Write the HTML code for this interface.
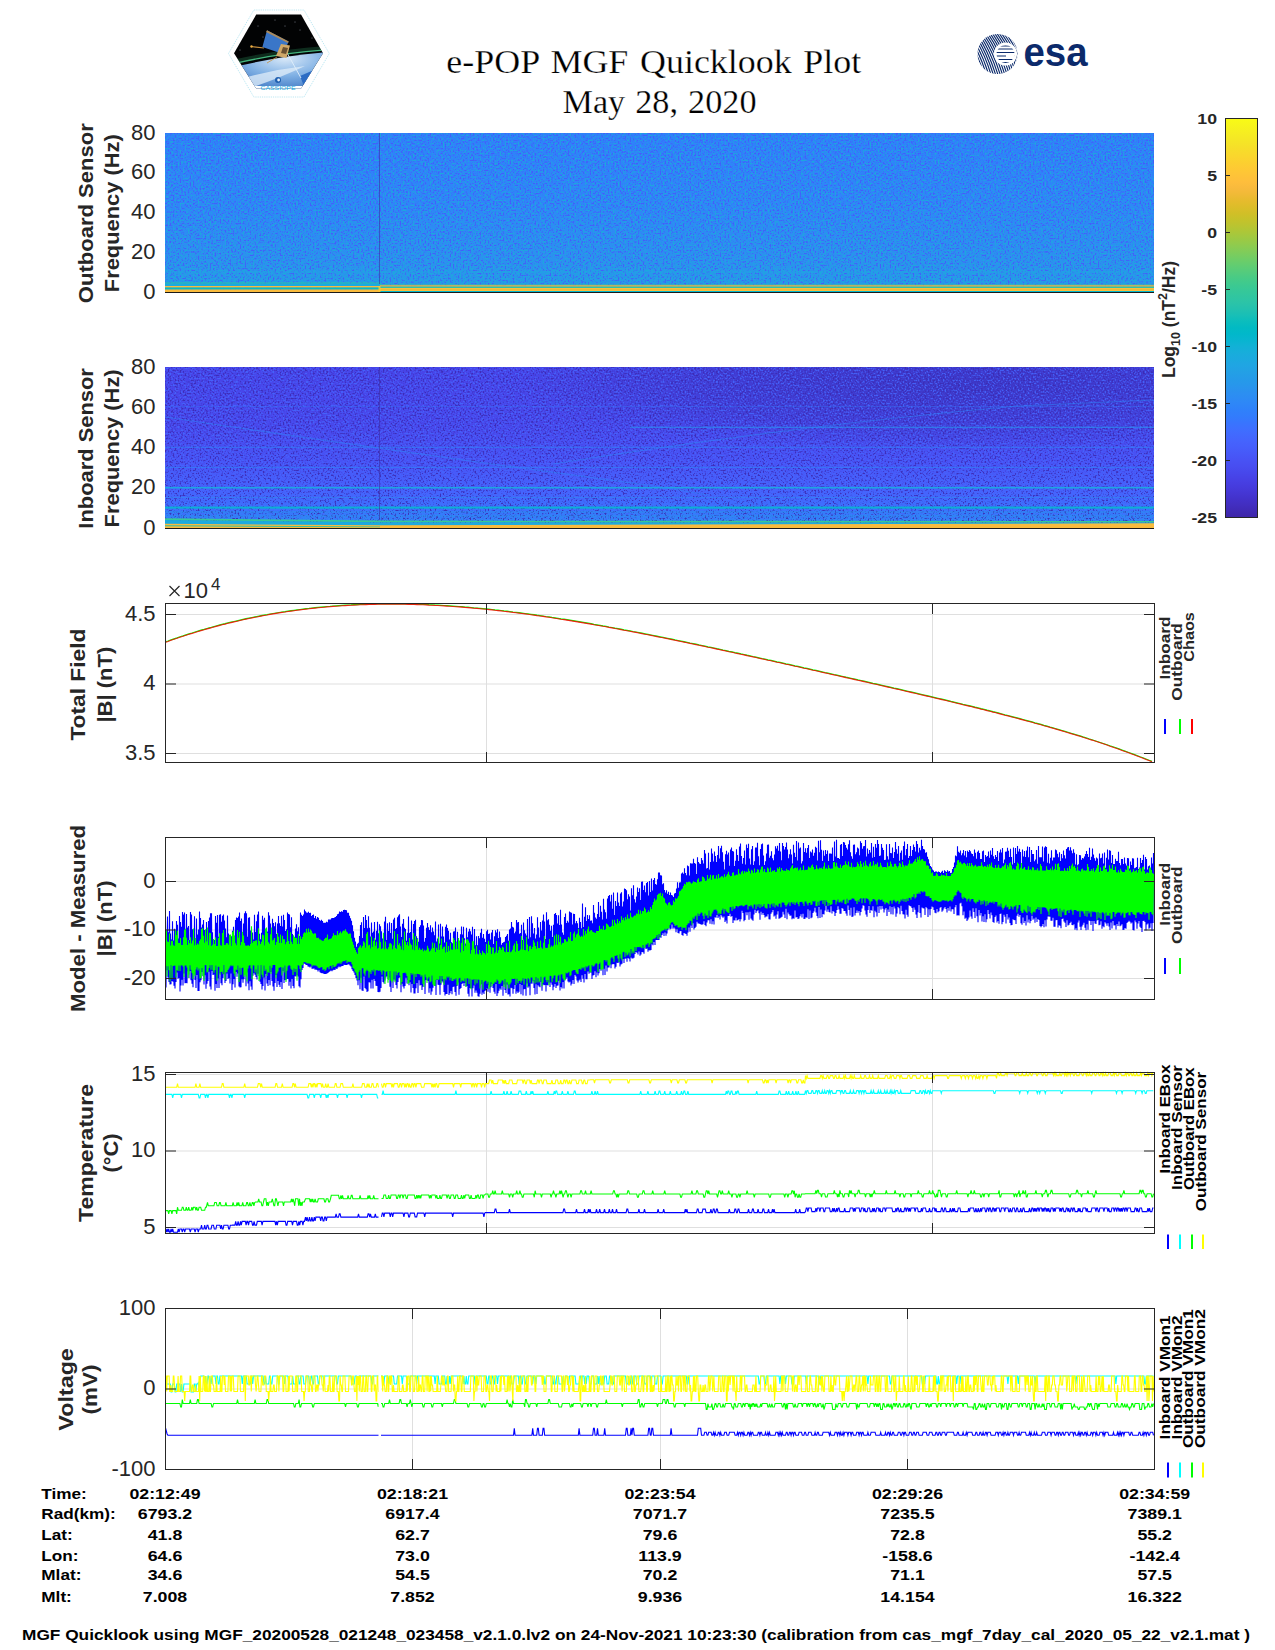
<!DOCTYPE html><html><head><meta charset="utf-8"><style>html,body{margin:0;padding:0;background:#fff;overflow:hidden;width:1275px;height:1650px;}svg{display:block}</style></head><body>
<svg width="1275" height="1650" viewBox="0 0 1275 1650">
<rect x="0" y="0" width="1275" height="1650" fill="#ffffff"/>
<defs>
<linearGradient id="cbar" x1="0" y1="0" x2="0" y2="1"><stop offset="0.0000" stop-color="#f9fb15"/><stop offset="0.0159" stop-color="#f7f51b"/><stop offset="0.0317" stop-color="#f6ef20"/><stop offset="0.0476" stop-color="#f5e924"/><stop offset="0.0635" stop-color="#f5e327"/><stop offset="0.0794" stop-color="#f7dc2a"/><stop offset="0.0952" stop-color="#fad62d"/><stop offset="0.1111" stop-color="#fccf30"/><stop offset="0.1270" stop-color="#fec934"/><stop offset="0.1429" stop-color="#fec338"/><stop offset="0.1587" stop-color="#febe3c"/><stop offset="0.1746" stop-color="#f8ba3d"/><stop offset="0.1905" stop-color="#f0ba36"/><stop offset="0.2063" stop-color="#e6bb2d"/><stop offset="0.2222" stop-color="#dcbd29"/><stop offset="0.2381" stop-color="#d1bf27"/><stop offset="0.2540" stop-color="#c5c22a"/><stop offset="0.2698" stop-color="#b9c431"/><stop offset="0.2857" stop-color="#abc739"/><stop offset="0.3016" stop-color="#9dc943"/><stop offset="0.3175" stop-color="#8fcb4e"/><stop offset="0.3333" stop-color="#81cc59"/><stop offset="0.3492" stop-color="#72cd64"/><stop offset="0.3651" stop-color="#64cd6f"/><stop offset="0.3810" stop-color="#57cc7a"/><stop offset="0.3968" stop-color="#4acb84"/><stop offset="0.4127" stop-color="#3fca8e"/><stop offset="0.4286" stop-color="#37c897"/><stop offset="0.4444" stop-color="#31c69f"/><stop offset="0.4603" stop-color="#2cc4a7"/><stop offset="0.4762" stop-color="#24c1ae"/><stop offset="0.4921" stop-color="#19bfb6"/><stop offset="0.5079" stop-color="#0bbdbd"/><stop offset="0.5238" stop-color="#02bac3"/><stop offset="0.5397" stop-color="#01b8ca"/><stop offset="0.5556" stop-color="#08b5d0"/><stop offset="0.5714" stop-color="#12b1d6"/><stop offset="0.5873" stop-color="#18addb"/><stop offset="0.6032" stop-color="#1ca9df"/><stop offset="0.6190" stop-color="#20a5e3"/><stop offset="0.6349" stop-color="#23a0e5"/><stop offset="0.6508" stop-color="#259be8"/><stop offset="0.6667" stop-color="#2797eb"/><stop offset="0.6825" stop-color="#2b91ef"/><stop offset="0.6984" stop-color="#2d8cf3"/><stop offset="0.7143" stop-color="#2e87f7"/><stop offset="0.7302" stop-color="#2f81fa"/><stop offset="0.7460" stop-color="#327cfc"/><stop offset="0.7619" stop-color="#3875fe"/><stop offset="0.7778" stop-color="#3e6fff"/><stop offset="0.7937" stop-color="#4269fe"/><stop offset="0.8095" stop-color="#4563fd"/><stop offset="0.8254" stop-color="#465efb"/><stop offset="0.8413" stop-color="#4758f8"/><stop offset="0.8571" stop-color="#4852f4"/><stop offset="0.8730" stop-color="#484df0"/><stop offset="0.8889" stop-color="#4747eb"/><stop offset="0.9048" stop-color="#4741e5"/><stop offset="0.9206" stop-color="#463cde"/><stop offset="0.9365" stop-color="#4537d5"/><stop offset="0.9524" stop-color="#4332cb"/><stop offset="0.9683" stop-color="#422ec0"/><stop offset="0.9841" stop-color="#402ab4"/><stop offset="1.0000" stop-color="#3e26a8"/></linearGradient>
</defs>
<text x="653.80" y="73.20" font-size="33.5" font-weight="normal" text-anchor="middle" fill="#000" font-family='"Liberation Serif", serif' textLength="415" lengthAdjust="spacingAndGlyphs" word-spacing="2.5" stroke="#fff" stroke-width="0.25">e-POP MGF Quicklook Plot</text>
<text x="659.50" y="112.50" font-size="33.5" font-weight="normal" text-anchor="middle" fill="#000" font-family='"Liberation Serif", serif' textLength="194" lengthAdjust="spacingAndGlyphs" word-spacing="1.5" stroke="#fff" stroke-width="0.25">May 28, 2020</text>
<polygon points="228.5,53.5 253.8,10 304,10 329.3,53.5 304,97 253.8,97" fill="#fff" stroke="#b4e4f0" stroke-width="0.9" stroke-dasharray="1.2,1"/>
<clipPath id="hexclip"><polygon points="234,53.3 256.2,14.6 301,14.6 323,53.3 301,88.5 256.2,88.5"/></clipPath>
<radialGradient id="earthg" cx="0.55" cy="0.15" r="0.9"><stop offset="0" stop-color="#d8e8f8"/><stop offset="0.45" stop-color="#7fb0e4"/><stop offset="1" stop-color="#2a64b8"/></radialGradient>
<linearGradient id="aurg" x1="0" y1="0" x2="0" y2="1"><stop offset="0" stop-color="#0a1a12" stop-opacity="0"/><stop offset="0.6" stop-color="#2fa070"/><stop offset="1" stop-color="#7fd0a0"/></linearGradient>
<g clip-path="url(#hexclip)">
<rect x="230" y="10" width="100" height="85" fill="#020304"/>
<circle cx="258" cy="26" r="0.45" fill="#dfe8ff"/>
<circle cx="275" cy="20" r="0.45" fill="#dfe8ff"/>
<circle cx="295" cy="22" r="0.45" fill="#dfe8ff"/>
<circle cx="312" cy="38" r="0.45" fill="#dfe8ff"/>
<circle cx="240" cy="50" r="0.45" fill="#dfe8ff"/>
<circle cx="300" cy="30" r="0.45" fill="#dfe8ff"/>
<circle cx="263" cy="37" r="0.45" fill="#dfe8ff"/>
<circle cx="285" cy="26" r="0.45" fill="#dfe8ff"/>
<path d="M232,62 Q280,51 326,48" stroke="#2a8a5a" stroke-width="4" fill="none" opacity="0.3"/>
<path d="M232,64 Q280,53 326,50" stroke="#4fd090" stroke-width="1.3" fill="none" opacity="0.85"/>
<path d="M230,68 Q278,56 330,52 L330,95 L230,95 Z" fill="url(#earthg)"/>
<path d="M236,80 Q270,70 305,66 Q280,78 250,88 Z" fill="#dbeaf8" opacity="0.8"/>
<path d="M300,76 L314,70 L305,89 Z" fill="#2c6cc4"/>
<path d="M240,86 L320,86 L320,95 L240,95 Z" fill="#ffffff"/>
</g>
<line x1="251" y1="46.5" x2="264" y2="48" stroke="#c89040" stroke-width="1.1"/>
<circle cx="251.5" cy="46.5" r="1.2" fill="#f0b040"/>
<line x1="286" y1="51" x2="301" y2="78" stroke="#e0eefa" stroke-width="0.9"/>
<polygon points="267,30.2 288.7,41.4 283,54 262.4,47" fill="#3a76c8"/>
<polygon points="267,30.2 288.7,41.4 288,43 266,32" fill="#c89040" opacity="0.8"/>
<polygon points="281,44 290,45.5 286.5,58 276,56" fill="#d0a868"/>
<polygon points="283,47 288,48 286,54 281,53" fill="#6a5030"/>
<line x1="277" y1="57" x2="267" y2="63" stroke="#c89040" stroke-width="0.8"/>
<circle cx="278" cy="80" r="3" fill="#1f5fb0"/>
<circle cx="278.6" cy="80" r="1.4" fill="#e8f2fc"/>
<text x="278" y="89.5" font-size="4.6" fill="#20a8e0" text-anchor="middle" font-family='"Liberation Sans",sans-serif' textLength="35" lengthAdjust="spacingAndGlyphs">CASSIOPE</text>
<clipPath id="esaclip"><circle cx="997.5" cy="54" r="20"/></clipPath>
<clipPath id="esain"><circle cx="1005.5" cy="54" r="9"/></clipPath>
<g clip-path="url(#esaclip)">
<path d="M949.3,31 Q963.3,50 971.3,78" stroke="#0b2a6b" stroke-width="1.15" fill="none"/>
<path d="M951.6,31 Q965.6,50 973.6,78" stroke="#0b2a6b" stroke-width="1.15" fill="none"/>
<path d="M953.9,31 Q967.9,50 975.9,78" stroke="#0b2a6b" stroke-width="1.15" fill="none"/>
<path d="M956.2,31 Q970.2,50 978.2,78" stroke="#0b2a6b" stroke-width="1.15" fill="none"/>
<path d="M958.5,31 Q972.5,50 980.5,78" stroke="#0b2a6b" stroke-width="1.15" fill="none"/>
<path d="M960.8,31 Q974.8,50 982.8,78" stroke="#0b2a6b" stroke-width="1.15" fill="none"/>
<path d="M963.1,31 Q977.1,50 985.1,78" stroke="#0b2a6b" stroke-width="1.15" fill="none"/>
<path d="M965.4,31 Q979.4,50 987.4,78" stroke="#0b2a6b" stroke-width="1.15" fill="none"/>
<path d="M967.7,31 Q981.7,50 989.7,78" stroke="#0b2a6b" stroke-width="1.15" fill="none"/>
<path d="M970.0,31 Q984.0,50 992.0,78" stroke="#0b2a6b" stroke-width="1.15" fill="none"/>
<path d="M972.3,31 Q986.3,50 994.3,78" stroke="#0b2a6b" stroke-width="1.15" fill="none"/>
<path d="M974.6,31 Q988.6,50 996.6,78" stroke="#0b2a6b" stroke-width="1.15" fill="none"/>
<path d="M976.9,31 Q990.9,50 998.9,78" stroke="#0b2a6b" stroke-width="1.15" fill="none"/>
<path d="M979.2,31 Q993.2,50 1001.2,78" stroke="#0b2a6b" stroke-width="1.15" fill="none"/>
<path d="M981.5,31 Q995.5,50 1003.5,78" stroke="#0b2a6b" stroke-width="1.15" fill="none"/>
<path d="M983.8,31 Q997.8,50 1005.8,78" stroke="#0b2a6b" stroke-width="1.15" fill="none"/>
<path d="M986.1,31 Q1000.1,50 1008.1,78" stroke="#0b2a6b" stroke-width="1.15" fill="none"/>
<path d="M988.4,31 Q1002.4,50 1010.4,78" stroke="#0b2a6b" stroke-width="1.15" fill="none"/>
<path d="M990.7,31 Q1004.7,50 1012.7,78" stroke="#0b2a6b" stroke-width="1.15" fill="none"/>
<path d="M993.0,31 Q1007.0,50 1015.0,78" stroke="#0b2a6b" stroke-width="1.15" fill="none"/>
<path d="M995.3,31 Q1009.3,50 1017.3,78" stroke="#0b2a6b" stroke-width="1.15" fill="none"/>
<path d="M997.6,31 Q1011.6,50 1019.6,78" stroke="#0b2a6b" stroke-width="1.15" fill="none"/>
<path d="M999.9,31 Q1013.9,50 1021.9,78" stroke="#0b2a6b" stroke-width="1.15" fill="none"/>
<path d="M1002.2,31 Q1016.2,50 1024.2,78" stroke="#0b2a6b" stroke-width="1.15" fill="none"/>
<path d="M1004.5,31 Q1018.5,50 1026.5,78" stroke="#0b2a6b" stroke-width="1.15" fill="none"/>
<path d="M1006.8,31 Q1020.8,50 1028.8,78" stroke="#0b2a6b" stroke-width="1.15" fill="none"/>
<path d="M1009.0999999999999,31 Q1023.0999999999999,50 1031.1,78" stroke="#0b2a6b" stroke-width="1.15" fill="none"/>
<path d="M1011.4000000000001,31 Q1025.4,50 1033.4,78" stroke="#0b2a6b" stroke-width="1.15" fill="none"/>
<path d="M1013.7,31 Q1027.7,50 1035.7,78" stroke="#0b2a6b" stroke-width="1.15" fill="none"/>
<path d="M1016.0,31 Q1030.0,50 1038.0,78" stroke="#0b2a6b" stroke-width="1.15" fill="none"/>
<circle cx="1005.5" cy="54" r="11.5" fill="#fff"/>
</g>
<g clip-path="url(#esain)">
<line x1="994" y1="46" x2="1018" y2="46" stroke="#0b2a6b" stroke-width="1.1"/>
<line x1="994" y1="49" x2="1018" y2="49" stroke="#0b2a6b" stroke-width="1.1"/>
<line x1="994" y1="52.5" x2="1018" y2="52.5" stroke="#0b2a6b" stroke-width="1.1"/>
<line x1="994" y1="56" x2="1018" y2="56" stroke="#0b2a6b" stroke-width="1.1"/>
<line x1="994" y1="59.5" x2="1018" y2="59.5" stroke="#0b2a6b" stroke-width="1.1"/>
<line x1="994" y1="62.5" x2="1018" y2="62.5" stroke="#0b2a6b" stroke-width="1.1"/>
<rect x="1006" y="53.5" width="12" height="3.5" fill="#fff"/>
</g>
<text x="1055.5" y="65.6" font-size="40" font-weight="bold" fill="#0b2a6b" text-anchor="middle" font-family='"Liberation Sans",sans-serif' textLength="64" lengthAdjust="spacingAndGlyphs">esa</text>
<rect x="1225.5" y="118.5" width="32.0" height="399.0" fill="url(#cbar)" stroke="#262626" stroke-width="1"/>
<text x="0" y="0" font-size="15" font-weight="bold" text-anchor="end" fill="#262626" font-family='"Liberation Sans", sans-serif' transform="translate(1217.00,123.90) scale(1.18,1)" >10</text>
<line x1="1225.5" y1="175.50" x2="1230.0" y2="175.50" stroke="#262626" stroke-width="1"/>
<text x="0" y="0" font-size="15" font-weight="bold" text-anchor="end" fill="#262626" font-family='"Liberation Sans", sans-serif' transform="translate(1217.00,180.90) scale(1.18,1)" >5</text>
<line x1="1225.5" y1="232.50" x2="1230.0" y2="232.50" stroke="#262626" stroke-width="1"/>
<text x="0" y="0" font-size="15" font-weight="bold" text-anchor="end" fill="#262626" font-family='"Liberation Sans", sans-serif' transform="translate(1217.00,237.90) scale(1.18,1)" >0</text>
<line x1="1225.5" y1="289.50" x2="1230.0" y2="289.50" stroke="#262626" stroke-width="1"/>
<text x="0" y="0" font-size="15" font-weight="bold" text-anchor="end" fill="#262626" font-family='"Liberation Sans", sans-serif' transform="translate(1217.00,294.90) scale(1.18,1)" >-5</text>
<line x1="1225.5" y1="346.50" x2="1230.0" y2="346.50" stroke="#262626" stroke-width="1"/>
<text x="0" y="0" font-size="15" font-weight="bold" text-anchor="end" fill="#262626" font-family='"Liberation Sans", sans-serif' transform="translate(1217.00,351.90) scale(1.18,1)" >-10</text>
<line x1="1225.5" y1="403.50" x2="1230.0" y2="403.50" stroke="#262626" stroke-width="1"/>
<text x="0" y="0" font-size="15" font-weight="bold" text-anchor="end" fill="#262626" font-family='"Liberation Sans", sans-serif' transform="translate(1217.00,408.90) scale(1.18,1)" >-15</text>
<line x1="1225.5" y1="460.50" x2="1230.0" y2="460.50" stroke="#262626" stroke-width="1"/>
<text x="0" y="0" font-size="15" font-weight="bold" text-anchor="end" fill="#262626" font-family='"Liberation Sans", sans-serif' transform="translate(1217.00,465.90) scale(1.18,1)" >-20</text>
<text x="0" y="0" font-size="15" font-weight="bold" text-anchor="end" fill="#262626" font-family='"Liberation Sans", sans-serif' transform="translate(1217.00,522.90) scale(1.18,1)" >-25</text>
<text transform="translate(1175.4,319.5) rotate(-90)" font-size="17.5" font-weight="bold" text-anchor="middle" fill="#262626" font-family='"Liberation Sans", sans-serif'>Log<tspan font-size="12.5" dy="5">10</tspan><tspan dy="-5"> (nT</tspan><tspan font-size="12.5" dy="-8">2</tspan><tspan dy="8">/Hz)</tspan></text>
<filter id="nd" x="0" y="0" width="100%" height="100%" color-interpolation-filters="sRGB"><feTurbulence type="fractalNoise" baseFrequency="0.6" numOctaves="1" seed="4"/><feColorMatrix type="matrix" values="0 0 0 0 0.27  0 0 0 0 0.36  0 0 0 0 0.98  6 0 0 0 -3.2"/></filter>
<filter id="nl" x="0" y="0" width="100%" height="100%" color-interpolation-filters="sRGB"><feTurbulence type="fractalNoise" baseFrequency="0.6" numOctaves="1" seed="4"/><feColorMatrix type="matrix" values="0 0 0 0 0.11  0 0 0 0 0.67  0 0 0 0 0.86  -6 0 0 0 2.8"/></filter>
<filter id="nd2" x="0" y="0" width="100%" height="100%" color-interpolation-filters="sRGB"><feTurbulence type="fractalNoise" baseFrequency="0.6" numOctaves="1" seed="7"/><feColorMatrix type="matrix" values="0 0 0 0 0.23  0 0 0 0 0.17  0 0 0 0 0.70  6 0 0 0 -3.2"/></filter>
<filter id="nl2" x="0" y="0" width="100%" height="100%" color-interpolation-filters="sRGB"><feTurbulence type="fractalNoise" baseFrequency="0.6" numOctaves="1" seed="7"/><feColorMatrix type="matrix" values="0 0 0 0 0.27  0 0 0 0 0.40  0 0 0 0 0.99  -6 0 0 0 2.8"/></filter>
<clipPath id="clip1"><rect x="165" y="133" width="989" height="159"/></clipPath>
<g clip-path="url(#clip1)">
<linearGradient id="g1" x1="0" y1="0" x2="0" y2="1"><stop offset="0" stop-color="#2f81fa"/><stop offset="0.45" stop-color="#2e87f7"/><stop offset="0.8" stop-color="#2b91ef"/><stop offset="0.92" stop-color="#2699e9"/><stop offset="1" stop-color="#239fe5"/></linearGradient>
<rect x="165" y="133" width="989" height="159" fill="url(#g1)"/>
<rect x="165" y="133" width="989" height="159" filter="url(#nd)" opacity="0.9"/>
<rect x="165" y="133" width="989" height="159" filter="url(#nl)" opacity="0.9"/>
<rect x="165" y="271" width="989" height="2" fill="#1fa6e2" opacity="0.45"/>
<rect x="165" y="282.5" width="215" height="1.1999999999999886" fill="#2dc4a6" opacity="0.9"/>
<rect x="165" y="283.7" width="215" height="2.3000000000000114" fill="#1caadf" opacity="1"/>
<rect x="165" y="286" width="215" height="1.6000000000000227" fill="#f9bb3d" opacity="1"/>
<rect x="165" y="287.6" width="215" height="1.8999999999999773" fill="#07bcbf" opacity="1"/>
<rect x="165" y="289.5" width="215" height="2.5" fill="#f9bb3d" opacity="1"/>
<rect x="380" y="284.6" width="774" height="0.6999999999999886" fill="#5fcd73" opacity="0.8"/>
<rect x="380" y="285.3" width="774" height="1.3999999999999773" fill="#f2ba38" opacity="1"/>
<rect x="380" y="286.7" width="774" height="1.3000000000000114" fill="#2dc4a6" opacity="1"/>
<rect x="380" y="288" width="774" height="3" fill="#febe3c" opacity="1"/>
<rect x="380" y="289.2" width="774" height="0.6000000000000227" fill="#c3c22b" opacity="0.5"/>
<rect x="380" y="291" width="774" height="1" fill="#02b7cb" opacity="1"/>
<rect x="379" y="133" width="1" height="151" fill="#3b2a9a" opacity="0.55"/>
</g>
<rect x="165" y="292" width="989" height="1" fill="#1a1a1a"/>
<rect x="378.5" y="286" width="2" height="6" fill="#fdce31" opacity="0.8"/>
<text x="155.50" y="139.60" font-size="22" font-weight="normal" text-anchor="end" fill="#262626" font-family='"Liberation Sans", sans-serif' >80</text>
<text x="155.50" y="179.35" font-size="22" font-weight="normal" text-anchor="end" fill="#262626" font-family='"Liberation Sans", sans-serif' >60</text>
<text x="155.50" y="219.10" font-size="22" font-weight="normal" text-anchor="end" fill="#262626" font-family='"Liberation Sans", sans-serif' >40</text>
<text x="155.50" y="258.85" font-size="22" font-weight="normal" text-anchor="end" fill="#262626" font-family='"Liberation Sans", sans-serif' >20</text>
<text x="155.50" y="298.60" font-size="22" font-weight="normal" text-anchor="end" fill="#262626" font-family='"Liberation Sans", sans-serif' >0</text>
<text transform="translate(92.50,213.20) rotate(-90)" font-size="21" font-weight="bold" text-anchor="middle" fill="#262626" font-family='"Liberation Sans", sans-serif' textLength="180" lengthAdjust="spacingAndGlyphs">Outboard Sensor</text>
<text transform="translate(119.30,213.20) rotate(-90)" font-size="21" font-weight="bold" text-anchor="middle" fill="#262626" font-family='"Liberation Sans", sans-serif' textLength="158" lengthAdjust="spacingAndGlyphs">Frequency (Hz)</text>
<clipPath id="clip2"><rect x="165" y="367" width="989" height="161"/></clipPath>
<g clip-path="url(#clip2)">
<linearGradient id="g2" x1="0" y1="0" x2="0" y2="1"><stop offset="0" stop-color="#4745e9"/><stop offset="0.35" stop-color="#4848ec"/><stop offset="0.6" stop-color="#4854f6"/><stop offset="0.78" stop-color="#4564fd"/><stop offset="0.88" stop-color="#3a74fe"/><stop offset="0.95" stop-color="#2e87f7"/><stop offset="1" stop-color="#2699e9"/></linearGradient>
<rect x="165" y="367" width="989" height="161" fill="url(#g2)"/>
<radialGradient id="hg2" gradientUnits="userSpaceOnUse" cx="960" cy="385" r="300" gradientTransform="translate(960 385) scale(1.5 0.22) translate(-960 -385)"><stop offset="0" stop-color="#180850" stop-opacity="0.22"/><stop offset="0.6" stop-color="#180850" stop-opacity="0.12"/><stop offset="1" stop-color="#180850" stop-opacity="0"/></radialGradient><rect x="165" y="367" width="989" height="120" fill="url(#hg2)"/>
<rect x="165" y="367" width="989" height="161" filter="url(#nd2)" opacity="0.9"/>
<rect x="165" y="367" width="989" height="161" filter="url(#nl2)" opacity="0.9"/>
<rect x="165" y="406.00" width="989" height="1" fill="#317dfc" opacity="0.35"/>
<rect x="630" y="426.70" width="524" height="1.2" fill="#2b90ef" opacity="0.75"/>
<rect x="165" y="446.75" width="989" height="1.1" fill="#2e87f7" opacity="0.6"/>
<rect x="165" y="466.85" width="989" height="1.1" fill="#2e87f7" opacity="0.6"/>
<rect x="165" y="486.90" width="989" height="1.6" fill="#1caadf" opacity="0.95"/>
<rect x="165" y="497.00" width="989" height="1" fill="#2b90ef" opacity="0.5"/>
<rect x="165" y="506.60" width="989" height="2" fill="#09b4d1" opacity="0.95"/>
<rect x="165" y="511.50" width="989" height="1" fill="#2699e9" opacity="0.6"/>
<rect x="165" y="515.50" width="989" height="1" fill="#2699e9" opacity="0.6"/>
<path d="M165,417 Q400,452 661,487 L708,495" stroke="#2e87f7" stroke-width="1.1" fill="none" opacity="0.5"/>
<path d="M553,464 Q800,425 1018,406 L1154,400" stroke="#2e87f7" stroke-width="1.1" fill="none" opacity="0.5"/>
<polygon points="165,520 380,522.5 1154,523 1154,528 165,528" fill="#1caadf"/>
<polygon points="165,518.3 380,520.6 1154,521 1154,522.6 380,522.3 165,520" fill="#37c897"/>
<polygon points="165,523.8 380,525.2 1154,523.3 1154,528 165,528" fill="#f9bb3d"/>
<polygon points="165,525.3 380,526.5 380,527.3 165,526.3" fill="#1dc0b3" opacity="0.9"/>
<rect x="379" y="367" width="1" height="153" fill="#3b2a9a" opacity="0.55"/>
</g>
<rect x="165" y="528" width="989" height="1" fill="#1a1a1a"/>
<text x="155.50" y="373.60" font-size="22" font-weight="normal" text-anchor="end" fill="#262626" font-family='"Liberation Sans", sans-serif' >80</text>
<text x="155.50" y="413.85" font-size="22" font-weight="normal" text-anchor="end" fill="#262626" font-family='"Liberation Sans", sans-serif' >60</text>
<text x="155.50" y="454.10" font-size="22" font-weight="normal" text-anchor="end" fill="#262626" font-family='"Liberation Sans", sans-serif' >40</text>
<text x="155.50" y="494.35" font-size="22" font-weight="normal" text-anchor="end" fill="#262626" font-family='"Liberation Sans", sans-serif' >20</text>
<text x="155.50" y="534.60" font-size="22" font-weight="normal" text-anchor="end" fill="#262626" font-family='"Liberation Sans", sans-serif' >0</text>
<text transform="translate(92.50,448.40) rotate(-90)" font-size="21" font-weight="bold" text-anchor="middle" fill="#262626" font-family='"Liberation Sans", sans-serif' textLength="160.5" lengthAdjust="spacingAndGlyphs">Inboard Sensor</text>
<text transform="translate(119.30,448.40) rotate(-90)" font-size="21" font-weight="bold" text-anchor="middle" fill="#262626" font-family='"Liberation Sans", sans-serif' textLength="158" lengthAdjust="spacingAndGlyphs">Frequency (Hz)</text>
<rect x="166" y="614.00" width="988" height="1" fill="#dfdfdf"/>
<rect x="166" y="683.50" width="988" height="1" fill="#dfdfdf"/>
<rect x="166" y="753.00" width="988" height="1" fill="#dfdfdf"/>
<rect x="486.00" y="604" width="1" height="158" fill="#dfdfdf"/>
<rect x="932.00" y="604" width="1" height="158" fill="#dfdfdf"/>
<clipPath id="cliptf"><rect x="166" y="604" width="988" height="158"/></clipPath><g clip-path="url(#cliptf)">
<path d="M165.0,642.0 L168.0,641.0 L171.0,639.9 L174.0,638.9 L177.0,637.9 L180.0,636.8 L183.0,635.9 L186.0,634.9 L189.0,633.9 L192.0,633.0 L195.0,632.0 L198.0,631.1 L201.0,630.2 L204.0,629.4 L207.0,628.5 L210.0,627.7 L213.0,626.8 L216.0,626.0 L219.0,625.2 L222.0,624.4 L225.0,623.7 L228.0,622.9 L231.0,622.2 L234.0,621.5 L237.0,620.8 L240.0,620.1 L243.0,619.4 L246.0,618.7 L249.0,618.1 L252.0,617.5 L255.0,616.9 L258.0,616.3 L261.0,615.7 L264.0,615.1 L267.0,614.6 L270.0,614.0 L273.0,613.5 L276.0,613.0 L279.0,612.5 L282.0,612.0 L285.0,611.6 L288.0,611.1 L291.0,610.7 L294.0,610.3 L297.0,609.9 L300.0,609.5 L303.0,609.1 L306.0,608.7 L309.0,608.4 L312.0,608.0 L315.0,607.7 L318.0,607.4 L321.0,607.1 L324.0,606.8 L327.0,606.5 L330.0,606.3 L333.0,606.0 L336.0,605.8 L339.0,605.6 L342.0,605.4 L345.0,605.2 L348.0,605.0 L351.0,604.9 L354.0,604.7 L357.0,604.6 L360.0,604.4 L363.0,604.3 L366.0,604.2 L369.0,604.1 L372.0,604.1 L375.0,604.0 L378.0,603.9 L381.0,603.9 L384.0,603.8 L387.0,603.8 L390.0,603.8 L393.0,603.8 L396.0,603.8 L399.0,603.9 L402.0,603.9 L405.0,603.9 L408.0,604.0 L411.0,604.1 L414.0,604.1 L417.0,604.2 L420.0,604.3 L423.0,604.4 L426.0,604.5 L429.0,604.7 L432.0,604.8 L435.0,605.0 L438.0,605.1 L441.0,605.3 L444.0,605.5 L447.0,605.7 L450.0,605.9 L453.0,606.1 L456.0,606.3 L459.0,606.5 L462.0,606.7 L465.0,607.0 L468.0,607.2 L471.0,607.5 L474.0,607.8 L477.0,608.0 L480.0,608.3 L483.0,608.6 L486.0,608.9 L489.0,609.2 L492.0,609.5 L495.0,609.9 L498.0,610.2 L501.0,610.5 L504.0,610.9 L507.0,611.2 L510.0,611.6 L513.0,612.0 L516.0,612.3 L519.0,612.7 L522.0,613.1 L525.0,613.5 L528.0,613.9 L531.0,614.3 L534.0,614.7 L537.0,615.2 L540.0,615.6 L543.0,616.0 L546.0,616.5 L549.0,616.9 L552.0,617.4 L555.0,617.8 L558.0,618.3 L561.0,618.8 L564.0,619.2 L567.0,619.7 L570.0,620.2 L573.0,620.7 L576.0,621.2 L579.0,621.7 L582.0,622.2 L585.0,622.7 L588.0,623.2 L591.0,623.7 L594.0,624.3 L597.0,624.8 L600.0,625.3 L603.0,625.9 L606.0,626.4 L609.0,627.0 L612.0,627.5 L615.0,628.1 L618.0,628.6 L621.0,629.2 L624.0,629.8 L627.0,630.3 L630.0,630.9 L633.0,631.5 L636.0,632.0 L639.0,632.6 L642.0,633.2 L645.0,633.8 L648.0,634.4 L651.0,635.0 L654.0,635.6 L657.0,636.2 L660.0,636.8 L663.0,637.4 L666.0,638.0 L669.0,638.6 L672.0,639.2 L675.0,639.9 L678.0,640.5 L681.0,641.1 L684.0,641.7 L687.0,642.3 L690.0,643.0 L693.0,643.6 L696.0,644.2 L699.0,644.9 L702.0,645.5 L705.0,646.1 L708.0,646.8 L711.0,647.4 L714.0,648.0 L717.0,648.7 L720.0,649.3 L723.0,650.0 L726.0,650.6 L729.0,651.3 L732.0,651.9 L735.0,652.6 L738.0,653.2 L741.0,653.9 L744.0,654.5 L747.0,655.2 L750.0,655.8 L753.0,656.5 L756.0,657.1 L759.0,657.8 L762.0,658.5 L765.0,659.1 L768.0,659.8 L771.0,660.4 L774.0,661.1 L777.0,661.8 L780.0,662.4 L783.0,663.1 L786.0,663.8 L789.0,664.4 L792.0,665.1 L795.0,665.8 L798.0,666.4 L801.0,667.1 L804.0,667.8 L807.0,668.4 L810.0,669.1 L813.0,669.8 L816.0,670.4 L819.0,671.1 L822.0,671.8 L825.0,672.5 L828.0,673.1 L831.0,673.8 L834.0,674.5 L837.0,675.1 L840.0,675.8 L843.0,676.5 L846.0,677.2 L849.0,677.8 L852.0,678.5 L855.0,679.2 L858.0,679.9 L861.0,680.5 L864.0,681.2 L867.0,681.9 L870.0,682.6 L873.0,683.3 L876.0,683.9 L879.0,684.6 L882.0,685.3 L885.0,686.0 L888.0,686.7 L891.0,687.4 L894.0,688.1 L897.0,688.7 L900.0,689.4 L903.0,690.1 L906.0,690.8 L909.0,691.5 L912.0,692.2 L915.0,692.9 L918.0,693.6 L921.0,694.3 L924.0,695.0 L927.0,695.7 L930.0,696.4 L933.0,697.1 L936.0,697.8 L939.0,698.5 L942.0,699.2 L945.0,699.9 L948.0,700.6 L951.0,701.4 L954.0,702.1 L957.0,702.8 L960.0,703.5 L963.0,704.3 L966.0,705.0 L969.0,705.7 L972.0,706.4 L975.0,707.2 L978.0,707.9 L981.0,708.7 L984.0,709.4 L987.0,710.2 L990.0,710.9 L993.0,711.7 L996.0,712.4 L999.0,713.2 L1002.0,714.0 L1005.0,714.8 L1008.0,715.5 L1011.0,716.3 L1014.0,717.1 L1017.0,717.9 L1020.0,718.7 L1023.0,719.5 L1026.0,720.3 L1029.0,721.1 L1032.0,721.9 L1035.0,722.8 L1038.0,723.6 L1041.0,724.4 L1044.0,725.3 L1047.0,726.1 L1050.0,727.0 L1053.0,727.8 L1056.0,728.7 L1059.0,729.6 L1062.0,730.5 L1065.0,731.4 L1068.0,732.3 L1071.0,733.2 L1074.0,734.1 L1077.0,735.0 L1080.0,735.9 L1083.0,736.9 L1086.0,737.8 L1089.0,738.8 L1092.0,739.7 L1095.0,740.7 L1098.0,741.7 L1101.0,742.7 L1104.0,743.7 L1107.0,744.7 L1110.0,745.8 L1113.0,746.8 L1116.0,747.8 L1119.0,748.9 L1122.0,750.0 L1125.0,751.1 L1128.0,752.2 L1131.0,753.3 L1134.0,754.4 L1137.0,755.5 L1140.0,756.7 L1143.0,757.8 L1146.0,759.0 L1149.0,760.2 L1152.0,761.4" stroke="#00ff00" stroke-width="1.2" fill="none"/>
<path d="M165.0,642.4 L168.0,641.4 L171.0,640.3 L174.0,639.3 L177.0,638.3 L180.0,637.2 L183.0,636.3 L186.0,635.3 L189.0,634.3 L192.0,633.4 L195.0,632.4 L198.0,631.5 L201.0,630.6 L204.0,629.8 L207.0,628.9 L210.0,628.1 L213.0,627.2 L216.0,626.4 L219.0,625.6 L222.0,624.8 L225.0,624.1 L228.0,623.3 L231.0,622.6 L234.0,621.9 L237.0,621.2 L240.0,620.5 L243.0,619.8 L246.0,619.1 L249.0,618.5 L252.0,617.9 L255.0,617.3 L258.0,616.7 L261.0,616.1 L264.0,615.5 L267.0,615.0 L270.0,614.4 L273.0,613.9 L276.0,613.4 L279.0,612.9 L282.0,612.4 L285.0,612.0 L288.0,611.5 L291.0,611.1 L294.0,610.7 L297.0,610.3 L300.0,609.9 L303.0,609.5 L306.0,609.1 L309.0,608.8 L312.0,608.4 L315.0,608.1 L318.0,607.8 L321.0,607.5 L324.0,607.2 L327.0,606.9 L330.0,606.7 L333.0,606.4 L336.0,606.2 L339.0,606.0 L342.0,605.8 L345.0,605.6 L348.0,605.4 L351.0,605.3 L354.0,605.1 L357.0,605.0 L360.0,604.8 L363.0,604.7 L366.0,604.6 L369.0,604.5 L372.0,604.5 L375.0,604.4 L378.0,604.3 L381.0,604.3 L384.0,604.2 L387.0,604.2 L390.0,604.2 L393.0,604.2 L396.0,604.2 L399.0,604.3 L402.0,604.3 L405.0,604.3 L408.0,604.4 L411.0,604.5 L414.0,604.5 L417.0,604.6 L420.0,604.7 L423.0,604.8 L426.0,604.9 L429.0,605.1 L432.0,605.2 L435.0,605.4 L438.0,605.5 L441.0,605.7 L444.0,605.9 L447.0,606.1 L450.0,606.3 L453.0,606.5 L456.0,606.7 L459.0,606.9 L462.0,607.1 L465.0,607.4 L468.0,607.6 L471.0,607.9 L474.0,608.2 L477.0,608.4 L480.0,608.7 L483.0,609.0 L486.0,609.3 L489.0,609.6 L492.0,609.9 L495.0,610.3 L498.0,610.6 L501.0,610.9 L504.0,611.3 L507.0,611.6 L510.0,612.0 L513.0,612.4 L516.0,612.7 L519.0,613.1 L522.0,613.5 L525.0,613.9 L528.0,614.3 L531.0,614.7 L534.0,615.1 L537.0,615.6 L540.0,616.0 L543.0,616.4 L546.0,616.9 L549.0,617.3 L552.0,617.8 L555.0,618.2 L558.0,618.7 L561.0,619.2 L564.0,619.6 L567.0,620.1 L570.0,620.6 L573.0,621.1 L576.0,621.6 L579.0,622.1 L582.0,622.6 L585.0,623.1 L588.0,623.6 L591.0,624.1 L594.0,624.7 L597.0,625.2 L600.0,625.7 L603.0,626.3 L606.0,626.8 L609.0,627.4 L612.0,627.9 L615.0,628.5 L618.0,629.0 L621.0,629.6 L624.0,630.2 L627.0,630.7 L630.0,631.3 L633.0,631.9 L636.0,632.4 L639.0,633.0 L642.0,633.6 L645.0,634.2 L648.0,634.8 L651.0,635.4 L654.0,636.0 L657.0,636.6 L660.0,637.2 L663.0,637.8 L666.0,638.4 L669.0,639.0 L672.0,639.6 L675.0,640.3 L678.0,640.9 L681.0,641.5 L684.0,642.1 L687.0,642.7 L690.0,643.4 L693.0,644.0 L696.0,644.6 L699.0,645.3 L702.0,645.9 L705.0,646.5 L708.0,647.2 L711.0,647.8 L714.0,648.4 L717.0,649.1 L720.0,649.7 L723.0,650.4 L726.0,651.0 L729.0,651.7 L732.0,652.3 L735.0,653.0 L738.0,653.6 L741.0,654.3 L744.0,654.9 L747.0,655.6 L750.0,656.2 L753.0,656.9 L756.0,657.5 L759.0,658.2 L762.0,658.9 L765.0,659.5 L768.0,660.2 L771.0,660.8 L774.0,661.5 L777.0,662.2 L780.0,662.8 L783.0,663.5 L786.0,664.2 L789.0,664.8 L792.0,665.5 L795.0,666.2 L798.0,666.8 L801.0,667.5 L804.0,668.2 L807.0,668.8 L810.0,669.5 L813.0,670.2 L816.0,670.8 L819.0,671.5 L822.0,672.2 L825.0,672.9 L828.0,673.5 L831.0,674.2 L834.0,674.9 L837.0,675.5 L840.0,676.2 L843.0,676.9 L846.0,677.6 L849.0,678.2 L852.0,678.9 L855.0,679.6 L858.0,680.3 L861.0,680.9 L864.0,681.6 L867.0,682.3 L870.0,683.0 L873.0,683.7 L876.0,684.3 L879.0,685.0 L882.0,685.7 L885.0,686.4 L888.0,687.1 L891.0,687.8 L894.0,688.5 L897.0,689.1 L900.0,689.8 L903.0,690.5 L906.0,691.2 L909.0,691.9 L912.0,692.6 L915.0,693.3 L918.0,694.0 L921.0,694.7 L924.0,695.4 L927.0,696.1 L930.0,696.8 L933.0,697.5 L936.0,698.2 L939.0,698.9 L942.0,699.6 L945.0,700.3 L948.0,701.0 L951.0,701.8 L954.0,702.5 L957.0,703.2 L960.0,703.9 L963.0,704.7 L966.0,705.4 L969.0,706.1 L972.0,706.8 L975.0,707.6 L978.0,708.3 L981.0,709.1 L984.0,709.8 L987.0,710.6 L990.0,711.3 L993.0,712.1 L996.0,712.8 L999.0,713.6 L1002.0,714.4 L1005.0,715.2 L1008.0,715.9 L1011.0,716.7 L1014.0,717.5 L1017.0,718.3 L1020.0,719.1 L1023.0,719.9 L1026.0,720.7 L1029.0,721.5 L1032.0,722.3 L1035.0,723.2 L1038.0,724.0 L1041.0,724.8 L1044.0,725.7 L1047.0,726.5 L1050.0,727.4 L1053.0,728.2 L1056.0,729.1 L1059.0,730.0 L1062.0,730.9 L1065.0,731.8 L1068.0,732.7 L1071.0,733.6 L1074.0,734.5 L1077.0,735.4 L1080.0,736.3 L1083.0,737.3 L1086.0,738.2 L1089.0,739.2 L1092.0,740.1 L1095.0,741.1 L1098.0,742.1 L1101.0,743.1 L1104.0,744.1 L1107.0,745.1 L1110.0,746.2 L1113.0,747.2 L1116.0,748.2 L1119.0,749.3 L1122.0,750.4 L1125.0,751.5 L1128.0,752.6 L1131.0,753.7 L1134.0,754.8 L1137.0,755.9 L1140.0,757.1 L1143.0,758.2 L1146.0,759.4 L1149.0,760.6 L1152.0,761.8" stroke="#ff0000" stroke-width="1.1" fill="none" opacity="0.85"/>
</g>
<rect x="165.5" y="603.5" width="989" height="159" fill="none" stroke="#262626" stroke-width="1"/>
<rect x="166" y="614.00" width="10" height="1" fill="#262626"/>
<rect x="1144" y="614.00" width="10" height="1" fill="#262626"/>
<text x="155.50" y="620.90" font-size="22" font-weight="normal" text-anchor="end" fill="#262626" font-family='"Liberation Sans", sans-serif' >4.5</text>
<rect x="166" y="683.50" width="10" height="1" fill="#262626"/>
<rect x="1144" y="683.50" width="10" height="1" fill="#262626"/>
<text x="155.50" y="690.40" font-size="22" font-weight="normal" text-anchor="end" fill="#262626" font-family='"Liberation Sans", sans-serif' >4</text>
<rect x="166" y="753.00" width="10" height="1" fill="#262626"/>
<rect x="1144" y="753.00" width="10" height="1" fill="#262626"/>
<text x="155.50" y="759.90" font-size="22" font-weight="normal" text-anchor="end" fill="#262626" font-family='"Liberation Sans", sans-serif' >3.5</text>
<rect x="486.00" y="604" width="1" height="10" fill="#262626"/>
<rect x="486.00" y="752" width="1" height="10" fill="#262626"/>
<rect x="932.00" y="604" width="1" height="10" fill="#262626"/>
<rect x="932.00" y="752" width="1" height="10" fill="#262626"/>
<path d="M169.5,586 L179.5,596 M179.5,586 L169.5,596" stroke="#262626" stroke-width="1.2"/>
<text x="0" y="0" font-size="22" font-weight="normal" text-anchor="start" fill="#262626" font-family='"Liberation Sans", sans-serif' transform="translate(183.50,597.60) scale(1.0,1)" >10</text>
<text x="211.00" y="590.30" font-size="17" font-weight="normal" text-anchor="start" fill="#262626" font-family='"Liberation Sans", sans-serif' >4</text>
<text transform="translate(85.30,684.60) rotate(-90)" font-size="21" font-weight="bold" text-anchor="middle" fill="#262626" font-family='"Liberation Sans", sans-serif' textLength="112" lengthAdjust="spacingAndGlyphs">Total Field</text>
<text transform="translate(111.50,684.60) rotate(-90)" font-size="21" font-weight="bold" text-anchor="middle" fill="#262626" font-family='"Liberation Sans", sans-serif' textLength="76" lengthAdjust="spacingAndGlyphs">|B| (nT)</text>
<text transform="translate(1170.20,648.10) rotate(-90)" font-size="15.5" font-weight="bold" text-anchor="middle" fill="#262626" font-family='"Liberation Sans", sans-serif' textLength="63" lengthAdjust="spacingAndGlyphs">Inboard</text>
<text transform="translate(1182.10,662.00) rotate(-90)" font-size="15.5" font-weight="bold" text-anchor="middle" fill="#262626" font-family='"Liberation Sans", sans-serif' textLength="77.5" lengthAdjust="spacingAndGlyphs">Outboard</text>
<text transform="translate(1194.40,636.90) rotate(-90)" font-size="15.5" font-weight="bold" text-anchor="middle" fill="#262626" font-family='"Liberation Sans", sans-serif' textLength="49.5" lengthAdjust="spacingAndGlyphs">Chaos</text>
<rect x="1164" y="719" width="2" height="15" fill="#0000ff"/>
<rect x="1179" y="719" width="2" height="15" fill="#00ff00"/>
<rect x="1191" y="719" width="2" height="15" fill="#ff0000"/>
<rect x="166" y="881.00" width="988" height="1" fill="#dfdfdf"/>
<rect x="166" y="929.50" width="988" height="1" fill="#dfdfdf"/>
<rect x="166" y="978.00" width="988" height="1" fill="#dfdfdf"/>
<rect x="486.00" y="838" width="1" height="161" fill="#dfdfdf"/>
<rect x="932.00" y="838" width="1" height="161" fill="#dfdfdf"/>
<clipPath id="clipmm"><rect x="166" y="838" width="988" height="161"/></clipPath>
<g clip-path="url(#clipmm)">
<path d="M165.5,921.3 L166.0,987.5 L166.5,930.8 L167.0,970.2 L167.5,916.5 L168.0,977.5 L168.5,932.2 L169.0,981.9 L169.5,911.1 L170.0,984.4 L170.5,933.5 L171.0,984.2 L171.5,939.5 L172.0,981.1 L172.5,921.2 L173.0,981.7 L173.5,940.4 L174.0,985.8 L174.5,928.8 L175.0,988.6 L175.5,931.8 L176.0,982.0 L176.5,920.9 L177.0,972.6 L177.5,924.7 L178.0,978.8 L178.5,938.6 L179.0,978.0 L179.5,916.0 L180.0,991.6 L180.5,921.9 L181.0,985.5 L181.5,926.7 L182.0,979.7 L182.5,911.9 L183.0,985.4 L183.5,914.4 L184.0,973.5 L184.5,912.5 L185.0,983.3 L185.5,934.2 L186.0,982.9 L186.5,914.1 L187.0,983.3 L187.5,927.5 L188.0,971.2 L188.5,925.9 L189.0,977.9 L189.5,939.9 L190.0,970.9 L190.5,911.9 L191.0,980.3 L191.5,914.5 L192.0,983.7 L192.5,929.2 L193.0,987.3 L193.5,935.5 L194.0,970.2 L194.5,916.2 L195.0,980.1 L195.5,940.3 L196.0,987.9 L196.5,918.5 L197.0,975.1 L197.5,934.6 L198.0,991.0 L198.5,929.6 L199.0,991.0 L199.5,911.5 L200.0,982.2 L200.5,918.0 L201.0,980.2 L201.5,927.5 L202.0,972.0 L202.5,924.4 L203.0,976.3 L203.5,919.9 L204.0,984.5 L204.5,929.9 L205.0,975.2 L205.5,933.5 L206.0,988.8 L206.5,921.9 L207.0,983.8 L207.5,930.6 L208.0,981.1 L208.5,921.1 L209.0,971.8 L209.5,917.5 L210.0,986.6 L210.5,913.3 L211.0,989.6 L211.5,913.3 L212.0,970.9 L212.5,932.3 L213.0,974.9 L213.5,939.4 L214.0,974.4 L214.5,940.1 L215.0,990.8 L215.5,916.1 L216.0,984.1 L216.5,922.8 L217.0,988.0 L217.5,915.0 L218.0,978.3 L218.5,936.8 L219.0,987.9 L219.5,914.7 L220.0,973.5 L220.5,914.2 L221.0,983.3 L221.5,921.8 L222.0,985.2 L222.5,915.8 L223.0,978.0 L223.5,914.6 L224.0,974.3 L224.5,920.6 L225.0,983.1 L225.5,928.5 L226.0,980.9 L226.5,937.2 L227.0,973.6 L227.5,915.6 L228.0,979.0 L228.5,933.5 L229.0,978.1 L229.5,937.9 L230.0,983.5 L230.5,938.0 L231.0,973.5 L231.5,936.2 L232.0,990.1 L232.5,930.7 L233.0,984.3 L233.5,926.8 L234.0,979.1 L234.5,937.3 L235.0,987.5 L235.5,920.0 L236.0,971.9 L236.5,917.6 L237.0,976.7 L237.5,917.9 L238.0,973.4 L238.5,916.5 L239.0,986.4 L239.5,912.6 L240.0,987.5 L240.5,920.9 L241.0,987.2 L241.5,918.6 L242.0,979.2 L242.5,939.6 L243.0,982.7 L243.5,923.5 L244.0,979.2 L244.5,913.2 L245.0,973.7 L245.5,911.2 L246.0,986.2 L246.5,913.2 L247.0,972.6 L247.5,936.7 L248.0,983.4 L248.5,917.8 L249.0,990.3 L249.5,917.3 L250.0,981.2 L250.5,930.4 L251.0,986.4 L251.5,938.7 L252.0,989.8 L252.5,932.5 L253.0,975.8 L253.5,939.6 L254.0,973.3 L254.5,914.8 L255.0,974.8 L255.5,931.9 L256.0,977.1 L256.5,921.2 L257.0,979.5 L257.5,914.4 L258.0,973.7 L258.5,911.6 L259.0,975.9 L259.5,933.7 L260.0,981.7 L260.5,939.3 L261.0,983.9 L261.5,932.8 L262.0,989.6 L262.5,915.7 L263.0,986.1 L263.5,919.8 L264.0,977.5 L264.5,917.7 L265.0,990.4 L265.5,930.0 L266.0,974.1 L266.5,937.5 L267.0,983.4 L267.5,931.4 L268.0,986.0 L268.5,912.3 L269.0,980.0 L269.5,915.5 L270.0,985.3 L270.5,923.4 L271.0,971.9 L271.5,940.3 L272.0,981.1 L272.5,918.7 L273.0,986.6 L273.5,923.1 L274.0,990.7 L274.5,926.3 L275.0,982.9 L275.5,922.2 L276.0,975.1 L276.5,934.0 L277.0,987.0 L277.5,923.4 L278.0,981.1 L278.5,915.9 L279.0,984.8 L279.5,923.2 L280.0,986.9 L280.5,925.9 L281.0,981.9 L281.5,915.7 L282.0,988.9 L282.5,926.5 L283.0,971.1 L283.5,914.8 L284.0,983.0 L284.5,919.9 L285.0,980.1 L285.5,931.1 L286.0,980.3 L286.5,929.3 L287.0,979.0 L287.5,912.4 L288.0,979.1 L288.5,914.1 L289.0,985.7 L289.5,914.6 L290.0,981.7 L290.5,927.3 L291.0,988.6 L291.5,917.3 L292.0,979.1 L292.5,933.9 L293.0,986.1 L293.5,938.7 L294.0,988.3 L294.5,938.5 L295.0,976.2 L295.5,928.5 L296.0,976.5 L296.5,924.2 L297.0,975.2 L297.5,931.2 L298.0,976.5 L298.5,927.2 L299.0,986.2 L299.5,936.0 L300.0,987.4 L300.5,912.6 L301.0,979.3 L301.5,914.8 L302.0,970.0 L302.5,916.0 L303.0,968.1 L303.5,914.6 L304.0,963.4 L304.5,909.4 L305.0,963.9 L305.5,911.3 L306.0,964.9 L306.5,912.5 L307.0,964.9 L307.5,912.7 L308.0,966.6 L308.5,911.8 L309.0,966.8 L309.5,913.1 L310.0,967.4 L310.5,912.8 L311.0,966.6 L311.5,916.1 L312.0,968.7 L312.5,914.9 L313.0,968.7 L313.5,914.6 L314.0,968.5 L314.5,917.9 L315.0,969.7 L315.5,916.0 L316.0,969.5 L316.5,918.7 L317.0,969.9 L317.5,916.9 L318.0,971.5 L318.5,917.7 L319.0,970.2 L319.5,920.0 L320.0,972.3 L320.5,920.7 L321.0,973.0 L321.5,919.8 L322.0,973.2 L322.5,920.9 L323.0,973.2 L323.5,922.8 L324.0,974.1 L324.5,922.7 L325.0,974.0 L325.5,922.7 L326.0,973.9 L326.5,921.7 L327.0,973.5 L327.5,922.2 L328.0,973.0 L328.5,919.4 L329.0,972.1 L329.5,919.5 L330.0,971.3 L330.5,919.6 L331.0,970.6 L331.5,918.2 L332.0,971.2 L332.5,918.1 L333.0,970.3 L333.5,917.9 L334.0,969.7 L334.5,917.4 L335.0,970.0 L335.5,917.0 L336.0,968.6 L336.5,916.0 L337.0,968.9 L337.5,914.2 L338.0,967.5 L338.5,913.7 L339.0,966.5 L339.5,911.5 L340.0,967.2 L340.5,911.9 L341.0,966.6 L341.5,911.2 L342.0,966.1 L342.5,911.7 L343.0,966.1 L343.5,909.9 L344.0,964.8 L344.5,909.8 L345.0,964.9 L345.5,909.9 L346.0,964.9 L346.5,910.2 L347.0,965.1 L347.5,912.8 L348.0,964.3 L348.5,912.7 L349.0,964.6 L349.5,915.7 L350.0,965.6 L350.5,918.2 L351.0,966.5 L351.5,920.7 L352.0,969.3 L352.5,925.3 L353.0,971.1 L353.5,931.2 L354.0,972.6 L354.5,937.8 L355.0,975.0 L355.5,941.6 L356.0,978.1 L356.5,946.7 L357.0,980.5 L357.5,943.8 L358.0,985.2 L358.5,942.8 L359.0,980.2 L359.5,936.1 L360.0,989.2 L360.5,925.0 L361.0,977.7 L361.5,922.2 L362.0,990.6 L362.5,937.9 L363.0,991.1 L363.5,916.9 L364.0,976.6 L364.5,928.1 L365.0,988.0 L365.5,914.9 L366.0,989.2 L366.5,920.0 L367.0,992.0 L367.5,928.2 L368.0,991.3 L368.5,916.2 L369.0,982.2 L369.5,927.7 L370.0,982.5 L370.5,936.5 L371.0,988.4 L371.5,922.6 L372.0,979.8 L372.5,932.7 L373.0,988.6 L373.5,931.5 L374.0,979.1 L374.5,922.0 L375.0,981.0 L375.5,939.7 L376.0,985.8 L376.5,930.8 L377.0,986.0 L377.5,921.7 L378.0,992.0 L378.5,933.3 L379.0,992.3 L379.5,924.2 L380.0,991.7 L380.5,926.3 L381.0,987.9 L381.5,931.3 L382.0,976.4 L382.5,938.4 L383.0,981.9 L383.5,939.8 L384.0,983.6 L384.5,921.5 L385.0,980.4 L385.5,916.8 L386.0,977.6 L386.5,939.9 L387.0,976.3 L387.5,923.3 L388.0,978.9 L388.5,931.0 L389.0,977.6 L389.5,922.2 L390.0,986.8 L390.5,933.0 L391.0,992.0 L391.5,923.1 L392.0,976.2 L392.5,938.7 L393.0,988.0 L393.5,919.4 L394.0,979.4 L394.5,917.8 L395.0,980.7 L395.5,929.1 L396.0,985.1 L396.5,928.1 L397.0,988.5 L397.5,917.3 L398.0,982.0 L398.5,915.5 L399.0,978.0 L399.5,914.2 L400.0,977.2 L400.5,926.5 L401.0,992.3 L401.5,937.0 L402.0,983.7 L402.5,923.7 L403.0,986.6 L403.5,919.0 L404.0,988.6 L404.5,927.8 L405.0,986.1 L405.5,929.1 L406.0,977.8 L406.5,940.7 L407.0,983.6 L407.5,932.8 L408.0,980.1 L408.5,916.4 L409.0,985.2 L409.5,933.1 L410.0,982.3 L410.5,932.1 L411.0,992.5 L411.5,920.5 L412.0,984.0 L412.5,939.6 L413.0,988.0 L413.5,924.1 L414.0,993.5 L414.5,921.0 L415.0,993.4 L415.5,919.7 L416.0,988.2 L416.5,936.2 L417.0,982.9 L417.5,938.3 L418.0,992.9 L418.5,941.8 L419.0,980.3 L419.5,927.0 L420.0,985.4 L420.5,925.3 L421.0,985.0 L421.5,919.9 L422.0,990.1 L422.5,920.3 L423.0,986.8 L423.5,925.5 L424.0,980.7 L424.5,941.7 L425.0,993.9 L425.5,938.1 L426.0,979.9 L426.5,927.8 L427.0,980.4 L427.5,923.1 L428.0,981.1 L428.5,927.2 L429.0,992.7 L429.5,930.0 L430.0,988.2 L430.5,925.2 L431.0,994.7 L431.5,932.3 L432.0,991.6 L432.5,927.5 L433.0,987.7 L433.5,931.5 L434.0,984.0 L434.5,935.2 L435.0,986.1 L435.5,921.4 L436.0,995.0 L436.5,941.4 L437.0,980.1 L437.5,938.6 L438.0,984.7 L438.5,924.5 L439.0,985.1 L439.5,943.6 L440.0,994.8 L440.5,923.8 L441.0,984.7 L441.5,936.5 L442.0,981.2 L442.5,926.6 L443.0,982.4 L443.5,936.6 L444.0,991.9 L444.5,942.4 L445.0,995.4 L445.5,926.7 L446.0,993.9 L446.5,924.4 L447.0,993.9 L447.5,928.1 L448.0,984.8 L448.5,930.8 L449.0,994.9 L449.5,939.5 L450.0,993.3 L450.5,932.7 L451.0,991.0 L451.5,942.2 L452.0,994.3 L452.5,943.2 L453.0,987.0 L453.5,931.6 L454.0,986.4 L454.5,931.2 L455.0,992.0 L455.5,927.4 L456.0,995.8 L456.5,941.7 L457.0,985.9 L457.5,931.7 L458.0,982.5 L458.5,943.3 L459.0,994.7 L459.5,941.9 L460.0,989.0 L460.5,934.3 L461.0,988.0 L461.5,926.4 L462.0,984.1 L462.5,934.6 L463.0,982.9 L463.5,926.8 L464.0,985.9 L464.5,938.3 L465.0,983.0 L465.5,943.5 L466.0,986.6 L466.5,927.7 L467.0,986.0 L467.5,937.3 L468.0,993.7 L468.5,931.5 L469.0,996.6 L469.5,928.7 L470.0,987.9 L470.5,931.3 L471.0,988.3 L471.5,934.5 L472.0,996.5 L472.5,926.8 L473.0,988.2 L473.5,943.2 L474.0,985.4 L474.5,929.0 L475.0,992.8 L475.5,945.2 L476.0,990.4 L476.5,936.2 L477.0,992.8 L477.5,945.3 L478.0,996.2 L478.5,935.9 L479.0,996.8 L479.5,938.3 L480.0,993.8 L480.5,932.7 L481.0,984.1 L481.5,928.8 L482.0,994.7 L482.5,937.7 L483.0,992.5 L483.5,933.9 L484.0,994.0 L484.5,938.8 L485.0,990.9 L485.5,941.9 L486.0,990.1 L486.5,931.2 L487.0,988.6 L487.5,929.8 L488.0,991.7 L488.5,933.9 L489.0,985.3 L489.5,933.4 L490.0,992.7 L490.5,939.4 L491.0,987.2 L491.5,932.6 L492.0,983.9 L492.5,930.0 L493.0,988.0 L493.5,944.0 L494.0,991.7 L494.5,936.3 L495.0,993.7 L495.5,930.3 L496.0,984.1 L496.5,932.4 L497.0,995.9 L497.5,929.3 L498.0,993.2 L498.5,938.1 L499.0,990.8 L499.5,931.4 L500.0,988.6 L500.5,937.2 L501.0,989.7 L501.5,944.8 L502.0,986.0 L502.5,943.1 L503.0,995.7 L503.5,942.2 L504.0,984.4 L504.5,941.7 L505.0,990.0 L505.5,936.9 L506.0,993.0 L506.5,935.7 L507.0,984.5 L507.5,933.9 L508.0,994.4 L508.5,940.8 L509.0,994.3 L509.5,929.4 L510.0,996.5 L510.5,928.5 L511.0,987.8 L511.5,922.0 L512.0,988.2 L512.5,926.8 L513.0,993.8 L513.5,927.4 L514.0,989.1 L514.5,933.2 L515.0,984.9 L515.5,931.5 L516.0,993.7 L516.5,920.0 L517.0,991.5 L517.5,922.5 L518.0,992.9 L518.5,922.1 L519.0,991.8 L519.5,933.8 L520.0,984.1 L520.5,932.9 L521.0,994.2 L521.5,924.8 L522.0,985.0 L522.5,940.1 L523.0,995.4 L523.5,922.4 L524.0,989.2 L524.5,930.2 L525.0,989.1 L525.5,933.6 L526.0,995.7 L526.5,935.6 L527.0,983.4 L527.5,919.1 L528.0,987.7 L528.5,938.8 L529.0,986.5 L529.5,917.0 L530.0,995.3 L530.5,937.2 L531.0,983.4 L531.5,916.2 L532.0,983.8 L532.5,923.2 L533.0,980.8 L533.5,933.5 L534.0,988.0 L534.5,927.9 L535.0,994.6 L535.5,938.6 L536.0,984.2 L536.5,934.6 L537.0,994.0 L537.5,917.3 L538.0,985.2 L538.5,927.6 L539.0,986.6 L539.5,937.6 L540.0,987.3 L540.5,921.9 L541.0,981.8 L541.5,930.5 L542.0,990.8 L542.5,920.6 L543.0,984.5 L543.5,914.4 L544.0,985.2 L544.5,921.4 L545.0,985.0 L545.5,939.0 L546.0,991.5 L546.5,912.2 L547.0,985.1 L547.5,920.2 L548.0,985.5 L548.5,919.3 L549.0,982.5 L549.5,924.8 L550.0,987.1 L550.5,930.8 L551.0,982.4 L551.5,925.8 L552.0,984.7 L552.5,937.0 L553.0,990.2 L553.5,924.8 L554.0,986.8 L554.5,913.9 L555.0,983.9 L555.5,913.0 L556.0,988.0 L556.5,915.0 L557.0,985.8 L557.5,923.4 L558.0,985.4 L558.5,915.3 L559.0,980.7 L559.5,924.9 L560.0,990.5 L560.5,909.8 L561.0,986.9 L561.5,924.6 L562.0,988.5 L562.5,932.6 L563.0,982.0 L563.5,934.8 L564.0,988.5 L564.5,917.1 L565.0,980.2 L565.5,913.5 L566.0,979.1 L566.5,922.9 L567.0,977.4 L567.5,920.8 L568.0,981.4 L568.5,922.4 L569.0,982.4 L569.5,911.5 L570.0,981.7 L570.5,912.3 L571.0,985.4 L571.5,912.7 L572.0,983.8 L572.5,924.4 L573.0,980.1 L573.5,913.8 L574.0,984.0 L574.5,913.9 L575.0,975.0 L575.5,923.3 L576.0,976.5 L576.5,920.9 L577.0,980.5 L577.5,923.3 L578.0,982.4 L578.5,928.1 L579.0,980.4 L579.5,917.7 L580.0,979.4 L580.5,921.9 L581.0,981.9 L581.5,928.2 L582.0,975.3 L582.5,903.4 L583.0,978.7 L583.5,927.1 L584.0,982.6 L584.5,916.7 L585.0,974.0 L585.5,907.3 L586.0,979.3 L586.5,921.1 L587.0,979.3 L587.5,915.0 L588.0,971.4 L588.5,918.9 L589.0,973.7 L589.5,915.2 L590.0,972.5 L590.5,920.8 L591.0,972.4 L591.5,920.4 L592.0,979.1 L592.5,923.2 L593.0,975.4 L593.5,905.0 L594.0,975.1 L594.5,912.8 L595.0,971.3 L595.5,917.5 L596.0,977.3 L596.5,918.8 L597.0,972.4 L597.5,914.0 L598.0,975.6 L598.5,901.9 L599.0,973.2 L599.5,917.0 L600.0,968.9 L600.5,905.8 L601.0,970.7 L601.5,911.7 L602.0,968.2 L602.5,919.6 L603.0,975.3 L603.5,898.7 L604.0,968.7 L604.5,909.4 L605.0,974.9 L605.5,912.2 L606.0,965.4 L606.5,918.8 L607.0,971.4 L607.5,898.4 L608.0,967.6 L608.5,895.9 L609.0,967.4 L609.5,895.1 L610.0,964.3 L610.5,901.4 L611.0,968.3 L611.5,894.8 L612.0,964.4 L612.5,908.8 L613.0,964.1 L613.5,892.6 L614.0,964.3 L614.5,915.0 L615.0,968.4 L615.5,901.1 L616.0,966.7 L616.5,906.1 L617.0,962.8 L617.5,892.4 L618.0,962.9 L618.5,902.4 L619.0,962.3 L619.5,905.9 L620.0,966.6 L620.5,893.5 L621.0,964.4 L621.5,892.3 L622.0,963.7 L622.5,906.4 L623.0,959.1 L623.5,901.6 L624.0,963.1 L624.5,888.4 L625.0,958.8 L625.5,889.1 L626.0,958.6 L626.5,890.2 L627.0,961.7 L627.5,899.2 L628.0,958.0 L628.5,894.3 L629.0,958.7 L629.5,896.5 L630.0,961.4 L630.5,910.4 L631.0,957.6 L631.5,888.3 L632.0,958.4 L632.5,895.2 L633.0,958.6 L633.5,885.2 L634.0,957.8 L634.5,899.3 L635.0,954.1 L635.5,902.4 L636.0,951.9 L636.5,896.5 L637.0,952.8 L637.5,887.4 L638.0,954.4 L638.5,892.1 L639.0,951.6 L639.5,888.2 L640.0,955.8 L640.5,899.9 L641.0,954.4 L641.5,881.8 L642.0,952.1 L642.5,881.6 L643.0,952.2 L643.5,890.1 L644.0,953.8 L644.5,885.6 L645.0,947.6 L645.5,892.3 L646.0,948.9 L646.5,883.0 L647.0,948.5 L647.5,882.1 L648.0,951.7 L648.5,895.6 L649.0,950.2 L649.5,880.9 L650.0,950.4 L650.5,892.1 L651.0,950.1 L651.5,878.6 L652.0,944.3 L652.5,890.6 L653.0,945.3 L653.5,879.9 L654.0,942.0 L654.5,877.9 L655.0,944.9 L655.5,884.1 L656.0,940.1 L656.5,884.7 L657.0,940.1 L657.5,879.3 L658.0,940.1 L658.5,872.6 L659.0,939.9 L659.5,872.6 L660.0,937.2 L660.5,875.3 L661.0,937.7 L661.5,875.5 L662.0,934.9 L662.5,884.3 L663.0,933.2 L663.5,883.3 L664.0,936.0 L664.5,890.0 L665.0,932.4 L665.5,892.5 L666.0,935.7 L666.5,890.3 L667.0,933.4 L667.5,893.7 L668.0,929.8 L668.5,891.7 L669.0,927.8 L669.5,894.9 L670.0,929.5 L670.5,892.4 L671.0,928.7 L671.5,895.0 L672.0,924.5 L672.5,895.4 L673.0,928.8 L673.5,897.1 L674.0,927.4 L674.5,893.5 L675.0,928.7 L675.5,893.1 L676.0,932.3 L676.5,888.4 L677.0,929.3 L677.5,882.3 L678.0,933.0 L678.5,887.7 L679.0,933.4 L679.5,882.4 L680.0,931.3 L680.5,882.2 L681.0,931.1 L681.5,873.4 L682.0,934.9 L682.5,872.6 L683.0,935.7 L683.5,873.8 L684.0,932.9 L684.5,868.2 L685.0,933.5 L685.5,873.0 L686.0,933.9 L686.5,875.3 L687.0,935.7 L687.5,865.5 L688.0,932.6 L688.5,866.2 L689.0,927.4 L689.5,875.5 L690.0,931.8 L690.5,863.2 L691.0,925.5 L691.5,863.4 L692.0,927.9 L692.5,863.6 L693.0,923.2 L693.5,858.8 L694.0,929.4 L694.5,862.9 L695.0,927.9 L695.5,863.7 L696.0,926.7 L696.5,874.1 L697.0,921.8 L697.5,857.2 L698.0,923.6 L698.5,862.1 L699.0,923.5 L699.5,863.6 L700.0,923.9 L700.5,863.9 L701.0,924.4 L701.5,858.0 L702.0,924.7 L702.5,860.3 L703.0,924.3 L703.5,863.6 L704.0,921.2 L704.5,849.9 L705.0,925.0 L705.5,853.6 L706.0,926.2 L706.5,868.5 L707.0,922.4 L707.5,868.1 L708.0,920.2 L708.5,852.8 L709.0,920.2 L709.5,869.6 L710.0,923.8 L710.5,862.0 L711.0,919.2 L711.5,848.5 L712.0,924.3 L712.5,853.4 L713.0,921.2 L713.5,861.5 L714.0,924.4 L714.5,851.5 L715.0,917.3 L715.5,856.1 L716.0,917.8 L716.5,862.1 L717.0,915.1 L717.5,855.1 L718.0,918.0 L718.5,845.9 L719.0,916.5 L719.5,858.5 L720.0,919.6 L720.5,848.3 L721.0,914.9 L721.5,845.7 L722.0,916.6 L722.5,852.3 L723.0,917.8 L723.5,861.7 L724.0,916.6 L724.5,869.6 L725.0,922.0 L725.5,854.2 L726.0,920.6 L726.5,850.8 L727.0,923.5 L727.5,854.5 L728.0,916.1 L728.5,852.6 L729.0,916.1 L729.5,865.8 L730.0,913.8 L730.5,849.6 L731.0,916.8 L731.5,847.6 L732.0,916.1 L732.5,851.1 L733.0,923.0 L733.5,851.5 L734.0,920.3 L734.5,866.0 L735.0,920.5 L735.5,860.8 L736.0,917.7 L736.5,849.2 L737.0,920.6 L737.5,854.9 L738.0,920.1 L738.5,861.0 L739.0,918.9 L739.5,846.5 L740.0,921.6 L740.5,843.5 L741.0,919.2 L741.5,856.0 L742.0,910.7 L742.5,863.8 L743.0,913.0 L743.5,858.1 L744.0,921.2 L744.5,850.6 L745.0,919.9 L745.5,864.4 L746.0,912.2 L746.5,844.5 L747.0,915.2 L747.5,848.0 L748.0,912.2 L748.5,843.8 L749.0,919.8 L749.5,858.5 L750.0,911.8 L750.5,864.4 L751.0,918.5 L751.5,849.2 L752.0,919.8 L752.5,845.9 L753.0,920.7 L753.5,864.9 L754.0,914.6 L754.5,861.3 L755.0,909.8 L755.5,847.6 L756.0,912.9 L756.5,847.5 L757.0,911.3 L757.5,842.7 L758.0,910.3 L758.5,856.2 L759.0,913.2 L759.5,865.3 L760.0,919.7 L760.5,849.1 L761.0,911.8 L761.5,844.3 L762.0,914.8 L762.5,843.6 L763.0,913.0 L763.5,855.6 L764.0,915.0 L764.5,865.0 L765.0,917.6 L765.5,861.2 L766.0,916.4 L766.5,853.6 L767.0,916.4 L767.5,844.7 L768.0,914.2 L768.5,844.6 L769.0,919.2 L769.5,857.7 L770.0,919.4 L770.5,855.8 L771.0,913.7 L771.5,851.2 L772.0,912.2 L772.5,858.2 L773.0,910.0 L773.5,860.2 L774.0,916.6 L774.5,854.6 L775.0,915.5 L775.5,846.2 L776.0,918.7 L776.5,848.4 L777.0,914.5 L777.5,845.8 L778.0,911.3 L778.5,850.8 L779.0,918.8 L779.5,843.1 L780.0,918.2 L780.5,851.6 L781.0,917.6 L781.5,860.2 L782.0,916.8 L782.5,843.0 L783.0,911.7 L783.5,845.9 L784.0,914.6 L784.5,849.6 L785.0,918.0 L785.5,847.1 L786.0,908.8 L786.5,842.5 L787.0,919.2 L787.5,849.5 L788.0,912.5 L788.5,858.2 L789.0,914.3 L789.5,854.2 L790.0,915.8 L790.5,849.2 L791.0,915.5 L791.5,854.5 L792.0,919.3 L792.5,863.6 L793.0,918.3 L793.5,844.7 L794.0,918.7 L794.5,852.8 L795.0,910.4 L795.5,856.9 L796.0,917.5 L796.5,840.9 L797.0,916.9 L797.5,860.5 L798.0,919.0 L798.5,842.4 L799.0,918.4 L799.5,848.4 L800.0,916.2 L800.5,847.5 L801.0,914.2 L801.5,863.4 L802.0,917.6 L802.5,861.2 L803.0,913.8 L803.5,842.9 L804.0,919.0 L804.5,852.1 L805.0,918.8 L805.5,848.3 L806.0,917.2 L806.5,852.7 L807.0,917.7 L807.5,848.0 L808.0,909.3 L808.5,845.1 L809.0,919.1 L809.5,858.1 L810.0,910.6 L810.5,851.6 L811.0,918.2 L811.5,852.5 L812.0,917.4 L812.5,849.5 L813.0,913.0 L813.5,855.7 L814.0,911.6 L814.5,852.7 L815.0,907.8 L815.5,846.7 L816.0,912.5 L816.5,847.7 L817.0,916.1 L817.5,860.5 L818.0,918.2 L818.5,840.8 L819.0,907.1 L819.5,852.2 L820.0,918.0 L820.5,840.3 L821.0,909.6 L821.5,849.7 L822.0,917.3 L822.5,860.9 L823.0,914.0 L823.5,850.5 L824.0,914.4 L824.5,855.7 L825.0,910.5 L825.5,850.1 L826.0,905.8 L826.5,853.9 L827.0,911.8 L827.5,850.4 L828.0,909.5 L828.5,861.0 L829.0,912.1 L829.5,853.5 L830.0,912.6 L830.5,853.5 L831.0,906.2 L831.5,853.8 L832.0,913.4 L832.5,847.5 L833.0,911.0 L833.5,861.0 L834.0,911.7 L834.5,841.4 L835.0,915.9 L835.5,856.4 L836.0,913.1 L836.5,839.7 L837.0,910.0 L837.5,857.9 L838.0,906.3 L838.5,857.9 L839.0,909.5 L839.5,859.0 L840.0,913.8 L840.5,844.7 L841.0,913.8 L841.5,844.1 L842.0,908.1 L842.5,856.0 L843.0,908.7 L843.5,842.1 L844.0,911.0 L844.5,842.6 L845.0,910.9 L845.5,844.9 L846.0,913.6 L846.5,847.8 L847.0,915.7 L847.5,849.4 L848.0,905.6 L848.5,844.3 L849.0,909.9 L849.5,840.2 L850.0,915.5 L850.5,852.2 L851.0,907.7 L851.5,856.2 L852.0,917.0 L852.5,858.8 L853.0,916.5 L853.5,844.8 L854.0,907.3 L854.5,844.5 L855.0,915.6 L855.5,854.3 L856.0,913.1 L856.5,852.3 L857.0,910.6 L857.5,847.5 L858.0,912.8 L858.5,848.5 L859.0,910.9 L859.5,855.3 L860.0,915.5 L860.5,841.2 L861.0,912.0 L861.5,843.0 L862.0,908.4 L862.5,848.8 L863.0,905.3 L863.5,846.2 L864.0,905.8 L864.5,846.0 L865.0,910.4 L865.5,840.1 L866.0,914.6 L866.5,856.4 L867.0,916.7 L867.5,848.5 L868.0,910.1 L868.5,853.8 L869.0,906.1 L869.5,850.1 L870.0,913.0 L870.5,852.4 L871.0,909.9 L871.5,843.0 L872.0,910.7 L872.5,857.7 L873.0,906.2 L873.5,846.7 L874.0,917.3 L874.5,857.0 L875.0,910.8 L875.5,844.0 L876.0,912.3 L876.5,847.8 L877.0,916.6 L877.5,840.1 L878.0,906.5 L878.5,844.0 L879.0,912.9 L879.5,856.0 L880.0,906.1 L880.5,855.4 L881.0,909.5 L881.5,843.9 L882.0,905.9 L882.5,847.7 L883.0,908.7 L883.5,850.1 L884.0,912.5 L884.5,860.1 L885.0,909.5 L885.5,859.8 L886.0,908.1 L886.5,844.2 L887.0,916.1 L887.5,856.2 L888.0,909.5 L888.5,859.4 L889.0,912.1 L889.5,844.0 L890.0,906.3 L890.5,853.0 L891.0,914.2 L891.5,853.3 L892.0,907.1 L892.5,847.4 L893.0,914.6 L893.5,858.1 L894.0,906.5 L894.5,852.1 L895.0,908.6 L895.5,841.9 L896.0,916.8 L896.5,849.3 L897.0,913.5 L897.5,853.8 L898.0,906.9 L898.5,846.1 L899.0,908.3 L899.5,860.8 L900.0,914.2 L900.5,852.8 L901.0,905.8 L901.5,850.5 L902.0,911.0 L902.5,859.8 L903.0,914.3 L903.5,846.1 L904.0,914.4 L904.5,841.6 L905.0,918.4 L905.5,855.3 L906.0,909.8 L906.5,849.1 L907.0,914.7 L907.5,844.0 L908.0,916.8 L908.5,858.1 L909.0,905.3 L909.5,855.9 L910.0,906.1 L910.5,846.0 L911.0,906.4 L911.5,856.1 L912.0,908.1 L912.5,850.0 L913.0,912.1 L913.5,844.5 L914.0,907.4 L914.5,846.9 L915.0,909.7 L915.5,851.6 L916.0,914.5 L916.5,840.9 L917.0,918.1 L917.5,844.0 L918.0,912.2 L918.5,852.6 L919.0,905.0 L919.5,847.7 L920.0,912.9 L920.5,850.3 L921.0,917.5 L921.5,839.8 L922.0,907.6 L922.5,845.9 L923.0,908.2 L923.5,849.1 L924.0,908.5 L924.5,849.6 L925.0,915.0 L925.5,852.7 L926.0,907.1 L926.5,852.3 L927.0,908.2 L927.5,856.7 L928.0,916.9 L928.5,859.2 L929.0,909.2 L929.5,863.6 L930.0,915.2 L930.5,866.0 L931.0,909.1 L931.5,867.2 L932.0,906.5 L932.5,869.4 L933.0,907.3 L933.5,870.6 L934.0,910.1 L934.5,871.9 L935.0,912.8 L935.5,871.4 L936.0,913.3 L936.5,871.6 L937.0,909.1 L937.5,872.2 L938.0,912.2 L938.5,871.4 L939.0,911.3 L939.5,872.0 L940.0,907.8 L940.5,873.0 L941.0,907.0 L941.5,871.7 L942.0,911.8 L942.5,870.7 L943.0,910.6 L943.5,873.0 L944.0,908.4 L944.5,870.3 L945.0,907.0 L945.5,871.3 L946.0,909.1 L946.5,872.0 L947.0,912.5 L947.5,870.2 L948.0,908.1 L948.5,871.4 L949.0,910.8 L949.5,871.1 L950.0,906.4 L950.5,872.9 L951.0,911.4 L951.5,872.7 L952.0,909.3 L952.5,869.1 L953.0,909.3 L953.5,866.9 L954.0,914.0 L954.5,862.6 L955.0,907.2 L955.5,855.4 L956.0,905.1 L956.5,856.2 L957.0,915.4 L957.5,846.2 L958.0,915.2 L958.5,851.8 L959.0,915.5 L959.5,852.7 L960.0,903.4 L960.5,850.5 L961.0,902.7 L961.5,855.2 L962.0,906.3 L962.5,853.3 L963.0,915.3 L963.5,850.0 L964.0,911.5 L964.5,855.5 L965.0,918.7 L965.5,850.9 L966.0,917.7 L966.5,857.2 L967.0,920.9 L967.5,850.8 L968.0,919.5 L968.5,852.0 L969.0,917.5 L969.5,850.0 L970.0,910.4 L970.5,851.3 L971.0,916.5 L971.5,853.4 L972.0,918.7 L972.5,854.1 L973.0,908.2 L973.5,856.2 L974.0,912.0 L974.5,849.6 L975.0,918.0 L975.5,852.7 L976.0,908.3 L976.5,858.8 L977.0,916.3 L977.5,851.7 L978.0,922.2 L978.5,850.6 L979.0,910.0 L979.5,853.0 L980.0,915.6 L980.5,858.9 L981.0,913.1 L981.5,858.9 L982.0,921.4 L982.5,851.2 L983.0,916.3 L983.5,850.5 L984.0,922.1 L984.5,861.9 L985.0,914.2 L985.5,855.0 L986.0,922.3 L986.5,856.8 L987.0,919.2 L987.5,856.1 L988.0,910.0 L988.5,851.5 L989.0,913.9 L989.5,857.7 L990.0,918.6 L990.5,850.4 L991.0,912.4 L991.5,854.8 L992.0,915.2 L992.5,847.9 L993.0,921.9 L993.5,856.3 L994.0,922.7 L994.5,859.1 L995.0,916.9 L995.5,854.9 L996.0,915.5 L996.5,856.9 L997.0,922.4 L997.5,851.0 L998.0,921.1 L998.5,860.9 L999.0,923.8 L999.5,852.4 L1000.0,914.1 L1000.5,849.6 L1001.0,913.4 L1001.5,852.6 L1002.0,924.2 L1002.5,847.9 L1003.0,921.9 L1003.5,863.3 L1004.0,914.8 L1004.5,859.5 L1005.0,916.8 L1005.5,851.7 L1006.0,923.5 L1006.5,851.4 L1007.0,913.9 L1007.5,847.7 L1008.0,919.4 L1008.5,850.7 L1009.0,917.6 L1009.5,857.1 L1010.0,923.0 L1010.5,848.8 L1011.0,925.2 L1011.5,857.0 L1012.0,925.0 L1012.5,864.4 L1013.0,919.3 L1013.5,847.6 L1014.0,920.0 L1014.5,863.0 L1015.0,920.2 L1015.5,847.9 L1016.0,924.1 L1016.5,854.0 L1017.0,915.8 L1017.5,846.0 L1018.0,913.8 L1018.5,851.4 L1019.0,916.7 L1019.5,848.7 L1020.0,915.0 L1020.5,851.9 L1021.0,923.3 L1021.5,865.9 L1022.0,924.8 L1022.5,849.5 L1023.0,917.6 L1023.5,856.5 L1024.0,923.0 L1024.5,851.0 L1025.0,920.9 L1025.5,857.0 L1026.0,925.5 L1026.5,850.6 L1027.0,915.3 L1027.5,846.4 L1028.0,922.5 L1028.5,857.2 L1029.0,919.5 L1029.5,847.0 L1030.0,923.3 L1030.5,861.9 L1031.0,921.0 L1031.5,849.9 L1032.0,915.8 L1032.5,854.0 L1033.0,919.7 L1033.5,854.0 L1034.0,918.5 L1034.5,861.2 L1035.0,922.7 L1035.5,859.5 L1036.0,917.4 L1036.5,850.0 L1037.0,922.1 L1037.5,863.7 L1038.0,919.1 L1038.5,846.0 L1039.0,920.0 L1039.5,857.3 L1040.0,926.0 L1040.5,857.2 L1041.0,927.2 L1041.5,857.2 L1042.0,926.0 L1042.5,846.4 L1043.0,924.0 L1043.5,861.4 L1044.0,927.2 L1044.5,847.6 L1045.0,920.3 L1045.5,846.2 L1046.0,926.4 L1046.5,846.9 L1047.0,919.6 L1047.5,862.7 L1048.0,916.6 L1048.5,853.8 L1049.0,916.4 L1049.5,863.6 L1050.0,916.7 L1050.5,857.7 L1051.0,920.7 L1051.5,850.2 L1052.0,920.8 L1052.5,860.4 L1053.0,917.8 L1053.5,857.4 L1054.0,926.8 L1054.5,857.4 L1055.0,926.8 L1055.5,849.5 L1056.0,920.3 L1056.5,850.3 L1057.0,919.9 L1057.5,853.7 L1058.0,927.6 L1058.5,857.2 L1059.0,925.2 L1059.5,852.3 L1060.0,925.7 L1060.5,861.1 L1061.0,928.3 L1061.5,854.0 L1062.0,919.0 L1062.5,858.3 L1063.0,918.6 L1063.5,850.5 L1064.0,921.5 L1064.5,855.3 L1065.0,922.8 L1065.5,858.4 L1066.0,926.9 L1066.5,849.0 L1067.0,920.3 L1067.5,847.4 L1068.0,925.4 L1068.5,847.0 L1069.0,924.8 L1069.5,850.4 L1070.0,922.9 L1070.5,847.3 L1071.0,921.7 L1071.5,850.6 L1072.0,925.1 L1072.5,853.3 L1073.0,925.3 L1073.5,849.2 L1074.0,924.3 L1074.5,852.7 L1075.0,929.7 L1075.5,864.5 L1076.0,928.3 L1076.5,854.3 L1077.0,930.3 L1077.5,865.3 L1078.0,922.4 L1078.5,864.2 L1079.0,920.4 L1079.5,855.1 L1080.0,926.8 L1080.5,855.2 L1081.0,930.1 L1081.5,859.8 L1082.0,926.4 L1082.5,857.9 L1083.0,924.7 L1083.5,858.5 L1084.0,922.8 L1084.5,856.6 L1085.0,927.7 L1085.5,854.0 L1086.0,930.3 L1086.5,851.1 L1087.0,924.2 L1087.5,853.9 L1088.0,929.8 L1088.5,856.9 L1089.0,920.4 L1089.5,847.7 L1090.0,921.0 L1090.5,860.1 L1091.0,925.0 L1091.5,856.7 L1092.0,921.0 L1092.5,848.6 L1093.0,930.9 L1093.5,854.4 L1094.0,920.9 L1094.5,858.2 L1095.0,923.6 L1095.5,860.8 L1096.0,923.9 L1096.5,857.4 L1097.0,920.5 L1097.5,858.5 L1098.0,920.0 L1098.5,865.5 L1099.0,925.3 L1099.5,853.6 L1100.0,924.8 L1100.5,858.2 L1101.0,921.3 L1101.5,857.8 L1102.0,928.7 L1102.5,853.4 L1103.0,926.2 L1103.5,863.4 L1104.0,927.3 L1104.5,852.4 L1105.0,922.3 L1105.5,867.8 L1106.0,923.6 L1106.5,857.8 L1107.0,925.7 L1107.5,849.4 L1108.0,923.3 L1108.5,859.5 L1109.0,926.5 L1109.5,850.3 L1110.0,930.0 L1110.5,850.8 L1111.0,922.5 L1111.5,862.9 L1112.0,928.6 L1112.5,854.9 L1113.0,921.0 L1113.5,864.0 L1114.0,925.5 L1114.5,863.9 L1115.0,925.3 L1115.5,858.8 L1116.0,929.4 L1116.5,860.9 L1117.0,924.0 L1117.5,860.9 L1118.0,926.1 L1118.5,851.7 L1119.0,921.4 L1119.5,863.1 L1120.0,926.2 L1120.5,865.2 L1121.0,925.6 L1121.5,859.1 L1122.0,924.2 L1122.5,858.9 L1123.0,930.1 L1123.5,864.0 L1124.0,929.7 L1124.5,857.5 L1125.0,928.1 L1125.5,863.6 L1126.0,928.8 L1126.5,865.6 L1127.0,922.9 L1127.5,858.0 L1128.0,922.1 L1128.5,858.2 L1129.0,920.8 L1129.5,868.4 L1130.0,921.8 L1130.5,861.6 L1131.0,923.5 L1131.5,865.1 L1132.0,922.4 L1132.5,858.3 L1133.0,930.1 L1133.5,858.5 L1134.0,930.4 L1134.5,868.3 L1135.0,920.5 L1135.5,867.7 L1136.0,922.2 L1136.5,867.1 L1137.0,928.7 L1137.5,857.8 L1138.0,923.6 L1138.5,869.0 L1139.0,921.1 L1139.5,867.4 L1140.0,926.8 L1140.5,858.1 L1141.0,927.9 L1141.5,863.0 L1142.0,931.9 L1142.5,860.1 L1143.0,920.9 L1143.5,854.7 L1144.0,920.8 L1144.5,869.4 L1145.0,922.0 L1145.5,857.0 L1146.0,930.6 L1146.5,859.0 L1147.0,924.6 L1147.5,869.6 L1148.0,923.6 L1148.5,866.2 L1149.0,928.7 L1149.5,865.6 L1150.0,927.7 L1150.5,869.5 L1151.0,923.2 L1151.5,857.5 L1152.0,930.9 L1152.5,863.6 L1153.0,922.9 L1153.5,852.9" stroke="#0000ff" stroke-width="1.1" fill="none" stroke-linejoin="bevel"/>
<path d="M165.5,929.9 L166.0,965.9 L166.5,930.7 L167.0,976.5 L167.5,941.6 L168.0,966.3 L168.5,942.0 L169.0,970.2 L169.5,933.4 L170.0,981.6 L170.5,945.5 L171.0,965.0 L171.5,940.7 L172.0,979.3 L172.5,940.7 L173.0,966.0 L173.5,945.3 L174.0,965.7 L174.5,946.0 L175.0,965.4 L175.5,930.5 L176.0,977.2 L176.5,935.0 L177.0,970.0 L177.5,930.8 L178.0,971.1 L178.5,943.0 L179.0,965.4 L179.5,943.1 L180.0,970.9 L180.5,937.9 L181.0,965.4 L181.5,944.9 L182.0,965.2 L182.5,945.1 L183.0,966.5 L183.5,937.2 L184.0,977.1 L184.5,929.7 L185.0,965.4 L185.5,928.8 L186.0,965.6 L186.5,937.8 L187.0,967.4 L187.5,944.9 L188.0,978.1 L188.5,940.0 L189.0,974.6 L189.5,943.2 L190.0,965.3 L190.5,937.3 L191.0,969.7 L191.5,943.6 L192.0,972.9 L192.5,940.6 L193.0,979.1 L193.5,928.6 L194.0,974.6 L194.5,945.6 L195.0,976.3 L195.5,938.1 L196.0,969.5 L196.5,945.0 L197.0,967.2 L197.5,943.6 L198.0,970.6 L198.5,944.5 L199.0,968.4 L199.5,940.7 L200.0,978.7 L200.5,939.3 L201.0,978.1 L201.5,929.0 L202.0,968.1 L202.5,927.9 L203.0,976.0 L203.5,935.7 L204.0,981.0 L204.5,942.8 L205.0,965.0 L205.5,929.2 L206.0,965.2 L206.5,941.4 L207.0,972.4 L207.5,927.5 L208.0,971.7 L208.5,945.3 L209.0,967.9 L209.5,932.7 L210.0,965.2 L210.5,933.1 L211.0,969.7 L211.5,946.0 L212.0,965.0 L212.5,944.8 L213.0,970.5 L213.5,939.0 L214.0,972.8 L214.5,944.1 L215.0,969.9 L215.5,937.3 L216.0,965.6 L216.5,946.0 L217.0,980.7 L217.5,945.9 L218.0,966.7 L218.5,938.1 L219.0,966.7 L219.5,933.3 L220.0,975.0 L220.5,945.2 L221.0,971.9 L221.5,945.8 L222.0,971.8 L222.5,933.1 L223.0,973.9 L223.5,930.1 L224.0,965.0 L224.5,945.1 L225.0,980.2 L225.5,944.7 L226.0,972.3 L226.5,943.1 L227.0,972.5 L227.5,943.2 L228.0,969.9 L228.5,944.8 L229.0,968.6 L229.5,934.7 L230.0,966.5 L230.5,934.4 L231.0,965.3 L231.5,945.9 L232.0,966.2 L232.5,932.1 L233.0,965.6 L233.5,930.4 L234.0,973.6 L234.5,935.4 L235.0,976.6 L235.5,943.3 L236.0,969.6 L236.5,945.3 L237.0,969.9 L237.5,929.9 L238.0,965.6 L238.5,937.7 L239.0,981.9 L239.5,931.8 L240.0,967.7 L240.5,945.3 L241.0,974.8 L241.5,942.0 L242.0,968.0 L242.5,931.7 L243.0,967.6 L243.5,935.6 L244.0,976.7 L244.5,943.0 L245.0,974.8 L245.5,945.6 L246.0,976.6 L246.5,945.7 L247.0,981.6 L247.5,945.4 L248.0,968.4 L248.5,945.3 L249.0,965.8 L249.5,945.9 L250.0,965.0 L250.5,944.1 L251.0,968.5 L251.5,926.2 L252.0,979.3 L252.5,942.9 L253.0,965.3 L253.5,940.9 L254.0,965.5 L254.5,941.3 L255.0,972.6 L255.5,940.4 L256.0,969.5 L256.5,940.2 L257.0,975.6 L257.5,945.4 L258.0,965.2 L258.5,928.3 L259.0,981.0 L259.5,940.9 L260.0,979.2 L260.5,944.0 L261.0,965.1 L261.5,941.7 L262.0,974.8 L262.5,934.4 L263.0,977.3 L263.5,935.2 L264.0,965.5 L264.5,945.4 L265.0,971.1 L265.5,928.5 L266.0,969.5 L266.5,927.4 L267.0,976.0 L267.5,933.1 L268.0,972.0 L268.5,942.2 L269.0,973.1 L269.5,943.8 L270.0,965.7 L270.5,934.2 L271.0,974.0 L271.5,927.6 L272.0,967.8 L272.5,940.5 L273.0,965.1 L273.5,939.8 L274.0,965.0 L274.5,938.0 L275.0,965.1 L275.5,945.0 L276.0,978.1 L276.5,941.9 L277.0,973.5 L277.5,933.0 L278.0,971.5 L278.5,936.8 L279.0,967.8 L279.5,942.9 L280.0,967.5 L280.5,934.6 L281.0,966.9 L281.5,943.1 L282.0,975.5 L282.5,935.8 L283.0,967.6 L283.5,939.3 L284.0,972.5 L284.5,939.2 L285.0,965.6 L285.5,944.3 L286.0,982.0 L286.5,942.0 L287.0,970.7 L287.5,930.2 L288.0,966.2 L288.5,941.1 L289.0,965.1 L289.5,944.0 L290.0,965.7 L290.5,932.3 L291.0,968.8 L291.5,941.8 L292.0,970.1 L292.5,944.0 L293.0,975.1 L293.5,935.3 L294.0,968.4 L294.5,936.7 L295.0,972.0 L295.5,937.9 L296.0,968.9 L296.5,938.0 L297.0,980.7 L297.5,944.1 L298.0,965.1 L298.5,934.1 L299.0,965.7 L299.5,943.9 L300.0,969.0 L300.5,936.3 L301.0,971.9 L301.5,939.0 L302.0,965.2 L302.5,937.0 L303.0,964.8 L303.5,933.6 L304.0,962.1 L304.5,932.2 L305.0,962.3 L305.5,932.7 L306.0,962.6 L306.5,928.8 L307.0,963.4 L307.5,932.4 L308.0,963.2 L308.5,928.6 L309.0,963.4 L309.5,932.1 L310.0,963.8 L310.5,929.6 L311.0,964.2 L311.5,930.7 L312.0,966.4 L312.5,932.9 L313.0,965.3 L313.5,933.9 L314.0,965.5 L314.5,933.3 L315.0,965.6 L315.5,933.5 L316.0,965.4 L316.5,937.7 L317.0,966.3 L317.5,937.9 L318.0,967.4 L318.5,937.8 L319.0,968.2 L319.5,939.2 L320.0,968.1 L320.5,939.4 L321.0,967.1 L321.5,940.2 L322.0,967.2 L322.5,940.8 L323.0,970.1 L323.5,940.8 L324.0,969.1 L324.5,939.0 L325.0,971.0 L325.5,937.8 L326.0,969.8 L326.5,937.7 L327.0,967.8 L327.5,934.6 L328.0,967.0 L328.5,939.7 L329.0,969.3 L329.5,939.1 L330.0,966.1 L330.5,938.7 L331.0,965.7 L331.5,938.3 L332.0,968.5 L332.5,936.2 L333.0,965.0 L333.5,933.3 L334.0,966.9 L334.5,935.2 L335.0,966.8 L335.5,935.1 L336.0,965.8 L336.5,935.6 L337.0,964.2 L337.5,931.1 L338.0,963.1 L338.5,934.8 L339.0,963.7 L339.5,933.0 L340.0,962.6 L340.5,931.6 L341.0,964.0 L341.5,933.2 L342.0,962.3 L342.5,931.4 L343.0,961.2 L343.5,930.4 L344.0,961.0 L344.5,930.8 L345.0,961.3 L345.5,929.2 L346.0,960.0 L346.5,931.5 L347.0,962.9 L347.5,932.5 L348.0,961.5 L348.5,934.0 L349.0,961.9 L349.5,933.5 L350.0,961.7 L350.5,933.5 L351.0,962.0 L351.5,938.3 L352.0,964.2 L352.5,941.7 L353.0,967.9 L353.5,944.8 L354.0,968.8 L354.5,947.9 L355.0,971.6 L355.5,950.0 L356.0,972.8 L356.5,952.2 L357.0,975.8 L357.5,954.0 L358.0,979.8 L358.5,948.0 L359.0,971.7 L359.5,946.4 L360.0,970.0 L360.5,945.3 L361.0,983.1 L361.5,947.7 L362.0,968.3 L362.5,946.1 L363.0,968.2 L363.5,941.3 L364.0,973.4 L364.5,942.4 L365.0,975.7 L365.5,947.8 L366.0,971.2 L366.5,933.7 L367.0,969.7 L367.5,932.0 L368.0,970.9 L368.5,945.4 L369.0,977.7 L369.5,944.7 L370.0,971.8 L370.5,948.4 L371.0,974.0 L371.5,936.6 L372.0,970.0 L372.5,946.9 L373.0,971.4 L373.5,941.1 L374.0,969.5 L374.5,938.0 L375.0,975.6 L375.5,945.7 L376.0,970.5 L376.5,941.8 L377.0,970.0 L377.5,948.7 L378.0,970.4 L378.5,948.1 L379.0,971.1 L379.5,930.4 L380.0,970.0 L380.5,942.1 L381.0,971.7 L381.5,949.1 L382.0,974.7 L382.5,948.3 L383.0,970.3 L383.5,932.7 L384.0,971.0 L384.5,949.2 L385.0,984.1 L385.5,941.5 L386.0,972.1 L386.5,948.4 L387.0,970.9 L387.5,949.2 L388.0,982.7 L388.5,947.3 L389.0,980.1 L389.5,943.6 L390.0,971.1 L390.5,942.9 L391.0,980.7 L391.5,944.3 L392.0,982.6 L392.5,949.3 L393.0,980.8 L393.5,945.6 L394.0,971.4 L394.5,930.9 L395.0,982.2 L395.5,947.9 L396.0,971.6 L396.5,949.0 L397.0,975.3 L397.5,933.9 L398.0,972.9 L398.5,944.9 L399.0,971.9 L399.5,943.3 L400.0,975.7 L400.5,946.2 L401.0,984.7 L401.5,949.6 L402.0,981.9 L402.5,939.6 L403.0,972.9 L403.5,950.2 L404.0,972.9 L404.5,931.5 L405.0,972.5 L405.5,941.7 L406.0,973.4 L406.5,944.7 L407.0,976.1 L407.5,942.0 L408.0,984.0 L408.5,945.8 L409.0,982.9 L409.5,938.0 L410.0,980.0 L410.5,943.6 L411.0,973.1 L411.5,945.0 L412.0,974.8 L412.5,949.4 L413.0,973.4 L413.5,933.0 L414.0,983.9 L414.5,950.2 L415.0,974.0 L415.5,936.2 L416.0,977.1 L416.5,945.8 L417.0,973.8 L417.5,938.9 L418.0,974.0 L418.5,949.8 L419.0,974.3 L419.5,947.8 L420.0,974.4 L420.5,949.6 L421.0,976.8 L421.5,950.1 L422.0,975.3 L422.5,948.4 L423.0,984.1 L423.5,951.2 L424.0,986.9 L424.5,949.8 L425.0,974.4 L425.5,950.7 L426.0,977.3 L426.5,949.7 L427.0,982.9 L427.5,945.8 L428.0,978.4 L428.5,948.3 L429.0,976.7 L429.5,951.5 L430.0,982.2 L430.5,950.6 L431.0,981.4 L431.5,948.7 L432.0,975.4 L432.5,942.6 L433.0,984.6 L433.5,948.1 L434.0,985.7 L434.5,943.3 L435.0,986.1 L435.5,952.1 L436.0,979.9 L436.5,947.7 L437.0,979.2 L437.5,949.8 L438.0,980.0 L438.5,936.7 L439.0,979.6 L439.5,949.9 L440.0,975.9 L440.5,944.9 L441.0,983.2 L441.5,938.4 L442.0,976.1 L442.5,949.0 L443.0,979.2 L443.5,947.3 L444.0,984.9 L444.5,946.5 L445.0,978.7 L445.5,952.5 L446.0,980.3 L446.5,942.0 L447.0,976.5 L447.5,952.1 L448.0,977.8 L448.5,946.1 L449.0,976.6 L449.5,950.7 L450.0,980.2 L450.5,943.1 L451.0,977.8 L451.5,949.4 L452.0,981.0 L452.5,949.8 L453.0,980.9 L453.5,937.9 L454.0,979.0 L454.5,940.0 L455.0,979.7 L455.5,949.3 L456.0,978.2 L456.5,941.8 L457.0,985.5 L457.5,949.1 L458.0,984.4 L458.5,938.0 L459.0,978.6 L459.5,940.6 L460.0,977.8 L460.5,952.6 L461.0,982.3 L461.5,943.1 L462.0,980.4 L462.5,937.7 L463.0,980.8 L463.5,951.1 L464.0,981.4 L464.5,939.9 L465.0,978.6 L465.5,945.7 L466.0,987.0 L466.5,939.8 L467.0,978.3 L467.5,939.1 L468.0,978.4 L468.5,940.6 L469.0,984.0 L469.5,942.8 L470.0,978.7 L470.5,953.8 L471.0,989.3 L471.5,949.9 L472.0,979.6 L472.5,941.2 L473.0,980.0 L473.5,941.2 L474.0,979.0 L474.5,948.8 L475.0,984.7 L475.5,954.3 L476.0,979.2 L476.5,946.1 L477.0,983.2 L477.5,953.7 L478.0,979.5 L478.5,954.6 L479.0,979.7 L479.5,950.1 L480.0,988.5 L480.5,952.9 L481.0,984.7 L481.5,954.8 L482.0,980.0 L482.5,950.7 L483.0,989.7 L483.5,952.6 L484.0,982.1 L484.5,953.0 L485.0,980.8 L485.5,954.6 L486.0,980.8 L486.5,944.0 L487.0,983.7 L487.5,952.9 L488.0,981.8 L488.5,940.8 L489.0,989.1 L489.5,945.0 L490.0,987.3 L490.5,946.9 L491.0,982.3 L491.5,953.9 L492.0,985.9 L492.5,947.6 L493.0,983.9 L493.5,947.6 L494.0,983.4 L494.5,953.5 L495.0,981.7 L495.5,952.2 L496.0,982.4 L496.5,940.9 L497.0,979.4 L497.5,953.0 L498.0,980.8 L498.5,950.3 L499.0,984.1 L499.5,946.7 L500.0,983.8 L500.5,948.0 L501.0,982.4 L501.5,949.8 L502.0,980.6 L502.5,946.8 L503.0,980.4 L503.5,947.5 L504.0,987.0 L504.5,951.4 L505.0,979.1 L505.5,952.2 L506.0,988.7 L506.5,943.3 L507.0,982.3 L507.5,952.0 L508.0,984.4 L508.5,951.9 L509.0,988.6 L509.5,940.8 L510.0,984.2 L510.5,952.3 L511.0,982.6 L511.5,951.5 L512.0,978.7 L512.5,949.7 L513.0,979.1 L513.5,945.4 L514.0,978.9 L514.5,943.6 L515.0,978.6 L515.5,951.8 L516.0,985.1 L516.5,940.9 L517.0,978.7 L517.5,943.7 L518.0,983.2 L518.5,951.0 L519.0,981.0 L519.5,950.6 L520.0,980.7 L520.5,949.4 L521.0,982.8 L521.5,936.0 L522.0,980.7 L522.5,949.6 L523.0,978.2 L523.5,939.4 L524.0,984.4 L524.5,949.9 L525.0,978.4 L525.5,950.3 L526.0,979.0 L526.5,936.7 L527.0,987.1 L527.5,944.4 L528.0,978.1 L528.5,951.2 L529.0,979.3 L529.5,946.3 L530.0,982.7 L530.5,945.8 L531.0,977.5 L531.5,948.9 L532.0,977.4 L532.5,947.0 L533.0,982.4 L533.5,940.2 L534.0,980.0 L534.5,942.6 L535.0,983.4 L535.5,945.9 L536.0,977.1 L536.5,948.8 L537.0,982.4 L537.5,941.5 L538.0,978.3 L538.5,948.0 L539.0,982.6 L539.5,948.0 L540.0,981.2 L540.5,940.4 L541.0,976.8 L541.5,947.6 L542.0,986.3 L542.5,948.7 L543.0,982.8 L543.5,942.7 L544.0,977.5 L544.5,936.1 L545.0,976.5 L545.5,947.8 L546.0,979.9 L546.5,947.9 L547.0,982.3 L547.5,947.7 L548.0,979.9 L548.5,944.3 L549.0,985.1 L549.5,939.1 L550.0,975.7 L550.5,947.2 L551.0,976.0 L551.5,945.4 L552.0,982.1 L552.5,946.7 L553.0,978.2 L553.5,945.5 L554.0,975.8 L554.5,935.6 L555.0,975.2 L555.5,944.8 L556.0,982.5 L556.5,934.2 L557.0,982.1 L557.5,944.7 L558.0,975.8 L558.5,934.7 L559.0,974.7 L559.5,941.9 L560.0,983.0 L560.5,936.7 L561.0,974.5 L561.5,944.5 L562.0,974.3 L562.5,942.7 L563.0,978.4 L563.5,943.1 L564.0,980.2 L564.5,939.0 L565.0,980.2 L565.5,939.5 L566.0,972.7 L566.5,941.4 L567.0,973.6 L567.5,941.4 L568.0,972.8 L568.5,937.0 L569.0,971.8 L569.5,938.4 L570.0,976.2 L570.5,932.1 L571.0,975.2 L571.5,941.0 L572.0,971.1 L572.5,940.8 L573.0,970.2 L573.5,933.6 L574.0,970.0 L574.5,931.6 L575.0,969.9 L575.5,937.4 L576.0,972.2 L576.5,934.5 L577.0,973.7 L577.5,933.5 L578.0,973.9 L578.5,928.7 L579.0,969.1 L579.5,935.6 L580.0,968.7 L580.5,936.9 L581.0,969.7 L581.5,935.8 L582.0,967.4 L582.5,936.8 L583.0,968.4 L583.5,928.9 L584.0,967.2 L584.5,935.6 L585.0,970.9 L585.5,930.9 L586.0,966.2 L586.5,933.8 L587.0,967.4 L587.5,929.3 L588.0,966.3 L588.5,926.5 L589.0,965.3 L589.5,931.5 L590.0,972.1 L590.5,930.6 L591.0,972.5 L591.5,930.1 L592.0,965.1 L592.5,931.5 L593.0,966.4 L593.5,932.3 L594.0,966.2 L594.5,932.4 L595.0,964.4 L595.5,933.0 L596.0,963.3 L596.5,931.0 L597.0,963.5 L597.5,930.9 L598.0,972.1 L598.5,931.1 L599.0,964.0 L599.5,925.7 L600.0,962.4 L600.5,929.3 L601.0,970.3 L601.5,928.8 L602.0,969.0 L602.5,929.8 L603.0,969.5 L603.5,925.7 L604.0,960.3 L604.5,929.9 L605.0,959.9 L605.5,929.2 L606.0,961.8 L606.5,923.5 L607.0,960.3 L607.5,924.3 L608.0,965.3 L608.5,925.6 L609.0,965.7 L609.5,926.9 L610.0,964.7 L610.5,926.9 L611.0,958.2 L611.5,926.0 L612.0,956.9 L612.5,919.8 L613.0,958.4 L613.5,925.9 L614.0,962.1 L614.5,919.8 L615.0,955.8 L615.5,923.0 L616.0,956.0 L616.5,924.2 L617.0,955.0 L617.5,919.0 L618.0,958.5 L618.5,923.2 L619.0,961.9 L619.5,921.0 L620.0,954.3 L620.5,922.7 L621.0,958.6 L621.5,916.2 L622.0,960.6 L622.5,920.1 L623.0,952.3 L623.5,918.1 L624.0,951.8 L624.5,920.6 L625.0,957.0 L625.5,917.1 L626.0,952.7 L626.5,919.3 L627.0,955.4 L627.5,914.6 L628.0,954.5 L628.5,918.5 L629.0,952.5 L629.5,918.6 L630.0,956.5 L630.5,912.7 L631.0,948.9 L631.5,916.7 L632.0,953.6 L632.5,917.4 L633.0,951.6 L633.5,916.5 L634.0,953.2 L634.5,915.4 L635.0,947.1 L635.5,915.4 L636.0,951.0 L636.5,913.6 L637.0,947.2 L637.5,913.8 L638.0,947.1 L638.5,909.8 L639.0,947.3 L639.5,914.2 L640.0,946.7 L640.5,910.4 L641.0,947.4 L641.5,913.7 L642.0,948.2 L642.5,910.9 L643.0,945.1 L643.5,911.3 L644.0,948.3 L644.5,907.6 L645.0,947.4 L645.5,909.2 L646.0,944.6 L646.5,912.7 L647.0,944.4 L647.5,912.0 L648.0,943.0 L648.5,910.2 L649.0,947.0 L649.5,911.7 L650.0,944.4 L650.5,906.9 L651.0,942.4 L651.5,909.0 L652.0,943.4 L652.5,905.0 L653.0,939.1 L653.5,901.9 L654.0,938.4 L654.5,898.4 L655.0,938.4 L655.5,900.4 L656.0,937.3 L656.5,899.5 L657.0,935.0 L657.5,895.1 L658.0,938.9 L658.5,893.7 L659.0,934.0 L659.5,893.5 L660.0,936.8 L660.5,892.7 L661.0,931.8 L661.5,896.0 L662.0,930.8 L662.5,893.5 L663.0,930.4 L663.5,897.5 L664.0,930.1 L664.5,898.4 L665.0,928.7 L665.5,902.8 L666.0,930.7 L666.5,903.8 L667.0,928.8 L667.5,905.2 L668.0,928.7 L668.5,902.8 L669.0,928.2 L669.5,902.3 L670.0,925.1 L670.5,904.4 L671.0,923.1 L671.5,905.5 L672.0,922.1 L672.5,905.0 L673.0,922.5 L673.5,900.5 L674.0,924.0 L674.5,902.1 L675.0,926.0 L675.5,898.2 L676.0,925.4 L676.5,899.0 L677.0,925.0 L677.5,897.7 L678.0,927.2 L678.5,896.1 L679.0,927.8 L679.5,891.3 L680.0,926.9 L680.5,890.7 L681.0,926.7 L681.5,889.6 L682.0,929.7 L682.5,888.6 L683.0,927.6 L683.5,886.1 L684.0,928.1 L684.5,883.7 L685.0,927.5 L685.5,884.5 L686.0,930.3 L686.5,882.1 L687.0,924.9 L687.5,882.4 L688.0,923.5 L688.5,881.8 L689.0,923.2 L689.5,881.8 L690.0,920.5 L690.5,882.5 L691.0,921.1 L691.5,883.7 L692.0,924.7 L692.5,882.8 L693.0,917.4 L693.5,881.2 L694.0,918.9 L694.5,882.1 L695.0,916.6 L695.5,882.0 L696.0,915.4 L696.5,882.8 L697.0,919.9 L697.5,879.6 L698.0,913.6 L698.5,878.2 L699.0,915.9 L699.5,882.0 L700.0,913.9 L700.5,881.5 L701.0,912.6 L701.5,881.3 L702.0,912.8 L702.5,876.4 L703.0,915.7 L703.5,877.1 L704.0,918.9 L704.5,878.5 L705.0,913.4 L705.5,880.9 L706.0,915.8 L706.5,880.4 L707.0,915.2 L707.5,875.0 L708.0,918.0 L708.5,879.0 L709.0,910.6 L709.5,877.8 L710.0,916.3 L710.5,874.7 L711.0,916.5 L711.5,879.7 L712.0,913.5 L712.5,875.4 L713.0,911.6 L713.5,874.9 L714.0,909.8 L714.5,878.8 L715.0,909.8 L715.5,878.6 L716.0,909.4 L716.5,875.3 L717.0,910.7 L717.5,878.7 L718.0,914.5 L718.5,874.1 L719.0,912.7 L719.5,878.1 L720.0,914.3 L720.5,877.2 L721.0,913.8 L721.5,876.3 L722.0,910.2 L722.5,876.3 L723.0,908.6 L723.5,877.5 L724.0,913.7 L724.5,874.2 L725.0,908.9 L725.5,876.9 L726.0,910.7 L726.5,875.5 L727.0,912.1 L727.5,874.0 L728.0,912.7 L728.5,871.8 L729.0,912.9 L729.5,874.7 L730.0,907.2 L730.5,876.2 L731.0,907.0 L731.5,876.0 L732.0,910.9 L732.5,872.8 L733.0,906.5 L733.5,872.3 L734.0,909.2 L734.5,875.4 L735.0,908.2 L735.5,875.2 L736.0,906.0 L736.5,874.4 L737.0,905.9 L737.5,874.8 L738.0,907.3 L738.5,869.1 L739.0,906.1 L739.5,873.6 L740.0,905.8 L740.5,874.3 L741.0,905.6 L741.5,871.7 L742.0,905.2 L742.5,870.7 L743.0,906.2 L743.5,873.6 L744.0,906.2 L744.5,870.9 L745.0,905.2 L745.5,872.5 L746.0,904.8 L746.5,871.4 L747.0,904.8 L747.5,872.0 L748.0,909.6 L748.5,868.4 L749.0,906.0 L749.5,871.0 L750.0,906.5 L750.5,873.5 L751.0,905.1 L751.5,869.7 L752.0,906.4 L752.5,870.7 L753.0,908.5 L753.5,872.9 L754.0,904.6 L754.5,868.6 L755.0,904.4 L755.5,872.9 L756.0,909.1 L756.5,871.9 L757.0,904.5 L757.5,869.2 L758.0,906.7 L758.5,869.8 L759.0,904.1 L759.5,872.4 L760.0,908.1 L760.5,869.5 L761.0,904.5 L761.5,866.8 L762.0,907.0 L762.5,866.6 L763.0,906.0 L763.5,871.4 L764.0,904.1 L764.5,869.0 L765.0,907.4 L765.5,872.3 L766.0,908.3 L766.5,872.3 L767.0,908.5 L767.5,867.5 L768.0,903.8 L768.5,868.6 L769.0,904.2 L769.5,872.0 L770.0,908.0 L770.5,867.5 L771.0,904.4 L771.5,871.9 L772.0,903.6 L772.5,870.5 L773.0,906.5 L773.5,870.9 L774.0,903.2 L774.5,870.1 L775.0,907.5 L775.5,871.9 L776.0,904.7 L776.5,871.8 L777.0,905.7 L777.5,867.8 L778.0,906.8 L778.5,869.0 L779.0,903.7 L779.5,866.9 L780.0,903.6 L780.5,871.5 L781.0,907.2 L781.5,868.1 L782.0,902.6 L782.5,870.1 L783.0,902.6 L783.5,870.8 L784.0,902.7 L784.5,870.5 L785.0,905.0 L785.5,871.0 L786.0,906.8 L786.5,868.7 L787.0,905.2 L787.5,870.2 L788.0,903.7 L788.5,870.1 L789.0,902.2 L789.5,870.7 L790.0,906.0 L790.5,868.3 L791.0,902.5 L791.5,866.5 L792.0,902.2 L792.5,865.1 L793.0,904.1 L793.5,868.7 L794.0,902.3 L794.5,868.0 L795.0,904.9 L795.5,867.6 L796.0,902.9 L796.5,868.2 L797.0,901.7 L797.5,867.4 L798.0,904.0 L798.5,870.6 L799.0,906.2 L799.5,869.4 L800.0,901.9 L800.5,867.4 L801.0,901.9 L801.5,870.2 L802.0,901.7 L802.5,870.0 L803.0,903.5 L803.5,865.6 L804.0,906.1 L804.5,870.2 L805.0,901.6 L805.5,869.8 L806.0,901.4 L806.5,869.9 L807.0,903.5 L807.5,869.5 L808.0,905.6 L808.5,866.5 L809.0,902.9 L809.5,867.6 L810.0,902.6 L810.5,867.8 L811.0,905.0 L811.5,865.5 L812.0,904.6 L812.5,864.5 L813.0,900.9 L813.5,866.9 L814.0,901.8 L814.5,869.5 L815.0,900.7 L815.5,868.9 L816.0,906.1 L816.5,865.2 L817.0,906.3 L817.5,868.5 L818.0,901.8 L818.5,869.2 L819.0,905.5 L819.5,867.7 L820.0,900.7 L820.5,868.3 L821.0,900.7 L821.5,867.8 L822.0,900.3 L822.5,869.1 L823.0,904.1 L823.5,866.6 L824.0,900.1 L824.5,862.4 L825.0,905.8 L825.5,868.7 L826.0,900.3 L826.5,867.7 L827.0,901.9 L827.5,868.9 L828.0,905.9 L828.5,865.2 L829.0,903.1 L829.5,867.9 L830.0,905.2 L830.5,868.7 L831.0,904.8 L831.5,868.6 L832.0,904.3 L832.5,868.5 L833.0,900.1 L833.5,862.3 L834.0,899.7 L834.5,861.9 L835.0,899.9 L835.5,866.6 L836.0,904.5 L836.5,862.8 L837.0,901.6 L837.5,866.5 L838.0,899.4 L838.5,867.7 L839.0,902.5 L839.5,868.1 L840.0,902.2 L840.5,864.6 L841.0,901.2 L841.5,868.1 L842.0,902.7 L842.5,866.1 L843.0,900.3 L843.5,865.0 L844.0,899.5 L844.5,865.0 L845.0,904.0 L845.5,861.2 L846.0,904.3 L846.5,864.3 L847.0,898.8 L847.5,865.2 L848.0,902.9 L848.5,861.6 L849.0,900.2 L849.5,866.5 L850.0,899.8 L850.5,867.0 L851.0,899.8 L851.5,862.8 L852.0,898.5 L852.5,867.4 L853.0,898.5 L853.5,866.7 L854.0,898.8 L854.5,867.3 L855.0,900.5 L855.5,867.0 L856.0,901.0 L856.5,866.4 L857.0,903.9 L857.5,862.2 L858.0,900.3 L858.5,863.9 L859.0,901.7 L859.5,866.3 L860.0,899.1 L860.5,860.9 L861.0,898.1 L861.5,864.0 L862.0,903.3 L862.5,867.0 L863.0,898.5 L863.5,862.5 L864.0,898.2 L864.5,866.0 L865.0,902.9 L865.5,860.7 L866.0,898.3 L866.5,864.8 L867.0,898.4 L867.5,866.1 L868.0,898.9 L868.5,866.8 L869.0,900.5 L869.5,863.8 L870.0,904.6 L870.5,862.0 L871.0,901.5 L871.5,866.2 L872.0,901.3 L872.5,865.4 L873.0,899.0 L873.5,861.0 L874.0,899.2 L874.5,865.6 L875.0,899.7 L875.5,864.1 L876.0,901.3 L876.5,864.4 L877.0,904.7 L877.5,862.6 L878.0,900.2 L878.5,866.9 L879.0,899.0 L879.5,866.4 L880.0,900.2 L880.5,862.7 L881.0,900.0 L881.5,865.5 L882.0,899.4 L882.5,867.3 L883.0,901.6 L883.5,867.1 L884.0,901.8 L884.5,867.1 L885.0,904.2 L885.5,866.9 L886.0,902.4 L886.5,867.6 L887.0,902.4 L887.5,862.4 L888.0,903.3 L888.5,866.4 L889.0,904.5 L889.5,865.9 L890.0,900.7 L890.5,861.6 L891.0,900.6 L891.5,864.1 L892.0,903.7 L892.5,866.6 L893.0,900.6 L893.5,866.8 L894.0,899.7 L894.5,863.7 L895.0,901.3 L895.5,863.7 L896.0,902.6 L896.5,865.9 L897.0,901.2 L897.5,867.6 L898.0,900.7 L898.5,866.1 L899.0,903.9 L899.5,862.8 L900.0,901.9 L900.5,863.8 L901.0,899.6 L901.5,867.0 L902.0,900.8 L902.5,861.4 L903.0,898.8 L903.5,865.1 L904.0,901.4 L904.5,866.4 L905.0,899.1 L905.5,865.3 L906.0,902.0 L906.5,865.7 L907.0,898.4 L907.5,865.4 L908.0,901.0 L908.5,863.8 L909.0,897.7 L909.5,860.3 L910.0,898.1 L910.5,863.8 L911.0,899.8 L911.5,863.6 L912.0,896.7 L912.5,863.6 L913.0,897.2 L913.5,862.0 L914.0,893.9 L914.5,860.8 L915.0,898.4 L915.5,859.1 L916.0,897.3 L916.5,862.0 L917.0,893.5 L917.5,857.2 L918.0,893.9 L918.5,859.7 L919.0,892.5 L919.5,856.3 L920.0,894.0 L920.5,860.4 L921.0,890.9 L921.5,859.6 L922.0,891.8 L922.5,859.1 L923.0,892.5 L923.5,860.7 L924.0,891.0 L924.5,861.3 L925.0,892.1 L925.5,861.3 L926.0,895.9 L926.5,865.6 L927.0,896.2 L927.5,865.3 L928.0,896.6 L928.5,866.0 L929.0,896.0 L929.5,869.1 L930.0,898.1 L930.5,868.5 L931.0,898.1 L931.5,873.2 L932.0,900.2 L932.5,872.3 L933.0,901.7 L933.5,875.8 L934.0,900.8 L934.5,876.0 L935.0,900.1 L935.5,875.4 L936.0,900.6 L936.5,873.1 L937.0,901.1 L937.5,874.3 L938.0,901.4 L938.5,875.9 L939.0,901.7 L939.5,876.0 L940.0,901.7 L940.5,876.0 L941.0,901.6 L941.5,874.6 L942.0,900.4 L942.5,875.4 L943.0,900.2 L943.5,874.9 L944.0,900.2 L944.5,875.6 L945.0,900.8 L945.5,876.0 L946.0,900.7 L946.5,873.1 L947.0,900.5 L947.5,876.0 L948.0,901.7 L948.5,875.9 L949.0,901.1 L949.5,876.0 L950.0,900.3 L950.5,876.0 L951.0,900.4 L951.5,873.7 L952.0,901.6 L952.5,873.6 L953.0,899.3 L953.5,872.3 L954.0,896.8 L954.5,868.3 L955.0,895.3 L955.5,867.7 L956.0,895.4 L956.5,865.1 L957.0,892.0 L957.5,860.5 L958.0,890.2 L958.5,860.0 L959.0,891.2 L959.5,862.5 L960.0,892.6 L960.5,861.7 L961.0,893.1 L961.5,863.5 L962.0,897.5 L962.5,864.2 L963.0,899.0 L963.5,863.1 L964.0,896.7 L964.5,862.7 L965.0,898.1 L965.5,864.0 L966.0,898.4 L966.5,865.8 L967.0,901.4 L967.5,863.3 L968.0,899.2 L968.5,866.1 L969.0,898.4 L969.5,863.0 L970.0,901.6 L970.5,866.3 L971.0,899.6 L971.5,862.9 L972.0,899.0 L972.5,865.1 L973.0,899.0 L973.5,866.4 L974.0,901.6 L974.5,865.7 L975.0,902.5 L975.5,864.7 L976.0,903.6 L976.5,866.6 L977.0,901.4 L977.5,866.4 L978.0,901.9 L978.5,865.8 L979.0,899.7 L979.5,866.1 L980.0,900.5 L980.5,865.9 L981.0,904.8 L981.5,862.3 L982.0,901.0 L982.5,865.5 L983.0,904.3 L983.5,867.1 L984.0,900.3 L984.5,866.1 L985.0,901.6 L985.5,866.3 L986.0,906.1 L986.5,867.1 L987.0,901.0 L987.5,864.7 L988.0,904.8 L988.5,866.8 L989.0,902.9 L989.5,863.9 L990.0,901.7 L990.5,865.7 L991.0,902.4 L991.5,862.6 L992.0,902.8 L992.5,866.9 L993.0,901.6 L993.5,867.8 L994.0,903.8 L994.5,868.1 L995.0,901.8 L995.5,864.9 L996.0,902.1 L996.5,868.1 L997.0,902.1 L997.5,867.6 L998.0,906.5 L998.5,864.7 L999.0,904.7 L999.5,867.8 L1000.0,906.6 L1000.5,868.3 L1001.0,903.5 L1001.5,867.7 L1002.0,907.5 L1002.5,866.3 L1003.0,909.8 L1003.5,866.5 L1004.0,907.9 L1004.5,865.1 L1005.0,906.4 L1005.5,863.2 L1006.0,904.7 L1006.5,868.8 L1007.0,907.4 L1007.5,865.1 L1008.0,906.7 L1008.5,866.8 L1009.0,909.5 L1009.5,863.3 L1010.0,908.9 L1010.5,862.2 L1011.0,905.9 L1011.5,865.4 L1012.0,907.3 L1012.5,869.4 L1013.0,909.4 L1013.5,868.5 L1014.0,906.5 L1014.5,869.6 L1015.0,906.5 L1015.5,869.4 L1016.0,905.1 L1016.5,865.9 L1017.0,912.5 L1017.5,862.5 L1018.0,908.4 L1018.5,863.8 L1019.0,905.0 L1019.5,869.4 L1020.0,905.1 L1020.5,867.7 L1021.0,910.9 L1021.5,863.1 L1022.0,913.0 L1022.5,868.9 L1023.0,912.7 L1023.5,868.2 L1024.0,909.6 L1024.5,867.0 L1025.0,910.7 L1025.5,869.6 L1026.0,911.9 L1026.5,869.9 L1027.0,913.2 L1027.5,869.6 L1028.0,905.7 L1028.5,866.2 L1029.0,911.6 L1029.5,870.1 L1030.0,907.1 L1030.5,869.3 L1031.0,913.1 L1031.5,870.3 L1032.0,914.8 L1032.5,867.3 L1033.0,912.2 L1033.5,867.5 L1034.0,911.5 L1034.5,870.2 L1035.0,912.4 L1035.5,869.7 L1036.0,909.6 L1036.5,870.3 L1037.0,909.0 L1037.5,868.2 L1038.0,906.9 L1038.5,870.4 L1039.0,910.0 L1039.5,870.5 L1040.0,907.3 L1040.5,863.9 L1041.0,914.1 L1041.5,866.1 L1042.0,907.3 L1042.5,870.5 L1043.0,907.5 L1043.5,870.4 L1044.0,907.2 L1044.5,870.4 L1045.0,907.6 L1045.5,870.6 L1046.0,908.1 L1046.5,866.2 L1047.0,909.6 L1047.5,869.4 L1048.0,911.5 L1048.5,870.1 L1049.0,915.2 L1049.5,869.9 L1050.0,908.9 L1050.5,868.5 L1051.0,908.2 L1051.5,870.2 L1052.0,909.9 L1052.5,866.6 L1053.0,908.8 L1053.5,870.3 L1054.0,909.1 L1054.5,869.1 L1055.0,908.5 L1055.5,863.7 L1056.0,908.4 L1056.5,870.1 L1057.0,908.3 L1057.5,863.9 L1058.0,911.3 L1058.5,863.3 L1059.0,916.2 L1059.5,867.1 L1060.0,908.6 L1060.5,871.0 L1061.0,917.0 L1061.5,870.8 L1062.0,910.4 L1062.5,870.8 L1063.0,912.3 L1063.5,871.1 L1064.0,909.6 L1064.5,868.2 L1065.0,915.3 L1065.5,870.4 L1066.0,915.0 L1066.5,870.9 L1067.0,910.9 L1067.5,868.1 L1068.0,910.1 L1068.5,870.9 L1069.0,913.1 L1069.5,865.9 L1070.0,910.0 L1070.5,868.8 L1071.0,909.6 L1071.5,865.5 L1072.0,910.8 L1072.5,863.6 L1073.0,914.8 L1073.5,866.8 L1074.0,910.0 L1074.5,865.8 L1075.0,910.0 L1075.5,868.1 L1076.0,909.9 L1076.5,870.8 L1077.0,911.1 L1077.5,866.5 L1078.0,911.5 L1078.5,870.6 L1079.0,910.7 L1079.5,870.8 L1080.0,916.9 L1080.5,871.5 L1081.0,910.7 L1081.5,869.3 L1082.0,911.4 L1082.5,868.4 L1083.0,911.2 L1083.5,870.4 L1084.0,913.6 L1084.5,870.3 L1085.0,916.1 L1085.5,870.7 L1086.0,910.9 L1086.5,870.2 L1087.0,916.7 L1087.5,864.1 L1088.0,911.1 L1088.5,867.0 L1089.0,913.4 L1089.5,871.3 L1090.0,911.8 L1090.5,871.1 L1091.0,916.8 L1091.5,869.0 L1092.0,911.3 L1092.5,870.8 L1093.0,912.3 L1093.5,868.3 L1094.0,911.5 L1094.5,871.7 L1095.0,911.9 L1095.5,870.2 L1096.0,912.6 L1096.5,868.2 L1097.0,919.7 L1097.5,865.1 L1098.0,911.9 L1098.5,865.3 L1099.0,917.7 L1099.5,871.9 L1100.0,912.9 L1100.5,867.5 L1101.0,918.9 L1101.5,871.0 L1102.0,912.6 L1102.5,870.7 L1103.0,912.3 L1103.5,866.2 L1104.0,913.4 L1104.5,865.5 L1105.0,920.0 L1105.5,869.2 L1106.0,912.5 L1106.5,869.3 L1107.0,916.1 L1107.5,872.0 L1108.0,915.0 L1108.5,871.5 L1109.0,915.9 L1109.5,865.3 L1110.0,913.0 L1110.5,868.4 L1111.0,919.3 L1111.5,868.7 L1112.0,918.6 L1112.5,864.7 L1113.0,912.0 L1113.5,869.9 L1114.0,912.1 L1114.5,869.9 L1115.0,916.7 L1115.5,866.4 L1116.0,914.0 L1116.5,872.2 L1117.0,913.0 L1117.5,872.4 L1118.0,912.1 L1118.5,870.3 L1119.0,912.9 L1119.5,872.5 L1120.0,912.3 L1120.5,868.8 L1121.0,915.6 L1121.5,870.8 L1122.0,913.5 L1122.5,871.9 L1123.0,912.5 L1123.5,871.9 L1124.0,917.7 L1124.5,871.9 L1125.0,917.5 L1125.5,869.4 L1126.0,913.2 L1126.5,870.0 L1127.0,913.1 L1127.5,865.6 L1128.0,912.0 L1128.5,865.9 L1129.0,915.3 L1129.5,870.7 L1130.0,915.5 L1130.5,869.7 L1131.0,912.0 L1131.5,872.6 L1132.0,912.3 L1132.5,871.7 L1133.0,914.0 L1133.5,869.2 L1134.0,914.7 L1134.5,871.6 L1135.0,914.9 L1135.5,871.0 L1136.0,917.9 L1136.5,869.9 L1137.0,912.6 L1137.5,872.5 L1138.0,912.5 L1138.5,869.8 L1139.0,912.3 L1139.5,868.3 L1140.0,913.7 L1140.5,868.3 L1141.0,914.1 L1141.5,871.4 L1142.0,914.6 L1142.5,867.3 L1143.0,912.0 L1143.5,866.5 L1144.0,912.0 L1144.5,871.0 L1145.0,914.5 L1145.5,873.7 L1146.0,912.5 L1146.5,872.7 L1147.0,913.3 L1147.5,872.3 L1148.0,913.0 L1148.5,872.9 L1149.0,919.7 L1149.5,867.8 L1150.0,912.1 L1150.5,867.6 L1151.0,912.1 L1151.5,869.9 L1152.0,914.0 L1152.5,873.1 L1153.0,915.2 L1153.5,873.9" stroke="#00ff00" stroke-width="1.1" fill="none" stroke-linejoin="bevel"/>
</g>
<rect x="165.5" y="837.5" width="989" height="162" fill="none" stroke="#262626" stroke-width="1"/>
<rect x="166" y="881.00" width="10" height="1" fill="#262626"/>
<rect x="1144" y="881.00" width="10" height="1" fill="#262626"/>
<text x="155.50" y="887.90" font-size="22" font-weight="normal" text-anchor="end" fill="#262626" font-family='"Liberation Sans", sans-serif' >0</text>
<rect x="166" y="929.50" width="10" height="1" fill="#262626"/>
<rect x="1144" y="929.50" width="10" height="1" fill="#262626"/>
<text x="155.50" y="936.40" font-size="22" font-weight="normal" text-anchor="end" fill="#262626" font-family='"Liberation Sans", sans-serif' >-10</text>
<rect x="166" y="978.00" width="10" height="1" fill="#262626"/>
<rect x="1144" y="978.00" width="10" height="1" fill="#262626"/>
<text x="155.50" y="984.90" font-size="22" font-weight="normal" text-anchor="end" fill="#262626" font-family='"Liberation Sans", sans-serif' >-20</text>
<rect x="486.00" y="838" width="1" height="10" fill="#262626"/>
<rect x="486.00" y="989" width="1" height="10" fill="#262626"/>
<rect x="932.00" y="838" width="1" height="10" fill="#262626"/>
<rect x="932.00" y="989" width="1" height="10" fill="#262626"/>
<text transform="translate(85.30,918.40) rotate(-90)" font-size="21" font-weight="bold" text-anchor="middle" fill="#262626" font-family='"Liberation Sans", sans-serif' textLength="187" lengthAdjust="spacingAndGlyphs">Model - Measured</text>
<text transform="translate(111.50,918.40) rotate(-90)" font-size="21" font-weight="bold" text-anchor="middle" fill="#262626" font-family='"Liberation Sans", sans-serif' textLength="76" lengthAdjust="spacingAndGlyphs">|B| (nT)</text>
<text transform="translate(1170.20,894.30) rotate(-90)" font-size="15.5" font-weight="bold" text-anchor="middle" fill="#262626" font-family='"Liberation Sans", sans-serif' textLength="63" lengthAdjust="spacingAndGlyphs">Inboard</text>
<text transform="translate(1182.10,905.30) rotate(-90)" font-size="15.5" font-weight="bold" text-anchor="middle" fill="#262626" font-family='"Liberation Sans", sans-serif' textLength="77.5" lengthAdjust="spacingAndGlyphs">Outboard</text>
<rect x="1164" y="958" width="2" height="16" fill="#0000ff"/>
<rect x="1179" y="958" width="2" height="16" fill="#00ff00"/>
<rect x="166" y="1074.00" width="988" height="1" fill="#dfdfdf"/>
<rect x="166" y="1150.50" width="988" height="1" fill="#dfdfdf"/>
<rect x="166" y="1227.00" width="988" height="1" fill="#dfdfdf"/>
<rect x="486.00" y="1073" width="1" height="160" fill="#dfdfdf"/>
<rect x="932.00" y="1073" width="1" height="160" fill="#dfdfdf"/>
<clipPath id="cliptp"><rect x="166" y="1071" width="988" height="162"/></clipPath>
<g clip-path="url(#cliptp)">
<path d="M165.5,1229.0 L166.3,1232.2 L167.1,1229.0 L167.9,1232.2 L168.7,1229.0 L169.5,1232.2 L170.3,1232.2 L171.1,1229.0 L171.9,1232.2 L172.7,1229.0 L173.5,1232.2 L174.3,1232.2 L175.1,1232.2 L175.9,1232.2 L176.7,1232.2 L177.5,1232.2 L178.3,1229.0 L179.1,1232.2 L179.9,1229.0 L180.7,1229.0 L181.5,1229.0 L182.3,1232.2 L183.1,1229.0 L183.9,1229.0 L184.7,1232.2 L185.5,1229.0 L186.3,1229.0 L187.1,1229.0 L187.9,1229.0 L188.7,1229.0 L189.5,1229.0 L190.3,1232.2 L191.1,1229.0 L191.9,1229.0 L192.7,1229.0 L193.5,1229.0 L194.3,1229.0 L195.1,1232.2 L195.9,1229.0 L196.7,1229.0 L197.5,1229.0 L198.3,1232.2 L199.1,1229.0 L199.9,1229.0 L200.7,1229.0 L201.5,1225.2 L202.3,1229.0 L203.1,1229.0 L203.9,1229.0 L204.7,1225.2 L205.5,1229.0 L206.3,1229.0 L207.1,1225.2 L207.9,1225.2 L208.7,1229.0 L209.5,1229.0 L210.3,1229.0 L211.1,1229.0 L211.9,1225.2 L212.7,1225.2 L213.5,1225.2 L214.3,1229.0 L215.1,1229.0 L215.9,1229.0 L216.7,1225.2 L217.5,1225.2 L218.3,1225.2 L219.1,1225.2 L219.9,1225.2 L220.7,1229.0 L221.5,1225.2 L222.3,1229.0 L223.1,1229.0 L223.9,1225.2 L224.7,1225.2 L225.5,1225.2 L226.3,1225.2 L227.1,1225.2 L227.9,1225.2 L228.7,1229.0 L229.5,1229.0 L230.3,1225.2 L231.1,1225.2 L231.9,1225.2 L232.5,1225.1 L233.3,1225.1 L234.1,1225.1 L234.9,1225.1 L235.7,1221.4 L236.5,1225.1 L237.3,1225.1 L238.1,1221.4 L238.9,1225.1 L239.7,1225.1 L240.5,1221.4 L241.3,1225.1 L242.1,1221.4 L242.9,1221.4 L243.7,1221.4 L244.5,1221.4 L245.3,1221.4 L246.1,1225.1 L246.9,1221.4 L247.7,1221.4 L248.5,1225.1 L249.3,1221.4 L250.1,1221.4 L250.9,1221.4 L251.7,1221.4 L252.5,1225.1 L253.3,1225.1 L254.1,1221.4 L254.9,1225.1 L255.7,1225.1 L256.5,1225.1 L257.3,1221.4 L258.1,1221.4 L258.9,1221.4 L259.7,1221.4 L260.5,1221.4 L261.3,1221.4 L262.1,1225.1 L262.9,1221.4 L263.7,1221.4 L264.5,1221.4 L265.3,1221.4 L266.1,1221.4 L266.9,1221.4 L267.7,1221.4 L268.5,1221.4 L269.3,1221.4 L270.1,1221.4 L270.9,1221.4 L271.7,1221.4 L272.5,1221.4 L273.3,1221.4 L274.1,1221.4 L274.9,1221.4 L275.7,1225.1 L276.5,1221.4 L277.3,1225.1 L278.1,1221.4 L278.9,1221.4 L279.7,1221.4 L280.5,1221.4 L281.3,1221.4 L282.1,1221.4 L282.9,1221.4 L283.7,1221.4 L284.5,1221.4 L285.3,1221.4 L286.1,1225.1 L286.9,1225.1 L287.7,1221.4 L288.5,1221.4 L289.3,1221.4 L290.1,1221.4 L290.9,1221.4 L291.7,1221.4 L292.5,1225.1 L293.3,1221.4 L294.1,1221.4 L294.9,1221.4 L295.7,1221.4 L296.5,1221.4 L297.3,1225.1 L298.1,1225.1 L298.9,1221.4 L299.7,1225.1 L300.5,1221.4 L301.3,1221.4 L302.1,1221.4 L302.9,1225.1 L303.7,1221.4 L304.5,1221.4 L305.5,1217.1 L306.3,1220.9 L307.1,1217.1 L307.9,1220.9 L308.7,1220.9 L309.5,1217.1 L310.3,1220.9 L311.1,1220.9 L311.9,1217.1 L312.7,1220.9 L313.5,1220.9 L314.3,1217.1 L315.1,1220.9 L315.9,1217.1 L316.7,1217.1 L317.5,1217.1 L318.3,1217.1 L319.1,1217.1 L319.9,1217.1 L320.7,1220.9 L321.5,1217.1 L322.3,1217.1 L323.1,1220.9 L323.9,1220.9 L324.7,1217.1 L325.5,1217.1 L326.3,1220.9 L327.1,1217.1 L327.9,1217.1 L328.7,1217.1 L329.5,1217.1 L330.5,1217.1 L331.3,1217.1 L332.1,1217.1 L332.9,1217.1 L333.7,1217.1 L334.5,1217.1 L335.3,1217.1 L336.1,1213.8 L336.9,1217.1 L337.7,1217.1 L338.5,1217.1 L339.3,1213.8 L340.1,1213.8 L340.9,1217.1 L341.7,1217.1 L342.5,1217.1 L343.3,1217.1 L344.1,1217.1 L344.9,1217.1 L345.7,1217.1 L346.5,1217.1 L347.3,1217.1 L348.1,1217.1 L348.9,1217.1 L349.7,1217.1 L350.5,1217.1 L351.3,1217.1 L352.1,1217.1 L352.9,1217.1 L353.7,1217.1 L354.5,1217.1 L355.3,1217.1 L356.1,1217.1 L356.9,1217.1 L357.7,1217.1 L358.5,1213.8 L359.3,1217.1 L360.1,1217.1 L360.9,1217.1 L361.7,1217.1 L362.5,1217.1 L363.3,1217.1 L364.1,1217.1 L364.9,1217.1 L365.7,1217.1 L366.5,1217.1 L367.3,1217.1 L368.1,1213.8 L368.9,1213.8 L369.7,1217.1 L370.5,1213.8 L371.3,1217.1 L372.1,1217.1 L372.9,1217.1 L373.7,1217.1 L374.5,1217.1 L375.3,1213.8 L376.1,1217.1 L376.9,1217.1 L377.7,1217.1 L378.5,1217.1 M381.5,1216.9 L382.3,1213.1 L383.1,1213.1 L383.9,1216.9 L384.7,1213.1 L385.5,1213.1 L386.3,1213.1 L387.1,1213.1 L387.9,1213.1 L388.7,1213.1 L389.5,1213.1 L390.3,1216.9 L391.1,1213.1 L391.9,1213.1 L392.7,1216.9 L393.5,1213.1 L394.3,1213.1 L395.1,1213.1 L395.9,1213.1 L396.7,1213.1 L397.5,1213.1 L398.3,1213.1 L399.1,1213.1 L399.9,1213.1 L400.7,1213.1 L401.5,1213.1 L402.3,1213.1 L403.1,1213.1 L403.9,1216.9 L404.7,1213.1 L405.5,1213.1 L406.3,1213.1 L407.1,1213.1 L407.9,1213.1 L408.7,1216.9 L409.5,1216.9 L410.3,1213.1 L411.1,1213.1 L411.9,1213.1 L412.7,1213.1 L413.5,1213.1 L414.3,1213.1 L415.1,1216.9 L415.9,1216.9 L416.7,1216.9 L417.5,1213.1 L418.3,1213.1 L419.1,1213.1 L419.9,1213.1 L420.7,1213.1 L421.5,1213.1 L422.3,1213.1 L423.1,1213.1 L423.9,1213.1 L424.7,1216.9 L425.5,1213.1 L426.3,1213.1 L427.1,1213.1 L427.9,1213.1 L428.7,1213.1 L429.5,1213.1 L430.3,1213.1 L431.1,1213.1 L431.9,1213.1 L432.7,1213.1 L433.5,1213.1 L434.3,1213.1 L435.1,1213.1 L435.9,1213.1 L436.7,1213.1 L437.5,1213.1 L438.3,1213.1 L439.1,1213.1 L439.9,1213.1 L440.7,1213.1 L441.5,1213.1 L442.3,1213.1 L443.1,1213.1 L443.9,1213.1 L444.7,1213.1 L445.5,1213.1 L446.3,1213.1 L447.1,1213.1 L447.9,1213.1 L448.7,1213.1 L449.5,1213.1 L450.3,1213.1 L451.1,1213.1 L451.9,1213.1 L452.7,1216.9 L453.5,1213.1 L454.3,1213.1 L455.1,1213.1 L455.9,1213.1 L456.7,1213.1 L457.5,1213.1 L458.3,1213.1 L459.1,1213.1 L459.9,1213.1 L460.7,1213.1 L461.5,1213.1 L462.3,1213.1 L463.1,1213.1 L463.9,1213.1 L464.7,1213.1 L465.5,1213.1 L466.3,1213.1 L467.1,1213.1 L467.9,1213.1 L468.7,1213.1 L469.5,1213.1 L470.3,1213.1 L471.1,1213.1 L471.9,1213.1 L472.7,1213.1 L473.5,1213.1 L474.3,1213.1 L475.1,1213.1 L475.9,1213.1 L476.7,1213.1 L477.5,1213.1 L478.3,1213.1 L479.1,1213.1 L479.9,1213.1 L480.7,1213.1 L481.5,1213.1 L482.3,1213.1 L483.1,1213.1 L483.9,1216.9 L484.7,1213.1 L485.5,1212.6 L486.3,1212.6 L487.1,1212.6 L487.9,1212.6 L488.7,1212.6 L489.5,1212.6 L490.3,1212.6 L491.1,1212.6 L491.9,1212.6 L492.7,1212.6 L493.5,1212.6 L494.3,1212.6 L495.1,1209.1 L495.9,1209.1 L496.7,1212.6 L497.5,1212.6 L498.3,1212.6 L499.1,1212.6 L499.9,1212.6 L500.7,1212.6 L501.5,1212.6 L502.3,1212.6 L503.1,1212.6 L503.9,1212.6 L504.7,1212.6 L505.5,1212.6 L506.3,1212.6 L507.1,1212.6 L507.9,1212.6 L508.7,1212.6 L509.5,1209.1 L510.3,1212.6 L511.1,1212.6 L511.9,1212.6 L512.7,1212.6 L513.5,1212.6 L514.3,1212.6 L515.1,1212.6 L515.9,1212.6 L516.7,1212.6 L517.5,1212.6 L518.3,1212.6 L519.1,1212.6 L519.9,1212.6 L520.7,1212.6 L521.5,1212.6 L522.3,1212.6 L523.1,1212.6 L523.9,1212.6 L524.7,1212.6 L525.5,1212.6 L526.3,1212.6 L527.1,1212.6 L527.9,1212.6 L528.7,1212.6 L529.5,1212.6 L530.3,1212.6 L531.1,1212.6 L531.9,1212.6 L532.7,1212.6 L533.5,1212.6 L534.3,1212.6 L535.1,1212.6 L535.9,1212.6 L536.7,1212.6 L537.5,1212.6 L538.3,1212.6 L539.1,1212.6 L539.9,1212.6 L540.7,1212.6 L541.5,1212.6 L542.3,1212.6 L543.1,1212.6 L543.9,1212.6 L544.7,1212.6 L545.5,1212.6 L546.3,1212.6 L547.1,1212.6 L547.9,1212.6 L548.7,1212.6 L549.5,1212.6 L550.3,1212.6 L551.1,1212.6 L551.9,1212.6 L552.7,1212.6 L553.5,1212.6 L554.3,1212.6 L555.1,1212.6 L555.9,1212.6 L556.7,1212.6 L557.5,1212.6 L558.3,1212.6 L559.1,1212.6 L559.9,1212.6 L560.5,1212.6 L561.3,1212.6 L562.1,1212.6 L562.9,1212.6 L563.7,1209.1 L564.5,1209.1 L565.3,1212.6 L566.1,1212.6 L566.9,1212.6 L567.7,1212.6 L568.5,1212.6 L569.3,1212.6 L570.1,1212.6 L570.9,1212.6 L571.7,1212.6 L572.5,1212.6 L573.3,1212.6 L574.1,1212.6 L574.9,1212.6 L575.7,1212.6 L576.5,1209.1 L577.3,1212.6 L578.1,1212.6 L578.9,1212.6 L579.7,1212.6 L580.5,1212.6 L581.3,1212.6 L582.1,1212.6 L582.9,1212.6 L583.7,1212.6 L584.5,1209.1 L585.3,1212.6 L586.1,1212.6 L586.9,1212.6 L587.7,1212.6 L588.5,1209.1 L589.3,1212.6 L590.1,1209.1 L590.9,1212.6 L591.7,1212.6 L592.5,1212.6 L593.3,1212.6 L594.1,1212.6 L594.9,1212.6 L595.7,1212.6 L596.5,1209.1 L597.3,1212.6 L598.1,1212.6 L598.9,1212.6 L599.7,1209.1 L600.5,1212.6 L601.3,1212.6 L602.1,1212.6 L602.9,1212.6 L603.7,1212.6 L604.5,1209.1 L605.3,1212.6 L606.1,1212.6 L606.9,1212.6 L607.7,1212.6 L608.5,1212.6 L609.3,1209.1 L610.1,1212.6 L610.9,1212.6 L611.7,1212.6 L612.5,1209.1 L613.3,1212.6 L614.1,1212.6 L614.9,1212.6 L615.7,1212.6 L616.5,1209.1 L617.3,1212.6 L618.1,1212.6 L618.9,1212.6 L619.7,1212.6 L620.5,1212.6 L621.3,1212.6 L622.1,1212.6 L622.9,1212.6 L623.7,1212.6 L624.5,1212.6 L625.3,1212.6 L626.1,1212.6 L626.9,1209.1 L627.7,1209.1 L628.5,1212.6 L629.3,1212.6 L630.1,1212.6 L630.9,1212.6 L631.7,1212.6 L632.5,1212.6 L633.3,1212.6 L634.1,1212.6 L634.9,1212.6 L635.7,1212.6 L636.5,1212.6 L637.3,1212.6 L638.1,1212.6 L638.9,1209.1 L639.7,1212.6 L640.5,1212.6 L641.3,1212.6 L642.1,1212.6 L642.9,1212.6 L643.7,1212.6 L644.5,1209.1 L645.3,1212.6 L646.1,1212.6 L646.9,1212.6 L647.7,1212.6 L648.5,1212.6 L649.3,1212.6 L650.1,1212.6 L650.9,1212.6 L651.7,1212.6 L652.5,1212.6 L653.3,1212.6 L654.1,1212.6 L654.9,1212.6 L655.7,1212.6 L656.5,1212.6 L657.3,1212.6 L658.1,1209.1 L658.9,1212.6 L659.7,1212.6 L660.5,1212.6 L661.3,1212.6 L662.1,1212.6 L662.9,1212.6 L663.7,1209.1 L664.5,1212.6 L665.3,1212.6 L666.1,1212.6 L666.9,1212.6 L667.7,1212.6 L668.5,1212.6 L669.3,1212.6 L670.1,1212.6 L670.9,1212.6 L671.7,1212.6 L672.5,1212.6 L673.3,1212.6 L674.1,1212.6 L674.9,1212.6 L675.7,1212.6 L676.5,1212.6 L677.3,1212.6 L678.1,1212.6 L678.9,1212.6 L679.7,1212.6 L680.5,1212.6 L681.3,1212.6 L682.1,1212.6 L682.9,1212.6 L683.7,1212.6 L684.5,1212.6 L685.3,1209.1 L686.1,1212.6 L686.9,1209.1 L687.7,1212.6 L688.5,1212.6 L689.3,1212.6 L690.1,1212.6 L690.9,1212.6 L691.7,1212.6 L692.5,1212.6 L693.3,1212.6 L694.1,1212.6 L694.9,1212.6 L695.7,1212.6 L696.5,1212.6 L697.3,1209.1 L698.1,1209.1 L698.9,1212.6 L699.7,1212.6 L700.5,1212.6 L701.3,1212.6 L702.1,1212.6 L702.9,1209.1 L703.7,1209.1 L704.5,1209.1 L705.3,1209.1 L706.1,1212.6 L706.9,1212.6 L707.7,1212.6 L708.5,1212.6 L709.3,1212.6 L710.1,1212.6 L710.9,1209.1 L711.7,1212.6 L712.5,1212.6 L713.3,1209.1 L714.1,1209.1 L714.9,1212.6 L715.7,1212.6 L716.5,1209.1 L717.3,1209.1 L718.1,1212.6 L718.9,1212.6 L719.7,1212.6 L720.5,1212.6 L721.3,1212.6 L722.1,1212.6 L722.9,1212.6 L723.7,1212.6 L724.5,1212.6 L725.3,1212.6 L726.1,1212.6 L726.9,1212.6 L727.7,1212.6 L728.5,1212.6 L729.3,1209.1 L730.1,1212.6 L730.9,1212.6 L731.7,1212.6 L732.5,1212.6 L733.3,1212.6 L734.1,1212.6 L734.9,1209.1 L735.7,1209.1 L736.5,1212.6 L737.3,1212.6 L738.1,1209.1 L738.9,1209.1 L739.7,1212.6 L740.5,1212.6 L741.3,1212.6 L742.1,1212.6 L742.9,1212.6 L743.7,1212.6 L744.5,1212.6 L745.3,1212.6 L746.1,1212.6 L746.9,1212.6 L747.7,1212.6 L748.5,1209.1 L749.3,1212.6 L750.1,1212.6 L750.9,1212.6 L751.7,1212.6 L752.5,1209.1 L753.3,1209.1 L754.1,1212.6 L754.9,1212.6 L755.7,1212.6 L756.5,1212.6 L757.3,1212.6 L758.1,1209.1 L758.9,1212.6 L759.7,1212.6 L760.5,1212.6 L761.3,1212.6 L762.1,1212.6 L762.9,1209.1 L763.7,1209.1 L764.5,1212.6 L765.3,1212.6 L766.1,1212.6 L766.9,1212.6 L767.7,1212.6 L768.5,1209.1 L769.3,1212.6 L770.1,1212.6 L770.9,1212.6 L771.7,1212.6 L772.5,1209.1 L773.3,1212.6 L774.1,1209.1 L774.9,1212.6 L775.7,1212.6 L776.5,1212.6 L777.3,1212.6 L778.1,1212.6 L778.9,1212.6 L779.7,1212.6 L780.5,1212.6 L781.3,1212.6 L782.1,1212.6 L782.9,1212.6 L783.7,1212.6 L784.5,1212.6 L785.3,1212.6 L786.1,1212.6 L786.9,1212.6 L787.7,1212.6 L788.5,1212.6 L789.3,1212.6 L790.1,1212.6 L790.9,1212.6 L791.7,1212.6 L792.5,1212.6 L793.3,1212.6 L794.1,1212.6 L794.9,1212.6 L795.7,1209.1 L796.5,1212.6 L797.3,1212.6 L798.1,1212.6 L798.9,1212.6 L799.7,1209.1 L800.5,1212.6 L801.3,1212.6 L802.1,1212.6 L802.9,1212.6 L803.7,1212.6 L804.5,1212.6 L805.5,1211.6 L806.3,1208.0 L807.1,1208.0 L807.9,1211.6 L808.7,1208.0 L809.5,1208.0 L810.3,1208.0 L811.1,1208.0 L811.9,1211.6 L812.7,1211.6 L813.5,1211.6 L814.3,1211.6 L815.1,1211.6 L815.9,1208.0 L816.7,1211.6 L817.5,1208.0 L818.3,1208.0 L819.1,1208.0 L819.9,1211.6 L820.7,1208.0 L821.5,1208.0 L822.3,1208.0 L823.1,1208.0 L823.9,1211.6 L824.7,1211.6 L825.5,1208.0 L826.3,1208.0 L827.1,1208.0 L827.9,1208.0 L828.7,1208.0 L829.5,1208.0 L830.3,1211.6 L831.1,1211.6 L831.9,1211.6 L832.7,1208.0 L833.5,1211.6 L834.3,1208.0 L835.1,1211.6 L835.9,1211.6 L836.7,1208.0 L837.5,1211.6 L838.3,1208.0 L839.1,1208.0 L839.9,1211.6 L840.7,1211.6 L841.5,1211.6 L842.3,1211.6 L843.1,1211.6 L843.9,1211.6 L844.7,1208.0 L845.5,1211.6 L846.3,1211.6 L847.1,1211.6 L847.9,1211.6 L848.7,1211.6 L849.5,1211.6 L850.3,1208.0 L851.1,1208.0 L851.9,1208.0 L852.7,1208.0 L853.5,1211.6 L854.3,1208.0 L855.1,1211.6 L855.9,1208.0 L856.7,1208.0 L857.5,1208.0 L858.3,1208.0 L859.1,1208.0 L859.9,1211.6 L860.7,1211.6 L861.5,1208.0 L862.3,1208.0 L863.1,1208.0 L863.9,1211.6 L864.7,1208.0 L865.5,1211.6 L866.3,1211.6 L867.1,1211.6 L867.9,1208.0 L868.7,1208.0 L869.5,1208.0 L870.3,1211.6 L871.1,1211.6 L871.9,1211.6 L872.7,1208.0 L873.5,1211.6 L874.3,1208.0 L875.1,1211.6 L875.9,1211.6 L876.7,1208.0 L877.5,1208.0 L878.3,1208.0 L879.1,1211.6 L879.9,1208.0 L880.7,1211.6 L881.5,1211.6 L882.3,1211.6 L883.1,1208.0 L883.9,1208.0 L884.7,1208.0 L885.5,1211.6 L886.3,1208.0 L887.1,1208.0 L887.9,1208.0 L888.7,1208.0 L889.5,1208.0 L890.3,1208.0 L891.1,1208.0 L891.9,1208.0 L892.7,1211.6 L893.5,1211.6 L894.3,1211.6 L895.1,1211.6 L895.9,1208.0 L896.7,1211.6 L897.5,1208.0 L898.3,1208.0 L899.1,1211.6 L899.9,1211.6 L900.7,1208.0 L901.5,1211.6 L902.3,1211.6 L903.1,1211.6 L903.9,1211.6 L904.7,1208.0 L905.5,1208.0 L906.3,1211.6 L907.1,1208.0 L907.9,1208.0 L908.7,1211.6 L909.5,1208.0 L910.3,1211.6 L911.1,1208.0 L911.9,1208.0 L912.7,1208.0 L913.5,1208.0 L914.3,1208.0 L915.1,1211.6 L915.9,1208.0 L916.7,1208.0 L917.5,1208.0 L918.3,1211.6 L919.1,1211.6 L919.9,1211.6 L920.7,1211.6 L921.5,1208.0 L922.3,1211.6 L923.1,1208.0 L923.9,1208.0 L924.7,1208.0 L925.5,1208.0 L926.3,1211.6 L927.1,1211.6 L927.9,1211.6 L928.7,1211.6 L929.5,1208.0 L930.3,1211.6 L931.1,1211.6 L931.9,1211.6 L932.7,1208.0 L933.5,1208.0 L934.3,1208.0 L935.1,1211.6 L935.9,1208.0 L936.7,1211.6 L937.5,1211.6 L938.3,1211.6 L939.1,1211.6 L939.9,1211.6 L940.7,1211.6 L941.5,1208.0 L942.3,1208.0 L943.1,1211.6 L943.9,1211.6 L944.7,1208.0 L945.5,1208.0 L946.3,1211.6 L947.1,1211.6 L947.9,1211.6 L948.7,1211.6 L949.5,1211.6 L950.3,1208.0 L951.1,1211.6 L951.9,1211.6 L952.7,1208.0 L953.5,1211.6 L954.3,1208.0 L955.1,1211.6 L955.9,1211.6 L956.7,1211.6 L957.5,1211.6 L958.3,1208.0 L959.1,1208.0 L959.9,1208.0 L960.7,1211.6 L961.5,1211.6 L962.3,1211.6 L963.1,1211.6 L963.9,1211.6 L964.7,1211.6 L965.5,1211.6 L966.3,1211.6 L967.1,1211.6 L967.9,1211.6 L968.7,1208.0 L969.5,1211.6 L970.3,1208.0 L971.1,1208.0 L971.9,1208.0 L972.7,1208.0 L973.5,1208.0 L974.3,1211.6 L975.1,1211.6 L975.9,1208.0 L976.7,1211.6 L977.5,1211.6 L978.3,1208.0 L979.1,1211.6 L979.9,1211.6 L980.7,1208.0 L981.5,1211.6 L982.3,1208.0 L983.1,1208.0 L983.9,1208.0 L984.7,1208.0 L985.5,1211.6 L986.3,1211.6 L987.1,1208.0 L987.9,1208.0 L988.7,1211.6 L989.5,1208.0 L990.3,1208.0 L991.1,1211.6 L991.9,1211.6 L992.7,1208.0 L993.5,1208.0 L994.3,1211.6 L995.1,1208.0 L995.9,1211.6 L996.7,1208.0 L997.5,1208.0 L998.3,1208.0 L999.1,1208.0 L999.9,1211.6 L1000.7,1211.6 L1001.5,1208.0 L1002.3,1208.0 L1003.1,1208.0 L1003.9,1208.0 L1004.7,1211.6 L1005.5,1208.0 L1006.3,1208.0 L1007.1,1208.0 L1007.9,1208.0 L1008.7,1211.6 L1009.5,1211.6 L1010.3,1208.0 L1011.1,1211.6 L1011.9,1211.6 L1012.7,1208.0 L1013.5,1208.0 L1014.3,1208.0 L1015.1,1211.6 L1015.9,1211.6 L1016.7,1208.0 L1017.5,1208.0 L1018.3,1211.6 L1019.1,1211.6 L1019.9,1211.6 L1020.7,1208.0 L1021.5,1211.6 L1022.3,1211.6 L1023.1,1208.0 L1023.9,1208.0 L1024.7,1211.6 L1025.5,1211.6 L1026.3,1211.6 L1027.1,1211.6 L1027.9,1211.6 L1028.7,1211.6 L1029.5,1208.0 L1030.3,1211.6 L1031.1,1211.6 L1031.9,1208.0 L1032.7,1208.0 L1033.5,1211.6 L1034.3,1208.0 L1035.1,1211.6 L1035.9,1208.0 L1036.7,1211.6 L1037.5,1208.0 L1038.3,1208.0 L1039.1,1211.6 L1039.9,1208.0 L1040.7,1208.0 L1041.5,1208.0 L1042.3,1211.6 L1043.1,1208.0 L1043.9,1211.6 L1044.7,1208.0 L1045.5,1208.0 L1046.3,1211.6 L1047.1,1208.0 L1047.9,1211.6 L1048.7,1208.0 L1049.5,1211.6 L1050.3,1211.6 L1051.1,1208.0 L1051.9,1208.0 L1052.7,1208.0 L1053.5,1211.6 L1054.3,1208.0 L1055.1,1211.6 L1055.9,1208.0 L1056.7,1208.0 L1057.5,1208.0 L1058.3,1208.0 L1059.1,1208.0 L1059.9,1211.6 L1060.7,1208.0 L1061.5,1211.6 L1062.3,1208.0 L1063.1,1208.0 L1063.9,1211.6 L1064.7,1211.6 L1065.5,1211.6 L1066.3,1208.0 L1067.1,1208.0 L1067.9,1211.6 L1068.7,1208.0 L1069.5,1211.6 L1070.3,1211.6 L1071.1,1208.0 L1071.9,1208.0 L1072.7,1211.6 L1073.5,1208.0 L1074.3,1208.0 L1075.1,1211.6 L1075.9,1211.6 L1076.7,1211.6 L1077.5,1211.6 L1078.3,1208.0 L1079.1,1211.6 L1079.9,1208.0 L1080.7,1211.6 L1081.5,1211.6 L1082.3,1211.6 L1083.1,1208.0 L1083.9,1208.0 L1084.7,1208.0 L1085.5,1208.0 L1086.3,1211.6 L1087.1,1208.0 L1087.9,1211.6 L1088.7,1211.6 L1089.5,1211.6 L1090.3,1211.6 L1091.1,1211.6 L1091.9,1208.0 L1092.7,1208.0 L1093.5,1208.0 L1094.3,1208.0 L1095.1,1208.0 L1095.9,1211.6 L1096.7,1208.0 L1097.5,1208.0 L1098.3,1211.6 L1099.1,1211.6 L1099.9,1208.0 L1100.7,1208.0 L1101.5,1208.0 L1102.3,1208.0 L1103.1,1208.0 L1103.9,1211.6 L1104.7,1208.0 L1105.5,1208.0 L1106.3,1208.0 L1107.1,1208.0 L1107.9,1211.6 L1108.7,1208.0 L1109.5,1211.6 L1110.3,1211.6 L1111.1,1211.6 L1111.9,1208.0 L1112.7,1208.0 L1113.5,1208.0 L1114.3,1211.6 L1115.1,1208.0 L1115.9,1208.0 L1116.7,1211.6 L1117.5,1208.0 L1118.3,1208.0 L1119.1,1211.6 L1119.9,1208.0 L1120.7,1211.6 L1121.5,1208.0 L1122.3,1211.6 L1123.1,1208.0 L1123.9,1208.0 L1124.7,1211.6 L1125.5,1208.0 L1126.3,1208.0 L1127.1,1211.6 L1127.9,1208.0 L1128.7,1208.0 L1129.5,1208.0 L1130.3,1208.0 L1131.1,1211.6 L1131.9,1211.6 L1132.7,1211.6 L1133.5,1211.6 L1134.3,1211.6 L1135.1,1208.0 L1135.9,1208.0 L1136.7,1211.6 L1137.5,1208.0 L1138.3,1211.6 L1139.1,1211.6 L1139.9,1208.0 L1140.7,1208.0 L1141.5,1208.0 L1142.3,1211.6 L1143.1,1211.6 L1143.9,1211.6 L1144.7,1211.6 L1145.5,1211.6 L1146.3,1211.6 L1147.1,1211.6 L1147.9,1208.0 L1148.7,1211.6 L1149.5,1208.0 L1150.3,1211.6 L1151.1,1211.6 L1151.9,1211.6 L1152.7,1208.0 L1153.5,1208.0 " stroke="#0000ff" stroke-width="1.1" fill="none"/>
<path d="M165.5,1210.6 L166.3,1210.6 L167.1,1210.6 L167.9,1210.6 L168.7,1213.9 L169.5,1210.6 L170.3,1210.6 L171.1,1210.6 L171.9,1213.9 L172.7,1210.6 L173.5,1210.6 L174.3,1210.6 L175.1,1210.6 L175.9,1210.6 L176.7,1213.9 L177.5,1207.2 L178.3,1210.3 L179.1,1210.3 L179.9,1210.3 L180.7,1210.3 L181.5,1210.3 L182.3,1207.2 L183.1,1207.2 L183.9,1210.3 L184.7,1210.3 L185.5,1210.3 L186.3,1207.2 L187.1,1210.3 L187.9,1210.3 L188.7,1207.2 L189.5,1210.3 L190.3,1210.3 L191.1,1210.3 L191.9,1207.2 L192.7,1210.3 L193.5,1207.2 L194.3,1207.2 L195.1,1207.2 L195.9,1210.3 L196.7,1207.2 L197.5,1210.3 L198.3,1210.3 L199.1,1207.2 L199.9,1207.2 L200.7,1207.2 L201.5,1210.3 L202.3,1210.3 L203.1,1210.3 L203.9,1210.3 L204.7,1210.3 L205.5,1207.2 L206.3,1207.2 L207.5,1202.5 L208.3,1205.8 L209.1,1205.8 L209.9,1205.8 L210.7,1205.8 L211.5,1205.8 L212.3,1205.8 L213.1,1205.8 L213.9,1205.8 L214.7,1202.5 L215.5,1202.5 L216.3,1202.5 L217.1,1205.8 L217.9,1205.8 L218.7,1205.8 L219.5,1202.5 L220.3,1202.5 L221.1,1205.8 L221.9,1205.8 L222.7,1205.8 L223.5,1205.8 L224.3,1205.8 L225.1,1205.8 L225.9,1202.5 L226.7,1205.8 L227.5,1205.8 L228.3,1205.8 L229.1,1205.8 L229.9,1205.8 L230.7,1205.8 L231.5,1205.8 L232.3,1205.8 L233.1,1202.5 L233.9,1205.8 L234.7,1205.8 L235.5,1205.8 L236.3,1205.8 L237.1,1202.5 L237.9,1205.8 L238.7,1202.5 L239.5,1205.8 L240.3,1205.8 L241.1,1205.8 L241.9,1205.8 L242.7,1202.5 L243.5,1205.8 L244.3,1205.8 L245.1,1205.8 L245.9,1205.8 L246.7,1202.5 L247.5,1202.5 L248.3,1205.8 L249.1,1205.8 L249.9,1202.5 L250.7,1205.8 L251.5,1205.8 L252.3,1202.5 L253.1,1202.5 L253.9,1205.8 L254.7,1202.5 L255.5,1202.0 L256.3,1202.0 L257.1,1202.0 L257.9,1202.0 L258.7,1198.8 L259.5,1202.0 L260.3,1202.0 L261.1,1202.0 L261.9,1205.8 L262.7,1205.8 L263.5,1202.0 L264.3,1198.8 L265.1,1198.8 L265.9,1198.8 L266.7,1205.8 L267.5,1202.0 L268.3,1205.8 L269.1,1202.0 L269.9,1202.0 L270.7,1202.0 L271.5,1202.0 L272.3,1198.8 L273.1,1202.0 L273.9,1205.8 L274.7,1205.8 L275.5,1198.8 L276.3,1198.8 L277.1,1202.0 L277.9,1205.8 L278.7,1202.0 L279.5,1202.0 L280.3,1202.0 L281.1,1202.0 L281.9,1202.0 L282.7,1202.0 L283.5,1205.8 L284.3,1202.0 L285.1,1202.0 L285.9,1202.0 L286.7,1202.0 L287.5,1202.0 L288.3,1202.0 L289.1,1202.0 L289.9,1202.0 L290.7,1202.0 L291.5,1198.8 L292.3,1202.0 L293.1,1198.8 L293.9,1202.0 L294.7,1205.8 L295.5,1198.8 L296.3,1198.8 L297.1,1198.8 L297.9,1198.8 L298.7,1205.8 L299.5,1198.8 L300.3,1205.8 L301.1,1202.0 L301.9,1205.8 L302.7,1202.0 L303.5,1202.0 L304.3,1202.0 L305.5,1198.8 L306.3,1198.8 L307.1,1198.8 L307.9,1198.8 L308.7,1198.8 L309.5,1198.8 L310.3,1202.0 L311.1,1198.8 L311.9,1202.0 L312.7,1198.8 L313.5,1202.0 L314.3,1202.0 L315.1,1198.8 L315.9,1202.0 L316.7,1202.0 L317.5,1202.0 L318.3,1198.8 L319.1,1198.8 L319.9,1198.8 L320.7,1198.8 L321.5,1198.8 L322.3,1198.8 L323.1,1198.8 L323.9,1198.8 L324.7,1202.0 L325.5,1202.0 L326.3,1198.8 L327.1,1198.8 L327.9,1198.8 L328.7,1202.0 L329.5,1202.0 L330.5,1198.8 L331.3,1195.3 L332.1,1195.3 L332.9,1195.3 L333.7,1195.3 L334.5,1195.3 L335.3,1195.3 L336.1,1195.3 L336.9,1195.3 L337.7,1195.3 L338.5,1195.3 L339.3,1198.8 L340.1,1198.8 L340.9,1195.3 L341.7,1198.8 L342.5,1195.3 L343.3,1198.8 L344.1,1198.8 L344.9,1198.8 L345.7,1198.8 L346.5,1198.8 L347.3,1198.8 L348.1,1195.3 L348.9,1198.8 L349.7,1198.8 L350.5,1198.8 L351.3,1195.3 L352.1,1195.3 L352.9,1198.8 L353.7,1198.8 L354.5,1198.8 L355.3,1198.8 L356.1,1198.8 L356.9,1198.8 L357.7,1198.8 L358.5,1198.8 L359.3,1198.8 L360.1,1195.3 L360.9,1198.8 L361.7,1198.8 L362.5,1198.8 L363.3,1198.8 L364.1,1198.8 L364.9,1198.8 L365.7,1198.8 L366.5,1198.8 L367.3,1198.8 L368.1,1195.3 L368.9,1198.8 L369.7,1195.3 L370.5,1198.8 L371.3,1198.8 L372.1,1198.8 L372.9,1198.8 L373.7,1195.3 L374.5,1198.8 L375.3,1198.8 L376.1,1198.8 L376.9,1198.8 L377.7,1198.8 L378.5,1198.8 M381.5,1198.5 L382.3,1198.5 L383.1,1198.5 L383.9,1195.0 L384.7,1195.0 L385.5,1195.0 L386.3,1198.5 L387.1,1198.5 L387.9,1198.5 L388.7,1195.0 L389.5,1198.5 L390.3,1198.5 L391.1,1195.0 L391.9,1195.0 L392.7,1195.0 L393.5,1195.0 L394.3,1195.0 L395.1,1195.0 L395.9,1195.0 L396.7,1198.5 L397.5,1198.5 L398.3,1195.0 L399.1,1195.0 L399.9,1198.5 L400.7,1195.0 L401.5,1195.0 L402.3,1195.0 L403.1,1198.5 L403.9,1195.0 L404.7,1195.0 L405.5,1195.0 L406.3,1198.5 L407.1,1198.5 L407.9,1195.0 L408.7,1195.0 L409.5,1195.0 L410.3,1195.0 L411.1,1195.0 L411.9,1195.0 L412.7,1195.0 L413.5,1195.0 L414.3,1195.0 L415.1,1198.5 L415.9,1198.5 L416.7,1195.0 L417.5,1198.5 L418.3,1195.0 L419.1,1198.5 L419.9,1195.0 L420.7,1198.5 L421.5,1195.0 L422.3,1195.0 L423.1,1195.0 L423.9,1195.0 L424.7,1195.0 L425.5,1195.0 L426.3,1195.0 L427.1,1195.0 L427.9,1195.0 L428.7,1195.0 L429.5,1198.5 L430.3,1195.0 L431.1,1198.5 L431.9,1195.0 L432.7,1195.0 L433.5,1195.0 L434.3,1195.0 L435.1,1195.0 L435.9,1198.5 L436.7,1195.0 L437.5,1198.5 L438.3,1198.5 L439.1,1198.5 L439.9,1195.0 L440.7,1198.5 L441.5,1198.5 L442.3,1195.0 L443.1,1195.0 L443.9,1195.0 L444.7,1195.0 L445.5,1195.0 L446.3,1195.0 L447.1,1198.5 L447.9,1195.0 L448.7,1195.0 L449.5,1198.5 L450.3,1198.5 L451.1,1195.0 L451.9,1195.0 L452.7,1195.0 L453.5,1195.0 L454.3,1198.5 L455.1,1198.5 L455.9,1195.0 L456.7,1195.0 L457.5,1195.0 L458.3,1198.5 L459.1,1198.5 L459.9,1198.5 L460.7,1198.5 L461.5,1195.0 L462.3,1198.5 L463.1,1198.5 L463.9,1195.0 L464.7,1198.5 L465.5,1195.0 L466.3,1195.0 L467.1,1195.0 L467.9,1195.0 L468.7,1195.0 L469.5,1198.5 L470.3,1198.5 L471.1,1195.0 L471.9,1198.5 L472.7,1198.5 L473.5,1198.5 L474.3,1198.5 L475.1,1198.5 L475.9,1195.0 L476.7,1198.5 L477.5,1195.0 L478.3,1195.0 L479.1,1198.5 L479.9,1198.5 L480.7,1195.0 L481.5,1195.0 L482.3,1195.0 L483.1,1198.5 L483.9,1195.0 L484.7,1195.0 L485.5,1194.0 L486.3,1194.0 L487.1,1194.0 L487.9,1194.0 L488.7,1197.3 L489.5,1197.3 L490.3,1194.0 L491.1,1194.0 L491.9,1194.0 L492.7,1190.7 L493.5,1194.0 L494.3,1194.0 L495.1,1190.7 L495.9,1194.0 L496.7,1194.0 L497.5,1194.0 L498.3,1194.0 L499.1,1194.0 L499.9,1194.0 L500.7,1194.0 L501.5,1194.0 L502.3,1190.7 L503.1,1194.0 L503.9,1194.0 L504.7,1194.0 L505.5,1194.0 L506.3,1194.0 L507.1,1194.0 L507.9,1194.0 L508.7,1194.0 L509.5,1197.3 L510.3,1194.0 L511.1,1194.0 L511.9,1194.0 L512.7,1197.3 L513.5,1194.0 L514.3,1194.0 L515.1,1194.0 L515.9,1194.0 L516.7,1190.7 L517.5,1194.0 L518.3,1194.0 L519.1,1194.0 L519.9,1190.7 L520.7,1194.0 L521.5,1194.0 L522.3,1197.3 L523.1,1197.3 L523.9,1194.0 L524.7,1194.0 L525.5,1194.0 L526.3,1194.0 L527.1,1194.0 L527.9,1194.0 L528.7,1194.0 L529.5,1194.0 L530.3,1194.0 L531.1,1194.0 L531.9,1194.0 L532.7,1194.0 L533.5,1194.0 L534.3,1197.3 L535.1,1190.7 L535.9,1194.0 L536.7,1194.0 L537.5,1194.0 L538.3,1194.0 L539.1,1194.0 L539.9,1194.0 L540.7,1194.0 L541.5,1197.3 L542.3,1194.0 L543.1,1194.0 L543.9,1194.0 L544.7,1194.0 L545.5,1194.0 L546.3,1194.0 L547.1,1194.0 L547.9,1194.0 L548.7,1194.0 L549.5,1194.0 L550.3,1194.0 L551.1,1197.3 L551.9,1194.0 L552.7,1194.0 L553.5,1190.7 L554.3,1194.0 L555.1,1194.0 L555.9,1197.3 L556.7,1194.0 L557.5,1194.0 L558.3,1194.0 L559.1,1194.0 L559.9,1190.7 L560.7,1194.0 L561.5,1190.7 L562.3,1194.0 L563.1,1197.3 L563.9,1194.0 L564.7,1194.0 L565.5,1190.7 L566.3,1190.7 L567.1,1194.0 L567.9,1197.3 L568.7,1194.0 L569.5,1194.0 L570.3,1194.0 L571.1,1197.3 L571.9,1194.0 L572.7,1194.0 L573.5,1194.0 L574.3,1194.0 L575.1,1194.0 L575.9,1194.0 L576.7,1194.0 L577.5,1194.0 L578.3,1194.0 L579.1,1194.0 L579.9,1194.0 L580.7,1190.7 L581.5,1190.7 L582.3,1194.0 L583.1,1194.0 L583.9,1194.0 L584.7,1194.0 L585.5,1190.7 L586.3,1194.0 L587.1,1194.0 L587.9,1194.0 L588.7,1194.0 L589.5,1194.0 L590.3,1194.0 L591.1,1190.7 L591.9,1194.0 L592.7,1194.0 L593.5,1194.0 L594.3,1194.0 L595.1,1194.0 L595.9,1194.0 L596.7,1194.0 L597.5,1194.0 L598.3,1194.0 L599.1,1194.0 L599.9,1194.0 L600.7,1194.0 L601.5,1194.0 L602.3,1194.0 L603.1,1194.0 L603.9,1194.0 L604.7,1194.0 L605.5,1194.0 L606.3,1194.0 L607.1,1194.0 L607.9,1194.0 L608.7,1194.0 L609.5,1194.0 L610.3,1194.0 L611.1,1194.0 L611.9,1194.0 L612.7,1194.0 L613.5,1190.7 L614.3,1190.7 L615.1,1194.0 L615.9,1194.0 L616.7,1197.3 L617.5,1194.0 L618.3,1197.3 L619.1,1194.0 L619.9,1194.0 L620.7,1194.0 L621.5,1194.0 L622.3,1194.0 L623.1,1194.0 L623.9,1194.0 L624.7,1194.0 L625.5,1194.0 L626.3,1194.0 L627.1,1194.0 L627.9,1190.7 L628.7,1190.7 L629.5,1194.0 L630.3,1194.0 L631.1,1194.0 L631.9,1194.0 L632.7,1194.0 L633.5,1194.0 L634.3,1194.0 L635.1,1194.0 L635.9,1194.0 L636.7,1194.0 L637.5,1197.3 L638.3,1197.3 L639.1,1194.0 L639.9,1194.0 L640.7,1194.0 L641.5,1194.0 L642.3,1194.0 L643.1,1190.7 L643.9,1190.7 L644.7,1194.0 L645.5,1194.0 L646.3,1194.0 L647.1,1194.0 L647.9,1194.0 L648.7,1194.0 L649.5,1194.0 L650.3,1194.0 L651.1,1194.0 L651.9,1194.0 L652.7,1190.7 L653.5,1194.0 L654.3,1194.0 L655.1,1194.0 L655.9,1194.0 L656.7,1194.0 L657.5,1194.0 L658.3,1194.0 L659.1,1194.0 L659.9,1194.0 L660.7,1194.0 L661.5,1194.0 L662.3,1194.0 L663.1,1194.0 L663.9,1194.0 L664.7,1190.7 L665.5,1194.0 L666.3,1194.0 L667.1,1194.0 L667.9,1194.0 L668.7,1194.0 L669.5,1194.0 L670.3,1194.0 L671.1,1194.0 L671.9,1194.0 L672.7,1194.0 L673.5,1194.0 L674.3,1194.0 L675.1,1194.0 L675.9,1194.0 L676.7,1194.0 L677.5,1194.0 L678.3,1194.0 L679.1,1194.0 L679.9,1194.0 L680.7,1197.3 L681.5,1197.3 L682.3,1194.0 L683.1,1194.0 L683.9,1194.0 L684.7,1194.0 L685.5,1194.0 L686.3,1194.0 L687.1,1194.0 L687.9,1194.0 L688.7,1194.0 L689.5,1194.0 L690.3,1194.0 L691.1,1194.0 L691.9,1190.7 L692.7,1194.0 L693.5,1194.0 L694.3,1194.0 L695.1,1194.0 L695.9,1194.0 L696.7,1190.7 L697.5,1190.7 L698.3,1194.0 L699.1,1194.0 L699.9,1194.0 L700.7,1194.0 L701.5,1194.0 L702.3,1194.0 L703.1,1194.0 L703.9,1197.3 L704.7,1197.3 L705.5,1194.0 L706.3,1190.7 L707.1,1190.7 L707.9,1194.0 L708.7,1190.7 L709.5,1194.0 L710.3,1194.0 L711.1,1194.0 L711.9,1194.0 L712.7,1194.0 L713.5,1194.0 L714.3,1194.0 L715.1,1194.0 L715.9,1194.0 L716.7,1194.0 L717.5,1197.3 L718.3,1194.0 L719.1,1190.7 L719.9,1190.7 L720.7,1194.0 L721.5,1194.0 L722.3,1190.7 L723.1,1194.0 L723.9,1194.0 L724.7,1194.0 L725.5,1194.0 L726.3,1194.0 L727.1,1194.0 L727.9,1194.0 L728.7,1190.7 L729.5,1194.0 L730.3,1194.0 L731.1,1194.0 L731.9,1197.3 L732.7,1194.0 L733.5,1194.0 L734.3,1194.0 L735.1,1194.0 L735.9,1194.0 L736.7,1197.3 L737.5,1197.3 L738.3,1194.0 L739.1,1194.0 L739.9,1197.3 L740.7,1194.0 L741.5,1194.0 L742.3,1194.0 L743.1,1194.0 L743.9,1194.0 L744.7,1194.0 L745.5,1194.0 L746.3,1194.0 L747.1,1190.7 L747.9,1194.0 L748.7,1194.0 L749.5,1194.0 L750.3,1194.0 L751.1,1194.0 L751.9,1194.0 L752.7,1194.0 L753.5,1194.0 L754.3,1197.3 L755.1,1194.0 L755.9,1194.0 L756.7,1194.0 L757.5,1194.0 L758.3,1194.0 L759.1,1194.0 L759.9,1194.0 L760.7,1194.0 L761.5,1194.0 L762.3,1194.0 L763.1,1194.0 L763.9,1194.0 L764.7,1194.0 L765.5,1194.0 L766.3,1194.0 L767.1,1194.0 L767.9,1194.0 L768.7,1194.0 L769.5,1197.3 L770.3,1197.3 L771.1,1194.0 L771.9,1194.0 L772.7,1194.0 L773.5,1194.0 L774.3,1194.0 L775.1,1194.0 L775.9,1194.0 L776.7,1194.0 L777.5,1194.0 L778.3,1194.0 L779.1,1194.0 L779.9,1194.0 L780.7,1194.0 L781.5,1194.0 L782.3,1194.0 L783.1,1194.0 L783.9,1194.0 L784.7,1197.3 L785.5,1194.0 L786.3,1194.0 L787.1,1194.0 L787.9,1197.3 L788.7,1194.0 L789.5,1194.0 L790.3,1194.0 L791.1,1194.0 L791.9,1190.7 L792.7,1190.7 L793.5,1194.0 L794.3,1190.7 L795.1,1197.3 L795.9,1194.0 L796.7,1194.0 L797.5,1197.3 L798.3,1197.3 L799.1,1194.0 L799.9,1197.3 L800.7,1197.3 L801.5,1194.0 L802.3,1194.0 L803.1,1194.0 L803.9,1194.0 L804.7,1194.0 L805.5,1193.7 L806.3,1193.7 L807.1,1193.7 L807.9,1193.7 L808.7,1193.7 L809.5,1193.7 L810.3,1193.7 L811.1,1193.7 L811.9,1193.7 L812.7,1193.7 L813.5,1193.7 L814.3,1193.7 L815.1,1193.7 L815.9,1190.4 L816.7,1193.7 L817.5,1190.4 L818.3,1190.4 L819.1,1193.7 L819.9,1193.7 L820.7,1193.7 L821.5,1197.0 L822.3,1193.7 L823.1,1193.7 L823.9,1193.7 L824.7,1193.7 L825.5,1197.0 L826.3,1197.0 L827.1,1197.0 L827.9,1193.7 L828.7,1193.7 L829.5,1193.7 L830.3,1193.7 L831.1,1193.7 L831.9,1193.7 L832.7,1193.7 L833.5,1193.7 L834.3,1190.4 L835.1,1193.7 L835.9,1193.7 L836.7,1193.7 L837.5,1197.0 L838.3,1193.7 L839.1,1197.0 L839.9,1190.4 L840.7,1193.7 L841.5,1193.7 L842.3,1193.7 L843.1,1197.0 L843.9,1197.0 L844.7,1193.7 L845.5,1193.7 L846.3,1193.7 L847.1,1193.7 L847.9,1193.7 L848.7,1197.0 L849.5,1190.4 L850.3,1193.7 L851.1,1190.4 L851.9,1193.7 L852.7,1193.7 L853.5,1193.7 L854.3,1193.7 L855.1,1197.0 L855.9,1193.7 L856.7,1193.7 L857.5,1193.7 L858.3,1190.4 L859.1,1190.4 L859.9,1193.7 L860.7,1193.7 L861.5,1193.7 L862.3,1193.7 L863.1,1193.7 L863.9,1193.7 L864.7,1193.7 L865.5,1197.0 L866.3,1193.7 L867.1,1193.7 L867.9,1193.7 L868.7,1193.7 L869.5,1193.7 L870.3,1197.0 L871.1,1193.7 L871.9,1197.0 L872.7,1193.7 L873.5,1193.7 L874.3,1190.4 L875.1,1193.7 L875.9,1193.7 L876.7,1193.7 L877.5,1193.7 L878.3,1193.7 L879.1,1193.7 L879.9,1193.7 L880.7,1193.7 L881.5,1193.7 L882.3,1193.7 L883.1,1193.7 L883.9,1193.7 L884.7,1193.7 L885.5,1193.7 L886.3,1190.4 L887.1,1193.7 L887.9,1193.7 L888.7,1193.7 L889.5,1193.7 L890.3,1193.7 L891.1,1193.7 L891.9,1193.7 L892.7,1193.7 L893.5,1193.7 L894.3,1193.7 L895.1,1190.4 L895.9,1193.7 L896.7,1193.7 L897.5,1193.7 L898.3,1193.7 L899.1,1193.7 L899.9,1197.0 L900.7,1193.7 L901.5,1193.7 L902.3,1193.7 L903.1,1193.7 L903.9,1197.0 L904.7,1197.0 L905.5,1193.7 L906.3,1193.7 L907.1,1193.7 L907.9,1193.7 L908.7,1193.7 L909.5,1193.7 L910.3,1193.7 L911.1,1197.0 L911.9,1193.7 L912.7,1193.7 L913.5,1193.7 L914.3,1193.7 L915.1,1193.7 L915.9,1193.7 L916.7,1193.7 L917.5,1193.7 L918.3,1190.4 L919.1,1193.7 L919.9,1193.7 L920.7,1193.7 L921.5,1193.7 L922.3,1197.0 L923.1,1197.0 L923.9,1193.7 L924.7,1193.7 L925.5,1193.7 L926.3,1193.7 L927.1,1193.7 L927.9,1193.7 L928.7,1193.7 L929.5,1190.4 L930.3,1193.7 L931.1,1193.7 L931.9,1193.7 L932.7,1190.4 L933.5,1193.7 L934.3,1193.7 L935.1,1197.0 L935.9,1197.0 L936.7,1193.7 L937.5,1197.0 L938.3,1190.4 L939.1,1190.4 L939.9,1190.4 L940.7,1193.7 L941.5,1197.0 L942.3,1193.7 L943.1,1193.7 L943.9,1193.7 L944.7,1193.7 L945.5,1193.7 L946.3,1197.0 L947.1,1197.0 L947.9,1193.7 L948.7,1193.7 L949.5,1193.7 L950.3,1193.7 L951.1,1193.7 L951.9,1193.7 L952.7,1193.7 L953.5,1193.7 L954.3,1193.7 L955.1,1193.7 L955.9,1193.7 L956.7,1190.4 L957.5,1193.7 L958.3,1193.7 L959.1,1193.7 L959.9,1193.7 L960.7,1193.7 L961.5,1193.7 L962.3,1193.7 L963.1,1193.7 L963.9,1193.7 L964.7,1193.7 L965.5,1193.7 L966.3,1193.7 L967.1,1193.7 L967.9,1197.0 L968.7,1193.7 L969.5,1193.7 L970.3,1193.7 L971.1,1190.4 L971.9,1193.7 L972.7,1193.7 L973.5,1193.7 L974.3,1190.4 L975.1,1193.7 L975.9,1193.7 L976.7,1193.7 L977.5,1193.7 L978.3,1193.7 L979.1,1193.7 L979.9,1193.7 L980.7,1197.0 L981.5,1197.0 L982.3,1193.7 L983.1,1193.7 L983.9,1197.0 L984.7,1193.7 L985.5,1193.7 L986.3,1193.7 L987.1,1193.7 L987.9,1193.7 L988.7,1197.0 L989.5,1193.7 L990.3,1193.7 L991.1,1193.7 L991.9,1193.7 L992.7,1193.7 L993.5,1193.7 L994.3,1193.7 L995.1,1193.7 L995.9,1193.7 L996.7,1193.7 L997.5,1193.7 L998.3,1193.7 L999.1,1190.4 L999.9,1197.0 L1000.7,1197.0 L1001.5,1193.7 L1002.3,1193.7 L1003.1,1193.7 L1003.9,1193.7 L1004.7,1193.7 L1005.5,1193.7 L1006.3,1193.7 L1007.1,1193.7 L1007.9,1193.7 L1008.7,1193.7 L1009.5,1193.7 L1010.3,1193.7 L1011.1,1193.7 L1011.9,1193.7 L1012.7,1193.7 L1013.5,1193.7 L1014.3,1197.0 L1015.1,1193.7 L1015.9,1193.7 L1016.7,1197.0 L1017.5,1193.7 L1018.3,1193.7 L1019.1,1190.4 L1019.9,1197.0 L1020.7,1193.7 L1021.5,1193.7 L1022.3,1193.7 L1023.1,1190.4 L1023.9,1193.7 L1024.7,1193.7 L1025.5,1190.4 L1026.3,1197.0 L1027.1,1197.0 L1027.9,1193.7 L1028.7,1193.7 L1029.5,1193.7 L1030.3,1193.7 L1031.1,1193.7 L1031.9,1193.7 L1032.7,1193.7 L1033.5,1193.7 L1034.3,1193.7 L1035.1,1193.7 L1035.9,1190.4 L1036.7,1193.7 L1037.5,1193.7 L1038.3,1193.7 L1039.1,1193.7 L1039.9,1193.7 L1040.7,1193.7 L1041.5,1193.7 L1042.3,1197.0 L1043.1,1193.7 L1043.9,1193.7 L1044.7,1193.7 L1045.5,1190.4 L1046.3,1190.4 L1047.1,1193.7 L1047.9,1197.0 L1048.7,1193.7 L1049.5,1193.7 L1050.3,1193.7 L1051.1,1190.4 L1051.9,1190.4 L1052.7,1193.7 L1053.5,1193.7 L1054.3,1193.7 L1055.1,1193.7 L1055.9,1193.7 L1056.7,1193.7 L1057.5,1193.7 L1058.3,1193.7 L1059.1,1193.7 L1059.9,1193.7 L1060.7,1193.7 L1061.5,1193.7 L1062.3,1193.7 L1063.1,1193.7 L1063.9,1193.7 L1064.7,1193.7 L1065.5,1193.7 L1066.3,1193.7 L1067.1,1193.7 L1067.9,1193.7 L1068.7,1193.7 L1069.5,1197.0 L1070.3,1197.0 L1071.1,1193.7 L1071.9,1193.7 L1072.7,1193.7 L1073.5,1193.7 L1074.3,1193.7 L1075.1,1193.7 L1075.9,1193.7 L1076.7,1190.4 L1077.5,1190.4 L1078.3,1193.7 L1079.1,1193.7 L1079.9,1193.7 L1080.7,1193.7 L1081.5,1197.0 L1082.3,1193.7 L1083.1,1193.7 L1083.9,1193.7 L1084.7,1193.7 L1085.5,1193.7 L1086.3,1193.7 L1087.1,1193.7 L1087.9,1190.4 L1088.7,1193.7 L1089.5,1193.7 L1090.3,1193.7 L1091.1,1193.7 L1091.9,1193.7 L1092.7,1193.7 L1093.5,1197.0 L1094.3,1197.0 L1095.1,1193.7 L1095.9,1190.4 L1096.7,1193.7 L1097.5,1193.7 L1098.3,1193.7 L1099.1,1193.7 L1099.9,1193.7 L1100.7,1193.7 L1101.5,1193.7 L1102.3,1193.7 L1103.1,1193.7 L1103.9,1193.7 L1104.7,1193.7 L1105.5,1193.7 L1106.3,1193.7 L1107.1,1193.7 L1107.9,1193.7 L1108.7,1193.7 L1109.5,1193.7 L1110.3,1193.7 L1111.1,1193.7 L1111.9,1193.7 L1112.7,1193.7 L1113.5,1193.7 L1114.3,1193.7 L1115.1,1193.7 L1115.9,1193.7 L1116.7,1193.7 L1117.5,1193.7 L1118.3,1193.7 L1119.1,1193.7 L1119.9,1193.7 L1120.7,1197.0 L1121.5,1197.0 L1122.3,1193.7 L1123.1,1193.7 L1123.9,1190.4 L1124.7,1193.7 L1125.5,1193.7 L1126.3,1193.7 L1127.1,1193.7 L1127.9,1193.7 L1128.7,1193.7 L1129.5,1193.7 L1130.3,1193.7 L1131.1,1193.7 L1131.9,1193.7 L1132.7,1193.7 L1133.5,1193.7 L1134.3,1193.7 L1135.1,1193.7 L1135.9,1193.7 L1136.7,1193.7 L1137.5,1193.7 L1138.3,1193.7 L1139.1,1193.7 L1139.9,1190.4 L1140.7,1190.4 L1141.5,1193.7 L1142.3,1190.4 L1143.1,1190.4 L1143.9,1193.7 L1144.7,1193.7 L1145.5,1197.0 L1146.3,1197.0 L1147.1,1193.7 L1147.9,1193.7 L1148.7,1193.7 L1149.5,1193.7 L1150.3,1193.7 L1151.1,1193.7 L1151.9,1197.0 L1152.7,1197.0 L1153.5,1193.7 " stroke="#00ff00" stroke-width="1.1" fill="none"/>
<path d="M165.5,1094.4 L166.3,1094.4 L167.1,1094.4 L167.9,1094.4 L168.7,1094.4 L169.5,1094.4 L170.3,1094.4 L171.1,1094.4 L171.9,1094.4 L172.7,1098.0 L173.5,1094.4 L174.3,1094.4 L175.1,1094.4 L175.9,1094.4 L176.7,1094.4 L177.5,1094.4 L178.3,1094.4 L179.1,1094.4 L179.9,1094.4 L180.7,1094.4 L181.5,1098.0 L182.3,1094.4 L183.1,1094.4 L183.9,1094.4 L184.7,1094.4 L185.5,1094.4 L186.3,1094.4 L187.1,1094.4 L187.9,1094.4 L188.7,1094.4 L189.5,1094.4 L190.3,1094.4 L191.1,1094.4 L191.9,1094.4 L192.7,1094.4 L193.5,1094.4 L194.3,1094.4 L195.1,1094.4 L195.9,1094.4 L196.7,1094.4 L197.5,1094.4 L198.3,1094.4 L199.1,1098.0 L199.9,1098.0 L200.7,1094.4 L201.5,1094.4 L202.3,1094.4 L203.1,1094.4 L203.9,1094.4 L204.7,1094.4 L205.5,1098.0 L206.3,1094.4 L207.1,1094.4 L207.9,1098.0 L208.7,1094.4 L209.5,1094.4 L210.3,1094.4 L211.1,1094.4 L211.9,1094.4 L212.7,1094.4 L213.5,1094.4 L214.3,1094.4 L215.1,1094.4 L215.9,1094.4 L216.7,1094.4 L217.5,1094.4 L218.3,1094.4 L219.1,1094.4 L219.9,1094.4 L220.7,1094.4 L221.5,1094.4 L222.3,1094.4 L223.1,1094.4 L223.9,1094.4 L224.7,1094.4 L225.5,1094.4 L226.3,1094.4 L227.1,1094.4 L227.9,1094.4 L228.7,1094.4 L229.5,1098.0 L230.3,1094.4 L231.1,1094.4 L231.9,1098.0 L232.7,1094.4 L233.5,1094.4 L234.3,1094.4 L235.1,1094.4 L235.9,1094.4 L236.7,1094.4 L237.5,1094.4 L238.3,1094.4 L239.1,1094.4 L239.9,1094.4 L240.7,1094.4 L241.5,1094.4 L242.3,1094.4 L243.1,1094.4 L243.9,1094.4 L244.7,1098.0 L245.5,1094.4 L246.3,1094.4 L247.1,1094.4 L247.9,1094.4 L248.7,1094.4 L249.5,1094.4 L250.3,1094.4 L251.1,1094.4 L251.9,1094.4 L252.7,1094.4 L253.5,1094.4 L254.3,1094.4 L255.1,1094.4 L255.9,1094.4 L256.7,1094.4 L257.5,1094.4 L258.3,1094.4 L259.1,1094.4 L259.9,1094.4 L260.7,1094.4 L261.5,1094.4 L262.3,1094.4 L263.1,1094.4 L263.9,1094.4 L264.7,1094.4 L265.5,1094.4 L266.3,1094.4 L267.1,1094.4 L267.9,1094.4 L268.7,1094.4 L269.5,1094.4 L270.3,1094.4 L271.1,1094.4 L271.9,1094.4 L272.7,1094.4 L273.5,1094.4 L274.3,1094.4 L275.1,1094.4 L275.9,1094.4 L276.7,1094.4 L277.5,1094.4 L278.3,1094.4 L279.1,1094.4 L279.9,1094.4 L280.7,1094.4 L281.5,1094.4 L282.3,1094.4 L283.1,1094.4 L283.9,1094.4 L284.7,1094.4 L285.5,1094.4 L286.3,1094.4 L287.1,1094.4 L287.9,1094.4 L288.7,1094.4 L289.5,1094.4 L290.3,1094.4 L291.1,1094.4 L291.9,1094.4 L292.7,1094.4 L293.5,1094.4 L294.3,1094.4 L295.1,1094.4 L295.9,1094.4 L296.7,1094.4 L297.5,1094.4 L298.3,1094.4 L299.1,1094.4 L299.9,1094.4 L300.7,1094.4 L301.5,1094.4 L302.3,1094.4 L303.1,1094.4 L303.9,1094.4 L304.7,1094.4 L305.5,1094.4 L306.3,1094.4 L307.1,1094.4 L307.9,1098.0 L308.7,1098.0 L309.5,1094.4 L310.3,1094.4 L311.1,1094.4 L311.9,1094.4 L312.7,1094.4 L313.5,1094.4 L314.3,1098.0 L315.1,1094.4 L315.9,1094.4 L316.7,1094.4 L317.5,1094.4 L318.3,1094.4 L319.1,1094.4 L319.9,1094.4 L320.7,1098.0 L321.5,1094.4 L322.3,1094.4 L323.1,1094.4 L323.9,1094.4 L324.7,1094.4 L325.5,1094.4 L326.3,1098.0 L327.1,1094.4 L327.9,1098.0 L328.7,1094.4 L329.5,1094.4 L330.3,1094.4 L331.1,1094.4 L331.9,1094.4 L332.7,1094.4 L333.5,1094.4 L334.3,1094.4 L335.1,1094.4 L335.9,1094.4 L336.7,1094.4 L337.5,1098.0 L338.3,1094.4 L339.1,1094.4 L339.9,1094.4 L340.7,1094.4 L341.5,1094.4 L342.3,1094.4 L343.1,1094.4 L343.9,1094.4 L344.7,1094.4 L345.5,1094.4 L346.3,1094.4 L347.1,1098.0 L347.9,1094.4 L348.7,1094.4 L349.5,1094.4 L350.3,1094.4 L351.1,1094.4 L351.9,1094.4 L352.7,1094.4 L353.5,1094.4 L354.3,1094.4 L355.1,1094.4 L355.9,1094.4 L356.7,1094.4 L357.5,1094.4 L358.3,1094.4 L359.1,1094.4 L359.9,1094.4 L360.7,1094.4 L361.5,1098.0 L362.3,1094.4 L363.1,1094.4 L363.9,1094.4 L364.7,1094.4 L365.5,1094.4 L366.3,1094.4 L367.1,1094.4 L367.9,1094.4 L368.7,1094.4 L369.5,1094.4 L370.3,1094.4 L371.1,1094.4 L371.9,1094.4 L372.7,1094.4 L373.5,1094.4 L374.3,1094.4 L375.1,1094.4 L375.9,1094.4 L376.7,1094.4 L377.5,1098.0 L378.3,1098.0 M381.5,1094.4 L382.3,1094.4 L383.1,1090.6 L383.9,1094.4 L384.7,1094.4 L385.5,1094.4 L386.3,1094.4 L387.1,1094.4 L387.9,1094.4 L388.7,1094.4 L389.5,1094.4 L390.3,1094.4 L391.1,1094.4 L391.9,1094.4 L392.7,1094.4 L393.5,1094.4 L394.3,1094.4 L395.1,1094.4 L395.9,1094.4 L396.7,1094.4 L397.5,1094.4 L398.3,1094.4 L399.1,1094.4 L399.9,1094.4 L400.7,1094.4 L401.5,1094.4 L402.3,1094.4 L403.1,1094.4 L403.9,1094.4 L404.7,1094.4 L405.5,1094.4 L406.3,1094.4 L407.1,1094.4 L407.9,1094.4 L408.7,1094.4 L409.5,1094.4 L410.3,1094.4 L411.1,1094.4 L411.9,1094.4 L412.7,1094.4 L413.5,1094.4 L414.3,1094.4 L415.1,1094.4 L415.9,1094.4 L416.7,1094.4 L417.5,1094.4 L418.3,1094.4 L419.1,1094.4 L419.9,1094.4 L420.7,1094.4 L421.5,1094.4 L422.3,1094.4 L423.1,1094.4 L423.9,1094.4 L424.7,1094.4 L425.5,1094.4 L426.3,1094.4 L427.1,1094.4 L427.9,1094.4 L428.7,1094.4 L429.5,1094.4 L430.3,1094.4 L431.1,1094.4 L431.9,1094.4 L432.7,1094.4 L433.5,1094.4 L434.3,1094.4 L435.1,1094.4 L435.9,1094.4 L436.7,1094.4 L437.5,1094.4 L438.3,1094.4 L439.1,1094.4 L439.9,1094.4 L440.7,1094.4 L441.5,1094.4 L442.3,1094.4 L443.1,1094.4 L443.9,1094.4 L444.7,1094.4 L445.5,1094.4 L446.3,1094.4 L447.1,1094.4 L447.9,1094.4 L448.7,1094.4 L449.5,1094.4 L450.3,1094.4 L451.1,1094.4 L451.9,1094.4 L452.7,1094.4 L453.5,1094.4 L454.3,1094.4 L455.1,1094.4 L455.9,1090.6 L456.7,1094.4 L457.5,1094.4 L458.3,1094.4 L459.1,1094.4 L459.9,1094.4 L460.7,1094.4 L461.5,1094.4 L462.3,1094.4 L463.1,1094.4 L463.9,1094.4 L464.7,1094.4 L465.5,1094.4 L466.3,1094.4 L467.1,1094.4 L467.9,1094.4 L468.7,1094.4 L469.5,1094.4 L470.3,1094.4 L471.1,1094.4 L471.9,1094.4 L472.7,1094.4 L473.5,1094.4 L474.3,1094.4 L475.1,1094.4 L475.9,1094.4 L476.7,1094.4 L477.5,1094.4 L478.3,1094.4 L479.1,1094.4 L479.9,1094.4 L480.7,1094.4 L481.5,1094.4 L482.3,1094.4 L483.1,1094.4 L483.9,1094.4 L484.7,1094.4 L485.5,1094.4 L486.3,1094.4 L487.1,1094.4 L487.9,1094.4 L488.7,1094.4 L489.5,1094.4 L490.3,1094.4 L491.1,1091.1 L491.9,1094.4 L492.7,1094.4 L493.5,1094.4 L494.3,1094.4 L495.1,1094.4 L495.9,1094.4 L496.7,1094.4 L497.5,1094.4 L498.3,1094.4 L499.1,1094.4 L499.9,1094.4 L500.7,1094.4 L501.5,1094.4 L502.3,1094.4 L503.1,1094.4 L503.9,1091.1 L504.7,1094.4 L505.5,1094.4 L506.3,1094.4 L507.1,1091.1 L507.9,1094.4 L508.7,1094.4 L509.5,1094.4 L510.3,1094.4 L511.1,1091.1 L511.9,1094.4 L512.7,1094.4 L513.5,1094.4 L514.3,1094.4 L515.1,1094.4 L515.9,1094.4 L516.7,1094.4 L517.5,1094.4 L518.3,1094.4 L519.1,1091.1 L519.9,1091.1 L520.7,1091.1 L521.5,1094.4 L522.3,1094.4 L523.1,1094.4 L523.9,1094.4 L524.7,1094.4 L525.5,1094.4 L526.3,1091.1 L527.1,1094.4 L527.9,1094.4 L528.7,1094.4 L529.5,1094.4 L530.3,1094.4 L531.1,1091.1 L531.9,1094.4 L532.7,1091.1 L533.5,1094.4 L534.3,1094.4 L535.1,1094.4 L535.9,1094.4 L536.7,1094.4 L537.5,1094.4 L538.3,1094.4 L539.1,1094.4 L539.9,1094.4 L540.7,1094.4 L541.5,1094.4 L542.3,1094.4 L543.1,1094.4 L543.9,1094.4 L544.7,1094.4 L545.5,1094.4 L546.3,1094.4 L547.1,1094.4 L547.9,1091.1 L548.7,1094.4 L549.5,1094.4 L550.3,1094.4 L551.1,1094.4 L551.9,1094.4 L552.7,1094.4 L553.5,1094.4 L554.3,1091.1 L555.1,1094.4 L555.9,1091.1 L556.7,1091.1 L557.5,1094.4 L558.3,1094.4 L559.1,1094.4 L559.9,1094.4 L560.7,1094.4 L561.5,1094.4 L562.3,1091.1 L563.1,1094.4 L563.9,1094.4 L564.7,1094.4 L565.5,1094.4 L566.3,1094.4 L567.1,1094.4 L567.9,1091.1 L568.7,1094.4 L569.5,1094.4 L570.3,1094.4 L571.1,1094.4 L571.9,1094.4 L572.7,1094.4 L573.5,1094.4 L574.3,1091.1 L575.1,1091.1 L575.9,1094.4 L576.7,1094.4 L577.5,1094.4 L578.3,1094.4 L579.1,1094.4 L579.9,1094.4 L580.7,1094.4 L581.5,1094.4 L582.3,1094.4 L583.1,1094.4 L583.9,1094.4 L584.7,1094.4 L585.5,1094.4 L586.3,1094.4 L587.1,1094.4 L587.9,1094.4 L588.7,1094.4 L589.5,1094.4 L590.3,1094.4 L591.1,1094.4 L591.9,1091.1 L592.7,1094.4 L593.5,1094.4 L594.3,1094.4 L595.1,1091.1 L595.9,1094.4 L596.7,1094.4 L597.5,1091.1 L598.3,1094.4 L599.1,1094.4 L599.9,1094.4 L600.7,1094.4 L601.5,1094.4 L602.3,1094.4 L603.1,1094.4 L603.9,1094.4 L604.7,1094.4 L605.5,1094.4 L606.3,1094.4 L607.1,1094.4 L607.9,1094.4 L608.7,1094.4 L609.5,1094.4 L610.3,1094.4 L611.1,1094.4 L611.9,1094.4 L612.7,1094.4 L613.5,1094.4 L614.3,1094.4 L615.1,1094.4 L615.9,1094.4 L616.7,1094.4 L617.5,1094.4 L618.3,1094.4 L619.1,1094.4 L619.9,1094.4 L620.7,1094.4 L621.5,1094.4 L622.3,1094.4 L623.1,1094.4 L623.9,1094.4 L624.7,1094.4 L625.5,1094.4 L626.3,1094.4 L627.1,1094.4 L627.9,1094.4 L628.7,1094.4 L629.5,1094.4 L630.3,1094.4 L631.1,1094.4 L631.9,1094.4 L632.7,1094.4 L633.5,1094.4 L634.3,1094.4 L635.1,1094.4 L635.9,1094.4 L636.7,1094.4 L637.5,1094.4 L638.3,1094.4 L639.1,1094.4 L639.9,1094.4 L640.7,1091.1 L641.5,1094.4 L642.3,1094.4 L643.1,1094.4 L643.9,1094.4 L644.7,1094.4 L645.5,1094.4 L646.3,1094.4 L647.1,1094.4 L647.9,1091.1 L648.7,1094.4 L649.5,1094.4 L650.3,1094.4 L651.1,1094.4 L651.9,1094.4 L652.7,1094.4 L653.5,1094.4 L654.3,1094.4 L655.1,1091.1 L655.9,1094.4 L656.7,1094.4 L657.5,1094.4 L658.3,1094.4 L659.1,1091.1 L659.9,1091.1 L660.7,1094.4 L661.5,1094.4 L662.3,1094.4 L663.1,1094.4 L663.9,1094.4 L664.7,1091.1 L665.5,1094.4 L666.3,1094.4 L667.1,1094.4 L667.9,1094.4 L668.7,1094.4 L669.5,1094.4 L670.3,1091.1 L671.1,1094.4 L671.9,1094.4 L672.7,1094.4 L673.5,1094.4 L674.3,1094.4 L675.1,1094.4 L675.9,1094.4 L676.7,1091.1 L677.5,1094.4 L678.3,1094.4 L679.1,1094.4 L679.9,1094.4 L680.7,1094.4 L681.5,1091.1 L682.3,1094.4 L683.1,1094.4 L683.9,1091.1 L684.7,1091.1 L685.5,1094.4 L686.3,1094.4 L687.1,1094.4 L687.9,1091.1 L688.7,1094.4 L689.5,1094.4 L690.3,1094.4 L691.1,1094.4 L691.9,1094.4 L692.7,1094.4 L693.5,1094.4 L694.3,1094.4 L695.1,1094.4 L695.9,1094.4 L696.7,1094.4 L697.5,1094.4 L698.3,1094.4 L699.1,1094.4 L699.9,1094.4 L700.7,1094.4 L701.5,1094.4 L702.3,1094.4 L703.1,1094.4 L703.9,1094.4 L704.7,1094.4 L705.5,1094.4 L706.3,1094.4 L707.1,1094.4 L707.9,1094.4 L708.7,1094.4 L709.5,1094.4 L710.3,1094.4 L711.1,1094.4 L711.9,1094.4 L712.7,1094.4 L713.5,1094.4 L714.3,1094.4 L715.1,1094.4 L715.9,1094.4 L716.7,1094.4 L717.5,1094.4 L718.3,1094.4 L719.1,1094.4 L719.9,1094.4 L720.7,1094.4 L721.5,1094.4 L722.3,1094.4 L723.1,1094.4 L723.9,1094.4 L724.7,1094.4 L725.5,1094.4 L726.3,1091.1 L727.1,1094.4 L727.9,1091.1 L728.7,1091.1 L729.5,1094.4 L730.3,1094.4 L731.1,1091.1 L731.9,1091.1 L732.7,1094.4 L733.5,1094.4 L734.3,1094.4 L735.1,1094.4 L735.9,1091.1 L736.7,1094.4 L737.5,1091.1 L738.3,1091.1 L739.1,1094.4 L739.9,1094.4 L740.7,1094.4 L741.5,1094.4 L742.3,1094.4 L743.1,1094.4 L743.9,1094.4 L744.7,1094.4 L745.5,1094.4 L746.3,1094.4 L747.1,1094.4 L747.9,1094.4 L748.7,1094.4 L749.5,1094.4 L750.3,1094.4 L751.1,1094.4 L751.9,1094.4 L752.7,1094.4 L753.5,1094.4 L754.3,1094.4 L755.1,1094.4 L755.9,1094.4 L756.7,1091.1 L757.5,1094.4 L758.3,1094.4 L759.1,1094.4 L759.9,1094.4 L760.7,1094.4 L761.5,1094.4 L762.3,1094.4 L763.1,1094.4 L763.9,1094.4 L764.7,1094.4 L765.5,1094.4 L766.3,1094.4 L767.1,1094.4 L767.9,1094.4 L768.7,1094.4 L769.5,1094.4 L770.3,1094.4 L771.1,1094.4 L771.9,1094.4 L772.7,1094.4 L773.5,1094.4 L774.3,1094.4 L775.1,1094.4 L775.9,1094.4 L776.7,1094.4 L777.5,1094.4 L778.3,1094.4 L779.1,1091.1 L779.9,1091.1 L780.7,1094.4 L781.5,1094.4 L782.3,1094.4 L783.1,1094.4 L783.9,1094.4 L784.7,1094.4 L785.5,1094.4 L786.3,1091.1 L787.1,1094.4 L787.9,1094.4 L788.7,1091.1 L789.5,1094.4 L790.3,1094.4 L791.1,1094.4 L791.9,1094.4 L792.7,1091.1 L793.5,1094.4 L794.3,1094.4 L795.1,1094.4 L795.9,1091.1 L796.7,1094.4 L797.5,1094.4 L798.3,1091.1 L799.1,1094.4 L799.9,1094.4 L800.7,1094.4 L801.5,1094.4 L802.3,1094.4 L803.1,1094.4 L803.9,1094.4 L804.7,1094.4 L805.5,1090.6 L806.3,1093.4 L807.1,1090.6 L807.9,1090.6 L808.7,1093.4 L809.5,1093.4 L810.3,1093.4 L811.1,1093.4 L811.9,1090.6 L812.7,1090.6 L813.5,1093.4 L814.3,1093.4 L815.1,1093.4 L815.9,1090.6 L816.7,1090.6 L817.5,1093.4 L818.3,1090.6 L819.1,1090.6 L819.9,1093.4 L820.7,1093.4 L821.5,1093.4 L822.3,1090.6 L823.1,1093.4 L823.9,1093.4 L824.7,1090.6 L825.5,1093.4 L826.3,1093.4 L827.1,1090.6 L827.9,1090.6 L828.7,1093.4 L829.5,1090.6 L830.3,1093.4 L831.1,1090.6 L831.9,1090.6 L832.7,1093.4 L833.5,1093.4 L834.3,1093.4 L835.1,1093.4 L835.9,1093.4 L836.7,1090.6 L837.5,1090.6 L838.3,1090.6 L839.1,1090.6 L839.9,1090.6 L840.7,1093.4 L841.5,1090.6 L842.3,1090.6 L843.1,1093.4 L843.9,1093.4 L844.7,1090.6 L845.5,1090.6 L846.3,1093.4 L847.1,1093.4 L847.9,1093.4 L848.7,1093.4 L849.5,1093.4 L850.3,1090.6 L851.1,1093.4 L851.9,1093.4 L852.7,1093.4 L853.5,1090.6 L854.3,1093.4 L855.1,1093.4 L855.9,1093.4 L856.7,1090.6 L857.5,1090.6 L858.3,1090.6 L859.1,1093.4 L859.9,1090.6 L860.7,1090.6 L861.5,1093.4 L862.3,1090.6 L863.1,1090.6 L863.9,1093.4 L864.7,1090.6 L865.5,1090.6 L866.3,1093.4 L867.1,1093.4 L867.9,1093.4 L868.7,1093.4 L869.5,1093.4 L870.3,1093.4 L871.1,1090.6 L871.9,1093.4 L872.7,1093.4 L873.5,1090.6 L874.3,1093.4 L875.1,1093.4 L875.9,1093.4 L876.7,1093.4 L877.5,1093.4 L878.3,1090.6 L879.1,1093.4 L879.9,1093.4 L880.7,1090.6 L881.5,1093.4 L882.3,1093.4 L883.1,1093.4 L883.9,1093.4 L884.7,1090.6 L885.5,1093.4 L886.3,1093.4 L887.1,1090.6 L887.9,1093.4 L888.7,1093.4 L889.5,1093.4 L890.3,1090.6 L891.1,1093.4 L891.9,1090.6 L892.7,1093.4 L893.5,1093.4 L894.3,1090.6 L895.1,1093.4 L895.9,1090.6 L896.7,1090.6 L897.5,1090.6 L898.3,1093.4 L899.1,1093.4 L899.9,1093.4 L900.7,1090.6 L901.5,1093.4 L902.3,1093.4 L903.1,1093.4 L903.9,1093.4 L904.7,1093.4 L905.5,1093.4 L906.3,1093.4 L907.1,1093.4 L907.9,1093.4 L908.7,1093.4 L909.5,1093.4 L910.3,1093.4 L911.1,1090.6 L911.9,1090.6 L912.7,1090.6 L913.5,1090.6 L914.3,1090.6 L915.1,1090.6 L915.9,1093.4 L916.7,1093.4 L917.5,1093.4 L918.3,1093.4 L919.1,1093.4 L919.9,1090.6 L920.7,1090.6 L921.5,1093.4 L922.3,1093.4 L923.1,1090.6 L923.9,1090.6 L924.7,1093.4 L925.5,1090.6 L926.3,1093.4 L927.1,1093.4 L927.9,1090.6 L928.7,1090.6 L929.5,1093.4 L930.3,1090.6 L931.1,1093.4 L931.9,1093.4 L932.5,1090.7 L933.3,1090.7 L934.1,1090.7 L934.9,1090.7 L935.7,1090.7 L936.5,1090.7 L937.3,1090.7 L938.1,1090.7 L938.9,1090.7 L939.7,1090.7 L940.5,1090.7 L941.3,1093.4 L942.1,1090.7 L942.9,1090.7 L943.7,1090.7 L944.5,1090.7 L945.3,1090.7 L946.1,1090.7 L946.9,1090.7 L947.7,1090.7 L948.5,1090.7 L949.3,1090.7 L950.1,1090.7 L950.9,1090.7 L951.7,1090.7 L952.5,1090.7 L953.3,1090.7 L954.1,1090.7 L954.9,1090.7 L955.7,1090.7 L956.5,1090.7 L957.3,1090.7 L958.1,1090.7 L958.9,1090.7 L959.7,1090.7 L960.5,1090.7 L961.3,1090.7 L962.1,1090.7 L962.9,1090.7 L963.7,1090.7 L964.5,1090.7 L965.3,1090.7 L966.1,1090.7 L966.9,1090.7 L967.7,1090.7 L968.5,1090.7 L969.3,1090.7 L970.1,1090.7 L970.9,1090.7 L971.7,1090.7 L972.5,1090.7 L973.3,1090.7 L974.1,1090.7 L974.9,1090.7 L975.7,1090.7 L976.5,1090.7 L977.3,1090.7 L978.1,1090.7 L978.9,1090.7 L979.7,1090.7 L980.5,1090.7 L981.3,1090.7 L982.1,1090.7 L982.9,1090.7 L983.7,1090.7 L984.5,1090.7 L985.3,1090.7 L986.1,1090.7 L986.9,1090.7 L987.7,1090.7 L988.5,1090.7 L989.3,1090.7 L990.1,1090.7 L990.9,1090.7 L991.7,1090.7 L992.5,1090.7 L993.3,1090.7 L994.1,1093.4 L994.9,1093.4 L995.7,1090.7 L996.5,1090.7 L997.3,1090.7 L998.1,1090.7 L998.9,1090.7 L999.7,1090.7 L1000.5,1090.7 L1001.3,1090.7 L1002.1,1090.7 L1002.9,1090.7 L1003.7,1090.7 L1004.5,1090.7 L1005.3,1090.7 L1006.1,1090.7 L1006.9,1090.7 L1007.7,1090.7 L1008.5,1090.7 L1009.3,1090.7 L1010.1,1090.7 L1010.9,1090.7 L1011.7,1090.7 L1012.5,1090.7 L1013.3,1090.7 L1014.1,1090.7 L1014.9,1090.7 L1015.7,1090.7 L1016.5,1090.7 L1017.3,1090.7 L1018.1,1090.7 L1018.9,1090.7 L1019.7,1093.4 L1020.5,1090.7 L1021.3,1090.7 L1022.1,1090.7 L1022.9,1090.7 L1023.7,1090.7 L1024.5,1090.7 L1025.3,1090.7 L1026.1,1090.7 L1026.9,1090.7 L1027.7,1093.4 L1028.5,1090.7 L1029.3,1090.7 L1030.1,1090.7 L1030.9,1090.7 L1031.7,1090.7 L1032.5,1090.7 L1033.3,1090.7 L1034.1,1090.7 L1034.9,1090.7 L1035.7,1090.7 L1036.5,1090.7 L1037.3,1093.4 L1038.1,1090.7 L1038.9,1090.7 L1039.7,1093.4 L1040.5,1090.7 L1041.3,1090.7 L1042.1,1090.7 L1042.9,1090.7 L1043.7,1090.7 L1044.5,1090.7 L1045.3,1093.4 L1046.1,1090.7 L1046.9,1090.7 L1047.7,1090.7 L1048.5,1090.7 L1049.3,1090.7 L1050.1,1090.7 L1050.9,1090.7 L1051.7,1090.7 L1052.5,1090.7 L1053.3,1090.7 L1054.1,1090.7 L1054.9,1090.7 L1055.7,1090.7 L1056.5,1090.7 L1057.3,1090.7 L1058.1,1090.7 L1058.9,1090.7 L1059.7,1090.7 L1060.5,1090.7 L1061.3,1093.4 L1062.1,1093.4 L1062.9,1090.7 L1063.7,1090.7 L1064.5,1090.7 L1065.3,1090.7 L1066.1,1090.7 L1066.9,1090.7 L1067.7,1090.7 L1068.5,1090.7 L1069.3,1090.7 L1070.1,1090.7 L1070.9,1090.7 L1071.7,1090.7 L1072.5,1090.7 L1073.3,1090.7 L1074.1,1090.7 L1074.9,1090.7 L1075.7,1090.7 L1076.5,1090.7 L1077.3,1090.7 L1078.1,1090.7 L1078.9,1090.7 L1079.7,1090.7 L1080.5,1090.7 L1081.3,1090.7 L1082.1,1090.7 L1082.9,1090.7 L1083.7,1090.7 L1084.5,1090.7 L1085.3,1090.7 L1086.1,1090.7 L1086.9,1090.7 L1087.7,1090.7 L1088.5,1090.7 L1089.3,1090.7 L1090.1,1090.7 L1090.9,1090.7 L1091.7,1093.4 L1092.5,1090.7 L1093.3,1090.7 L1094.1,1090.7 L1094.9,1090.7 L1095.7,1090.7 L1096.5,1090.7 L1097.3,1090.7 L1098.1,1090.7 L1098.9,1090.7 L1099.7,1090.7 L1100.5,1090.7 L1101.3,1090.7 L1102.1,1090.7 L1102.9,1090.7 L1103.7,1090.7 L1104.5,1090.7 L1105.3,1090.7 L1106.1,1090.7 L1106.9,1090.7 L1107.7,1090.7 L1108.5,1090.7 L1109.3,1090.7 L1110.1,1090.7 L1110.9,1090.7 L1111.7,1090.7 L1112.5,1090.7 L1113.3,1090.7 L1114.1,1090.7 L1114.9,1090.7 L1115.7,1090.7 L1116.5,1093.4 L1117.3,1090.7 L1118.1,1090.7 L1118.9,1090.7 L1119.7,1090.7 L1120.5,1090.7 L1121.3,1090.7 L1122.1,1093.4 L1122.9,1090.7 L1123.7,1090.7 L1124.5,1090.7 L1125.3,1090.7 L1126.1,1090.7 L1126.9,1090.7 L1127.7,1090.7 L1128.5,1090.7 L1129.3,1090.7 L1130.1,1090.7 L1130.9,1090.7 L1131.7,1090.7 L1132.5,1090.7 L1133.3,1090.7 L1134.1,1090.7 L1134.9,1090.7 L1135.7,1093.4 L1136.5,1090.7 L1137.3,1090.7 L1138.1,1090.7 L1138.9,1090.7 L1139.7,1090.7 L1140.5,1090.7 L1141.3,1090.7 L1142.1,1093.4 L1142.9,1090.7 L1143.7,1090.7 L1144.5,1090.7 L1145.3,1093.4 L1146.1,1093.4 L1146.9,1090.7 L1147.7,1090.7 L1148.5,1090.7 L1149.3,1090.7 L1150.1,1090.7 L1150.9,1090.7 L1151.7,1090.7 L1152.5,1090.7 L1153.3,1090.7 " stroke="#00ffff" stroke-width="1.1" fill="none"/>
<path d="M165.5,1087.3 L166.3,1087.3 L167.1,1087.3 L167.9,1087.3 L168.7,1087.3 L169.5,1087.3 L170.3,1087.3 L171.1,1087.3 L171.9,1087.3 L172.7,1087.3 L173.5,1087.3 L174.3,1087.3 L175.1,1087.3 L175.9,1087.3 L176.7,1087.3 L177.5,1083.6 L178.3,1087.3 L179.1,1087.3 L179.9,1087.3 L180.7,1087.3 L181.5,1087.3 L182.3,1087.3 L183.1,1087.3 L183.9,1087.3 L184.7,1087.3 L185.5,1087.3 L186.3,1087.3 L187.1,1087.3 L187.9,1087.3 L188.7,1087.3 L189.5,1087.3 L190.3,1087.3 L191.1,1087.3 L191.9,1087.3 L192.7,1087.3 L193.5,1087.3 L194.3,1087.3 L195.1,1087.3 L195.9,1083.6 L196.7,1087.3 L197.5,1087.3 L198.3,1087.3 L199.1,1087.3 L199.9,1083.6 L200.7,1087.3 L201.5,1087.3 L202.3,1087.3 L203.1,1087.3 L203.9,1087.3 L204.7,1087.3 L205.5,1087.3 L206.3,1087.3 L207.1,1087.3 L207.9,1087.3 L208.7,1087.3 L209.5,1087.3 L210.3,1087.3 L211.1,1087.3 L211.9,1087.3 L212.7,1087.3 L213.5,1087.3 L214.3,1087.3 L215.1,1087.3 L215.9,1087.3 L216.7,1087.3 L217.5,1087.3 L218.3,1087.3 L219.1,1087.3 L219.9,1087.3 L220.7,1087.3 L221.5,1087.3 L222.3,1083.6 L223.1,1083.6 L223.9,1087.3 L224.7,1087.3 L225.5,1087.3 L226.3,1087.3 L227.1,1087.3 L227.9,1087.3 L228.7,1087.3 L229.5,1087.3 L230.3,1087.3 L231.1,1087.3 L231.9,1087.3 L232.7,1087.3 L233.5,1087.3 L234.3,1087.3 L235.1,1087.3 L235.9,1087.3 L236.7,1087.3 L237.5,1087.3 L238.3,1087.3 L239.1,1087.3 L239.9,1087.3 L240.7,1087.3 L241.5,1087.3 L242.3,1087.3 L243.1,1087.3 L243.9,1087.3 L244.7,1083.6 L245.5,1087.3 L246.3,1087.3 L247.1,1087.3 L247.9,1087.3 L248.7,1087.3 L249.5,1087.3 L250.3,1087.3 L251.1,1087.3 L251.9,1087.3 L252.7,1087.3 L253.5,1087.3 L254.3,1087.3 L255.1,1087.3 L255.9,1087.3 L256.7,1087.3 L257.5,1087.3 L258.3,1083.6 L259.1,1083.6 L259.9,1083.6 L260.7,1087.3 L261.5,1083.6 L262.3,1087.3 L263.1,1087.3 L263.9,1087.3 L264.7,1087.3 L265.5,1087.3 L266.3,1087.3 L267.1,1087.3 L267.9,1087.3 L268.7,1087.3 L269.5,1087.3 L270.3,1087.3 L271.1,1087.3 L271.9,1087.3 L272.7,1087.3 L273.5,1087.3 L274.3,1087.3 L275.1,1087.3 L275.9,1083.6 L276.7,1083.6 L277.5,1087.3 L278.3,1087.3 L279.1,1087.3 L279.9,1087.3 L280.7,1087.3 L281.5,1087.3 L282.3,1083.6 L283.1,1087.3 L283.9,1087.3 L284.7,1087.3 L285.5,1087.3 L286.3,1087.3 L287.1,1087.3 L287.9,1087.3 L288.7,1087.3 L289.5,1087.3 L290.5,1087.3 L291.3,1087.3 L292.1,1087.3 L292.9,1083.6 L293.7,1083.6 L294.5,1087.3 L295.3,1083.6 L296.1,1087.3 L296.9,1087.3 L297.7,1087.3 L298.5,1087.3 L299.3,1087.3 L300.1,1087.3 L300.9,1087.3 L301.7,1087.3 L302.5,1087.3 L303.3,1087.3 L304.1,1087.3 L304.9,1087.3 L305.7,1087.3 L306.5,1087.3 L307.3,1087.3 L308.1,1087.3 L308.9,1083.6 L309.7,1083.6 L310.5,1083.6 L311.3,1087.3 L312.1,1083.6 L312.9,1087.3 L313.7,1083.6 L314.5,1083.6 L315.3,1087.3 L316.1,1083.6 L316.9,1087.3 L317.7,1083.6 L318.5,1083.6 L319.3,1083.6 L320.1,1083.6 L320.9,1083.6 L321.7,1087.3 L322.5,1083.6 L323.3,1087.3 L324.1,1087.3 L324.9,1087.3 L325.7,1083.6 L326.5,1087.3 L327.3,1087.3 L328.1,1083.6 L328.9,1087.3 L329.7,1087.3 L330.5,1087.3 L331.3,1087.3 L332.1,1087.3 L332.9,1087.3 L333.7,1087.3 L334.5,1087.3 L335.3,1083.6 L336.1,1083.6 L336.9,1087.3 L337.7,1087.3 L338.5,1087.3 L339.3,1087.3 L340.1,1087.3 L340.9,1083.6 L341.7,1083.6 L342.5,1083.6 L343.3,1087.3 L344.1,1087.3 L344.9,1087.3 L345.7,1087.3 L346.5,1087.3 L347.3,1087.3 L348.1,1087.3 L348.9,1087.3 L349.7,1087.3 L350.5,1087.3 L351.3,1087.3 L352.1,1087.3 L352.9,1083.6 L353.7,1087.3 L354.5,1087.3 L355.3,1087.3 L356.1,1087.3 L356.9,1087.3 L357.7,1087.3 L358.5,1087.3 L359.3,1087.3 L360.1,1087.3 L360.9,1087.3 L361.7,1087.3 L362.5,1083.6 L363.3,1083.6 L364.1,1083.6 L364.9,1087.3 L365.7,1087.3 L366.5,1087.3 L367.3,1083.6 L368.1,1087.3 L368.9,1083.6 L369.7,1087.3 L370.5,1087.3 L371.3,1087.3 L372.1,1083.6 L372.9,1083.6 L373.7,1087.3 L374.5,1087.3 L375.3,1087.3 L376.1,1087.3 L376.9,1083.6 L377.7,1083.6 L378.5,1087.3 M381.5,1083.6 L382.3,1087.3 L383.1,1087.3 L383.9,1083.6 L384.7,1083.6 L385.5,1087.3 L386.3,1083.6 L387.1,1083.6 L387.9,1083.6 L388.7,1083.6 L389.5,1083.6 L390.3,1083.6 L391.1,1083.6 L391.9,1087.3 L392.7,1083.6 L393.5,1087.3 L394.3,1083.6 L395.1,1083.6 L395.9,1083.6 L396.7,1083.6 L397.5,1083.6 L398.3,1087.3 L399.1,1087.3 L399.9,1083.6 L400.7,1083.6 L401.5,1087.3 L402.3,1083.6 L403.1,1083.6 L403.9,1083.6 L404.7,1087.3 L405.5,1083.6 L406.3,1087.3 L407.1,1083.6 L407.9,1083.6 L408.7,1087.3 L409.5,1083.6 L410.3,1087.3 L411.1,1087.3 L411.9,1083.6 L412.7,1083.6 L413.5,1087.3 L414.3,1083.6 L415.1,1083.6 L415.9,1087.3 L416.7,1083.6 L417.5,1083.6 L418.3,1083.6 L419.1,1083.6 L419.9,1083.6 L420.7,1083.6 L421.5,1087.3 L422.3,1087.3 L423.1,1087.3 L423.9,1087.3 L424.7,1083.6 L425.5,1083.6 L426.3,1083.6 L427.1,1083.6 L427.9,1083.6 L428.7,1083.6 L429.5,1083.6 L430.3,1083.6 L431.1,1083.6 L431.9,1087.3 L432.7,1083.6 L433.5,1087.3 L434.3,1083.6 L435.1,1087.3 L435.9,1083.6 L436.7,1083.6 L437.5,1087.3 L438.3,1087.3 L439.1,1083.6 L439.9,1083.6 L440.7,1083.6 L441.5,1083.6 L442.3,1083.6 L443.1,1083.6 L443.9,1083.6 L444.7,1083.6 L445.5,1083.6 L446.3,1083.6 L447.1,1083.6 L447.9,1083.6 L448.7,1083.6 L449.5,1083.6 L450.3,1083.6 L451.1,1083.6 L451.9,1083.6 L452.7,1083.6 L453.5,1087.3 L454.3,1083.6 L455.1,1083.6 L455.9,1083.6 L456.7,1083.6 L457.5,1083.6 L458.3,1083.6 L459.1,1083.6 L459.9,1083.6 L460.7,1087.3 L461.5,1083.6 L462.3,1083.6 L463.1,1083.6 L463.9,1083.6 L464.7,1083.6 L465.5,1083.6 L466.3,1083.6 L467.1,1083.6 L467.9,1083.6 L468.7,1083.6 L469.5,1083.6 L470.3,1083.6 L471.1,1083.6 L471.9,1087.3 L472.7,1083.6 L473.5,1083.6 L474.3,1087.3 L475.1,1083.6 L475.9,1083.6 L476.7,1087.3 L477.5,1083.6 L478.3,1083.6 L479.1,1083.6 L479.9,1083.6 L480.7,1083.6 L481.5,1087.3 L482.3,1083.6 L483.1,1083.6 L483.9,1083.6 L484.7,1087.3 L485.5,1083.6 L486.3,1083.6 L487.1,1083.6 L487.9,1083.6 L488.7,1083.6 L489.5,1080.0 L490.3,1080.0 L491.1,1080.0 L491.9,1083.6 L492.7,1080.0 L493.5,1083.6 L494.3,1083.6 L495.1,1083.6 L495.9,1083.6 L496.7,1083.6 L497.5,1083.6 L498.3,1080.0 L499.1,1080.0 L499.9,1080.0 L500.7,1080.0 L501.5,1080.0 L502.3,1080.0 L503.1,1083.6 L503.9,1080.0 L504.7,1083.6 L505.5,1080.0 L506.3,1083.6 L507.1,1083.6 L507.9,1083.6 L508.7,1083.6 L509.5,1080.0 L510.3,1080.0 L511.1,1080.0 L511.9,1080.0 L512.7,1083.6 L513.5,1083.6 L514.3,1083.6 L515.1,1083.6 L515.9,1083.6 L516.7,1083.6 L517.5,1080.0 L518.3,1080.0 L519.1,1080.0 L519.9,1080.0 L520.7,1080.0 L521.5,1080.0 L522.3,1080.0 L523.1,1083.6 L523.9,1080.0 L524.7,1080.0 L525.5,1083.6 L526.3,1083.6 L527.1,1080.0 L527.9,1080.0 L528.7,1080.0 L529.5,1080.0 L530.3,1083.6 L531.1,1080.0 L531.9,1083.6 L532.7,1083.6 L533.5,1083.6 L534.3,1083.6 L535.1,1083.6 L535.9,1083.6 L536.7,1083.6 L537.5,1080.0 L538.3,1080.0 L539.1,1083.6 L539.9,1080.0 L540.7,1080.0 L541.5,1080.0 L542.3,1083.6 L543.1,1083.6 L543.9,1080.0 L544.7,1080.0 L545.5,1080.0 L546.3,1080.0 L547.1,1083.6 L547.9,1083.6 L548.7,1083.6 L549.5,1083.6 L550.3,1083.6 L551.1,1083.6 L551.9,1080.0 L552.7,1083.6 L553.5,1083.6 L554.3,1083.6 L555.1,1083.6 L555.9,1080.0 L556.7,1080.0 L557.5,1080.0 L558.3,1083.6 L559.1,1083.6 L559.9,1083.6 L560.7,1080.0 L561.5,1083.6 L562.3,1083.6 L563.1,1083.6 L563.9,1080.0 L564.7,1080.0 L565.5,1083.6 L566.3,1080.0 L567.1,1080.0 L567.9,1083.6 L568.7,1083.6 L569.5,1080.0 L570.3,1083.6 L571.1,1083.6 L571.9,1080.0 L572.7,1080.0 L573.5,1080.0 L574.3,1080.0 L575.1,1080.0 L575.9,1080.0 L576.7,1083.6 L577.5,1083.6 L578.3,1083.6 L579.1,1080.0 L579.9,1080.0 L580.7,1080.0 L581.5,1080.0 L582.3,1083.6 L583.1,1083.6 L583.9,1080.0 L584.7,1080.0 L585.5,1083.6 L586.3,1083.6 L587.1,1083.6 L587.9,1080.0 L588.7,1080.0 L589.5,1080.0 L590.5,1079.8 L591.3,1079.8 L592.1,1079.8 L592.9,1079.8 L593.7,1079.8 L594.5,1083.0 L595.3,1079.8 L596.1,1079.8 L596.9,1079.8 L597.7,1079.8 L598.5,1079.8 L599.3,1079.8 L600.1,1079.8 L600.9,1079.8 L601.7,1079.8 L602.5,1079.8 L603.3,1079.8 L604.1,1079.8 L604.9,1079.8 L605.7,1079.8 L606.5,1079.8 L607.3,1079.8 L608.1,1079.8 L608.9,1079.8 L609.7,1083.0 L610.5,1083.0 L611.3,1079.8 L612.1,1079.8 L612.9,1079.8 L613.7,1079.8 L614.5,1079.8 L615.3,1079.8 L616.1,1079.8 L616.9,1079.8 L617.7,1079.8 L618.5,1079.8 L619.3,1079.8 L620.1,1079.8 L620.9,1079.8 L621.7,1079.8 L622.5,1079.8 L623.3,1079.8 L624.1,1079.8 L624.9,1079.8 L625.7,1079.8 L626.5,1079.8 L627.3,1079.8 L628.1,1083.0 L628.9,1083.0 L629.7,1079.8 L630.5,1079.8 L631.3,1079.8 L632.1,1079.8 L632.9,1079.8 L633.7,1079.8 L634.5,1079.8 L635.3,1079.8 L636.1,1079.8 L636.9,1079.8 L637.7,1079.8 L638.5,1079.8 L639.3,1079.8 L640.1,1079.8 L640.9,1079.8 L641.7,1079.8 L642.5,1079.8 L643.3,1079.8 L644.1,1079.8 L644.9,1079.8 L645.7,1079.8 L646.5,1079.8 L647.3,1079.8 L648.1,1079.8 L648.9,1079.8 L649.7,1083.0 L650.5,1083.0 L651.3,1079.8 L652.1,1079.8 L652.9,1079.8 L653.7,1079.8 L654.5,1079.8 L655.3,1079.8 L656.1,1079.8 L656.9,1079.8 L657.7,1079.8 L658.5,1079.8 L659.3,1079.8 L660.1,1079.8 L660.9,1079.8 L661.7,1079.8 L662.5,1079.8 L663.3,1079.8 L664.1,1079.8 L664.9,1079.8 L665.7,1079.8 L666.5,1079.8 L667.3,1079.8 L668.1,1079.8 L668.9,1079.8 L669.7,1079.8 L670.5,1079.8 L671.3,1083.0 L672.1,1079.8 L672.9,1079.8 L673.7,1079.8 L674.5,1079.8 L675.3,1079.8 L676.1,1079.8 L676.9,1079.8 L677.7,1083.0 L678.5,1083.0 L679.3,1079.8 L680.1,1079.8 L680.9,1079.8 L681.7,1079.8 L682.5,1079.8 L683.3,1079.8 L684.1,1079.8 L684.9,1079.8 L685.7,1083.0 L686.5,1083.0 L687.3,1079.8 L688.1,1079.8 L688.9,1079.8 L689.7,1079.8 L690.5,1079.8 L691.3,1079.8 L692.1,1079.8 L692.9,1079.8 L693.7,1079.8 L694.5,1079.8 L695.3,1079.8 L696.1,1079.8 L696.9,1079.8 L697.7,1079.8 L698.5,1079.8 L699.3,1079.8 L700.1,1079.8 L700.9,1079.8 L701.7,1079.8 L702.5,1079.8 L703.3,1079.8 L704.1,1079.8 L704.9,1079.8 L705.7,1079.8 L706.5,1079.8 L707.3,1079.8 L708.1,1079.8 L708.9,1079.8 L709.7,1079.8 L710.5,1079.8 L711.3,1079.8 L712.1,1083.0 L712.9,1079.8 L713.7,1079.8 L714.5,1079.8 L715.3,1079.8 L716.1,1079.8 L716.9,1079.8 L717.7,1079.8 L718.5,1079.8 L719.3,1079.8 L720.1,1079.8 L720.9,1079.8 L721.7,1079.8 L722.5,1079.8 L723.3,1079.8 L724.1,1079.8 L724.9,1079.8 L725.7,1079.8 L726.5,1079.8 L727.3,1079.8 L728.1,1079.8 L728.9,1079.8 L729.7,1079.8 L730.5,1079.8 L731.3,1079.8 L732.1,1079.8 L732.9,1079.8 L733.7,1079.8 L734.5,1079.8 L735.3,1079.8 L736.1,1079.8 L736.9,1079.8 L737.7,1079.8 L738.5,1079.8 L739.3,1079.8 L740.1,1079.8 L740.9,1079.8 L741.7,1079.8 L742.5,1079.8 L743.3,1079.8 L744.1,1079.8 L744.9,1079.8 L745.7,1079.8 L746.5,1079.8 L747.3,1079.8 L748.1,1083.0 L748.9,1079.8 L749.7,1079.8 L750.5,1079.8 L751.3,1079.8 L752.1,1079.8 L752.9,1079.8 L753.7,1079.8 L754.5,1079.8 L755.3,1079.8 L756.1,1079.8 L756.9,1079.8 L757.7,1079.8 L758.5,1079.8 L759.3,1079.8 L760.1,1079.8 L760.9,1079.8 L761.7,1079.8 L762.5,1079.8 L763.3,1083.0 L764.1,1083.0 L764.9,1079.8 L765.7,1079.8 L766.5,1083.0 L767.3,1079.8 L768.1,1083.0 L768.9,1079.8 L769.7,1079.8 L770.5,1079.8 L771.3,1079.8 L772.1,1079.8 L772.9,1079.8 L773.7,1079.8 L774.5,1079.8 L775.3,1079.8 L776.1,1083.0 L776.9,1079.8 L777.7,1079.8 L778.5,1079.8 L779.3,1079.8 L780.1,1079.8 L780.9,1079.8 L781.7,1079.8 L782.5,1079.8 L783.3,1079.8 L784.1,1079.8 L784.9,1079.8 L785.7,1079.8 L786.5,1079.8 L787.3,1079.8 L788.1,1083.0 L788.9,1079.8 L789.7,1079.8 L790.5,1083.0 L791.3,1079.8 L792.1,1079.8 L792.9,1079.8 L793.7,1079.8 L794.5,1079.8 L795.3,1079.8 L796.1,1079.8 L796.9,1083.0 L797.7,1083.0 L798.5,1079.8 L799.3,1079.8 L800.1,1079.8 L800.9,1079.8 L801.7,1083.0 L802.5,1083.0 L803.3,1079.8 L804.1,1083.0 L804.9,1083.0 L805.5,1075.6 L806.3,1078.4 L807.1,1075.6 L807.9,1078.4 L808.7,1078.4 L809.5,1078.4 L810.3,1078.4 L811.1,1078.4 L811.9,1078.4 L812.7,1078.4 L813.5,1078.4 L814.3,1078.4 L815.1,1078.4 L815.9,1078.4 L816.7,1078.4 L817.5,1078.4 L818.3,1078.4 L819.1,1078.4 L819.9,1078.4 L820.7,1075.6 L821.5,1075.6 L822.3,1078.4 L823.1,1075.6 L823.9,1078.4 L824.7,1078.4 L825.5,1078.4 L826.3,1078.4 L827.1,1075.6 L827.9,1075.6 L828.7,1078.4 L829.5,1078.4 L830.3,1075.6 L831.1,1075.6 L831.9,1075.6 L832.7,1075.6 L833.5,1078.4 L834.3,1078.4 L835.1,1075.6 L835.9,1075.6 L836.7,1078.4 L837.5,1078.4 L838.3,1078.4 L839.1,1075.6 L839.9,1078.4 L840.7,1078.4 L841.5,1078.4 L842.3,1078.4 L843.1,1078.4 L843.9,1075.6 L844.7,1078.4 L845.5,1075.6 L846.3,1078.4 L847.1,1078.4 L847.9,1078.4 L848.7,1078.4 L849.5,1078.4 L850.3,1075.6 L851.1,1078.4 L851.9,1075.6 L852.7,1078.4 L853.5,1078.4 L854.3,1075.6 L855.1,1078.4 L855.9,1078.4 L856.7,1078.4 L857.5,1078.4 L858.3,1078.4 L859.1,1078.4 L859.9,1078.4 L860.7,1075.6 L861.5,1078.4 L862.3,1078.4 L863.1,1078.4 L863.9,1078.4 L864.7,1075.6 L865.5,1075.6 L866.3,1078.4 L867.1,1078.4 L867.9,1078.4 L868.7,1078.4 L869.5,1075.6 L870.3,1078.4 L871.1,1078.4 L871.9,1078.4 L872.7,1075.6 L873.5,1078.4 L874.3,1078.4 L875.1,1078.4 L875.9,1078.4 L876.7,1078.4 L877.5,1078.4 L878.3,1075.6 L879.1,1078.4 L879.9,1078.4 L880.7,1078.4 L881.5,1078.4 L882.3,1078.4 L883.1,1078.4 L883.9,1078.4 L884.7,1078.4 L885.5,1075.6 L886.3,1075.6 L887.1,1075.6 L887.9,1078.4 L888.7,1078.4 L889.5,1078.4 L890.3,1075.6 L891.1,1078.4 L891.9,1075.6 L892.7,1075.6 L893.5,1075.6 L894.3,1078.4 L895.1,1078.4 L895.9,1078.4 L896.7,1075.6 L897.5,1075.6 L898.3,1075.6 L899.1,1075.6 L899.9,1078.4 L900.7,1075.6 L901.5,1075.6 L902.3,1078.4 L903.1,1078.4 L903.9,1078.4 L904.7,1078.4 L905.5,1078.4 L906.3,1078.4 L907.1,1078.4 L907.9,1075.6 L908.7,1075.6 L909.5,1075.6 L910.3,1078.4 L911.1,1078.4 L911.9,1078.4 L912.7,1075.6 L913.5,1075.6 L914.3,1075.6 L915.1,1075.6 L915.9,1075.6 L916.7,1078.4 L917.5,1078.4 L918.3,1078.4 L919.1,1078.4 L919.9,1078.4 L920.7,1075.6 L921.5,1075.6 L922.3,1075.6 L923.1,1075.6 L923.9,1078.4 L924.7,1078.4 L925.5,1078.4 L926.3,1078.4 L927.1,1075.6 L927.9,1078.4 L928.7,1078.4 L929.5,1078.4 L930.3,1078.4 L931.1,1078.4 L931.9,1078.4 L932.5,1075.6 L933.3,1075.6 L934.1,1078.4 L934.9,1075.6 L935.7,1075.6 L936.5,1075.6 L937.3,1075.6 L938.1,1075.6 L938.9,1075.6 L939.7,1075.6 L940.5,1075.6 L941.3,1075.6 L942.1,1075.6 L942.9,1075.6 L943.7,1075.6 L944.5,1075.6 L945.3,1075.6 L946.1,1075.6 L946.9,1075.6 L947.7,1078.4 L948.5,1078.4 L949.3,1075.6 L950.1,1075.6 L950.9,1075.6 L951.7,1075.6 L952.5,1075.6 L953.3,1075.6 L954.1,1075.6 L954.9,1075.6 L955.7,1075.6 L956.5,1075.6 L957.3,1075.6 L958.1,1075.6 L958.9,1075.6 L959.7,1075.6 L960.5,1075.6 L961.3,1078.4 L962.1,1075.6 L962.9,1075.6 L963.7,1075.6 L964.5,1075.6 L965.3,1078.4 L966.1,1075.6 L966.9,1075.6 L967.7,1075.6 L968.5,1078.4 L969.3,1075.6 L970.1,1075.6 L970.9,1075.6 L971.7,1075.6 L972.5,1078.4 L973.3,1075.6 L974.1,1075.6 L974.9,1075.6 L975.7,1078.4 L976.5,1075.6 L977.3,1078.4 L978.1,1078.4 L978.9,1075.6 L979.7,1078.4 L980.5,1075.6 L981.3,1075.6 L982.1,1075.6 L982.9,1078.4 L983.7,1075.6 L984.5,1075.6 L985.3,1075.6 L986.1,1075.6 L986.9,1078.4 L987.7,1075.6 L988.5,1075.6 L989.3,1075.6 L990.1,1075.6 L990.9,1075.6 L991.7,1075.6 L992.5,1075.6 L993.3,1075.6 L994.1,1075.6 L994.9,1075.6 L995.7,1075.6 L996.5,1078.4 L997.5,1072.9 L998.3,1072.9 L999.1,1075.6 L999.9,1075.6 L1000.7,1072.9 L1001.5,1075.6 L1002.3,1075.6 L1003.1,1075.6 L1003.9,1075.6 L1004.7,1075.6 L1005.5,1072.9 L1006.3,1072.9 L1007.1,1075.6 L1007.9,1072.9 L1008.7,1072.9 L1009.5,1072.9 L1010.3,1072.9 L1011.1,1072.9 L1011.9,1072.9 L1012.7,1072.9 L1013.5,1072.9 L1014.3,1072.9 L1015.1,1075.6 L1015.9,1075.6 L1016.7,1072.9 L1017.5,1072.9 L1018.3,1072.9 L1019.1,1075.6 L1019.9,1075.6 L1020.7,1075.6 L1021.5,1075.6 L1022.3,1072.9 L1023.1,1075.6 L1023.9,1075.6 L1024.7,1075.6 L1025.5,1075.6 L1026.3,1072.9 L1027.1,1075.6 L1027.9,1075.6 L1028.7,1075.6 L1029.5,1072.9 L1030.3,1072.9 L1031.1,1075.6 L1031.9,1075.6 L1032.7,1072.9 L1033.5,1072.9 L1034.3,1072.9 L1035.1,1072.9 L1035.9,1072.9 L1036.7,1075.6 L1037.5,1075.6 L1038.3,1072.9 L1039.1,1072.9 L1039.9,1072.9 L1040.7,1072.9 L1041.5,1072.9 L1042.3,1075.6 L1043.1,1075.6 L1043.9,1072.9 L1044.7,1072.9 L1045.5,1075.6 L1046.3,1075.6 L1047.1,1075.6 L1047.9,1072.9 L1048.7,1072.9 L1049.5,1072.9 L1050.3,1072.9 L1051.1,1072.9 L1051.9,1072.9 L1052.7,1072.9 L1053.5,1075.6 L1054.3,1072.9 L1055.1,1075.6 L1055.9,1072.9 L1056.7,1075.6 L1057.5,1075.6 L1058.3,1075.6 L1059.1,1075.6 L1059.9,1072.9 L1060.7,1075.6 L1061.5,1075.6 L1062.3,1072.9 L1063.1,1072.9 L1063.9,1072.9 L1064.7,1075.6 L1065.5,1072.9 L1066.3,1075.6 L1067.1,1072.9 L1067.9,1075.6 L1068.7,1072.9 L1069.5,1072.9 L1070.3,1075.6 L1071.1,1072.9 L1071.9,1072.9 L1072.7,1072.9 L1073.5,1075.6 L1074.3,1075.6 L1075.1,1072.9 L1075.9,1072.9 L1076.7,1075.6 L1077.5,1075.6 L1078.3,1075.6 L1079.1,1075.6 L1079.9,1072.9 L1080.7,1072.9 L1081.5,1072.9 L1082.3,1075.6 L1083.1,1075.6 L1083.9,1072.9 L1084.7,1072.9 L1085.5,1072.9 L1086.3,1075.6 L1087.1,1072.9 L1087.9,1075.6 L1088.7,1075.6 L1089.5,1072.9 L1090.3,1075.6 L1091.1,1075.6 L1091.9,1075.6 L1092.7,1072.9 L1093.5,1072.9 L1094.3,1072.9 L1095.1,1075.6 L1095.9,1075.6 L1096.7,1072.9 L1097.5,1072.9 L1098.3,1072.9 L1099.1,1075.6 L1099.9,1075.6 L1100.7,1072.9 L1101.5,1072.9 L1102.3,1075.6 L1103.1,1072.9 L1103.9,1075.6 L1104.7,1075.6 L1105.5,1072.9 L1106.3,1075.6 L1107.1,1075.6 L1107.9,1075.6 L1108.7,1072.9 L1109.5,1072.9 L1110.3,1072.9 L1111.1,1075.6 L1111.9,1075.6 L1112.7,1075.6 L1113.5,1072.9 L1114.3,1075.6 L1115.1,1072.9 L1115.9,1072.9 L1116.7,1075.6 L1117.5,1075.6 L1118.3,1075.6 L1119.1,1072.9 L1119.9,1072.9 L1120.7,1072.9 L1121.5,1075.6 L1122.3,1075.6 L1123.1,1075.6 L1123.9,1075.6 L1124.7,1075.6 L1125.5,1072.9 L1126.3,1075.6 L1127.1,1072.9 L1127.9,1072.9 L1128.7,1075.6 L1129.5,1075.6 L1130.3,1072.9 L1131.1,1072.9 L1131.9,1075.6 L1132.7,1075.6 L1133.5,1072.9 L1134.3,1075.6 L1135.1,1075.6 L1135.9,1075.6 L1136.7,1072.9 L1137.5,1075.6 L1138.3,1075.6 L1139.1,1075.6 L1139.9,1075.6 L1140.7,1072.9 L1141.5,1075.6 L1142.3,1072.9 L1143.1,1072.9 L1143.9,1072.9 L1144.7,1075.6 L1145.5,1075.6 L1146.3,1075.6 L1147.1,1075.6 L1147.9,1072.9 L1148.7,1075.6 L1149.5,1072.9 L1150.3,1072.9 L1151.1,1072.9 L1151.9,1075.6 L1152.7,1072.9 L1153.5,1072.9 " stroke="#ffff00" stroke-width="1.1" fill="none"/>
</g>
<rect x="165.5" y="1072.5" width="989" height="161" fill="none" stroke="#262626" stroke-width="1"/>
<rect x="166" y="1074.00" width="10" height="1" fill="#262626"/>
<rect x="1144" y="1074.00" width="10" height="1" fill="#262626"/>
<text x="155.50" y="1080.90" font-size="22" font-weight="normal" text-anchor="end" fill="#262626" font-family='"Liberation Sans", sans-serif' >15</text>
<rect x="166" y="1150.50" width="10" height="1" fill="#262626"/>
<rect x="1144" y="1150.50" width="10" height="1" fill="#262626"/>
<text x="155.50" y="1157.40" font-size="22" font-weight="normal" text-anchor="end" fill="#262626" font-family='"Liberation Sans", sans-serif' >10</text>
<rect x="166" y="1227.00" width="10" height="1" fill="#262626"/>
<rect x="1144" y="1227.00" width="10" height="1" fill="#262626"/>
<text x="155.50" y="1233.90" font-size="22" font-weight="normal" text-anchor="end" fill="#262626" font-family='"Liberation Sans", sans-serif' >5</text>
<rect x="486.00" y="1073" width="1" height="10" fill="#262626"/>
<rect x="486.00" y="1223" width="1" height="10" fill="#262626"/>
<rect x="932.00" y="1073" width="1" height="10" fill="#262626"/>
<rect x="932.00" y="1223" width="1" height="10" fill="#262626"/>
<text transform="translate(92.70,1153.00) rotate(-90)" font-size="21" font-weight="bold" text-anchor="middle" fill="#262626" font-family='"Liberation Sans", sans-serif' textLength="138" lengthAdjust="spacingAndGlyphs">Temperature</text>
<text transform="translate(117.50,1153.00) rotate(-90)" font-size="21" font-weight="bold" text-anchor="middle" fill="#262626" font-family='"Liberation Sans", sans-serif' textLength="39" lengthAdjust="spacingAndGlyphs">(°C)</text>
<text transform="translate(1170.00,1119.00) rotate(-90)" font-size="14.5" font-weight="bold" text-anchor="middle" fill="#000" font-family='"Liberation Sans", sans-serif' textLength="109" lengthAdjust="spacingAndGlyphs">Inboard EBox</text>
<text transform="translate(1182.10,1127.50) rotate(-90)" font-size="14.5" font-weight="bold" text-anchor="middle" fill="#000" font-family='"Liberation Sans", sans-serif' textLength="125" lengthAdjust="spacingAndGlyphs">Inboard Sensor</text>
<text transform="translate(1193.60,1128.70) rotate(-90)" font-size="14.5" font-weight="bold" text-anchor="middle" fill="#000" font-family='"Liberation Sans", sans-serif' textLength="122.5" lengthAdjust="spacingAndGlyphs">Outboard EBox</text>
<text transform="translate(1205.70,1141.50) rotate(-90)" font-size="14.5" font-weight="bold" text-anchor="middle" fill="#000" font-family='"Liberation Sans", sans-serif' textLength="139.5" lengthAdjust="spacingAndGlyphs">Outboard Sensor</text>
<rect x="1167" y="1234.5" width="2" height="14.5" fill="#0000ff"/>
<rect x="1179" y="1234.5" width="2" height="14.5" fill="#00ffff"/>
<rect x="1191" y="1234.5" width="2" height="14.5" fill="#00ff00"/>
<rect x="1202" y="1234.5" width="2" height="14.5" fill="#ffff00"/>
<rect x="166" y="1388.50" width="988" height="1" fill="#dfdfdf"/>
<rect x="412.00" y="1309" width="1" height="160" fill="#dfdfdf"/>
<rect x="660.00" y="1309" width="1" height="160" fill="#dfdfdf"/>
<rect x="907.00" y="1309" width="1" height="160" fill="#dfdfdf"/>
<clipPath id="clipvt"><rect x="166" y="1309" width="988" height="160"/></clipPath>
<g clip-path="url(#clipvt)">
<path d="M165.5,1428.0 L166.3,1431.0 L167.1,1434.0 L167.9,1435.3 L168.7,1435.3 L169.5,1435.3 L170.3,1435.3 L171.1,1435.3 L171.9,1435.3 L172.7,1435.3 L173.5,1435.3 L174.3,1435.3 L175.1,1435.3 L175.9,1435.3 L176.7,1435.3 L177.5,1435.3 L178.3,1435.3 L179.1,1435.3 L179.9,1435.3 L180.7,1435.3 L181.5,1435.3 L182.3,1435.3 L183.1,1435.3 L183.9,1435.3 L184.7,1435.3 L185.5,1435.3 L186.3,1435.3 L187.1,1435.3 L187.9,1435.3 L188.7,1435.3 L189.5,1435.3 L190.3,1435.3 L191.1,1435.3 L191.9,1435.3 L192.7,1435.3 L193.5,1435.3 L194.3,1435.3 L195.1,1435.3 L195.9,1435.3 L196.7,1435.3 L197.5,1435.3 L198.3,1435.3 L199.1,1435.3 L199.9,1435.3 L200.7,1435.3 L201.5,1435.3 L202.3,1435.3 L203.1,1435.3 L203.9,1435.3 L204.7,1435.3 L205.5,1435.3 L206.3,1435.3 L207.1,1435.3 L207.9,1435.3 L208.7,1435.3 L209.5,1435.3 L210.3,1435.3 L211.1,1435.3 L211.9,1435.3 L212.7,1435.3 L213.5,1435.3 L214.3,1435.3 L215.1,1435.3 L215.9,1435.3 L216.7,1435.3 L217.5,1435.3 L218.3,1435.3 L219.1,1435.3 L219.9,1435.3 L220.7,1435.3 L221.5,1435.3 L222.3,1435.3 L223.1,1435.3 L223.9,1435.3 L224.7,1435.3 L225.5,1435.3 L226.3,1435.3 L227.1,1435.3 L227.9,1435.3 L228.7,1435.3 L229.5,1435.3 L230.3,1435.3 L231.1,1435.3 L231.9,1435.3 L232.7,1435.3 L233.5,1435.3 L234.3,1435.3 L235.1,1435.3 L235.9,1435.3 L236.7,1435.3 L237.5,1435.3 L238.3,1435.3 L239.1,1435.3 L239.9,1435.3 L240.7,1435.3 L241.5,1435.3 L242.3,1435.3 L243.1,1435.3 L243.9,1435.3 L244.7,1435.3 L245.5,1435.3 L246.3,1435.3 L247.1,1435.3 L247.9,1435.3 L248.7,1435.3 L249.5,1435.3 L250.3,1435.3 L251.1,1435.3 L251.9,1435.3 L252.7,1435.3 L253.5,1435.3 L254.3,1435.3 L255.1,1435.3 L255.9,1435.3 L256.7,1435.3 L257.5,1435.3 L258.3,1435.3 L259.1,1435.3 L259.9,1435.3 L260.7,1435.3 L261.5,1435.3 L262.3,1435.3 L263.1,1435.3 L263.9,1435.3 L264.7,1435.3 L265.5,1435.3 L266.3,1435.3 L267.1,1435.3 L267.9,1435.3 L268.7,1435.3 L269.5,1435.3 L270.3,1435.3 L271.1,1435.3 L271.9,1435.3 L272.7,1435.3 L273.5,1435.3 L274.3,1435.3 L275.1,1435.3 L275.9,1435.3 L276.7,1435.3 L277.5,1435.3 L278.3,1435.3 L279.1,1435.3 L279.9,1435.3 L280.7,1435.3 L281.5,1435.3 L282.3,1435.3 L283.1,1435.3 L283.9,1435.3 L284.7,1435.3 L285.5,1435.3 L286.3,1435.3 L287.1,1435.3 L287.9,1435.3 L288.7,1435.3 L289.5,1435.3 L290.3,1435.3 L291.1,1435.3 L291.9,1435.3 L292.7,1435.3 L293.5,1435.3 L294.3,1435.3 L295.1,1435.3 L295.9,1435.3 L296.7,1435.3 L297.5,1435.3 L298.3,1435.3 L299.1,1435.3 L299.9,1435.3 L300.7,1435.3 L301.5,1435.3 L302.3,1435.3 L303.1,1435.3 L303.9,1435.3 L304.7,1435.3 L305.5,1435.3 L306.3,1435.3 L307.1,1435.3 L307.9,1435.3 L308.7,1435.3 L309.5,1435.3 L310.3,1435.3 L311.1,1435.3 L311.9,1435.3 L312.7,1435.3 L313.5,1435.3 L314.3,1435.3 L315.1,1435.3 L315.9,1435.3 L316.7,1435.3 L317.5,1435.3 L318.3,1435.3 L319.1,1435.3 L319.9,1435.3 L320.7,1435.3 L321.5,1435.3 L322.3,1435.3 L323.1,1435.3 L323.9,1435.3 L324.7,1435.3 L325.5,1435.3 L326.3,1435.3 L327.1,1435.3 L327.9,1435.3 L328.7,1435.3 L329.5,1435.3 L330.3,1435.3 L331.1,1435.3 L331.9,1435.3 L332.7,1435.3 L333.5,1435.3 L334.3,1435.3 L335.1,1435.3 L335.9,1435.3 L336.7,1435.3 L337.5,1435.3 L338.3,1435.3 L339.1,1435.3 L339.9,1435.3 L340.7,1435.3 L341.5,1435.3 L342.3,1435.3 L343.1,1435.3 L343.9,1435.3 L344.7,1435.3 L345.5,1435.3 L346.3,1435.3 L347.1,1435.3 L347.9,1435.3 L348.7,1435.3 L349.5,1435.3 L350.3,1435.3 L351.1,1435.3 L351.9,1435.3 L352.7,1435.3 L353.5,1435.3 L354.3,1435.3 L355.1,1435.3 L355.9,1435.3 L356.7,1435.3 L357.5,1435.3 L358.3,1435.3 L359.1,1435.3 L359.9,1435.3 L360.7,1435.3 L361.5,1435.3 L362.3,1435.3 L363.1,1435.3 L363.9,1435.3 L364.7,1435.3 L365.5,1435.3 L366.3,1435.3 L367.1,1435.3 L367.9,1435.3 L368.7,1435.3 L369.5,1435.3 L370.3,1435.3 L371.1,1435.3 L371.9,1435.3 L372.7,1435.3 L373.5,1435.3 L374.3,1435.3 L375.1,1435.3 L375.9,1435.3 L376.7,1435.3 L377.5,1435.3 L378.3,1435.3 L379.1,1435.3 L379.9,1435.3 L380.7,1435.3 L381.5,1435.3 L382.3,1435.3 L383.1,1435.3 L383.9,1435.3 L384.7,1435.3 L385.5,1435.3 L386.3,1435.3 L387.1,1435.3 L387.9,1435.3 L388.7,1435.3 L389.5,1435.3 L390.3,1435.3 L391.1,1435.3 L391.9,1435.3 L392.7,1435.3 L393.5,1435.3 L394.3,1435.3 L395.1,1435.3 L395.9,1435.3 L396.7,1435.3 L397.5,1435.3 L398.3,1435.3 L399.1,1435.3 L399.9,1435.3 L400.7,1435.3 L401.5,1435.3 L402.3,1435.3 L403.1,1435.3 L403.9,1435.3 L404.7,1435.3 L405.5,1435.3 L406.3,1435.3 L407.1,1435.3 L407.9,1435.3 L408.7,1435.3 L409.5,1435.3 L410.3,1435.3 L411.1,1435.3 L411.9,1435.3 L412.7,1435.3 L413.5,1435.3 L414.3,1435.3 L415.1,1435.3 L415.9,1435.3 L416.7,1435.3 L417.5,1435.3 L418.3,1435.3 L419.1,1435.3 L419.9,1435.3 L420.7,1435.3 L421.5,1435.3 L422.3,1435.3 L423.1,1435.3 L423.9,1435.3 L424.7,1435.3 L425.5,1435.3 L426.3,1435.3 L427.1,1435.3 L427.9,1435.3 L428.7,1435.3 L429.5,1435.3 L430.3,1435.3 L431.1,1435.3 L431.9,1435.3 L432.7,1435.3 L433.5,1435.3 L434.3,1435.3 L435.1,1435.3 L435.9,1435.3 L436.7,1435.3 L437.5,1435.3 L438.3,1435.3 L439.1,1435.3 L439.9,1435.3 L440.7,1435.3 L441.5,1435.3 L442.3,1435.3 L443.1,1435.3 L443.9,1435.3 L444.7,1435.3 L445.5,1435.3 L446.3,1435.3 L447.1,1435.3 L447.9,1435.3 L448.7,1435.3 L449.5,1435.3 L450.3,1435.3 L451.1,1435.3 L451.9,1435.3 L452.7,1435.3 L453.5,1435.3 L454.3,1435.3 L455.1,1435.3 L455.9,1435.3 L456.7,1435.3 L457.5,1435.3 L458.3,1435.3 L459.1,1435.3 L459.9,1435.3 L460.7,1435.3 L461.5,1435.3 L462.3,1435.3 L463.1,1435.3 L463.9,1435.3 L464.7,1435.3 L465.5,1435.3 L466.3,1435.3 L467.1,1435.3 L467.9,1435.3 L468.7,1435.3 L469.5,1435.3 L470.3,1435.3 L471.1,1435.3 L471.9,1435.3 L472.7,1435.3 L473.5,1435.3 L474.3,1435.3 L475.1,1435.3 L475.9,1435.3 L476.7,1435.3 L477.5,1435.3 L478.3,1435.3 L479.1,1435.3 L479.9,1435.3 L480.7,1435.3 L481.5,1435.3 L482.3,1435.3 L483.1,1435.3 L483.9,1435.3 L484.7,1435.3 L485.5,1435.3 L486.3,1435.3 L487.1,1435.3 L487.9,1435.3 L488.7,1435.3 L489.5,1435.3 L490.3,1435.3 L491.1,1435.3 L491.9,1435.3 L492.7,1435.3 L493.5,1435.3 L494.3,1435.3 L495.1,1435.3 L495.9,1435.3 L496.7,1435.3 L497.5,1435.3 L498.3,1435.3 L499.1,1435.3 L499.9,1435.3 L500.7,1435.3 L501.5,1435.3 L502.3,1435.3 L503.1,1435.3 L503.9,1435.3 L504.7,1435.3 L505.5,1435.3 L506.3,1435.3 L507.1,1435.3 L507.9,1435.3 L508.7,1435.3 L509.5,1435.3 L510.3,1435.3 L511.1,1435.3 L511.9,1435.3 L512.7,1435.3 L513.5,1435.3 L514.3,1428.3 L515.1,1435.3 L515.9,1435.3 L516.7,1435.3 L517.5,1435.3 L518.3,1435.3 L519.1,1435.3 L519.9,1435.3 L520.7,1435.3 L521.5,1435.3 L522.3,1435.3 L523.1,1435.3 L523.9,1435.3 L524.7,1435.3 L525.5,1435.3 L526.3,1435.3 L527.1,1435.3 L527.9,1435.3 L528.7,1435.3 L529.5,1435.3 L530.3,1435.3 L531.1,1435.3 L531.9,1435.3 L532.7,1428.3 L533.5,1435.3 L534.3,1435.3 L535.1,1435.3 L535.9,1435.3 L536.7,1435.3 L537.5,1428.3 L538.3,1428.3 L539.1,1435.3 L539.9,1435.3 L540.7,1435.3 L541.5,1435.3 L542.3,1435.3 L543.1,1428.3 L543.9,1428.3 L544.7,1435.3 L545.5,1435.3 L546.3,1435.3 L547.1,1435.3 L547.9,1435.3 L548.7,1435.3 L549.5,1435.3 L550.3,1435.3 L551.1,1435.3 L551.9,1435.3 L552.7,1435.3 L553.5,1435.3 L554.3,1435.3 L555.1,1435.3 L555.9,1435.3 L556.7,1435.3 L557.5,1435.3 L558.3,1435.3 L559.1,1435.3 L559.9,1435.3 L560.7,1435.3 L561.5,1435.3 L562.3,1435.3 L563.1,1435.3 L563.9,1435.3 L564.7,1435.3 L565.5,1435.3 L566.3,1435.3 L567.1,1435.3 L567.9,1435.3 L568.7,1435.3 L569.5,1435.3 L570.3,1435.3 L571.1,1435.3 L571.9,1435.3 L572.7,1435.3 L573.5,1435.3 L574.3,1435.3 L575.1,1435.3 L575.9,1435.3 L576.7,1435.3 L577.5,1435.3 L578.3,1435.3 L579.1,1428.3 L579.9,1435.3 L580.7,1435.3 L581.5,1435.3 L582.3,1435.3 L583.1,1435.3 L583.9,1435.3 L584.7,1435.3 L585.5,1435.3 L586.3,1435.3 L587.1,1435.3 L587.9,1435.3 L588.7,1435.3 L589.5,1435.3 L590.3,1435.3 L591.1,1435.3 L591.9,1435.3 L592.7,1435.3 L593.5,1428.3 L594.3,1428.3 L595.1,1435.3 L595.9,1435.3 L596.7,1435.3 L597.5,1428.3 L598.3,1435.3 L599.1,1435.3 L599.9,1435.3 L600.7,1435.3 L601.5,1435.3 L602.3,1435.3 L603.1,1435.3 L603.9,1435.3 L604.7,1428.3 L605.5,1435.3 L606.3,1435.3 L607.1,1435.3 L607.9,1435.3 L608.7,1435.3 L609.5,1435.3 L610.3,1435.3 L611.1,1435.3 L611.9,1435.3 L612.7,1435.3 L613.5,1435.3 L614.3,1435.3 L615.1,1435.3 L615.9,1435.3 L616.7,1435.3 L617.5,1435.3 L618.3,1435.3 L619.1,1435.3 L619.9,1435.3 L620.7,1435.3 L621.5,1435.3 L622.3,1435.3 L623.1,1435.3 L623.9,1435.3 L624.7,1435.3 L625.5,1435.3 L626.3,1428.3 L627.1,1428.3 L627.9,1435.3 L628.7,1435.3 L629.5,1435.3 L630.3,1435.3 L631.1,1428.3 L631.9,1435.3 L632.7,1428.3 L633.5,1428.3 L634.3,1435.3 L635.1,1435.3 L635.9,1435.3 L636.7,1435.3 L637.5,1435.3 L638.3,1435.3 L639.1,1435.3 L639.9,1435.3 L640.7,1435.3 L641.5,1435.3 L642.3,1435.3 L643.1,1435.3 L643.9,1435.3 L644.7,1435.3 L645.5,1435.3 L646.3,1435.3 L647.1,1435.3 L647.9,1435.3 L648.7,1428.3 L649.5,1428.3 L650.3,1435.3 L651.1,1435.3 L651.9,1428.3 L652.7,1428.3 L653.5,1435.3 L654.3,1435.3 L655.1,1435.3 L655.9,1435.3 L656.7,1435.3 L657.5,1435.3 L658.3,1435.3 L659.1,1435.3 L659.9,1435.3 L660.7,1435.3 L661.5,1435.3 L662.3,1435.3 L663.1,1435.3 L663.9,1435.3 L664.7,1435.3 L665.5,1435.3 L666.3,1435.3 L667.1,1435.3 L667.9,1435.3 L668.7,1435.3 L669.5,1435.3 L670.3,1435.3 L671.1,1428.3 L671.9,1435.3 L672.7,1435.3 L673.5,1435.3 L674.3,1435.3 L675.1,1435.3 L675.9,1435.3 L676.7,1435.3 L677.5,1435.3 L678.3,1435.3 L679.1,1435.3 L679.9,1435.3 L680.7,1435.3 L681.5,1435.3 L682.3,1435.3 L683.1,1435.3 L683.9,1435.3 L684.7,1435.3 L685.5,1435.3 L686.3,1435.3 L687.1,1435.3 L687.9,1435.3 L688.7,1435.3 L689.5,1435.3 L690.3,1435.3 L691.1,1435.3 L691.9,1435.3 L692.7,1435.3 L693.5,1435.3 L694.3,1435.3 L695.1,1435.3 L695.9,1435.3 L696.7,1435.3 L697.5,1435.3 L698.3,1428.3 L699.1,1428.3 L699.9,1428.3 L700.7,1428.3 L701.5,1435.3 L702.3,1435.3 L703.1,1435.3 L703.9,1435.3 L704.7,1432.3 L705.5,1432.3 L706.3,1432.3 L707.1,1435.3 L707.9,1435.3 L708.7,1432.3 L709.5,1432.3 L710.3,1432.3 L711.1,1432.3 L711.9,1435.3 L712.7,1435.3 L713.5,1432.3 L714.3,1435.3 L715.1,1432.3 L715.9,1435.3 L716.7,1435.3 L717.5,1435.3 L718.3,1432.3 L719.1,1432.3 L719.9,1435.3 L720.7,1432.3 L721.5,1435.3 L722.3,1435.3 L723.1,1435.3 L723.9,1435.3 L724.7,1432.3 L725.5,1432.3 L726.3,1432.3 L727.1,1435.3 L727.9,1435.3 L728.7,1435.3 L729.5,1432.3 L730.3,1432.3 L731.1,1432.3 L731.9,1432.3 L732.7,1432.3 L733.5,1432.3 L734.3,1432.3 L735.1,1435.3 L735.9,1435.3 L736.7,1435.3 L737.5,1432.3 L738.3,1435.3 L739.1,1432.3 L739.9,1432.3 L740.7,1435.3 L741.5,1432.3 L742.3,1432.3 L743.1,1435.3 L743.9,1432.3 L744.7,1435.3 L745.5,1435.3 L746.3,1435.3 L747.1,1435.3 L747.9,1432.3 L748.7,1432.3 L749.5,1435.3 L750.3,1432.3 L751.1,1435.3 L751.9,1432.3 L752.7,1432.3 L753.5,1435.3 L754.3,1435.3 L755.1,1435.3 L755.9,1435.3 L756.7,1435.3 L757.5,1435.3 L758.3,1432.3 L759.1,1432.3 L759.9,1435.3 L760.7,1432.3 L761.5,1432.3 L762.3,1435.3 L763.1,1435.3 L763.9,1435.3 L764.7,1435.3 L765.5,1432.3 L766.3,1435.3 L767.1,1435.3 L767.9,1432.3 L768.7,1435.3 L769.5,1432.3 L770.3,1435.3 L771.1,1435.3 L771.9,1435.3 L772.7,1435.3 L773.5,1435.3 L774.3,1435.3 L775.1,1435.3 L775.9,1432.3 L776.7,1432.3 L777.5,1432.3 L778.3,1435.3 L779.1,1432.3 L779.9,1435.3 L780.7,1432.3 L781.5,1435.3 L782.3,1432.3 L783.1,1435.3 L783.9,1435.3 L784.7,1435.3 L785.5,1435.3 L786.3,1432.3 L787.1,1432.3 L787.9,1435.3 L788.7,1435.3 L789.5,1432.3 L790.3,1432.3 L791.1,1435.3 L791.9,1432.3 L792.7,1432.3 L793.5,1435.3 L794.3,1432.3 L795.1,1432.3 L795.9,1435.3 L796.7,1435.3 L797.5,1435.3 L798.3,1435.3 L799.1,1432.3 L799.9,1432.3 L800.7,1432.3 L801.5,1432.3 L802.3,1435.3 L803.1,1435.3 L803.9,1435.3 L804.7,1432.3 L805.5,1432.3 L806.3,1435.3 L807.1,1435.3 L807.9,1435.3 L808.7,1432.3 L809.5,1432.3 L810.3,1432.3 L811.1,1432.3 L811.9,1435.3 L812.7,1435.3 L813.5,1435.3 L814.3,1435.3 L815.1,1432.3 L815.9,1435.3 L816.7,1435.3 L817.5,1432.3 L818.3,1432.3 L819.1,1435.3 L819.9,1435.3 L820.7,1435.3 L821.5,1435.3 L822.3,1435.3 L823.1,1432.3 L823.9,1432.3 L824.7,1432.3 L825.5,1432.3 L826.3,1432.3 L827.1,1432.3 L827.9,1432.3 L828.7,1432.3 L829.5,1435.3 L830.3,1432.3 L831.1,1435.3 L831.9,1435.3 L832.7,1435.3 L833.5,1435.3 L834.3,1435.3 L835.1,1432.3 L835.9,1432.3 L836.7,1432.3 L837.5,1435.3 L838.3,1432.3 L839.1,1432.3 L839.9,1435.3 L840.7,1432.3 L841.5,1435.3 L842.3,1435.3 L843.1,1432.3 L843.9,1435.3 L844.7,1432.3 L845.5,1432.3 L846.3,1432.3 L847.1,1432.3 L847.9,1435.3 L848.7,1432.3 L849.5,1432.3 L850.3,1432.3 L851.1,1435.3 L851.9,1432.3 L852.7,1432.3 L853.5,1435.3 L854.3,1435.3 L855.1,1435.3 L855.9,1435.3 L856.7,1432.3 L857.5,1432.3 L858.3,1432.3 L859.1,1435.3 L859.9,1432.3 L860.7,1432.3 L861.5,1435.3 L862.3,1432.3 L863.1,1432.3 L863.9,1435.3 L864.7,1435.3 L865.5,1435.3 L866.3,1435.3 L867.1,1435.3 L867.9,1432.3 L868.7,1435.3 L869.5,1435.3 L870.3,1435.3 L871.1,1432.3 L871.9,1432.3 L872.7,1432.3 L873.5,1432.3 L874.3,1432.3 L875.1,1432.3 L875.9,1435.3 L876.7,1435.3 L877.5,1435.3 L878.3,1435.3 L879.1,1435.3 L879.9,1435.3 L880.7,1432.3 L881.5,1435.3 L882.3,1435.3 L883.1,1435.3 L883.9,1435.3 L884.7,1435.3 L885.5,1432.3 L886.3,1435.3 L887.1,1435.3 L887.9,1432.3 L888.7,1432.3 L889.5,1435.3 L890.3,1432.3 L891.1,1435.3 L891.9,1435.3 L892.7,1432.3 L893.5,1432.3 L894.3,1435.3 L895.1,1435.3 L895.9,1435.3 L896.7,1435.3 L897.5,1435.3 L898.3,1432.3 L899.1,1432.3 L899.9,1432.3 L900.7,1435.3 L901.5,1435.3 L902.3,1432.3 L903.1,1432.3 L903.9,1435.3 L904.7,1432.3 L905.5,1432.3 L906.3,1435.3 L907.1,1435.3 L907.9,1435.3 L908.7,1435.3 L909.5,1432.3 L910.3,1432.3 L911.1,1432.3 L911.9,1435.3 L912.7,1435.3 L913.5,1432.3 L914.3,1432.3 L915.1,1435.3 L915.9,1435.3 L916.7,1432.3 L917.5,1432.3 L918.3,1432.3 L919.1,1435.3 L919.9,1435.3 L920.7,1435.3 L921.5,1435.3 L922.3,1435.3 L923.1,1432.3 L923.9,1432.3 L924.7,1432.3 L925.5,1432.3 L926.3,1432.3 L927.1,1435.3 L927.9,1435.3 L928.7,1435.3 L929.5,1432.3 L930.3,1432.3 L931.1,1432.3 L931.9,1432.3 L932.7,1435.3 L933.5,1435.3 L934.3,1435.3 L935.1,1435.3 L935.9,1432.3 L936.7,1432.3 L937.5,1435.3 L938.3,1435.3 L939.1,1432.3 L939.9,1432.3 L940.7,1435.3 L941.5,1435.3 L942.3,1432.3 L943.1,1432.3 L943.9,1432.3 L944.7,1432.3 L945.5,1435.3 L946.3,1435.3 L947.1,1432.3 L947.9,1432.3 L948.7,1432.3 L949.5,1432.3 L950.3,1432.3 L951.1,1432.3 L951.9,1432.3 L952.7,1432.3 L953.5,1432.3 L954.3,1435.3 L955.1,1435.3 L955.9,1435.3 L956.7,1435.3 L957.5,1432.3 L958.3,1432.3 L959.1,1435.3 L959.9,1435.3 L960.7,1435.3 L961.5,1435.3 L962.3,1435.3 L963.1,1432.3 L963.9,1435.3 L964.7,1435.3 L965.5,1435.3 L966.3,1432.3 L967.1,1435.3 L967.9,1432.3 L968.7,1432.3 L969.5,1432.3 L970.3,1432.3 L971.1,1432.3 L971.9,1432.3 L972.7,1435.3 L973.5,1435.3 L974.3,1435.3 L975.1,1435.3 L975.9,1432.3 L976.7,1432.3 L977.5,1435.3 L978.3,1435.3 L979.1,1435.3 L979.9,1432.3 L980.7,1432.3 L981.5,1435.3 L982.3,1435.3 L983.1,1432.3 L983.9,1435.3 L984.7,1435.3 L985.5,1432.3 L986.3,1432.3 L987.1,1435.3 L987.9,1432.3 L988.7,1432.3 L989.5,1432.3 L990.3,1432.3 L991.1,1435.3 L991.9,1435.3 L992.7,1435.3 L993.5,1435.3 L994.3,1435.3 L995.1,1435.3 L995.9,1432.3 L996.7,1432.3 L997.5,1432.3 L998.3,1435.3 L999.1,1432.3 L999.9,1432.3 L1000.7,1432.3 L1001.5,1435.3 L1002.3,1435.3 L1003.1,1432.3 L1003.9,1435.3 L1004.7,1432.3 L1005.5,1432.3 L1006.3,1435.3 L1007.1,1435.3 L1007.9,1432.3 L1008.7,1435.3 L1009.5,1435.3 L1010.3,1432.3 L1011.1,1432.3 L1011.9,1432.3 L1012.7,1432.3 L1013.5,1435.3 L1014.3,1432.3 L1015.1,1432.3 L1015.9,1432.3 L1016.7,1432.3 L1017.5,1435.3 L1018.3,1435.3 L1019.1,1432.3 L1019.9,1435.3 L1020.7,1435.3 L1021.5,1432.3 L1022.3,1432.3 L1023.1,1432.3 L1023.9,1432.3 L1024.7,1432.3 L1025.5,1432.3 L1026.3,1435.3 L1027.1,1435.3 L1027.9,1435.3 L1028.7,1435.3 L1029.5,1432.3 L1030.3,1435.3 L1031.1,1432.3 L1031.9,1435.3 L1032.7,1435.3 L1033.5,1435.3 L1034.3,1432.3 L1035.1,1435.3 L1035.9,1435.3 L1036.7,1432.3 L1037.5,1435.3 L1038.3,1435.3 L1039.1,1435.3 L1039.9,1435.3 L1040.7,1435.3 L1041.5,1435.3 L1042.3,1432.3 L1043.1,1432.3 L1043.9,1432.3 L1044.7,1432.3 L1045.5,1435.3 L1046.3,1435.3 L1047.1,1435.3 L1047.9,1432.3 L1048.7,1432.3 L1049.5,1432.3 L1050.3,1432.3 L1051.1,1435.3 L1051.9,1432.3 L1052.7,1432.3 L1053.5,1432.3 L1054.3,1432.3 L1055.1,1435.3 L1055.9,1435.3 L1056.7,1432.3 L1057.5,1432.3 L1058.3,1435.3 L1059.1,1432.3 L1059.9,1432.3 L1060.7,1435.3 L1061.5,1435.3 L1062.3,1432.3 L1063.1,1432.3 L1063.9,1435.3 L1064.7,1435.3 L1065.5,1432.3 L1066.3,1432.3 L1067.1,1432.3 L1067.9,1432.3 L1068.7,1435.3 L1069.5,1435.3 L1070.3,1432.3 L1071.1,1432.3 L1071.9,1432.3 L1072.7,1432.3 L1073.5,1435.3 L1074.3,1432.3 L1075.1,1432.3 L1075.9,1435.3 L1076.7,1435.3 L1077.5,1435.3 L1078.3,1432.3 L1079.1,1435.3 L1079.9,1432.3 L1080.7,1435.3 L1081.5,1432.3 L1082.3,1432.3 L1083.1,1435.3 L1083.9,1435.3 L1084.7,1432.3 L1085.5,1432.3 L1086.3,1435.3 L1087.1,1432.3 L1087.9,1435.3 L1088.7,1435.3 L1089.5,1435.3 L1090.3,1435.3 L1091.1,1432.3 L1091.9,1432.3 L1092.7,1435.3 L1093.5,1432.3 L1094.3,1432.3 L1095.1,1432.3 L1095.9,1435.3 L1096.7,1432.3 L1097.5,1435.3 L1098.3,1435.3 L1099.1,1435.3 L1099.9,1432.3 L1100.7,1432.3 L1101.5,1432.3 L1102.3,1432.3 L1103.1,1435.3 L1103.9,1432.3 L1104.7,1435.3 L1105.5,1432.3 L1106.3,1432.3 L1107.1,1432.3 L1107.9,1432.3 L1108.7,1435.3 L1109.5,1435.3 L1110.3,1435.3 L1111.1,1435.3 L1111.9,1435.3 L1112.7,1435.3 L1113.5,1432.3 L1114.3,1435.3 L1115.1,1435.3 L1115.9,1435.3 L1116.7,1435.3 L1117.5,1432.3 L1118.3,1435.3 L1119.1,1432.3 L1119.9,1435.3 L1120.7,1432.3 L1121.5,1435.3 L1122.3,1432.3 L1123.1,1432.3 L1123.9,1435.3 L1124.7,1432.3 L1125.5,1432.3 L1126.3,1432.3 L1127.1,1432.3 L1127.9,1432.3 L1128.7,1432.3 L1129.5,1435.3 L1130.3,1435.3 L1131.1,1432.3 L1131.9,1432.3 L1132.7,1435.3 L1133.5,1435.3 L1134.3,1435.3 L1135.1,1435.3 L1135.9,1435.3 L1136.7,1435.3 L1137.5,1435.3 L1138.3,1435.3 L1139.1,1432.3 L1139.9,1432.3 L1140.7,1435.3 L1141.5,1435.3 L1142.3,1435.3 L1143.1,1432.3 L1143.9,1435.3 L1144.7,1432.3 L1145.5,1432.3 L1146.3,1435.3 L1147.1,1432.3 L1147.9,1432.3 L1148.7,1435.3 L1149.5,1435.3 L1150.3,1432.3 L1151.1,1432.3 L1151.9,1432.3 L1152.7,1432.3 L1153.5,1435.3" stroke="#0000ff" stroke-width="1.1" fill="none"/>
<path d="M165.5,1403.5 L166.3,1403.5 L167.1,1403.5 L167.9,1403.5 L168.7,1403.5 L169.5,1403.5 L170.3,1403.5 L171.1,1403.5 L171.9,1403.5 L172.7,1403.5 L173.5,1403.5 L174.3,1403.5 L175.1,1403.5 L175.9,1403.5 L176.7,1403.5 L177.5,1403.5 L178.3,1403.5 L179.1,1403.5 L179.9,1403.5 L180.7,1407.0 L181.5,1407.0 L182.3,1399.5 L183.1,1403.5 L183.9,1403.5 L184.7,1403.5 L185.5,1403.5 L186.3,1403.5 L187.1,1403.5 L187.9,1403.5 L188.7,1403.5 L189.5,1403.5 L190.3,1399.5 L191.1,1403.5 L191.9,1403.5 L192.7,1403.5 L193.5,1403.5 L194.3,1403.5 L195.1,1403.5 L195.9,1403.5 L196.7,1403.5 L197.5,1399.5 L198.3,1399.5 L199.1,1403.5 L199.9,1403.5 L200.7,1403.5 L201.5,1403.5 L202.3,1403.5 L203.1,1403.5 L203.9,1403.5 L204.7,1403.5 L205.5,1403.5 L206.3,1403.5 L207.1,1403.5 L207.9,1403.5 L208.7,1403.5 L209.5,1403.5 L210.3,1403.5 L211.1,1403.5 L211.9,1407.0 L212.7,1407.0 L213.5,1403.5 L214.3,1403.5 L215.1,1403.5 L215.9,1403.5 L216.7,1403.5 L217.5,1403.5 L218.3,1403.5 L219.1,1403.5 L219.9,1403.5 L220.7,1403.5 L221.5,1403.5 L222.3,1403.5 L223.1,1403.5 L223.9,1403.5 L224.7,1403.5 L225.5,1403.5 L226.3,1403.5 L227.1,1403.5 L227.9,1403.5 L228.7,1403.5 L229.5,1403.5 L230.3,1403.5 L231.1,1403.5 L231.9,1403.5 L232.7,1403.5 L233.5,1403.5 L234.3,1403.5 L235.1,1403.5 L235.9,1403.5 L236.7,1403.5 L237.5,1399.5 L238.3,1403.5 L239.1,1403.5 L239.9,1403.5 L240.7,1403.5 L241.5,1403.5 L242.3,1403.5 L243.1,1403.5 L243.9,1403.5 L244.7,1403.5 L245.5,1403.5 L246.3,1403.5 L247.1,1403.5 L247.9,1403.5 L248.7,1403.5 L249.5,1403.5 L250.3,1403.5 L251.1,1403.5 L251.9,1403.5 L252.7,1403.5 L253.5,1403.5 L254.3,1403.5 L255.1,1399.5 L255.9,1403.5 L256.7,1403.5 L257.5,1403.5 L258.3,1403.5 L259.1,1403.5 L259.9,1403.5 L260.7,1403.5 L261.5,1403.5 L262.3,1403.5 L263.1,1403.5 L263.9,1403.5 L264.7,1403.5 L265.5,1403.5 L266.3,1403.5 L267.1,1399.5 L267.9,1399.5 L268.7,1403.5 L269.5,1403.5 L270.3,1403.5 L271.1,1403.5 L271.9,1403.5 L272.7,1403.5 L273.5,1403.5 L274.3,1403.5 L275.1,1403.5 L275.9,1403.5 L276.7,1403.5 L277.5,1403.5 L278.3,1403.5 L279.1,1403.5 L279.9,1403.5 L280.7,1403.5 L281.5,1403.5 L282.3,1403.5 L283.1,1403.5 L283.9,1403.5 L284.7,1403.5 L285.5,1403.5 L286.3,1403.5 L287.1,1403.5 L287.9,1403.5 L288.7,1403.5 L289.5,1403.5 L290.3,1403.5 L291.1,1403.5 L291.9,1403.5 L292.7,1403.5 L293.5,1403.5 L294.3,1407.0 L295.1,1407.0 L295.9,1403.5 L296.7,1403.5 L297.5,1403.5 L298.3,1403.5 L299.1,1399.5 L299.9,1407.0 L300.7,1407.0 L301.5,1403.5 L302.3,1403.5 L303.1,1403.5 L303.9,1403.5 L304.7,1403.5 L305.5,1403.5 L306.3,1403.5 L307.1,1403.5 L307.9,1403.5 L308.7,1403.5 L309.5,1403.5 L310.3,1403.5 L311.1,1403.5 L311.9,1403.5 L312.7,1407.0 L313.5,1407.0 L314.3,1403.5 L315.1,1403.5 L315.9,1403.5 L316.7,1403.5 L317.5,1403.5 L318.3,1403.5 L319.1,1403.5 L319.9,1403.5 L320.7,1403.5 L321.5,1403.5 L322.3,1403.5 L323.1,1403.5 L323.9,1403.5 L324.7,1403.5 L325.5,1403.5 L326.3,1403.5 L327.1,1403.5 L327.9,1403.5 L328.7,1403.5 L329.5,1403.5 L330.3,1403.5 L331.1,1403.5 L331.9,1403.5 L332.7,1403.5 L333.5,1403.5 L334.3,1403.5 L335.1,1403.5 L335.9,1403.5 L336.7,1403.5 L337.5,1403.5 L338.3,1403.5 L339.1,1403.5 L339.9,1403.5 L340.7,1403.5 L341.5,1403.5 L342.3,1403.5 L343.1,1403.5 L343.9,1403.5 L344.7,1403.5 L345.5,1407.0 L346.3,1403.5 L347.1,1403.5 L347.9,1403.5 L348.7,1403.5 L349.5,1403.5 L350.3,1403.5 L351.1,1403.5 L351.9,1403.5 L352.7,1403.5 L353.5,1403.5 L354.3,1403.5 L355.1,1403.5 L355.9,1403.5 L356.7,1403.5 L357.5,1407.0 L358.3,1407.0 L359.1,1403.5 L359.9,1403.5 L360.7,1403.5 L361.5,1403.5 L362.3,1403.5 L363.1,1403.5 L363.9,1403.5 L364.7,1403.5 L365.5,1403.5 L366.3,1403.5 L367.1,1403.5 L367.9,1403.5 L368.7,1403.5 L369.5,1403.5 L370.3,1403.5 L371.1,1403.5 L371.9,1403.5 L372.7,1403.5 L373.5,1403.5 L374.3,1403.5 L375.1,1403.5 L375.9,1403.5 L376.7,1403.5 L377.5,1403.5 L378.3,1407.0 L379.1,1403.5 L379.9,1403.5 L380.7,1403.5 L381.5,1403.5 L382.3,1403.5 L383.1,1407.0 L383.9,1407.0 L384.7,1403.5 L385.5,1403.5 L386.3,1403.5 L387.1,1403.5 L387.9,1403.5 L388.7,1403.5 L389.5,1399.5 L390.3,1403.5 L391.1,1403.5 L391.9,1403.5 L392.7,1403.5 L393.5,1403.5 L394.3,1403.5 L395.1,1403.5 L395.9,1403.5 L396.7,1403.5 L397.5,1403.5 L398.3,1403.5 L399.1,1403.5 L399.9,1399.5 L400.7,1399.5 L401.5,1403.5 L402.3,1403.5 L403.1,1403.5 L403.9,1403.5 L404.7,1403.5 L405.5,1403.5 L406.3,1403.5 L407.1,1407.0 L407.9,1403.5 L408.7,1403.5 L409.5,1403.5 L410.3,1399.5 L411.1,1403.5 L411.9,1407.0 L412.7,1403.5 L413.5,1403.5 L414.3,1403.5 L415.1,1403.5 L415.9,1403.5 L416.7,1403.5 L417.5,1403.5 L418.3,1403.5 L419.1,1403.5 L419.9,1403.5 L420.7,1403.5 L421.5,1403.5 L422.3,1403.5 L423.1,1407.0 L423.9,1407.0 L424.7,1403.5 L425.5,1403.5 L426.3,1403.5 L427.1,1403.5 L427.9,1403.5 L428.7,1403.5 L429.5,1403.5 L430.3,1403.5 L431.1,1403.5 L431.9,1407.0 L432.7,1407.0 L433.5,1403.5 L434.3,1403.5 L435.1,1403.5 L435.9,1403.5 L436.7,1403.5 L437.5,1403.5 L438.3,1403.5 L439.1,1403.5 L439.9,1403.5 L440.7,1403.5 L441.5,1403.5 L442.3,1407.0 L443.1,1403.5 L443.9,1403.5 L444.7,1403.5 L445.5,1403.5 L446.3,1403.5 L447.1,1403.5 L447.9,1403.5 L448.7,1403.5 L449.5,1403.5 L450.3,1403.5 L451.1,1403.5 L451.9,1403.5 L452.7,1403.5 L453.5,1403.5 L454.3,1399.5 L455.1,1399.5 L455.9,1403.5 L456.7,1403.5 L457.5,1403.5 L458.3,1403.5 L459.1,1403.5 L459.9,1403.5 L460.7,1403.5 L461.5,1403.5 L462.3,1403.5 L463.1,1403.5 L463.9,1403.5 L464.7,1403.5 L465.5,1403.5 L466.3,1403.5 L467.1,1403.5 L467.9,1407.0 L468.7,1407.0 L469.5,1403.5 L470.3,1403.5 L471.1,1403.5 L471.9,1403.5 L472.7,1403.5 L473.5,1403.5 L474.3,1403.5 L475.1,1403.5 L475.9,1403.5 L476.7,1403.5 L477.5,1403.5 L478.3,1403.5 L479.1,1403.5 L479.9,1403.5 L480.7,1403.5 L481.5,1407.0 L482.3,1407.0 L483.1,1403.5 L483.9,1403.5 L484.7,1407.0 L485.5,1407.0 L486.3,1403.5 L487.1,1403.5 L487.9,1403.5 L488.7,1403.5 L489.5,1403.5 L490.3,1403.5 L491.1,1403.5 L491.9,1403.5 L492.7,1403.5 L493.5,1403.5 L494.3,1403.5 L495.1,1403.5 L495.9,1403.5 L496.7,1403.5 L497.5,1403.5 L498.3,1403.5 L499.1,1403.5 L499.9,1403.5 L500.7,1403.5 L501.5,1403.5 L502.3,1403.5 L503.1,1403.5 L503.9,1403.5 L504.7,1403.5 L505.5,1403.5 L506.3,1403.5 L507.1,1399.5 L507.9,1403.5 L508.7,1403.5 L509.5,1407.0 L510.3,1403.5 L511.1,1407.0 L511.9,1407.0 L512.7,1399.5 L513.5,1403.5 L514.3,1403.5 L515.1,1403.5 L515.9,1403.5 L516.7,1403.5 L517.5,1403.5 L518.3,1403.5 L519.1,1403.5 L519.9,1403.5 L520.7,1403.5 L521.5,1403.5 L522.3,1403.5 L523.1,1403.5 L523.9,1403.5 L524.7,1407.0 L525.5,1399.5 L526.3,1399.5 L527.1,1403.5 L527.9,1403.5 L528.7,1407.0 L529.5,1407.0 L530.3,1403.5 L531.1,1403.5 L531.9,1403.5 L532.7,1403.5 L533.5,1403.5 L534.3,1403.5 L535.1,1403.5 L535.9,1403.5 L536.7,1407.0 L537.5,1403.5 L538.3,1403.5 L539.1,1403.5 L539.9,1403.5 L540.7,1403.5 L541.5,1403.5 L542.3,1403.5 L543.1,1403.5 L543.9,1403.5 L544.7,1403.5 L545.5,1403.5 L546.3,1403.5 L547.1,1403.5 L547.9,1403.5 L548.7,1399.5 L549.5,1399.5 L550.3,1403.5 L551.1,1403.5 L551.9,1403.5 L552.7,1403.5 L553.5,1403.5 L554.3,1403.5 L555.1,1403.5 L555.9,1403.5 L556.7,1403.5 L557.5,1403.5 L558.3,1403.5 L559.1,1407.0 L559.9,1407.0 L560.7,1407.0 L561.5,1407.0 L562.3,1403.5 L563.1,1403.5 L563.9,1403.5 L564.7,1403.5 L565.5,1403.5 L566.3,1403.5 L567.1,1403.5 L567.9,1403.5 L568.7,1403.5 L569.5,1403.5 L570.3,1407.0 L571.1,1407.0 L571.9,1403.5 L572.7,1407.0 L573.5,1403.5 L574.3,1403.5 L575.1,1403.5 L575.9,1403.5 L576.7,1403.5 L577.5,1403.5 L578.3,1403.5 L579.1,1403.5 L579.9,1403.5 L580.7,1403.5 L581.5,1407.0 L582.3,1407.0 L583.1,1403.5 L583.9,1403.5 L584.7,1403.5 L585.5,1403.5 L586.3,1403.5 L587.1,1403.5 L587.9,1407.0 L588.7,1403.5 L589.5,1403.5 L590.3,1403.5 L591.1,1407.0 L591.9,1403.5 L592.7,1403.5 L593.5,1403.5 L594.3,1403.5 L595.1,1403.5 L595.9,1403.5 L596.7,1407.0 L597.5,1407.0 L598.3,1403.5 L599.1,1403.5 L599.9,1403.5 L600.7,1403.5 L601.5,1403.5 L602.3,1403.5 L603.1,1403.5 L603.9,1403.5 L604.7,1403.5 L605.5,1403.5 L606.3,1399.5 L607.1,1403.5 L607.9,1403.5 L608.7,1403.5 L609.5,1403.5 L610.3,1403.5 L611.1,1403.5 L611.9,1403.5 L612.7,1403.5 L613.5,1403.5 L614.3,1403.5 L615.1,1403.5 L615.9,1403.5 L616.7,1403.5 L617.5,1403.5 L618.3,1403.5 L619.1,1403.5 L619.9,1403.5 L620.7,1403.5 L621.5,1403.5 L622.3,1407.0 L623.1,1403.5 L623.9,1403.5 L624.7,1403.5 L625.5,1403.5 L626.3,1403.5 L627.1,1403.5 L627.9,1403.5 L628.7,1403.5 L629.5,1403.5 L630.3,1403.5 L631.1,1403.5 L631.9,1403.5 L632.7,1403.5 L633.5,1403.5 L634.3,1403.5 L635.1,1403.5 L635.9,1403.5 L636.7,1403.5 L637.5,1403.5 L638.3,1399.5 L639.1,1399.5 L639.9,1407.0 L640.7,1407.0 L641.5,1403.5 L642.3,1403.5 L643.1,1407.0 L643.9,1407.0 L644.7,1403.5 L645.5,1403.5 L646.3,1403.5 L647.1,1403.5 L647.9,1403.5 L648.7,1403.5 L649.5,1403.5 L650.3,1403.5 L651.1,1403.5 L651.9,1403.5 L652.7,1403.5 L653.5,1403.5 L654.3,1403.5 L655.1,1403.5 L655.9,1403.5 L656.7,1403.5 L657.5,1407.0 L658.3,1403.5 L659.1,1403.5 L659.9,1403.5 L660.7,1403.5 L661.5,1403.5 L662.3,1403.5 L663.1,1399.5 L663.9,1399.5 L664.7,1399.5 L665.5,1403.5 L666.3,1403.5 L667.1,1399.5 L667.9,1399.5 L668.7,1403.5 L669.5,1403.5 L670.3,1403.5 L671.1,1403.5 L671.9,1403.5 L672.7,1403.5 L673.5,1403.5 L674.3,1407.0 L675.1,1407.0 L675.9,1403.5 L676.7,1403.5 L677.5,1403.5 L678.3,1403.5 L679.1,1403.5 L679.9,1403.5 L680.7,1403.5 L681.5,1403.5 L682.3,1403.5 L683.1,1403.5 L683.9,1403.5 L684.7,1407.0 L685.5,1403.5 L686.3,1403.5 L687.1,1403.5 L687.9,1403.5 L688.7,1403.5 L689.5,1403.5 L690.3,1403.5 L691.1,1403.5 L691.9,1403.5 L692.7,1403.5 L693.5,1403.5 L694.3,1403.5 L695.1,1403.5 L695.9,1403.5 L696.7,1403.5 L697.5,1403.5 L698.3,1403.5 L699.1,1403.5 L699.9,1403.5 L700.7,1403.5 L701.5,1403.5 L702.3,1403.5 L703.1,1403.5 L703.9,1403.5 L704.7,1403.5 L705.5,1403.5 L706.3,1409.5 L707.1,1409.5 L707.9,1403.5 L708.7,1407.0 L709.5,1407.0 L710.3,1407.0 L711.1,1407.0 L711.9,1403.5 L712.7,1409.5 L713.5,1409.5 L714.3,1407.0 L715.1,1403.5 L715.9,1403.5 L716.7,1407.0 L717.5,1407.0 L718.3,1403.5 L719.1,1403.5 L719.9,1403.5 L720.7,1407.0 L721.5,1407.0 L722.3,1407.0 L723.1,1403.5 L723.9,1407.0 L724.7,1407.0 L725.5,1403.5 L726.3,1403.5 L727.1,1403.5 L727.9,1403.5 L728.7,1403.5 L729.5,1403.5 L730.3,1403.5 L731.1,1403.5 L731.9,1407.0 L732.7,1407.0 L733.5,1409.5 L734.3,1403.5 L735.1,1403.5 L735.9,1407.0 L736.7,1407.0 L737.5,1407.0 L738.3,1403.5 L739.1,1403.5 L739.9,1403.5 L740.7,1403.5 L741.5,1407.0 L742.3,1407.0 L743.1,1403.5 L743.9,1403.5 L744.7,1407.0 L745.5,1403.5 L746.3,1403.5 L747.1,1403.5 L747.9,1403.5 L748.7,1407.0 L749.5,1403.5 L750.3,1409.5 L751.1,1403.5 L751.9,1407.0 L752.7,1403.5 L753.5,1403.5 L754.3,1407.0 L755.1,1403.5 L755.9,1407.0 L756.7,1403.5 L757.5,1407.0 L758.3,1407.0 L759.1,1407.0 L759.9,1407.0 L760.7,1403.5 L761.5,1407.0 L762.3,1403.5 L763.1,1403.5 L763.9,1403.5 L764.7,1403.5 L765.5,1403.5 L766.3,1403.5 L767.1,1403.5 L767.9,1407.0 L768.7,1407.0 L769.5,1403.5 L770.3,1407.0 L771.1,1407.0 L771.9,1403.5 L772.7,1407.0 L773.5,1407.0 L774.3,1407.0 L775.1,1403.5 L775.9,1403.5 L776.7,1403.5 L777.5,1403.5 L778.3,1403.5 L779.1,1403.5 L779.9,1403.5 L780.7,1403.5 L781.5,1403.5 L782.3,1407.0 L783.1,1407.0 L783.9,1403.5 L784.7,1403.5 L785.5,1409.5 L786.3,1403.5 L787.1,1409.5 L787.9,1403.5 L788.7,1403.5 L789.5,1403.5 L790.3,1403.5 L791.1,1403.5 L791.9,1403.5 L792.7,1403.5 L793.5,1407.0 L794.3,1407.0 L795.1,1403.5 L795.9,1407.0 L796.7,1407.0 L797.5,1407.0 L798.3,1403.5 L799.1,1403.5 L799.9,1403.5 L800.7,1403.5 L801.5,1403.5 L802.3,1407.0 L803.1,1403.5 L803.9,1403.5 L804.7,1403.5 L805.5,1403.5 L806.3,1403.5 L807.1,1407.0 L807.9,1403.5 L808.7,1403.5 L809.5,1407.0 L810.3,1403.5 L811.1,1403.5 L811.9,1403.5 L812.7,1403.5 L813.5,1407.0 L814.3,1403.5 L815.1,1403.5 L815.9,1407.0 L816.7,1407.0 L817.5,1403.5 L818.3,1407.0 L819.1,1403.5 L819.9,1403.5 L820.7,1403.5 L821.5,1407.0 L822.3,1407.0 L823.1,1403.5 L823.9,1409.5 L824.7,1407.0 L825.5,1403.5 L826.3,1403.5 L827.1,1403.5 L827.9,1403.5 L828.7,1403.5 L829.5,1403.5 L830.3,1403.5 L831.1,1403.5 L831.9,1403.5 L832.7,1409.5 L833.5,1409.5 L834.3,1409.5 L835.1,1409.5 L835.9,1403.5 L836.7,1407.0 L837.5,1407.0 L838.3,1403.5 L839.1,1403.5 L839.9,1403.5 L840.7,1403.5 L841.5,1407.0 L842.3,1407.0 L843.1,1403.5 L843.9,1403.5 L844.7,1403.5 L845.5,1403.5 L846.3,1403.5 L847.1,1407.0 L847.9,1407.0 L848.7,1407.0 L849.5,1403.5 L850.3,1403.5 L851.1,1403.5 L851.9,1403.5 L852.7,1403.5 L853.5,1403.5 L854.3,1403.5 L855.1,1403.5 L855.9,1403.5 L856.7,1409.5 L857.5,1403.5 L858.3,1407.0 L859.1,1407.0 L859.9,1403.5 L860.7,1403.5 L861.5,1403.5 L862.3,1403.5 L863.1,1403.5 L863.9,1403.5 L864.7,1403.5 L865.5,1403.5 L866.3,1403.5 L867.1,1403.5 L867.9,1407.0 L868.7,1407.0 L869.5,1407.0 L870.3,1403.5 L871.1,1403.5 L871.9,1403.5 L872.7,1403.5 L873.5,1403.5 L874.3,1407.0 L875.1,1403.5 L875.9,1403.5 L876.7,1407.0 L877.5,1403.5 L878.3,1407.0 L879.1,1403.5 L879.9,1403.5 L880.7,1409.5 L881.5,1409.5 L882.3,1409.5 L883.1,1403.5 L883.9,1403.5 L884.7,1407.0 L885.5,1407.0 L886.3,1407.0 L887.1,1403.5 L887.9,1407.0 L888.7,1403.5 L889.5,1407.0 L890.3,1407.0 L891.1,1403.5 L891.9,1409.5 L892.7,1407.0 L893.5,1403.5 L894.3,1403.5 L895.1,1407.0 L895.9,1403.5 L896.7,1403.5 L897.5,1407.0 L898.3,1407.0 L899.1,1403.5 L899.9,1403.5 L900.7,1407.0 L901.5,1407.0 L902.3,1407.0 L903.1,1407.0 L903.9,1403.5 L904.7,1403.5 L905.5,1407.0 L906.3,1407.0 L907.1,1403.5 L907.9,1407.0 L908.7,1403.5 L909.5,1403.5 L910.3,1407.0 L911.1,1409.5 L911.9,1403.5 L912.7,1403.5 L913.5,1403.5 L914.3,1403.5 L915.1,1403.5 L915.9,1403.5 L916.7,1407.0 L917.5,1407.0 L918.3,1407.0 L919.1,1407.0 L919.9,1403.5 L920.7,1403.5 L921.5,1403.5 L922.3,1403.5 L923.1,1403.5 L923.9,1403.5 L924.7,1403.5 L925.5,1403.5 L926.3,1407.0 L927.1,1403.5 L927.9,1403.5 L928.7,1407.0 L929.5,1407.0 L930.3,1403.5 L931.1,1407.0 L931.9,1403.5 L932.7,1403.5 L933.5,1403.5 L934.3,1403.5 L935.1,1403.5 L935.9,1403.5 L936.7,1407.0 L937.5,1407.0 L938.3,1403.5 L939.1,1403.5 L939.9,1403.5 L940.7,1407.0 L941.5,1403.5 L942.3,1403.5 L943.1,1403.5 L943.9,1403.5 L944.7,1403.5 L945.5,1403.5 L946.3,1407.0 L947.1,1403.5 L947.9,1403.5 L948.7,1403.5 L949.5,1403.5 L950.3,1407.0 L951.1,1403.5 L951.9,1403.5 L952.7,1403.5 L953.5,1403.5 L954.3,1407.0 L955.1,1407.0 L955.9,1403.5 L956.7,1403.5 L957.5,1407.0 L958.3,1403.5 L959.1,1403.5 L959.9,1403.5 L960.7,1403.5 L961.5,1403.5 L962.3,1403.5 L963.1,1407.0 L963.9,1403.5 L964.7,1403.5 L965.5,1403.5 L966.3,1403.5 L967.1,1403.5 L967.9,1407.0 L968.7,1407.0 L969.5,1407.0 L970.3,1407.0 L971.1,1407.0 L971.9,1407.0 L972.7,1407.0 L973.5,1409.5 L974.3,1403.5 L975.1,1403.5 L975.9,1409.5 L976.7,1409.5 L977.5,1407.0 L978.3,1407.0 L979.1,1403.5 L979.9,1403.5 L980.7,1407.0 L981.5,1407.0 L982.3,1403.5 L983.1,1407.0 L983.9,1407.0 L984.7,1403.5 L985.5,1409.5 L986.3,1409.5 L987.1,1403.5 L987.9,1403.5 L988.7,1403.5 L989.5,1407.0 L990.3,1407.0 L991.1,1403.5 L991.9,1403.5 L992.7,1403.5 L993.5,1403.5 L994.3,1403.5 L995.1,1403.5 L995.9,1403.5 L996.7,1407.0 L997.5,1407.0 L998.3,1407.0 L999.1,1403.5 L999.9,1403.5 L1000.7,1403.5 L1001.5,1409.5 L1002.3,1403.5 L1003.1,1407.0 L1003.9,1407.0 L1004.7,1403.5 L1005.5,1403.5 L1006.3,1403.5 L1007.1,1409.5 L1007.9,1409.5 L1008.7,1403.5 L1009.5,1403.5 L1010.3,1407.0 L1011.1,1407.0 L1011.9,1403.5 L1012.7,1403.5 L1013.5,1403.5 L1014.3,1403.5 L1015.1,1403.5 L1015.9,1403.5 L1016.7,1403.5 L1017.5,1403.5 L1018.3,1407.0 L1019.1,1407.0 L1019.9,1403.5 L1020.7,1403.5 L1021.5,1403.5 L1022.3,1407.0 L1023.1,1403.5 L1023.9,1403.5 L1024.7,1403.5 L1025.5,1403.5 L1026.3,1407.0 L1027.1,1407.0 L1027.9,1403.5 L1028.7,1403.5 L1029.5,1403.5 L1030.3,1409.5 L1031.1,1409.5 L1031.9,1403.5 L1032.7,1403.5 L1033.5,1403.5 L1034.3,1403.5 L1035.1,1409.5 L1035.9,1403.5 L1036.7,1403.5 L1037.5,1407.0 L1038.3,1407.0 L1039.1,1403.5 L1039.9,1407.0 L1040.7,1407.0 L1041.5,1407.0 L1042.3,1403.5 L1043.1,1407.0 L1043.9,1403.5 L1044.7,1409.5 L1045.5,1409.5 L1046.3,1409.5 L1047.1,1403.5 L1047.9,1403.5 L1048.7,1403.5 L1049.5,1403.5 L1050.3,1407.0 L1051.1,1407.0 L1051.9,1403.5 L1052.7,1403.5 L1053.5,1403.5 L1054.3,1403.5 L1055.1,1407.0 L1055.9,1407.0 L1056.7,1407.0 L1057.5,1407.0 L1058.3,1403.5 L1059.1,1403.5 L1059.9,1403.5 L1060.7,1409.5 L1061.5,1403.5 L1062.3,1409.5 L1063.1,1403.5 L1063.9,1403.5 L1064.7,1403.5 L1065.5,1403.5 L1066.3,1403.5 L1067.1,1403.5 L1067.9,1403.5 L1068.7,1403.5 L1069.5,1403.5 L1070.3,1403.5 L1071.1,1403.5 L1071.9,1409.5 L1072.7,1407.0 L1073.5,1407.0 L1074.3,1403.5 L1075.1,1407.0 L1075.9,1407.0 L1076.7,1407.0 L1077.5,1407.0 L1078.3,1409.5 L1079.1,1409.5 L1079.9,1407.0 L1080.7,1407.0 L1081.5,1407.0 L1082.3,1407.0 L1083.1,1407.0 L1083.9,1407.0 L1084.7,1409.5 L1085.5,1409.5 L1086.3,1407.0 L1087.1,1407.0 L1087.9,1403.5 L1088.7,1403.5 L1089.5,1407.0 L1090.3,1403.5 L1091.1,1403.5 L1091.9,1407.0 L1092.7,1409.5 L1093.5,1409.5 L1094.3,1409.5 L1095.1,1403.5 L1095.9,1403.5 L1096.7,1403.5 L1097.5,1409.5 L1098.3,1403.5 L1099.1,1407.0 L1099.9,1403.5 L1100.7,1403.5 L1101.5,1403.5 L1102.3,1403.5 L1103.1,1403.5 L1103.9,1403.5 L1104.7,1403.5 L1105.5,1403.5 L1106.3,1403.5 L1107.1,1403.5 L1107.9,1407.0 L1108.7,1407.0 L1109.5,1407.0 L1110.3,1407.0 L1111.1,1403.5 L1111.9,1403.5 L1112.7,1403.5 L1113.5,1403.5 L1114.3,1403.5 L1115.1,1407.0 L1115.9,1407.0 L1116.7,1403.5 L1117.5,1403.5 L1118.3,1407.0 L1119.1,1407.0 L1119.9,1407.0 L1120.7,1407.0 L1121.5,1403.5 L1122.3,1403.5 L1123.1,1407.0 L1123.9,1407.0 L1124.7,1403.5 L1125.5,1407.0 L1126.3,1407.0 L1127.1,1403.5 L1127.9,1407.0 L1128.7,1407.0 L1129.5,1409.5 L1130.3,1407.0 L1131.1,1407.0 L1131.9,1403.5 L1132.7,1403.5 L1133.5,1407.0 L1134.3,1407.0 L1135.1,1403.5 L1135.9,1403.5 L1136.7,1403.5 L1137.5,1403.5 L1138.3,1403.5 L1139.1,1403.5 L1139.9,1409.5 L1140.7,1409.5 L1141.5,1409.5 L1142.3,1403.5 L1143.1,1403.5 L1143.9,1403.5 L1144.7,1409.5 L1145.5,1407.0 L1146.3,1407.0 L1147.1,1407.0 L1147.9,1403.5 L1148.7,1403.5 L1149.5,1407.0 L1150.3,1407.0 L1151.1,1407.0 L1151.9,1403.5 L1152.7,1407.0 L1153.5,1403.5" stroke="#00ff00" stroke-width="1.1" fill="none"/>
<path d="M165.5,1384.0 L166.3,1384.0 L167.1,1384.0 L167.9,1384.0 L168.7,1384.0 L169.5,1384.0 L170.3,1384.0 L171.1,1392.0 L171.9,1392.0 L172.7,1384.0 L173.5,1384.0 L174.3,1384.0 L175.1,1392.0 L175.9,1392.0 L176.7,1384.0 L177.5,1384.0 L178.3,1384.0 L179.1,1384.0 L179.9,1384.0 L180.7,1392.0 L181.5,1384.0 L182.3,1392.0 L183.1,1392.0 L183.9,1384.0 L184.7,1384.0 L185.5,1384.0 L186.3,1384.0 L187.1,1384.0 L187.9,1384.0 L188.7,1384.0 L189.5,1384.0 L190.3,1384.0 L191.1,1392.0 L191.9,1392.0 L192.7,1392.0 L193.5,1392.0 L194.3,1384.0 L195.1,1384.0 L195.9,1392.0 L196.7,1384.0 L197.5,1384.0 L198.3,1382.8 L199.1,1387.6 L199.9,1384.4 L200.7,1376.0 L201.5,1376.0 L202.3,1376.0 L203.1,1376.0 L203.9,1376.0 L204.7,1384.0 L205.5,1376.0 L206.3,1384.0 L207.1,1384.0 L207.9,1376.0 L208.7,1376.0 L209.5,1384.0 L210.3,1384.0 L211.1,1376.0 L211.9,1384.0 L212.7,1376.0 L213.5,1376.0 L214.3,1376.0 L215.1,1376.0 L215.9,1384.0 L216.7,1376.0 L217.5,1376.0 L218.3,1384.0 L219.1,1384.0 L219.9,1376.0 L220.7,1376.0 L221.5,1376.0 L222.3,1376.0 L223.1,1376.0 L223.9,1376.0 L224.7,1376.0 L225.5,1376.0 L226.3,1376.0 L227.1,1376.0 L227.9,1376.0 L228.7,1376.0 L229.5,1376.0 L230.3,1376.0 L231.1,1376.0 L231.9,1376.0 L232.7,1376.0 L233.5,1376.0 L234.3,1376.0 L235.1,1376.0 L235.9,1376.0 L236.7,1376.0 L237.5,1376.0 L238.3,1376.0 L239.1,1376.0 L239.9,1376.0 L240.7,1376.0 L241.5,1376.0 L242.3,1384.0 L243.1,1376.0 L243.9,1376.0 L244.7,1376.0 L245.5,1376.0 L246.3,1376.0 L247.1,1384.0 L247.9,1384.0 L248.7,1384.0 L249.5,1384.0 L250.3,1384.0 L251.1,1376.0 L251.9,1376.0 L252.7,1384.0 L253.5,1376.0 L254.3,1376.0 L255.1,1376.0 L255.9,1376.0 L256.7,1376.0 L257.5,1376.0 L258.3,1376.0 L259.1,1376.0 L259.9,1376.0 L260.7,1376.0 L261.5,1376.0 L262.3,1376.0 L263.1,1376.0 L263.9,1384.0 L264.7,1384.0 L265.5,1376.0 L266.3,1384.0 L267.1,1384.0 L267.9,1384.0 L268.7,1384.0 L269.5,1376.0 L270.3,1376.0 L271.1,1384.0 L271.9,1384.0 L272.7,1376.0 L273.5,1376.0 L274.3,1376.0 L275.1,1376.0 L275.9,1376.0 L276.7,1376.0 L277.5,1376.0 L278.3,1384.0 L279.1,1384.0 L279.9,1376.0 L280.7,1376.0 L281.5,1376.0 L282.3,1376.0 L283.1,1376.0 L283.9,1376.0 L284.7,1384.0 L285.5,1376.0 L286.3,1376.0 L287.1,1376.0 L287.9,1376.0 L288.7,1384.0 L289.5,1384.0 L290.3,1384.0 L291.1,1384.0 L291.9,1384.0 L292.7,1376.0 L293.5,1384.0 L294.3,1384.0 L295.1,1384.0 L295.9,1384.0 L296.7,1376.0 L297.5,1376.0 L298.3,1376.0 L299.1,1384.0 L299.9,1384.0 L300.7,1376.0 L301.5,1376.0 L302.3,1376.0 L303.1,1376.0 L303.9,1384.0 L304.7,1384.0 L305.5,1384.0 L306.3,1376.0 L307.1,1376.0 L307.9,1376.0 L308.7,1376.0 L309.5,1384.0 L310.3,1384.0 L311.1,1376.0 L311.9,1376.0 L312.7,1384.0 L313.5,1384.0 L314.3,1376.0 L315.1,1376.0 L315.9,1376.0 L316.7,1376.0 L317.5,1376.0 L318.3,1384.0 L319.1,1384.0 L319.9,1376.0 L320.7,1376.0 L321.5,1376.0 L322.3,1376.0 L323.1,1376.0 L323.9,1384.0 L324.7,1376.0 L325.5,1376.0 L326.3,1376.0 L327.1,1376.0 L327.9,1376.0 L328.7,1376.0 L329.5,1376.0 L330.3,1376.0 L331.1,1376.0 L331.9,1376.0 L332.7,1376.0 L333.5,1376.0 L334.3,1376.0 L335.1,1376.0 L335.9,1376.0 L336.7,1384.0 L337.5,1384.0 L338.3,1376.0 L339.1,1376.0 L339.9,1376.0 L340.7,1376.0 L341.5,1376.0 L342.3,1376.0 L343.1,1376.0 L343.9,1376.0 L344.7,1376.0 L345.5,1376.0 L346.3,1376.0 L347.1,1376.0 L347.9,1376.0 L348.7,1376.0 L349.5,1376.0 L350.3,1376.0 L351.1,1376.0 L351.9,1384.0 L352.7,1384.0 L353.5,1384.0 L354.3,1384.0 L355.1,1376.0 L355.9,1376.0 L356.7,1376.0 L357.5,1384.0 L358.3,1384.0 L359.1,1376.0 L359.9,1376.0 L360.7,1376.0 L361.5,1376.0 L362.3,1376.0 L363.1,1376.0 L363.9,1376.0 L364.7,1376.0 L365.5,1376.0 L366.3,1376.0 L367.1,1376.0 L367.9,1376.0 L368.7,1376.0 L369.5,1376.0 L370.3,1376.0 L371.1,1376.0 L371.9,1384.0 L372.7,1384.0 L373.5,1376.0 L374.3,1376.0 L375.1,1376.0 L375.9,1376.0 L376.7,1376.0 L377.5,1376.0 L378.3,1376.0 L379.1,1376.0 L379.9,1376.0 L380.7,1376.0 L381.5,1376.0 L382.3,1376.0 L383.1,1384.0 L383.9,1384.0 L384.7,1376.0 L385.5,1376.0 L386.3,1376.0 L387.1,1376.0 L387.9,1376.0 L388.7,1384.0 L389.5,1376.0 L390.3,1384.0 L391.1,1376.0 L391.9,1376.0 L392.7,1376.0 L393.5,1376.0 L394.3,1384.0 L395.1,1384.0 L395.9,1384.0 L396.7,1384.0 L397.5,1376.0 L398.3,1376.0 L399.1,1376.0 L399.9,1376.0 L400.7,1376.0 L401.5,1376.0 L402.3,1384.0 L403.1,1376.0 L403.9,1376.0 L404.7,1376.0 L405.5,1376.0 L406.3,1376.0 L407.1,1384.0 L407.9,1384.0 L408.7,1384.0 L409.5,1384.0 L410.3,1376.0 L411.1,1376.0 L411.9,1376.0 L412.7,1376.0 L413.5,1376.0 L414.3,1376.0 L415.1,1376.0 L415.9,1376.0 L416.7,1384.0 L417.5,1376.0 L418.3,1376.0 L419.1,1376.0 L419.9,1376.0 L420.7,1376.0 L421.5,1376.0 L422.3,1376.0 L423.1,1376.0 L423.9,1376.0 L424.7,1376.0 L425.5,1376.0 L426.3,1376.0 L427.1,1376.0 L427.9,1376.0 L428.7,1376.0 L429.5,1376.0 L430.3,1376.0 L431.1,1376.0 L431.9,1376.0 L432.7,1376.0 L433.5,1376.0 L434.3,1376.0 L435.1,1384.0 L435.9,1376.0 L436.7,1376.0 L437.5,1376.0 L438.3,1376.0 L439.1,1384.0 L439.9,1384.0 L440.7,1384.0 L441.5,1384.0 L442.3,1376.0 L443.1,1376.0 L443.9,1376.0 L444.7,1376.0 L445.5,1384.0 L446.3,1384.0 L447.1,1376.0 L447.9,1384.0 L448.7,1384.0 L449.5,1376.0 L450.3,1384.0 L451.1,1376.0 L451.9,1376.0 L452.7,1376.0 L453.5,1376.0 L454.3,1376.0 L455.1,1376.0 L455.9,1376.0 L456.7,1376.0 L457.5,1376.0 L458.3,1376.0 L459.1,1376.0 L459.9,1376.0 L460.7,1376.0 L461.5,1376.0 L462.3,1376.0 L463.1,1384.0 L463.9,1376.0 L464.7,1384.0 L465.5,1384.0 L466.3,1376.0 L467.1,1384.0 L467.9,1384.0 L468.7,1376.0 L469.5,1376.0 L470.3,1376.0 L471.1,1376.0 L471.9,1376.0 L472.7,1376.0 L473.5,1376.0 L474.3,1376.0 L475.1,1384.0 L475.9,1384.0 L476.7,1376.0 L477.5,1376.0 L478.3,1376.0 L479.1,1376.0 L479.9,1376.0 L480.7,1376.0 L481.5,1376.0 L482.3,1376.0 L483.1,1376.0 L483.9,1376.0 L484.7,1376.0 L485.5,1376.0 L486.3,1376.0 L487.1,1384.0 L487.9,1384.0 L488.7,1376.0 L489.5,1376.0 L490.3,1384.0 L491.1,1384.0 L491.9,1376.0 L492.7,1376.0 L493.5,1384.0 L494.3,1384.0 L495.1,1376.0 L495.9,1376.0 L496.7,1376.0 L497.5,1384.0 L498.3,1376.0 L499.1,1376.0 L499.9,1376.0 L500.7,1376.0 L501.5,1376.0 L502.3,1376.0 L503.1,1376.0 L503.9,1376.0 L504.7,1376.0 L505.5,1376.0 L506.3,1376.0 L507.1,1376.0 L507.9,1376.0 L508.7,1376.0 L509.5,1384.0 L510.3,1376.0 L511.1,1376.0 L511.9,1384.0 L512.7,1384.0 L513.5,1384.0 L514.3,1376.0 L515.1,1376.0 L515.9,1376.0 L516.7,1376.0 L517.5,1376.0 L518.3,1376.0 L519.1,1384.0 L519.9,1376.0 L520.7,1376.0 L521.5,1384.0 L522.3,1384.0 L523.1,1376.0 L523.9,1376.0 L524.7,1376.0 L525.5,1384.0 L526.3,1384.0 L527.1,1376.0 L527.9,1376.0 L528.7,1376.0 L529.5,1376.0 L530.3,1376.0 L531.1,1376.0 L531.9,1376.0 L532.7,1384.0 L533.5,1376.0 L534.3,1376.0 L535.1,1376.0 L535.9,1384.0 L536.7,1376.0 L537.5,1376.0 L538.3,1376.0 L539.1,1376.0 L539.9,1376.0 L540.7,1376.0 L541.5,1376.0 L542.3,1376.0 L543.1,1384.0 L543.9,1376.0 L544.7,1384.0 L545.5,1384.0 L546.3,1376.0 L547.1,1376.0 L547.9,1376.0 L548.7,1376.0 L549.5,1376.0 L550.3,1376.0 L551.1,1376.0 L551.9,1376.0 L552.7,1384.0 L553.5,1384.0 L554.3,1376.0 L555.1,1384.0 L555.9,1384.0 L556.7,1376.0 L557.5,1376.0 L558.3,1376.0 L559.1,1384.0 L559.9,1384.0 L560.7,1384.0 L561.5,1384.0 L562.3,1384.0 L563.1,1376.0 L563.9,1384.0 L564.7,1384.0 L565.5,1376.0 L566.3,1376.0 L567.1,1376.0 L567.9,1384.0 L568.7,1384.0 L569.5,1376.0 L570.3,1376.0 L571.1,1376.0 L571.9,1376.0 L572.7,1376.0 L573.5,1376.0 L574.3,1376.0 L575.1,1376.0 L575.9,1384.0 L576.7,1384.0 L577.5,1384.0 L578.3,1384.0 L579.1,1384.0 L579.9,1376.0 L580.7,1376.0 L581.5,1384.0 L582.3,1376.0 L583.1,1376.0 L583.9,1376.0 L584.7,1384.0 L585.5,1376.0 L586.3,1384.0 L587.1,1376.0 L587.9,1376.0 L588.7,1376.0 L589.5,1384.0 L590.3,1384.0 L591.1,1384.0 L591.9,1376.0 L592.7,1376.0 L593.5,1376.0 L594.3,1384.0 L595.1,1384.0 L595.9,1384.0 L596.7,1384.0 L597.5,1376.0 L598.3,1384.0 L599.1,1376.0 L599.9,1384.0 L600.7,1384.0 L601.5,1384.0 L602.3,1376.0 L603.1,1384.0 L603.9,1384.0 L604.7,1376.0 L605.5,1376.0 L606.3,1376.0 L607.1,1384.0 L607.9,1384.0 L608.7,1384.0 L609.5,1376.0 L610.3,1376.0 L611.1,1384.0 L611.9,1376.0 L612.7,1384.0 L613.5,1384.0 L614.3,1376.0 L615.1,1376.0 L615.9,1376.0 L616.7,1376.0 L617.5,1376.0 L618.3,1376.0 L619.1,1376.0 L619.9,1376.0 L620.7,1376.0 L621.5,1376.0 L622.3,1376.0 L623.1,1376.0 L623.9,1376.0 L624.7,1376.0 L625.5,1376.0 L626.3,1384.0 L627.1,1384.0 L627.9,1384.0 L628.7,1376.0 L629.5,1384.0 L630.3,1384.0 L631.1,1376.0 L631.9,1376.0 L632.7,1384.0 L633.5,1384.0 L634.3,1376.0 L635.1,1376.0 L635.9,1376.0 L636.7,1384.0 L637.5,1384.0 L638.3,1384.0 L639.1,1376.0 L639.9,1376.0 L640.7,1376.0 L641.5,1376.0 L642.3,1376.0 L643.1,1376.0 L643.9,1376.0 L644.7,1384.0 L645.5,1384.0 L646.3,1384.0 L647.1,1376.0 L647.9,1376.0 L648.7,1376.0 L649.5,1376.0 L650.3,1376.0 L651.1,1384.0 L651.9,1376.0 L652.7,1376.0 L653.5,1376.0 L654.3,1376.0 L655.1,1384.0 L655.9,1384.0 L656.7,1384.0 L657.5,1376.0 L658.3,1376.0 L659.1,1376.0 L659.9,1376.0 L660.7,1376.0 L661.5,1384.0 L662.3,1384.0 L663.1,1376.0 L663.9,1376.0 L664.7,1376.0 L665.5,1376.0 L666.3,1376.0 L667.1,1376.0 L667.9,1376.0 L668.7,1376.0 L669.5,1376.0 L670.3,1376.0 L671.1,1376.0 L671.9,1376.0 L672.7,1376.0 L673.5,1376.0 L674.3,1376.0 L675.1,1376.0 L675.9,1376.0 L676.7,1376.0 L677.5,1376.0 L678.3,1376.0 L679.1,1376.0 L679.9,1376.0 L680.7,1376.0 L681.5,1376.0 L682.3,1376.0 L683.1,1376.0 L683.9,1376.0 L684.7,1376.0 L685.5,1376.0 L686.3,1376.0 L687.1,1384.0 L687.9,1384.0 L688.7,1376.0 L689.5,1376.0 L690.3,1376.0 L691.1,1376.0 L691.9,1376.0 L692.7,1376.0 L693.5,1376.0 L694.3,1376.0 L695.1,1376.0 L695.9,1376.0 L696.7,1376.0 L697.5,1376.0 L698.3,1376.0 L699.1,1376.0 L699.9,1376.0 L700.7,1376.0 L701.5,1376.0 L702.3,1376.0 L703.1,1376.0 L703.9,1376.0 L704.7,1376.0 L705.5,1376.0 L706.3,1376.0 L707.1,1376.0 L707.9,1376.0 L708.7,1376.0 L709.5,1376.0 L710.3,1376.0 L711.1,1376.0 L711.9,1376.0 L712.7,1376.0 L713.5,1376.0 L714.3,1376.0 L715.1,1376.0 L715.9,1376.0 L716.7,1376.0 L717.5,1376.0 L718.3,1376.0 L719.1,1376.0 L719.9,1376.0 L720.7,1376.0 L721.5,1376.0 L722.3,1376.0 L723.1,1376.0 L723.9,1376.0 L724.7,1376.0 L725.5,1376.0 L726.3,1376.0 L727.1,1376.0 L727.9,1376.0 L728.7,1376.0 L729.5,1376.0 L730.3,1376.0 L731.1,1376.0 L731.9,1376.0 L732.7,1376.0 L733.5,1376.0 L734.3,1376.0 L735.1,1376.0 L735.9,1376.0 L736.7,1376.0 L737.5,1376.0 L738.3,1376.0 L739.1,1376.0 L739.9,1376.0 L740.7,1376.0 L741.5,1376.0 L742.3,1376.0 L743.1,1376.0 L743.9,1376.0 L744.7,1376.0 L745.5,1376.0 L746.3,1376.0 L747.1,1376.0 L747.9,1376.0 L748.7,1376.0 L749.5,1376.0 L750.3,1376.0 L751.1,1376.0 L751.9,1376.0 L752.7,1376.0 L753.5,1376.0 L754.3,1376.0 L755.1,1376.0 L755.9,1376.0 L756.7,1376.0 L757.5,1376.0 L758.3,1376.0 L759.1,1384.0 L759.9,1384.0 L760.7,1376.0 L761.5,1376.0 L762.3,1376.0 L763.1,1376.0 L763.9,1376.0 L764.7,1384.0 L765.5,1384.0 L766.3,1376.0 L767.1,1376.0 L767.9,1376.0 L768.7,1376.0 L769.5,1376.0 L770.3,1376.0 L771.1,1376.0 L771.9,1376.0 L772.7,1376.0 L773.5,1376.0 L774.3,1376.0 L775.1,1376.0 L775.9,1376.0 L776.7,1376.0 L777.5,1376.0 L778.3,1376.0 L779.1,1376.0 L779.9,1384.0 L780.7,1376.0 L781.5,1376.0 L782.3,1376.0 L783.1,1376.0 L783.9,1376.0 L784.7,1376.0 L785.5,1384.0 L786.3,1376.0 L787.1,1376.0 L787.9,1376.0 L788.7,1376.0 L789.5,1376.0 L790.3,1376.0 L791.1,1376.0 L791.9,1384.0 L792.7,1384.0 L793.5,1384.0 L794.3,1376.0 L795.1,1376.0 L795.9,1376.0 L796.7,1376.0 L797.5,1376.0 L798.3,1376.0 L799.1,1376.0 L799.9,1376.0 L800.7,1376.0 L801.5,1376.0 L802.3,1376.0 L803.1,1376.0 L803.9,1376.0 L804.7,1376.0 L805.5,1376.0 L806.3,1384.0 L807.1,1376.0 L807.9,1376.0 L808.7,1376.0 L809.5,1376.0 L810.3,1376.0 L811.1,1376.0 L811.9,1376.0 L812.7,1376.0 L813.5,1376.0 L814.3,1376.0 L815.1,1376.0 L815.9,1376.0 L816.7,1376.0 L817.5,1376.0 L818.3,1376.0 L819.1,1384.0 L819.9,1384.0 L820.7,1376.0 L821.5,1376.0 L822.3,1376.0 L823.1,1376.0 L823.9,1376.0 L824.7,1376.0 L825.5,1376.0 L826.3,1376.0 L827.1,1376.0 L827.9,1376.0 L828.7,1376.0 L829.5,1376.0 L830.3,1376.0 L831.1,1376.0 L831.9,1376.0 L832.7,1376.0 L833.5,1376.0 L834.3,1376.0 L835.1,1376.0 L835.9,1376.0 L836.7,1376.0 L837.5,1376.0 L838.3,1376.0 L839.1,1376.0 L839.9,1376.0 L840.7,1376.0 L841.5,1376.0 L842.3,1376.0 L843.1,1376.0 L843.9,1376.0 L844.7,1376.0 L845.5,1376.0 L846.3,1376.0 L847.1,1376.0 L847.9,1376.0 L848.7,1376.0 L849.5,1376.0 L850.3,1376.0 L851.1,1376.0 L851.9,1376.0 L852.7,1376.0 L853.5,1376.0 L854.3,1376.0 L855.1,1376.0 L855.9,1376.0 L856.7,1376.0 L857.5,1376.0 L858.3,1376.0 L859.1,1376.0 L859.9,1376.0 L860.7,1376.0 L861.5,1376.0 L862.3,1376.0 L863.1,1376.0 L863.9,1376.0 L864.7,1376.0 L865.5,1376.0 L866.3,1376.0 L867.1,1376.0 L867.9,1384.0 L868.7,1376.0 L869.5,1376.0 L870.3,1376.0 L871.1,1376.0 L871.9,1376.0 L872.7,1376.0 L873.5,1376.0 L874.3,1376.0 L875.1,1376.0 L875.9,1376.0 L876.7,1376.0 L877.5,1376.0 L878.3,1376.0 L879.1,1376.0 L879.9,1376.0 L880.7,1376.0 L881.5,1376.0 L882.3,1376.0 L883.1,1376.0 L883.9,1376.0 L884.7,1376.0 L885.5,1376.0 L886.3,1376.0 L887.1,1376.0 L887.9,1376.0 L888.7,1376.0 L889.5,1376.0 L890.3,1384.0 L891.1,1384.0 L891.9,1376.0 L892.7,1376.0 L893.5,1376.0 L894.3,1376.0 L895.1,1376.0 L895.9,1376.0 L896.7,1376.0 L897.5,1376.0 L898.3,1376.0 L899.1,1376.0 L899.9,1376.0 L900.7,1376.0 L901.5,1376.0 L902.3,1376.0 L903.1,1376.0 L903.9,1376.0 L904.7,1376.0 L905.5,1376.0 L906.3,1376.0 L907.1,1376.0 L907.9,1376.0 L908.7,1376.0 L909.5,1376.0 L910.3,1376.0 L911.1,1376.0 L911.9,1376.0 L912.7,1376.0 L913.5,1376.0 L914.3,1376.0 L915.1,1376.0 L915.9,1376.0 L916.7,1376.0 L917.5,1376.0 L918.3,1376.0 L919.1,1376.0 L919.9,1376.0 L920.7,1376.0 L921.5,1376.0 L922.3,1384.0 L923.1,1384.0 L923.9,1376.0 L924.7,1384.0 L925.5,1376.0 L926.3,1376.0 L927.1,1376.0 L927.9,1376.0 L928.7,1376.0 L929.5,1376.0 L930.3,1376.0 L931.1,1376.0 L931.9,1376.0 L932.7,1376.0 L933.5,1376.0 L934.3,1376.0 L935.1,1376.0 L935.9,1376.0 L936.7,1384.0 L937.5,1384.0 L938.3,1376.0 L939.1,1384.0 L939.9,1384.0 L940.7,1376.0 L941.5,1376.0 L942.3,1376.0 L943.1,1376.0 L943.9,1376.0 L944.7,1376.0 L945.5,1376.0 L946.3,1376.0 L947.1,1376.0 L947.9,1376.0 L948.7,1376.0 L949.5,1376.0 L950.3,1376.0 L951.1,1376.0 L951.9,1376.0 L952.7,1376.0 L953.5,1376.0 L954.3,1376.0 L955.1,1376.0 L955.9,1376.0 L956.7,1384.0 L957.5,1376.0 L958.3,1376.0 L959.1,1376.0 L959.9,1384.0 L960.7,1376.0 L961.5,1376.0 L962.3,1376.0 L963.1,1376.0 L963.9,1376.0 L964.7,1376.0 L965.5,1376.0 L966.3,1376.0 L967.1,1376.0 L967.9,1376.0 L968.7,1376.0 L969.5,1376.0 L970.3,1376.0 L971.1,1376.0 L971.9,1376.0 L972.7,1376.0 L973.5,1376.0 L974.3,1376.0 L975.1,1376.0 L975.9,1376.0 L976.7,1376.0 L977.5,1376.0 L978.3,1376.0 L979.1,1376.0 L979.9,1376.0 L980.7,1376.0 L981.5,1376.0 L982.3,1376.0 L983.1,1376.0 L983.9,1376.0 L984.7,1376.0 L985.5,1376.0 L986.3,1376.0 L987.1,1376.0 L987.9,1376.0 L988.7,1376.0 L989.5,1376.0 L990.3,1376.0 L991.1,1376.0 L991.9,1376.0 L992.7,1376.0 L993.5,1376.0 L994.3,1376.0 L995.1,1376.0 L995.9,1376.0 L996.7,1376.0 L997.5,1376.0 L998.3,1376.0 L999.1,1376.0 L999.9,1376.0 L1000.7,1376.0 L1001.5,1376.0 L1002.3,1376.0 L1003.1,1376.0 L1003.9,1376.0 L1004.7,1376.0 L1005.5,1376.0 L1006.3,1376.0 L1007.1,1376.0 L1007.9,1384.0 L1008.7,1376.0 L1009.5,1376.0 L1010.3,1376.0 L1011.1,1376.0 L1011.9,1376.0 L1012.7,1376.0 L1013.5,1376.0 L1014.3,1376.0 L1015.1,1376.0 L1015.9,1376.0 L1016.7,1376.0 L1017.5,1376.0 L1018.3,1384.0 L1019.1,1376.0 L1019.9,1376.0 L1020.7,1376.0 L1021.5,1376.0 L1022.3,1376.0 L1023.1,1376.0 L1023.9,1376.0 L1024.7,1376.0 L1025.5,1376.0 L1026.3,1376.0 L1027.1,1376.0 L1027.9,1376.0 L1028.7,1376.0 L1029.5,1376.0 L1030.3,1376.0 L1031.1,1376.0 L1031.9,1376.0 L1032.7,1376.0 L1033.5,1376.0 L1034.3,1376.0 L1035.1,1384.0 L1035.9,1376.0 L1036.7,1376.0 L1037.5,1376.0 L1038.3,1376.0 L1039.1,1376.0 L1039.9,1376.0 L1040.7,1376.0 L1041.5,1376.0 L1042.3,1376.0 L1043.1,1376.0 L1043.9,1376.0 L1044.7,1376.0 L1045.5,1376.0 L1046.3,1376.0 L1047.1,1376.0 L1047.9,1376.0 L1048.7,1376.0 L1049.5,1376.0 L1050.3,1376.0 L1051.1,1376.0 L1051.9,1376.0 L1052.7,1376.0 L1053.5,1376.0 L1054.3,1376.0 L1055.1,1376.0 L1055.9,1376.0 L1056.7,1376.0 L1057.5,1376.0 L1058.3,1376.0 L1059.1,1376.0 L1059.9,1376.0 L1060.7,1376.0 L1061.5,1376.0 L1062.3,1376.0 L1063.1,1376.0 L1063.9,1376.0 L1064.7,1376.0 L1065.5,1376.0 L1066.3,1376.0 L1067.1,1376.0 L1067.9,1376.0 L1068.7,1376.0 L1069.5,1376.0 L1070.3,1376.0 L1071.1,1376.0 L1071.9,1376.0 L1072.7,1376.0 L1073.5,1376.0 L1074.3,1376.0 L1075.1,1376.0 L1075.9,1384.0 L1076.7,1376.0 L1077.5,1376.0 L1078.3,1376.0 L1079.1,1376.0 L1079.9,1376.0 L1080.7,1376.0 L1081.5,1376.0 L1082.3,1376.0 L1083.1,1376.0 L1083.9,1376.0 L1084.7,1376.0 L1085.5,1376.0 L1086.3,1376.0 L1087.1,1376.0 L1087.9,1376.0 L1088.7,1376.0 L1089.5,1376.0 L1090.3,1376.0 L1091.1,1376.0 L1091.9,1376.0 L1092.7,1376.0 L1093.5,1376.0 L1094.3,1376.0 L1095.1,1376.0 L1095.9,1376.0 L1096.7,1376.0 L1097.5,1376.0 L1098.3,1376.0 L1099.1,1376.0 L1099.9,1376.0 L1100.7,1376.0 L1101.5,1376.0 L1102.3,1376.0 L1103.1,1376.0 L1103.9,1376.0 L1104.7,1376.0 L1105.5,1376.0 L1106.3,1376.0 L1107.1,1376.0 L1107.9,1376.0 L1108.7,1376.0 L1109.5,1376.0 L1110.3,1376.0 L1111.1,1376.0 L1111.9,1376.0 L1112.7,1376.0 L1113.5,1376.0 L1114.3,1376.0 L1115.1,1376.0 L1115.9,1384.0 L1116.7,1376.0 L1117.5,1376.0 L1118.3,1376.0 L1119.1,1376.0 L1119.9,1376.0 L1120.7,1376.0 L1121.5,1376.0 L1122.3,1376.0 L1123.1,1376.0 L1123.9,1376.0 L1124.7,1376.0 L1125.5,1376.0 L1126.3,1376.0 L1127.1,1376.0 L1127.9,1376.0 L1128.7,1376.0 L1129.5,1376.0 L1130.3,1376.0 L1131.1,1376.0 L1131.9,1376.0 L1132.7,1376.0 L1133.5,1376.0 L1134.3,1376.0 L1135.1,1376.0 L1135.9,1376.0 L1136.7,1376.0 L1137.5,1376.0 L1138.3,1376.0 L1139.1,1376.0 L1139.9,1376.0 L1140.7,1376.0 L1141.5,1376.0 L1142.3,1376.0 L1143.1,1376.0 L1143.9,1376.0 L1144.7,1384.0 L1145.5,1384.0 L1146.3,1376.0 L1147.1,1376.0 L1147.9,1376.0 L1148.7,1376.0 L1149.5,1376.0 L1150.3,1376.0 L1151.1,1376.0 L1151.9,1376.0 L1152.7,1376.0 L1153.5,1376.0" stroke="#00ffff" stroke-width="1.1" fill="none"/>
<path d="M165.5,1376.0 L166.1,1376.0 L166.7,1391.5 L167.3,1376.0 L167.9,1376.0 L168.5,1376.0 L169.1,1376.0 L169.7,1391.5 L170.3,1391.5 L170.9,1385.0 L171.5,1391.5 L172.1,1391.5 L172.7,1391.5 L173.3,1376.0 L173.9,1376.0 L174.5,1385.0 L175.1,1391.5 L175.7,1391.5 L176.3,1391.5 L176.9,1391.5 L177.5,1391.5 L178.1,1376.0 L178.7,1391.5 L179.3,1391.5 L179.9,1391.5 L180.5,1376.0 L181.1,1376.0 L181.7,1376.0 L182.3,1391.5 L182.9,1391.5 L183.5,1391.5 L184.1,1391.5 L184.7,1401.0 L185.3,1391.5 L185.9,1391.5 L186.5,1391.5 L187.1,1391.5 L187.7,1391.5 L188.3,1391.5 L188.9,1391.5 L189.5,1391.5 L190.1,1376.0 L190.7,1376.0 L191.3,1391.5 L191.9,1391.5 L192.5,1385.0 L193.1,1385.0 L193.7,1391.5 L194.3,1391.5 L194.9,1391.5 L195.5,1385.0 L196.1,1391.5 L196.7,1391.5 L197.3,1391.5 L197.9,1391.5 L198.5,1391.5 L199.1,1376.0 L199.7,1401.0 L200.3,1376.0 L200.9,1391.5 L201.5,1391.5 L202.1,1391.5 L202.7,1391.5 L203.3,1376.0 L203.9,1376.0 L204.5,1391.5 L205.1,1376.0 L205.7,1391.5 L206.3,1391.5 L206.9,1376.0 L207.5,1391.5 L208.1,1391.5 L208.7,1391.5 L209.3,1376.0 L209.9,1391.5 L210.5,1391.5 L211.1,1376.0 L211.7,1376.0 L212.3,1376.0 L212.9,1385.0 L213.5,1385.0 L214.1,1391.5 L214.7,1391.5 L215.3,1391.5 L215.9,1391.5 L216.5,1376.0 L217.1,1391.5 L217.7,1391.5 L218.3,1391.5 L218.9,1391.5 L219.5,1391.5 L220.1,1391.5 L220.7,1376.0 L221.3,1391.5 L221.9,1391.5 L222.5,1376.0 L223.1,1376.0 L223.7,1376.0 L224.3,1385.0 L224.9,1376.0 L225.5,1391.5 L226.1,1391.5 L226.7,1391.5 L227.3,1391.5 L227.9,1391.5 L228.5,1376.0 L229.1,1376.0 L229.7,1376.0 L230.3,1391.5 L230.9,1376.0 L231.5,1391.5 L232.1,1376.0 L232.7,1376.0 L233.3,1376.0 L233.9,1391.5 L234.5,1391.5 L235.1,1391.5 L235.7,1391.5 L236.3,1391.5 L236.9,1391.5 L237.5,1391.5 L238.1,1376.0 L238.7,1376.0 L239.3,1376.0 L239.9,1376.0 L240.5,1391.5 L241.1,1391.5 L241.7,1391.5 L242.3,1391.5 L242.9,1391.5 L243.5,1391.5 L244.1,1376.0 L244.7,1376.0 L245.3,1401.0 L245.9,1376.0 L246.5,1376.0 L247.1,1376.0 L247.7,1376.0 L248.3,1376.0 L248.9,1385.0 L249.5,1385.0 L250.1,1376.0 L250.7,1376.0 L251.3,1391.5 L251.9,1376.0 L252.5,1376.0 L253.1,1376.0 L253.7,1376.0 L254.3,1376.0 L254.9,1376.0 L255.5,1385.0 L256.1,1391.5 L256.7,1385.0 L257.3,1376.0 L257.9,1376.0 L258.5,1385.0 L259.1,1391.5 L259.7,1391.5 L260.3,1391.5 L260.9,1391.5 L261.5,1376.0 L262.1,1376.0 L262.7,1385.0 L263.3,1385.0 L263.9,1385.0 L264.5,1376.0 L265.1,1376.0 L265.7,1376.0 L266.3,1391.5 L266.9,1391.5 L267.5,1391.5 L268.1,1391.5 L268.7,1401.0 L269.3,1391.5 L269.9,1391.5 L270.5,1376.0 L271.1,1391.5 L271.7,1391.5 L272.3,1391.5 L272.9,1391.5 L273.5,1385.0 L274.1,1385.0 L274.7,1391.5 L275.3,1391.5 L275.9,1391.5 L276.5,1391.5 L277.1,1376.0 L277.7,1376.0 L278.3,1376.0 L278.9,1391.5 L279.5,1376.0 L280.1,1376.0 L280.7,1376.0 L281.3,1376.0 L281.9,1376.0 L282.5,1376.0 L283.1,1391.5 L283.7,1391.5 L284.3,1376.0 L284.9,1376.0 L285.5,1376.0 L286.1,1391.5 L286.7,1391.5 L287.3,1391.5 L287.9,1391.5 L288.5,1376.0 L289.1,1391.5 L289.7,1376.0 L290.3,1376.0 L290.9,1376.0 L291.5,1376.0 L292.1,1376.0 L292.7,1391.5 L293.3,1391.5 L293.9,1391.5 L294.5,1391.5 L295.1,1391.5 L295.7,1376.0 L296.3,1376.0 L296.9,1391.5 L297.5,1391.5 L298.1,1376.0 L298.7,1376.0 L299.3,1376.0 L299.9,1376.0 L300.5,1376.0 L301.1,1376.0 L301.7,1391.5 L302.3,1391.5 L302.9,1391.5 L303.5,1391.5 L304.1,1401.0 L304.7,1391.5 L305.3,1391.5 L305.9,1376.0 L306.5,1376.0 L307.1,1376.0 L307.7,1376.0 L308.3,1391.5 L308.9,1391.5 L309.5,1391.5 L310.1,1376.0 L310.7,1385.0 L311.3,1385.0 L311.9,1391.5 L312.5,1391.5 L313.1,1376.0 L313.7,1376.0 L314.3,1376.0 L314.9,1376.0 L315.5,1391.5 L316.1,1391.5 L316.7,1385.0 L317.3,1385.0 L317.9,1391.5 L318.5,1385.0 L319.1,1385.0 L319.7,1376.0 L320.3,1376.0 L320.9,1376.0 L321.5,1376.0 L322.1,1385.0 L322.7,1385.0 L323.3,1391.5 L323.9,1376.0 L324.5,1376.0 L325.1,1391.5 L325.7,1391.5 L326.3,1391.5 L326.9,1391.5 L327.5,1391.5 L328.1,1385.0 L328.7,1391.5 L329.3,1376.0 L329.9,1376.0 L330.5,1391.5 L331.1,1391.5 L331.7,1391.5 L332.3,1391.5 L332.9,1376.0 L333.5,1391.5 L334.1,1391.5 L334.7,1376.0 L335.3,1376.0 L335.9,1376.0 L336.5,1376.0 L337.1,1391.5 L337.7,1391.5 L338.3,1391.5 L338.9,1401.0 L339.5,1401.0 L340.1,1376.0 L340.7,1385.0 L341.3,1385.0 L341.9,1391.5 L342.5,1391.5 L343.1,1376.0 L343.7,1376.0 L344.3,1376.0 L344.9,1376.0 L345.5,1391.5 L346.1,1391.5 L346.7,1391.5 L347.3,1391.5 L347.9,1391.5 L348.5,1391.5 L349.1,1376.0 L349.7,1376.0 L350.3,1376.0 L350.9,1376.0 L351.5,1385.0 L352.1,1385.0 L352.7,1376.0 L353.3,1376.0 L353.9,1385.0 L354.5,1391.5 L355.1,1391.5 L355.7,1391.5 L356.3,1376.0 L356.9,1401.0 L357.5,1376.0 L358.1,1385.0 L358.7,1376.0 L359.3,1391.5 L359.9,1376.0 L360.5,1376.0 L361.1,1391.5 L361.7,1391.5 L362.3,1391.5 L362.9,1376.0 L363.5,1376.0 L364.1,1391.5 L364.7,1391.5 L365.3,1391.5 L365.9,1376.0 L366.5,1376.0 L367.1,1391.5 L367.7,1391.5 L368.3,1376.0 L368.9,1376.0 L369.5,1376.0 L370.1,1376.0 L370.7,1376.0 L371.3,1391.5 L371.9,1391.5 L372.5,1376.0 L373.1,1376.0 L373.7,1376.0 L374.3,1391.5 L374.9,1385.0 L375.5,1385.0 L376.1,1401.0 L376.7,1401.0 L377.3,1376.0 L377.9,1376.0 L378.5,1391.5 L379.1,1391.5 L379.7,1385.0 L380.3,1391.5 L380.9,1376.0 L381.5,1376.0 L382.1,1376.0 L382.7,1391.5 L383.3,1376.0 L383.9,1385.0 L384.5,1385.0 L385.1,1391.5 L385.7,1391.5 L386.3,1391.5 L386.9,1376.0 L387.5,1376.0 L388.1,1391.5 L388.7,1391.5 L389.3,1376.0 L389.9,1376.0 L390.5,1385.0 L391.1,1376.0 L391.7,1376.0 L392.3,1391.5 L392.9,1391.5 L393.5,1385.0 L394.1,1391.5 L394.7,1391.5 L395.3,1391.5 L395.9,1391.5 L396.5,1391.5 L397.1,1391.5 L397.7,1391.5 L398.3,1376.0 L398.9,1376.0 L399.5,1391.5 L400.1,1391.5 L400.7,1391.5 L401.3,1391.5 L401.9,1391.5 L402.5,1385.0 L403.1,1385.0 L403.7,1391.5 L404.3,1391.5 L404.9,1391.5 L405.5,1391.5 L406.1,1391.5 L406.7,1376.0 L407.3,1391.5 L407.9,1376.0 L408.5,1376.0 L409.1,1376.0 L409.7,1391.5 L410.3,1391.5 L410.9,1376.0 L411.5,1376.0 L412.1,1376.0 L412.7,1376.0 L413.3,1391.5 L413.9,1391.5 L414.5,1391.5 L415.1,1376.0 L415.7,1376.0 L416.3,1376.0 L416.9,1391.5 L417.5,1391.5 L418.1,1391.5 L418.7,1376.0 L419.3,1391.5 L419.9,1385.0 L420.5,1385.0 L421.1,1391.5 L421.7,1391.5 L422.3,1376.0 L422.9,1376.0 L423.5,1391.5 L424.1,1391.5 L424.7,1391.5 L425.3,1376.0 L425.9,1376.0 L426.5,1376.0 L427.1,1391.5 L427.7,1376.0 L428.3,1376.0 L428.9,1391.5 L429.5,1391.5 L430.1,1376.0 L430.7,1391.5 L431.3,1376.0 L431.9,1385.0 L432.5,1385.0 L433.1,1391.5 L433.7,1391.5 L434.3,1391.5 L434.9,1391.5 L435.5,1391.5 L436.1,1391.5 L436.7,1391.5 L437.3,1376.0 L437.9,1391.5 L438.5,1391.5 L439.1,1391.5 L439.7,1391.5 L440.3,1391.5 L440.9,1385.0 L441.5,1376.0 L442.1,1376.0 L442.7,1385.0 L443.3,1385.0 L443.9,1376.0 L444.5,1385.0 L445.1,1385.0 L445.7,1391.5 L446.3,1391.5 L446.9,1391.5 L447.5,1376.0 L448.1,1376.0 L448.7,1391.5 L449.3,1391.5 L449.9,1391.5 L450.5,1391.5 L451.1,1391.5 L451.7,1376.0 L452.3,1376.0 L452.9,1376.0 L453.5,1391.5 L454.1,1385.0 L454.7,1385.0 L455.3,1401.0 L455.9,1401.0 L456.5,1391.5 L457.1,1391.5 L457.7,1376.0 L458.3,1391.5 L458.9,1391.5 L459.5,1376.0 L460.1,1376.0 L460.7,1376.0 L461.3,1391.5 L461.9,1391.5 L462.5,1376.0 L463.1,1376.0 L463.7,1376.0 L464.3,1391.5 L464.9,1391.5 L465.5,1391.5 L466.1,1391.5 L466.7,1391.5 L467.3,1391.5 L467.9,1391.5 L468.5,1391.5 L469.1,1391.5 L469.7,1391.5 L470.3,1391.5 L470.9,1376.0 L471.5,1376.0 L472.1,1376.0 L472.7,1376.0 L473.3,1376.0 L473.9,1401.0 L474.5,1391.5 L475.1,1391.5 L475.7,1376.0 L476.3,1376.0 L476.9,1391.5 L477.5,1376.0 L478.1,1385.0 L478.7,1385.0 L479.3,1376.0 L479.9,1376.0 L480.5,1376.0 L481.1,1376.0 L481.7,1391.5 L482.3,1391.5 L482.9,1391.5 L483.5,1391.5 L484.1,1376.0 L484.7,1376.0 L485.3,1376.0 L485.9,1391.5 L486.5,1391.5 L487.1,1385.0 L487.7,1385.0 L488.3,1391.5 L488.9,1391.5 L489.5,1401.0 L490.1,1376.0 L490.7,1376.0 L491.3,1376.0 L491.9,1391.5 L492.5,1391.5 L493.1,1391.5 L493.7,1376.0 L494.3,1376.0 L494.9,1376.0 L495.5,1376.0 L496.1,1391.5 L496.7,1385.0 L497.3,1391.5 L497.9,1391.5 L498.5,1391.5 L499.1,1391.5 L499.7,1391.5 L500.3,1376.0 L500.9,1391.5 L501.5,1376.0 L502.1,1376.0 L502.7,1376.0 L503.3,1376.0 L503.9,1385.0 L504.5,1376.0 L505.1,1391.5 L505.7,1391.5 L506.3,1391.5 L506.9,1391.5 L507.5,1376.0 L508.1,1391.5 L508.7,1376.0 L509.3,1376.0 L509.9,1391.5 L510.5,1385.0 L511.1,1376.0 L511.7,1376.0 L512.3,1391.5 L512.9,1401.0 L513.5,1376.0 L514.1,1376.0 L514.7,1376.0 L515.3,1376.0 L515.9,1376.0 L516.5,1391.5 L517.1,1391.5 L517.7,1385.0 L518.3,1391.5 L518.9,1391.5 L519.5,1376.0 L520.1,1391.5 L520.7,1391.5 L521.3,1376.0 L521.9,1376.0 L522.5,1376.0 L523.1,1376.0 L523.7,1376.0 L524.3,1376.0 L524.9,1391.5 L525.5,1391.5 L526.1,1391.5 L526.7,1376.0 L527.3,1391.5 L527.9,1391.5 L528.5,1376.0 L529.1,1376.0 L529.7,1376.0 L530.3,1376.0 L530.9,1376.0 L531.5,1385.0 L532.1,1385.0 L532.7,1376.0 L533.3,1376.0 L533.9,1376.0 L534.5,1376.0 L535.1,1391.5 L535.7,1391.5 L536.3,1376.0 L536.9,1376.0 L537.5,1376.0 L538.1,1376.0 L538.7,1376.0 L539.3,1376.0 L539.9,1376.0 L540.5,1376.0 L541.1,1376.0 L541.7,1376.0 L542.3,1385.0 L542.9,1376.0 L543.5,1376.0 L544.1,1391.5 L544.7,1391.5 L545.3,1391.5 L545.9,1391.5 L546.5,1376.0 L547.1,1376.0 L547.7,1376.0 L548.3,1376.0 L548.9,1376.0 L549.5,1376.0 L550.1,1376.0 L550.7,1376.0 L551.3,1391.5 L551.9,1391.5 L552.5,1376.0 L553.1,1376.0 L553.7,1376.0 L554.3,1376.0 L554.9,1391.5 L555.5,1391.5 L556.1,1391.5 L556.7,1391.5 L557.3,1391.5 L557.9,1376.0 L558.5,1376.0 L559.1,1376.0 L559.7,1376.0 L560.3,1376.0 L560.9,1376.0 L561.5,1376.0 L562.1,1391.5 L562.7,1391.5 L563.3,1376.0 L563.9,1376.0 L564.5,1391.5 L565.1,1385.0 L565.7,1376.0 L566.3,1376.0 L566.9,1376.0 L567.5,1385.0 L568.1,1376.0 L568.7,1391.5 L569.3,1391.5 L569.9,1385.0 L570.5,1385.0 L571.1,1376.0 L571.7,1376.0 L572.3,1376.0 L572.9,1391.5 L573.5,1376.0 L574.1,1391.5 L574.7,1391.5 L575.3,1391.5 L575.9,1391.5 L576.5,1391.5 L577.1,1391.5 L577.7,1391.5 L578.3,1391.5 L578.9,1385.0 L579.5,1376.0 L580.1,1401.0 L580.7,1401.0 L581.3,1376.0 L581.9,1376.0 L582.5,1391.5 L583.1,1391.5 L583.7,1385.0 L584.3,1391.5 L584.9,1391.5 L585.5,1376.0 L586.1,1391.5 L586.7,1391.5 L587.3,1391.5 L587.9,1391.5 L588.5,1391.5 L589.1,1391.5 L589.7,1376.0 L590.3,1391.5 L590.9,1391.5 L591.5,1376.0 L592.1,1376.0 L592.7,1376.0 L593.3,1376.0 L593.9,1391.5 L594.5,1391.5 L595.1,1376.0 L595.7,1376.0 L596.3,1376.0 L596.9,1376.0 L597.5,1391.5 L598.1,1391.5 L598.7,1391.5 L599.3,1385.0 L599.9,1385.0 L600.5,1376.0 L601.1,1376.0 L601.7,1385.0 L602.3,1385.0 L602.9,1376.0 L603.5,1376.0 L604.1,1391.5 L604.7,1391.5 L605.3,1391.5 L605.9,1391.5 L606.5,1391.5 L607.1,1391.5 L607.7,1391.5 L608.3,1391.5 L608.9,1391.5 L609.5,1391.5 L610.1,1385.0 L610.7,1376.0 L611.3,1376.0 L611.9,1385.0 L612.5,1385.0 L613.1,1376.0 L613.7,1376.0 L614.3,1376.0 L614.9,1391.5 L615.5,1391.5 L616.1,1391.5 L616.7,1391.5 L617.3,1376.0 L617.9,1376.0 L618.5,1376.0 L619.1,1376.0 L619.7,1385.0 L620.3,1385.0 L620.9,1376.0 L621.5,1376.0 L622.1,1391.5 L622.7,1376.0 L623.3,1376.0 L623.9,1376.0 L624.5,1391.5 L625.1,1391.5 L625.7,1391.5 L626.3,1391.5 L626.9,1376.0 L627.5,1376.0 L628.1,1376.0 L628.7,1385.0 L629.3,1385.0 L629.9,1376.0 L630.5,1376.0 L631.1,1376.0 L631.7,1391.5 L632.3,1391.5 L632.9,1391.5 L633.5,1376.0 L634.1,1376.0 L634.7,1391.5 L635.3,1391.5 L635.9,1385.0 L636.5,1385.0 L637.1,1376.0 L637.7,1376.0 L638.3,1376.0 L638.9,1391.5 L639.5,1391.5 L640.1,1391.5 L640.7,1391.5 L641.3,1385.0 L641.9,1376.0 L642.5,1376.0 L643.1,1391.5 L643.7,1391.5 L644.3,1376.0 L644.9,1376.0 L645.5,1376.0 L646.1,1376.0 L646.7,1391.5 L647.3,1391.5 L647.9,1376.0 L648.5,1376.0 L649.1,1376.0 L649.7,1376.0 L650.3,1391.5 L650.9,1391.5 L651.5,1376.0 L652.1,1391.5 L652.7,1391.5 L653.3,1385.0 L653.9,1391.5 L654.5,1385.0 L655.1,1376.0 L655.7,1376.0 L656.3,1376.0 L656.9,1376.0 L657.5,1376.0 L658.1,1376.0 L658.7,1391.5 L659.3,1391.5 L659.9,1391.5 L660.5,1391.5 L661.1,1376.0 L661.7,1391.5 L662.3,1391.5 L662.9,1391.5 L663.5,1391.5 L664.1,1391.5 L664.7,1391.5 L665.3,1391.5 L665.9,1376.0 L666.5,1391.5 L667.1,1391.5 L667.7,1376.0 L668.3,1376.0 L668.9,1391.5 L669.5,1391.5 L670.1,1376.0 L670.7,1391.5 L671.3,1376.0 L671.9,1376.0 L672.5,1385.0 L673.1,1385.0 L673.7,1401.0 L674.3,1401.0 L674.9,1391.5 L675.5,1391.5 L676.1,1376.0 L676.7,1385.0 L677.3,1385.0 L677.9,1376.0 L678.5,1391.5 L679.1,1376.0 L679.7,1376.0 L680.3,1376.0 L680.9,1391.5 L681.5,1391.5 L682.1,1376.0 L682.7,1376.0 L683.3,1376.0 L683.9,1391.5 L684.5,1376.0 L685.1,1376.0 L685.7,1391.5 L686.3,1391.5 L686.9,1391.5 L687.5,1376.0 L688.1,1376.0 L688.7,1376.0 L689.3,1376.0 L689.9,1391.5 L690.5,1385.0 L691.1,1401.0 L691.7,1401.0 L692.3,1391.5 L692.9,1391.5 L693.5,1376.0 L694.1,1391.5 L694.7,1376.0 L695.3,1391.5 L695.9,1391.5 L696.5,1376.0 L697.1,1376.0 L697.7,1376.0 L698.3,1391.5 L698.9,1401.0 L699.5,1401.0 L700.1,1385.0 L700.7,1385.0 L701.3,1391.5 L701.9,1391.5 L702.5,1391.5 L703.1,1385.0 L703.7,1391.5 L704.3,1391.5 L704.9,1385.0 L705.5,1385.0 L706.1,1391.5 L706.7,1391.5 L707.3,1391.5 L707.9,1391.5 L708.5,1376.0 L709.1,1376.0 L709.7,1391.5 L710.3,1385.0 L710.9,1376.0 L711.5,1376.0 L712.1,1376.0 L712.7,1391.5 L713.3,1385.0 L713.9,1376.0 L714.5,1391.5 L715.1,1391.5 L715.7,1391.5 L716.3,1391.5 L716.9,1391.5 L717.5,1391.5 L718.1,1391.5 L718.7,1376.0 L719.3,1376.0 L719.9,1376.0 L720.5,1391.5 L721.1,1391.5 L721.7,1391.5 L722.3,1376.0 L722.9,1376.0 L723.5,1391.5 L724.1,1391.5 L724.7,1376.0 L725.3,1376.0 L725.9,1376.0 L726.5,1401.0 L727.1,1401.0 L727.7,1376.0 L728.3,1391.5 L728.9,1376.0 L729.5,1376.0 L730.1,1385.0 L730.7,1376.0 L731.3,1376.0 L731.9,1376.0 L732.5,1376.0 L733.1,1391.5 L733.7,1376.0 L734.3,1376.0 L734.9,1391.5 L735.5,1391.5 L736.1,1401.0 L736.7,1376.0 L737.3,1391.5 L737.9,1391.5 L738.5,1391.5 L739.1,1391.5 L739.7,1391.5 L740.3,1376.0 L740.9,1376.0 L741.5,1391.5 L742.1,1376.0 L742.7,1376.0 L743.3,1376.0 L743.9,1376.0 L744.5,1376.0 L745.1,1391.5 L745.7,1391.5 L746.3,1385.0 L746.9,1385.0 L747.5,1391.5 L748.1,1391.5 L748.7,1391.5 L749.3,1391.5 L749.9,1391.5 L750.5,1391.5 L751.1,1391.5 L751.7,1391.5 L752.3,1391.5 L752.9,1385.0 L753.5,1385.0 L754.1,1385.0 L754.7,1391.5 L755.3,1391.5 L755.9,1376.0 L756.5,1391.5 L757.1,1391.5 L757.7,1391.5 L758.3,1391.5 L758.9,1391.5 L759.5,1391.5 L760.1,1391.5 L760.7,1376.0 L761.3,1376.0 L761.9,1376.0 L762.5,1376.0 L763.1,1376.0 L763.7,1376.0 L764.3,1376.0 L764.9,1391.5 L765.5,1385.0 L766.1,1385.0 L766.7,1385.0 L767.3,1376.0 L767.9,1376.0 L768.5,1391.5 L769.1,1391.5 L769.7,1391.5 L770.3,1385.0 L770.9,1385.0 L771.5,1391.5 L772.1,1391.5 L772.7,1391.5 L773.3,1391.5 L773.9,1376.0 L774.5,1401.0 L775.1,1391.5 L775.7,1376.0 L776.3,1391.5 L776.9,1391.5 L777.5,1391.5 L778.1,1391.5 L778.7,1391.5 L779.3,1391.5 L779.9,1391.5 L780.5,1391.5 L781.1,1391.5 L781.7,1376.0 L782.3,1376.0 L782.9,1391.5 L783.5,1376.0 L784.1,1376.0 L784.7,1376.0 L785.3,1391.5 L785.9,1391.5 L786.5,1391.5 L787.1,1391.5 L787.7,1391.5 L788.3,1385.0 L788.9,1376.0 L789.5,1376.0 L790.1,1376.0 L790.7,1376.0 L791.3,1376.0 L791.9,1376.0 L792.5,1391.5 L793.1,1376.0 L793.7,1376.0 L794.3,1391.5 L794.9,1391.5 L795.5,1385.0 L796.1,1385.0 L796.7,1391.5 L797.3,1391.5 L797.9,1376.0 L798.5,1376.0 L799.1,1385.0 L799.7,1376.0 L800.3,1376.0 L800.9,1376.0 L801.5,1391.5 L802.1,1391.5 L802.7,1391.5 L803.3,1391.5 L803.9,1391.5 L804.5,1391.5 L805.1,1391.5 L805.7,1391.5 L806.3,1376.0 L806.9,1376.0 L807.5,1391.5 L808.1,1391.5 L808.7,1391.5 L809.3,1391.5 L809.9,1376.0 L810.5,1376.0 L811.1,1385.0 L811.7,1385.0 L812.3,1391.5 L812.9,1391.5 L813.5,1391.5 L814.1,1391.5 L814.7,1391.5 L815.3,1391.5 L815.9,1376.0 L816.5,1376.0 L817.1,1391.5 L817.7,1391.5 L818.3,1391.5 L818.9,1376.0 L819.5,1376.0 L820.1,1385.0 L820.7,1385.0 L821.3,1376.0 L821.9,1391.5 L822.5,1376.0 L823.1,1385.0 L823.7,1391.5 L824.3,1391.5 L824.9,1376.0 L825.5,1376.0 L826.1,1376.0 L826.7,1376.0 L827.3,1376.0 L827.9,1376.0 L828.5,1376.0 L829.1,1391.5 L829.7,1391.5 L830.3,1391.5 L830.9,1376.0 L831.5,1391.5 L832.1,1385.0 L832.7,1391.5 L833.3,1391.5 L833.9,1376.0 L834.5,1376.0 L835.1,1385.0 L835.7,1385.0 L836.3,1376.0 L836.9,1376.0 L837.5,1376.0 L838.1,1376.0 L838.7,1376.0 L839.3,1376.0 L839.9,1391.5 L840.5,1391.5 L841.1,1391.5 L841.7,1391.5 L842.3,1401.0 L842.9,1391.5 L843.5,1391.5 L844.1,1401.0 L844.7,1391.5 L845.3,1391.5 L845.9,1385.0 L846.5,1376.0 L847.1,1391.5 L847.7,1391.5 L848.3,1376.0 L848.9,1391.5 L849.5,1385.0 L850.1,1376.0 L850.7,1376.0 L851.3,1376.0 L851.9,1376.0 L852.5,1391.5 L853.1,1391.5 L853.7,1385.0 L854.3,1385.0 L854.9,1391.5 L855.5,1385.0 L856.1,1376.0 L856.7,1376.0 L857.3,1391.5 L857.9,1391.5 L858.5,1391.5 L859.1,1376.0 L859.7,1376.0 L860.3,1391.5 L860.9,1391.5 L861.5,1385.0 L862.1,1385.0 L862.7,1376.0 L863.3,1391.5 L863.9,1376.0 L864.5,1376.0 L865.1,1391.5 L865.7,1376.0 L866.3,1385.0 L866.9,1385.0 L867.5,1391.5 L868.1,1391.5 L868.7,1391.5 L869.3,1391.5 L869.9,1391.5 L870.5,1376.0 L871.1,1385.0 L871.7,1385.0 L872.3,1385.0 L872.9,1385.0 L873.5,1376.0 L874.1,1376.0 L874.7,1376.0 L875.3,1391.5 L875.9,1391.5 L876.5,1376.0 L877.1,1376.0 L877.7,1391.5 L878.3,1391.5 L878.9,1376.0 L879.5,1376.0 L880.1,1391.5 L880.7,1391.5 L881.3,1376.0 L881.9,1376.0 L882.5,1376.0 L883.1,1376.0 L883.7,1376.0 L884.3,1376.0 L884.9,1376.0 L885.5,1391.5 L886.1,1391.5 L886.7,1376.0 L887.3,1376.0 L887.9,1391.5 L888.5,1391.5 L889.1,1391.5 L889.7,1391.5 L890.3,1391.5 L890.9,1391.5 L891.5,1391.5 L892.1,1376.0 L892.7,1376.0 L893.3,1376.0 L893.9,1391.5 L894.5,1391.5 L895.1,1376.0 L895.7,1376.0 L896.3,1401.0 L896.9,1391.5 L897.5,1391.5 L898.1,1391.5 L898.7,1391.5 L899.3,1376.0 L899.9,1391.5 L900.5,1391.5 L901.1,1391.5 L901.7,1391.5 L902.3,1391.5 L902.9,1391.5 L903.5,1376.0 L904.1,1376.0 L904.7,1391.5 L905.3,1385.0 L905.9,1391.5 L906.5,1391.5 L907.1,1391.5 L907.7,1391.5 L908.3,1376.0 L908.9,1391.5 L909.5,1391.5 L910.1,1391.5 L910.7,1391.5 L911.3,1376.0 L911.9,1376.0 L912.5,1391.5 L913.1,1391.5 L913.7,1391.5 L914.3,1376.0 L914.9,1391.5 L915.5,1376.0 L916.1,1376.0 L916.7,1385.0 L917.3,1376.0 L917.9,1391.5 L918.5,1391.5 L919.1,1391.5 L919.7,1385.0 L920.3,1376.0 L920.9,1376.0 L921.5,1376.0 L922.1,1376.0 L922.7,1391.5 L923.3,1391.5 L923.9,1376.0 L924.5,1376.0 L925.1,1391.5 L925.7,1391.5 L926.3,1391.5 L926.9,1391.5 L927.5,1391.5 L928.1,1391.5 L928.7,1391.5 L929.3,1376.0 L929.9,1391.5 L930.5,1391.5 L931.1,1391.5 L931.7,1391.5 L932.3,1391.5 L932.9,1391.5 L933.5,1376.0 L934.1,1391.5 L934.7,1376.0 L935.3,1376.0 L935.9,1391.5 L936.5,1391.5 L937.1,1391.5 L937.7,1401.0 L938.3,1401.0 L938.9,1385.0 L939.5,1385.0 L940.1,1391.5 L940.7,1376.0 L941.3,1376.0 L941.9,1391.5 L942.5,1376.0 L943.1,1376.0 L943.7,1376.0 L944.3,1391.5 L944.9,1391.5 L945.5,1391.5 L946.1,1385.0 L946.7,1385.0 L947.3,1376.0 L947.9,1391.5 L948.5,1376.0 L949.1,1376.0 L949.7,1376.0 L950.3,1376.0 L950.9,1391.5 L951.5,1391.5 L952.1,1391.5 L952.7,1376.0 L953.3,1401.0 L953.9,1376.0 L954.5,1376.0 L955.1,1376.0 L955.7,1391.5 L956.3,1391.5 L956.9,1391.5 L957.5,1391.5 L958.1,1391.5 L958.7,1391.5 L959.3,1376.0 L959.9,1391.5 L960.5,1391.5 L961.1,1391.5 L961.7,1376.0 L962.3,1391.5 L962.9,1376.0 L963.5,1391.5 L964.1,1391.5 L964.7,1391.5 L965.3,1391.5 L965.9,1376.0 L966.5,1391.5 L967.1,1391.5 L967.7,1376.0 L968.3,1376.0 L968.9,1391.5 L969.5,1391.5 L970.1,1385.0 L970.7,1385.0 L971.3,1391.5 L971.9,1391.5 L972.5,1391.5 L973.1,1391.5 L973.7,1376.0 L974.3,1391.5 L974.9,1376.0 L975.5,1385.0 L976.1,1376.0 L976.7,1376.0 L977.3,1391.5 L977.9,1391.5 L978.5,1376.0 L979.1,1376.0 L979.7,1376.0 L980.3,1376.0 L980.9,1385.0 L981.5,1391.5 L982.1,1391.5 L982.7,1376.0 L983.3,1391.5 L983.9,1391.5 L984.5,1376.0 L985.1,1376.0 L985.7,1376.0 L986.3,1376.0 L986.9,1376.0 L987.5,1385.0 L988.1,1385.0 L988.7,1376.0 L989.3,1376.0 L989.9,1376.0 L990.5,1385.0 L991.1,1385.0 L991.7,1391.5 L992.3,1376.0 L992.9,1385.0 L993.5,1376.0 L994.1,1376.0 L994.7,1376.0 L995.3,1391.5 L995.9,1385.0 L996.5,1391.5 L997.1,1391.5 L997.7,1391.5 L998.3,1391.5 L998.9,1391.5 L999.5,1391.5 L1000.1,1391.5 L1000.7,1391.5 L1001.3,1376.0 L1001.9,1376.0 L1002.5,1391.5 L1003.1,1391.5 L1003.7,1376.0 L1004.3,1376.0 L1004.9,1376.0 L1005.5,1376.0 L1006.1,1376.0 L1006.7,1376.0 L1007.3,1376.0 L1007.9,1376.0 L1008.5,1376.0 L1009.1,1376.0 L1009.7,1376.0 L1010.3,1376.0 L1010.9,1391.5 L1011.5,1376.0 L1012.1,1376.0 L1012.7,1391.5 L1013.3,1391.5 L1013.9,1391.5 L1014.5,1391.5 L1015.1,1391.5 L1015.7,1376.0 L1016.3,1376.0 L1016.9,1391.5 L1017.5,1391.5 L1018.1,1391.5 L1018.7,1391.5 L1019.3,1391.5 L1019.9,1376.0 L1020.5,1376.0 L1021.1,1376.0 L1021.7,1376.0 L1022.3,1376.0 L1022.9,1376.0 L1023.5,1376.0 L1024.1,1376.0 L1024.7,1376.0 L1025.3,1391.5 L1025.9,1376.0 L1026.5,1376.0 L1027.1,1385.0 L1027.7,1376.0 L1028.3,1376.0 L1028.9,1391.5 L1029.5,1391.5 L1030.1,1391.5 L1030.7,1376.0 L1031.3,1385.0 L1031.9,1385.0 L1032.5,1376.0 L1033.1,1391.5 L1033.7,1401.0 L1034.3,1401.0 L1034.9,1376.0 L1035.5,1391.5 L1036.1,1391.5 L1036.7,1376.0 L1037.3,1376.0 L1037.9,1391.5 L1038.5,1391.5 L1039.1,1391.5 L1039.7,1391.5 L1040.3,1391.5 L1040.9,1391.5 L1041.5,1391.5 L1042.1,1391.5 L1042.7,1391.5 L1043.3,1391.5 L1043.9,1391.5 L1044.5,1391.5 L1045.1,1376.0 L1045.7,1401.0 L1046.3,1376.0 L1046.9,1376.0 L1047.5,1391.5 L1048.1,1391.5 L1048.7,1376.0 L1049.3,1376.0 L1049.9,1391.5 L1050.5,1391.5 L1051.1,1391.5 L1051.7,1385.0 L1052.3,1385.0 L1052.9,1376.0 L1053.5,1376.0 L1054.1,1376.0 L1054.7,1385.0 L1055.3,1385.0 L1055.9,1391.5 L1056.5,1391.5 L1057.1,1391.5 L1057.7,1401.0 L1058.3,1401.0 L1058.9,1385.0 L1059.5,1385.0 L1060.1,1376.0 L1060.7,1376.0 L1061.3,1385.0 L1061.9,1385.0 L1062.5,1385.0 L1063.1,1376.0 L1063.7,1376.0 L1064.3,1376.0 L1064.9,1376.0 L1065.5,1376.0 L1066.1,1376.0 L1066.7,1391.5 L1067.3,1385.0 L1067.9,1376.0 L1068.5,1376.0 L1069.1,1376.0 L1069.7,1391.5 L1070.3,1391.5 L1070.9,1391.5 L1071.5,1391.5 L1072.1,1376.0 L1072.7,1376.0 L1073.3,1391.5 L1073.9,1376.0 L1074.5,1376.0 L1075.1,1376.0 L1075.7,1391.5 L1076.3,1391.5 L1076.9,1391.5 L1077.5,1376.0 L1078.1,1376.0 L1078.7,1376.0 L1079.3,1376.0 L1079.9,1391.5 L1080.5,1391.5 L1081.1,1391.5 L1081.7,1376.0 L1082.3,1391.5 L1082.9,1391.5 L1083.5,1376.0 L1084.1,1376.0 L1084.7,1385.0 L1085.3,1391.5 L1085.9,1391.5 L1086.5,1391.5 L1087.1,1391.5 L1087.7,1376.0 L1088.3,1376.0 L1088.9,1376.0 L1089.5,1376.0 L1090.1,1391.5 L1090.7,1385.0 L1091.3,1391.5 L1091.9,1391.5 L1092.5,1391.5 L1093.1,1391.5 L1093.7,1391.5 L1094.3,1391.5 L1094.9,1391.5 L1095.5,1391.5 L1096.1,1376.0 L1096.7,1391.5 L1097.3,1391.5 L1097.9,1391.5 L1098.5,1376.0 L1099.1,1385.0 L1099.7,1376.0 L1100.3,1391.5 L1100.9,1391.5 L1101.5,1385.0 L1102.1,1376.0 L1102.7,1391.5 L1103.3,1376.0 L1103.9,1391.5 L1104.5,1391.5 L1105.1,1391.5 L1105.7,1391.5 L1106.3,1391.5 L1106.9,1391.5 L1107.5,1391.5 L1108.1,1391.5 L1108.7,1385.0 L1109.3,1385.0 L1109.9,1391.5 L1110.5,1391.5 L1111.1,1391.5 L1111.7,1376.0 L1112.3,1376.0 L1112.9,1376.0 L1113.5,1376.0 L1114.1,1376.0 L1114.7,1391.5 L1115.3,1391.5 L1115.9,1391.5 L1116.5,1401.0 L1117.1,1401.0 L1117.7,1385.0 L1118.3,1391.5 L1118.9,1391.5 L1119.5,1391.5 L1120.1,1391.5 L1120.7,1391.5 L1121.3,1391.5 L1121.9,1376.0 L1122.5,1376.0 L1123.1,1385.0 L1123.7,1385.0 L1124.3,1391.5 L1124.9,1391.5 L1125.5,1376.0 L1126.1,1376.0 L1126.7,1376.0 L1127.3,1376.0 L1127.9,1391.5 L1128.5,1376.0 L1129.1,1391.5 L1129.7,1391.5 L1130.3,1391.5 L1130.9,1391.5 L1131.5,1391.5 L1132.1,1391.5 L1132.7,1391.5 L1133.3,1391.5 L1133.9,1391.5 L1134.5,1376.0 L1135.1,1376.0 L1135.7,1391.5 L1136.3,1391.5 L1136.9,1391.5 L1137.5,1391.5 L1138.1,1391.5 L1138.7,1391.5 L1139.3,1376.0 L1139.9,1376.0 L1140.5,1376.0 L1141.1,1391.5 L1141.7,1391.5 L1142.3,1376.0 L1142.9,1376.0 L1143.5,1385.0 L1144.1,1385.0 L1144.7,1391.5 L1145.3,1391.5 L1145.9,1391.5 L1146.5,1376.0 L1147.1,1401.0 L1147.7,1376.0 L1148.3,1376.0 L1148.9,1401.0 L1149.5,1391.5 L1150.1,1376.0 L1150.7,1376.0 L1151.3,1376.0 L1151.9,1376.0 L1152.5,1401.0 L1153.1,1376.0 L1153.7,1391.5" stroke="#ffff00" stroke-width="1.1" fill="none"/>
<rect x="378.5" y="1309" width="2.5" height="160" fill="#fff"/>
</g>
<rect x="165.5" y="1308.5" width="989" height="161" fill="none" stroke="#262626" stroke-width="1"/>
<rect x="166" y="1388.50" width="10" height="1" fill="#262626"/>
<rect x="1144" y="1388.50" width="10" height="1" fill="#262626"/>
<text x="155.50" y="1395.40" font-size="22" font-weight="normal" text-anchor="end" fill="#262626" font-family='"Liberation Sans", sans-serif' >0</text>
<rect x="412.00" y="1309" width="1" height="10" fill="#262626"/>
<rect x="412.00" y="1459" width="1" height="10" fill="#262626"/>
<rect x="660.00" y="1309" width="1" height="10" fill="#262626"/>
<rect x="660.00" y="1459" width="1" height="10" fill="#262626"/>
<rect x="907.00" y="1309" width="1" height="10" fill="#262626"/>
<rect x="907.00" y="1459" width="1" height="10" fill="#262626"/>
<text x="155.50" y="1314.90" font-size="22" font-weight="normal" text-anchor="end" fill="#262626" font-family='"Liberation Sans", sans-serif' >100</text>
<text x="155.50" y="1475.90" font-size="22" font-weight="normal" text-anchor="end" fill="#262626" font-family='"Liberation Sans", sans-serif' >-100</text>
<text transform="translate(72.70,1389.40) rotate(-90)" font-size="21" font-weight="bold" text-anchor="middle" fill="#262626" font-family='"Liberation Sans", sans-serif' textLength="82.5" lengthAdjust="spacingAndGlyphs">Voltage</text>
<text transform="translate(97.00,1389.40) rotate(-90)" font-size="21" font-weight="bold" text-anchor="middle" fill="#262626" font-family='"Liberation Sans", sans-serif' textLength="50" lengthAdjust="spacingAndGlyphs">(mV)</text>
<text transform="translate(1169.60,1377.40) rotate(-90)" font-size="14.5" font-weight="bold" text-anchor="middle" fill="#000" font-family='"Liberation Sans", sans-serif' textLength="124" lengthAdjust="spacingAndGlyphs">Inboard VMon1</text>
<text transform="translate(1181.70,1377.40) rotate(-90)" font-size="14.5" font-weight="bold" text-anchor="middle" fill="#000" font-family='"Liberation Sans", sans-serif' textLength="124" lengthAdjust="spacingAndGlyphs">Inboard VMon2</text>
<text transform="translate(1193.20,1378.60) rotate(-90)" font-size="14.5" font-weight="bold" text-anchor="middle" fill="#000" font-family='"Liberation Sans", sans-serif' textLength="139" lengthAdjust="spacingAndGlyphs">Outboard VMon1</text>
<text transform="translate(1204.70,1378.60) rotate(-90)" font-size="14.5" font-weight="bold" text-anchor="middle" fill="#000" font-family='"Liberation Sans", sans-serif' textLength="139" lengthAdjust="spacingAndGlyphs">Outboard VMon2</text>
<rect x="1167" y="1462.5" width="2" height="15" fill="#0000ff"/>
<rect x="1179" y="1462.5" width="2" height="15" fill="#00ffff"/>
<rect x="1191" y="1462.5" width="2" height="15" fill="#00ff00"/>
<rect x="1202" y="1462.5" width="2" height="15" fill="#ffff00"/>
<text x="0" y="0" font-size="14.7" font-weight="bold" text-anchor="start" fill="#000" font-family='"Liberation Sans", sans-serif' transform="translate(41.30,1498.80) scale(1.17,1)" >Time:</text>
<text x="0" y="0" font-size="14.7" font-weight="bold" text-anchor="middle" fill="#000" font-family='"Liberation Sans", sans-serif' transform="translate(165.00,1498.80) scale(1.21,1)" >02:12:49</text>
<text x="0" y="0" font-size="14.7" font-weight="bold" text-anchor="middle" fill="#000" font-family='"Liberation Sans", sans-serif' transform="translate(412.50,1498.80) scale(1.21,1)" >02:18:21</text>
<text x="0" y="0" font-size="14.7" font-weight="bold" text-anchor="middle" fill="#000" font-family='"Liberation Sans", sans-serif' transform="translate(660.00,1498.80) scale(1.21,1)" >02:23:54</text>
<text x="0" y="0" font-size="14.7" font-weight="bold" text-anchor="middle" fill="#000" font-family='"Liberation Sans", sans-serif' transform="translate(907.50,1498.80) scale(1.21,1)" >02:29:26</text>
<text x="0" y="0" font-size="14.7" font-weight="bold" text-anchor="middle" fill="#000" font-family='"Liberation Sans", sans-serif' transform="translate(1154.70,1498.80) scale(1.21,1)" >02:34:59</text>
<text x="0" y="0" font-size="14.7" font-weight="bold" text-anchor="start" fill="#000" font-family='"Liberation Sans", sans-serif' transform="translate(41.30,1518.70) scale(1.17,1)" >Rad(km):</text>
<text x="0" y="0" font-size="14.7" font-weight="bold" text-anchor="middle" fill="#000" font-family='"Liberation Sans", sans-serif' transform="translate(165.00,1518.70) scale(1.21,1)" >6793.2</text>
<text x="0" y="0" font-size="14.7" font-weight="bold" text-anchor="middle" fill="#000" font-family='"Liberation Sans", sans-serif' transform="translate(412.50,1518.70) scale(1.21,1)" >6917.4</text>
<text x="0" y="0" font-size="14.7" font-weight="bold" text-anchor="middle" fill="#000" font-family='"Liberation Sans", sans-serif' transform="translate(660.00,1518.70) scale(1.21,1)" >7071.7</text>
<text x="0" y="0" font-size="14.7" font-weight="bold" text-anchor="middle" fill="#000" font-family='"Liberation Sans", sans-serif' transform="translate(907.50,1518.70) scale(1.21,1)" >7235.5</text>
<text x="0" y="0" font-size="14.7" font-weight="bold" text-anchor="middle" fill="#000" font-family='"Liberation Sans", sans-serif' transform="translate(1154.70,1518.70) scale(1.21,1)" >7389.1</text>
<text x="0" y="0" font-size="14.7" font-weight="bold" text-anchor="start" fill="#000" font-family='"Liberation Sans", sans-serif' transform="translate(41.30,1539.60) scale(1.17,1)" >Lat:</text>
<text x="0" y="0" font-size="14.7" font-weight="bold" text-anchor="middle" fill="#000" font-family='"Liberation Sans", sans-serif' transform="translate(165.00,1539.60) scale(1.21,1)" >41.8</text>
<text x="0" y="0" font-size="14.7" font-weight="bold" text-anchor="middle" fill="#000" font-family='"Liberation Sans", sans-serif' transform="translate(412.50,1539.60) scale(1.21,1)" >62.7</text>
<text x="0" y="0" font-size="14.7" font-weight="bold" text-anchor="middle" fill="#000" font-family='"Liberation Sans", sans-serif' transform="translate(660.00,1539.60) scale(1.21,1)" >79.6</text>
<text x="0" y="0" font-size="14.7" font-weight="bold" text-anchor="middle" fill="#000" font-family='"Liberation Sans", sans-serif' transform="translate(907.50,1539.60) scale(1.21,1)" >72.8</text>
<text x="0" y="0" font-size="14.7" font-weight="bold" text-anchor="middle" fill="#000" font-family='"Liberation Sans", sans-serif' transform="translate(1154.70,1539.60) scale(1.21,1)" >55.2</text>
<text x="0" y="0" font-size="14.7" font-weight="bold" text-anchor="start" fill="#000" font-family='"Liberation Sans", sans-serif' transform="translate(41.30,1560.80) scale(1.17,1)" >Lon:</text>
<text x="0" y="0" font-size="14.7" font-weight="bold" text-anchor="middle" fill="#000" font-family='"Liberation Sans", sans-serif' transform="translate(165.00,1560.80) scale(1.21,1)" >64.6</text>
<text x="0" y="0" font-size="14.7" font-weight="bold" text-anchor="middle" fill="#000" font-family='"Liberation Sans", sans-serif' transform="translate(412.50,1560.80) scale(1.21,1)" >73.0</text>
<text x="0" y="0" font-size="14.7" font-weight="bold" text-anchor="middle" fill="#000" font-family='"Liberation Sans", sans-serif' transform="translate(660.00,1560.80) scale(1.21,1)" >113.9</text>
<text x="0" y="0" font-size="14.7" font-weight="bold" text-anchor="middle" fill="#000" font-family='"Liberation Sans", sans-serif' transform="translate(907.50,1560.80) scale(1.21,1)" >-158.6</text>
<text x="0" y="0" font-size="14.7" font-weight="bold" text-anchor="middle" fill="#000" font-family='"Liberation Sans", sans-serif' transform="translate(1154.70,1560.80) scale(1.21,1)" >-142.4</text>
<text x="0" y="0" font-size="14.7" font-weight="bold" text-anchor="start" fill="#000" font-family='"Liberation Sans", sans-serif' transform="translate(41.30,1580.40) scale(1.17,1)" >Mlat:</text>
<text x="0" y="0" font-size="14.7" font-weight="bold" text-anchor="middle" fill="#000" font-family='"Liberation Sans", sans-serif' transform="translate(165.00,1580.40) scale(1.21,1)" >34.6</text>
<text x="0" y="0" font-size="14.7" font-weight="bold" text-anchor="middle" fill="#000" font-family='"Liberation Sans", sans-serif' transform="translate(412.50,1580.40) scale(1.21,1)" >54.5</text>
<text x="0" y="0" font-size="14.7" font-weight="bold" text-anchor="middle" fill="#000" font-family='"Liberation Sans", sans-serif' transform="translate(660.00,1580.40) scale(1.21,1)" >70.2</text>
<text x="0" y="0" font-size="14.7" font-weight="bold" text-anchor="middle" fill="#000" font-family='"Liberation Sans", sans-serif' transform="translate(907.50,1580.40) scale(1.21,1)" >71.1</text>
<text x="0" y="0" font-size="14.7" font-weight="bold" text-anchor="middle" fill="#000" font-family='"Liberation Sans", sans-serif' transform="translate(1154.70,1580.40) scale(1.21,1)" >57.5</text>
<text x="0" y="0" font-size="14.7" font-weight="bold" text-anchor="start" fill="#000" font-family='"Liberation Sans", sans-serif' transform="translate(41.30,1601.60) scale(1.17,1)" >Mlt:</text>
<text x="0" y="0" font-size="14.7" font-weight="bold" text-anchor="middle" fill="#000" font-family='"Liberation Sans", sans-serif' transform="translate(165.00,1601.60) scale(1.21,1)" >7.008</text>
<text x="0" y="0" font-size="14.7" font-weight="bold" text-anchor="middle" fill="#000" font-family='"Liberation Sans", sans-serif' transform="translate(412.50,1601.60) scale(1.21,1)" >7.852</text>
<text x="0" y="0" font-size="14.7" font-weight="bold" text-anchor="middle" fill="#000" font-family='"Liberation Sans", sans-serif' transform="translate(660.00,1601.60) scale(1.21,1)" >9.936</text>
<text x="0" y="0" font-size="14.7" font-weight="bold" text-anchor="middle" fill="#000" font-family='"Liberation Sans", sans-serif' transform="translate(907.50,1601.60) scale(1.21,1)" >14.154</text>
<text x="0" y="0" font-size="14.7" font-weight="bold" text-anchor="middle" fill="#000" font-family='"Liberation Sans", sans-serif' transform="translate(1154.70,1601.60) scale(1.21,1)" >16.322</text>
<text x="22.00" y="1639.80" font-size="14.7" font-weight="bold" text-anchor="start" fill="#000" font-family='"Liberation Sans", sans-serif' textLength="1228" lengthAdjust="spacingAndGlyphs" >MGF Quicklook using MGF_20200528_021248_023458_v2.1.0.lv2 on 24-Nov-2021 10:23:30 (calibration from cas_mgf_7day_cal_2020_05_22_v2.1.mat )</text>
</svg></body></html>
